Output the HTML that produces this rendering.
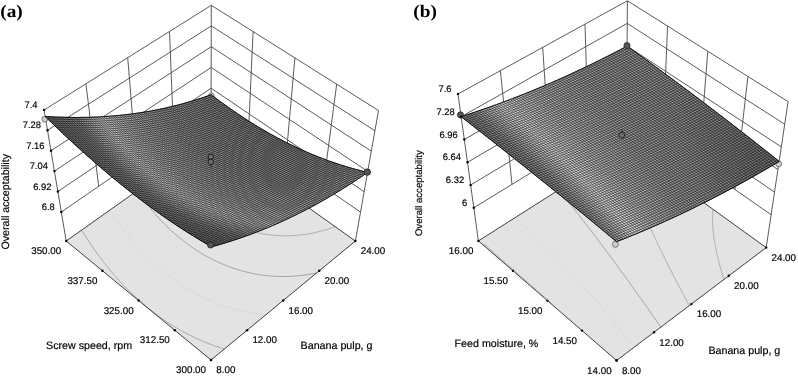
<!DOCTYPE html>
<html><head><meta charset="utf-8"><style>
html,body{margin:0;padding:0;background:#fff;}
svg{display:block;}
text{font-family:"Liberation Sans",Arial,sans-serif;fill:#000;stroke:#000;stroke-width:0.18px;text-rendering:geometricPrecision;}
.t{font-size:9.4px;}
.t2{font-size:9.8px;}
.t3{font-size:10.7px;}
.t4{font-size:10.7px;}
.t5{font-size:9.6px;}
.lab{font-family:"Liberation Serif","Times New Roman",serif;font-weight:bold;font-size:17.6px;stroke:none;}
</style></head><body>
<svg width="798" height="377" viewBox="0 0 798 377">
<rect width="798" height="377" fill="#fff"/>
<polygon points="211,360 355.4,241 211,138.5 66.2,241" fill="#e3e3e3" stroke="none"/>
<polyline points="224.4,349 222.3,348.3 220.2,347.7 218.1,347 216,346.3 213.5,345.4 211,344.5 209,343.7 207.1,343 205.1,342.2 202.3,341 200.3,340.2 198.4,339.3 195.9,338.2 193.8,337.1 192,336.3 189.3,334.9 187.5,334 184.8,332.6 183.1,331.6 180.5,330.2 178.7,329.2 176.2,327.7 174.5,326.7 172,325.1 169.6,323.5 167.9,322.5 165.5,320.9 163.1,319.2 161,317.7 159.2,316.5 156.9,314.8 154.6,313.1 152.4,311.3 150.1,309.6 147.9,307.8 145.7,306 143.6,304.2 141.5,302.3 139.4,300.5 137.3,298.6 135.2,296.7 133.8,295.4 131.8,293.5 129.8,291.6 127.9,289.7 126.4,288.2 124.6,286.4 122.7,284.4 121.3,282.8 119.6,281 117.7,279 116.5,277.6 114.7,275.6 113.5,274.2 111.7,272.1 110.4,270.5 108.8,268.6 107.5,267 105.9,265 104.8,263.6 103.1,261.5 102,260 100.4,257.8 99.3,256.4 98.2,254.9 96.6,252.7 95.6,251.2 94.4,249.6 93,247.5 91.9,246 90.9,244.5 89.4,242.3 88.4,240.7 87.5,239.2 86.3,237.4 85,235.4 84.1,233.9 83.1,232.3 82.2,230.8" fill="none" stroke="#909090" stroke-width="0.7"/>
<polyline points="265.9,314.8 263.4,314.5 261.3,314.3 259.6,314.1 257.2,313.8 254.8,313.4 252.4,313 250.4,312.7 248.4,312.3 246.4,311.9 244.3,311.5 242.1,311 239.9,310.4 237.7,309.9 235.5,309.3 233.4,308.7 231.3,308.1 228.9,307.4 226.4,306.5 224.1,305.8 222.1,305.1 220.1,304.3 218.1,303.6 215.5,302.5 213.3,301.6 211.4,300.8 209.2,299.9 206.8,298.8 205,297.9 202.3,296.6 200.5,295.7 197.9,294.3 196.1,293.4 193.5,291.9 191.8,291 189.3,289.5 187.6,288.5 185.2,287 182.8,285.4 180.7,284.1 178.8,282.8 176.4,281.2 174.1,279.5 171.9,277.9 169.6,276.2 167.4,274.5 165.2,272.7 163.1,271 160.9,269.2 158.8,267.4 156.7,265.6 154.7,263.7 152.7,261.9 151.3,260.6 149.4,258.7 147.4,256.8 145.6,255 144.2,253.6 142.3,251.6 141,250.2 139.3,248.3 137.4,246.3 136.2,245 134.5,242.9 133.3,241.6 131.6,239.5 130.4,238.1 128.7,236.1 127.6,234.7 126.2,232.9 124.9,231.1 123.8,229.7 122.2,227.6 121.1,226.1 120.1,224.7 118.5,222.5 117.5,221 116.5,219.6 115,217.5 114,215.9 113,214.4 112,212.9 110.7,210.7" fill="none" stroke="#d2d2d2" stroke-width="0.6"/>
<polyline points="316.7,272.9 314.7,273.3 312.3,273.8 309.8,274.2 307.8,274.6 306.1,274.8 303.5,275.2 301.1,275.5 299.5,275.7 296.9,275.9 294.8,276.1 292.7,276.2 290.3,276.4 288.5,276.4 285.9,276.5 284,276.5 281.7,276.5 279.5,276.5 277.6,276.4 274.9,276.3 273.1,276.2 271,276 268.5,275.8 266.3,275.6 264.6,275.4 262.3,275.1 259.9,274.8 257.5,274.4 255.2,274 253.2,273.6 251.2,273.2 249.1,272.7 247,272.2 244.8,271.6 242.5,271 240.2,270.4 237.8,269.7 235.8,269 233.7,268.3 231.7,267.7 229.8,266.9 227,265.9 224.9,265.1 223.1,264.3 220.7,263.3 218.4,262.3 216.6,261.4 213.9,260.1 212.2,259.2 209.6,257.9 207.8,257 205.3,255.6 203.6,254.6 201.2,253.1 198.7,251.6 196.5,250.2 194.8,249.1 192.4,247.5 190.2,245.9 187.9,244.3 185.7,242.6 183.5,240.9 181.3,239.2 179.2,237.5 177.1,235.7 175,234 173,232.2 171.7,231 169.7,229.1 167.8,227.3 165.8,225.4 164.6,224.1 162.7,222.2 161.4,220.9 159.7,219 157.9,217 156.7,215.7 154.9,213.7 153.8,212.3 152.2,210.5 151,208.9 149.8,207.6 148.2,205.5 147.1,204.1 145.7,202.2 144.5,200.6 143.5,199.2 142.1,197.2 140.9,195.6 139.9,194.2 138.9,192.6 137.5,190.5" fill="none" stroke="#888888" stroke-width="0.7"/>
<polyline points="335.1,226.6 333.1,227.4 331,228.1 328.9,228.8 326.8,229.5 324.6,230.1 322.4,230.7 320.1,231.3 317.8,231.9 315.5,232.4 313.6,232.9 311.7,233.2 309.5,233.7 307,234.1 304.7,234.4 303,234.6 300.6,234.9 298.2,235.2 296.6,235.3 293.8,235.5 292.1,235.6 289.5,235.7 287.7,235.8 285.1,235.8 283.5,235.8 280.8,235.7 278.8,235.6 276.9,235.5 274.3,235.3 272.1,235.1 270.3,234.9 268.2,234.6 265.8,234.3 263.4,233.9 261.1,233.5 258.9,233 256.7,232.5 254.5,232 252.3,231.5 250.2,230.9 248.2,230.3 246.1,229.7 244.1,229 242.1,228.4 239.4,227.4 237.3,226.6 235.4,225.8 233,224.8 230.8,223.8 229,223 226.4,221.7 224.6,220.9 222.1,219.5 220,218.4 217.9,217.2 215.5,215.7 213.1,214.3 211.6,213.3 209.2,211.7 207,210.2 204.8,208.6 202.6,206.9 200.4,205.3 198.3,203.6 196.3,201.9 194.4,200.3 192.9,198.9 190.9,197.2 189,195.3 187.7,194.1 185.8,192.3 184,190.4 182.8,189.1 181,187.2 179.8,185.9 178.1,184 177,182.7 175.3,180.7 174.2,179.3 173.1,177.9 171.5,175.9 170.5,174.6 169.3,173 167.9,171.1 166.9,169.7" fill="none" stroke="#999999" stroke-width="0.7"/>
<polygon points="211,360 355.4,241 211,138.5 66.2,241" fill="none" stroke="#2a2a2a" stroke-width="0.9"/>
<line x1="66.2" y1="241" x2="44.1" y2="110" stroke="#484848" stroke-width="0.9"/>
<line x1="211" y1="138.5" x2="211.3" y2="5.3" stroke="#484848" stroke-width="0.9"/>
<line x1="355.4" y1="241" x2="378.5" y2="110.5" stroke="#484848" stroke-width="0.9"/>
<polyline points="44.1,110 211.3,5.3 378.5,110.5" fill="none" stroke="#484848" stroke-width="0.9"/>
<polyline points="47.5,130.3 211.3,25.9 374.9,130.7" fill="none" stroke="#484848" stroke-width="0.9"/>
<polyline points="51,150.7 211.2,46.7 371.3,151.1" fill="none" stroke="#484848" stroke-width="0.9"/>
<polyline points="54.4,171.1 211.2,67.4 367.7,171.4" fill="none" stroke="#484848" stroke-width="0.9"/>
<polyline points="57.9,191.5 211.1,88.2 364.1,191.7" fill="none" stroke="#484848" stroke-width="0.9"/>
<polyline points="61.3,212 211.1,109 360.5,212.1" fill="none" stroke="#484848" stroke-width="0.9"/>
<line x1="98.7" y1="186.2" x2="85.9" y2="83.8" stroke="#484848" stroke-width="0.9"/>
<line x1="323.2" y1="186.3" x2="336.7" y2="84.2" stroke="#484848" stroke-width="0.9"/>
<line x1="136.2" y1="160.5" x2="127.7" y2="57.6" stroke="#484848" stroke-width="0.9"/>
<line x1="285.8" y1="160.5" x2="294.9" y2="57.9" stroke="#484848" stroke-width="0.9"/>
<line x1="173.6" y1="134.7" x2="169.5" y2="31.5" stroke="#484848" stroke-width="0.9"/>
<line x1="248.4" y1="134.7" x2="253.1" y2="31.6" stroke="#484848" stroke-width="0.9"/>
<circle cx="44.8" cy="119.1" r="3.0" fill="#cfcfcf" stroke="#505050" stroke-width="0.7"/>
<circle cx="211.3" cy="96.0" r="3.0" fill="#cfcfcf" stroke="#505050" stroke-width="0.7"/>
<polygon points="211.6,246.8 213.8,246.2 216,245.6 218.1,245 220.3,244.4 222.4,243.7 224.5,243.1 226.7,242.4 228.8,241.8 230.9,241.1 233,240.4 235.2,239.7 237.3,239 239.4,238.3 241.5,237.6 243.6,236.8 245.7,236.1 247.8,235.4 249.9,234.6 252,233.8 254,233 256.1,232.2 258.2,231.4 260.3,230.6 262.3,229.8 264.4,229 266.5,228.1 268.5,227.3 270.6,226.4 272.6,225.5 274.7,224.7 276.7,223.8 278.8,222.9 280.8,221.9 282.9,221 284.9,220.1 286.9,219.1 289,218.2 291,217.2 293,216.2 295.1,215.3 297.1,214.3 299.1,213.2 301.1,212.2 303.2,211.2 305.2,210.2 307.2,209.1 309.2,208 311.2,207 313.3,205.9 315.3,204.8 317.3,203.7 319.3,202.6 321.3,201.4 323.3,200.3 325.3,199.2 327.3,198 329.3,196.8 331.4,195.6 333.4,194.4 335.4,193.2 337.4,192 339.4,190.8 341.4,189.6 343.4,188.3 345.4,187.1 347.4,185.8 349.4,184.5 351.4,183.2 353.4,181.9 355.5,180.6 357.5,179.3 359.5,177.9 361.5,176.6 363.5,175.2 365.5,173.8 367.5,172.5 367.5,172.5 365.3,171.9 363.1,171.4 360.9,170.8 358.8,170.2 356.6,169.6 354.4,169 352.2,168.4 350.1,167.8 347.9,167.2 345.8,166.5 343.6,165.9 341.5,165.2 339.3,164.5 337.2,163.8 335.1,163.1 333,162.3 330.9,161.6 328.7,160.9 326.6,160.1 324.5,159.3 322.4,158.5 320.3,157.7 318.2,156.9 316.2,156.1 314.1,155.2 312,154.4 309.9,153.5 307.9,152.6 305.8,151.7 303.7,150.8 301.7,149.9 299.6,148.9 297.6,148 295.5,147 293.5,146.1 291.4,145.1 289.4,144.1 287.3,143.1 285.3,142 283.3,141 281.2,139.9 279.2,138.9 277.2,137.8 275.2,136.7 273.1,135.6 271.1,134.5 269.1,133.4 267.1,132.2 265.1,131 263.1,129.9 261.1,128.7 259.1,127.5 257.1,126.3 255,125.1 253,123.8 251,122.6 249,121.3 247,120 245,118.7 243,117.4 241,116.1 239,114.8 237,113.4 235.1,112.1 233.1,110.7 231.1,109.3 229.1,107.9 227.1,106.5 225.1,105.1 223.1,103.7 221.1,102.2 219.1,100.7 217.1,99.3 215.1,97.8 213.1,96.3 211.1,94.7 211.1,94.7 209.1,95.5 207.1,96.2 205.1,96.9 203.1,97.6 201.1,98.2 199,98.9 197,99.5 195,100.2 193,100.8 190.9,101.4 188.9,102 186.9,102.6 184.8,103.2 182.8,103.8 180.7,104.3 178.7,104.9 176.6,105.4 174.6,105.9 172.5,106.4 170.4,106.9 168.4,107.4 166.3,107.9 164.2,108.3 162.1,108.8 160,109.2 157.9,109.7 155.8,110.1 153.7,110.5 151.6,110.9 149.5,111.3 147.3,111.6 145.2,112 143.1,112.3 141,112.7 138.8,113 136.7,113.3 134.5,113.6 132.3,113.9 130.2,114.2 128,114.5 125.8,114.7 123.6,115 121.4,115.2 119.3,115.4 117,115.6 114.8,115.8 112.6,116 110.4,116.2 108.2,116.3 105.9,116.5 103.7,116.6 101.4,116.8 99.2,116.9 96.9,117 94.7,117.1 92.4,117.2 90.1,117.3 87.8,117.3 85.5,117.4 83.2,117.4 80.9,117.4 78.6,117.5 76.2,117.5 73.9,117.5 71.5,117.4 69.2,117.4 66.8,117.4 64.5,117.3 62.1,117.3 59.7,117.2 57.3,117.1 54.9,117 52.5,116.9 50.1,116.8 47.6,116.7 45.2,116.5 45.2,116.5 47.5,118.7 49.8,120.9 52,123.1 54.3,125.3 56.6,127.5 58.8,129.6 61.1,131.7 63.3,133.8 65.6,135.9 67.8,138 70.1,140.1 72.3,142.2 74.5,144.2 76.8,146.2 79,148.3 81.2,150.3 83.4,152.2 85.6,154.2 87.8,156.2 90.1,158.1 92.3,160.1 94.5,162 96.7,163.9 98.9,165.8 101.1,167.7 103.3,169.6 105.4,171.4 107.6,173.3 109.8,175.1 112,176.9 114.2,178.7 116.4,180.5 118.5,182.3 120.7,184.1 122.9,185.8 125.1,187.5 127.2,189.3 129.4,191 131.6,192.7 133.7,194.4 135.9,196 138.1,197.7 140.2,199.4 142.4,201 144.5,202.6 146.7,204.2 148.9,205.8 151,207.4 153.2,209 155.3,210.5 157.5,212.1 159.7,213.6 161.8,215.2 164,216.7 166.1,218.2 168.3,219.6 170.4,221.1 172.6,222.6 174.8,224 176.9,225.5 179.1,226.9 181.2,228.3 183.4,229.7 185.6,231.1 187.7,232.5 189.9,233.8 192.1,235.2 194.2,236.5 196.4,237.8 198.6,239.2 200.8,240.5 202.9,241.7 205.1,243 207.3,244.3 209.5,245.6 211.6,246.8" fill="#a0a0a0" stroke="none"/>
<path d="M254.9,125l-1.9-1.2 -1.9-1.2 -1.9-1.2 -1.9-1.2 -1.9-1.2 -1.9-1.3 -1.9-1.2 -1.9-1.3 -1.9-1.3 -1.9-1.3 -2-1.3 -1.9-1.3 -1.9-1.3 -1.9-1.4 -1.9-1.3 -1.9-1.4 -1.9-1.3 -1.9-1.4 -1.9-1.4 -1.9-1.4 1.4 1.6 1.6 1.5 1.6 1.5 1.6 1.5 1.7 1.4 1.7 1.5 1.8 1.4 1.8 1.4 1.8 1.3 1.9 1.3 1.9 1.3 1.9 1.3 2 1.2 2.1 1.2 2.1 1.2 2.1 1.2 1.9 .9 2.5 1.2 2.3 1 2.4 1z" fill="#8a8a8a" stroke="#8a8a8a" stroke-width="0.6"/>
<path d="M272.6,135.6l-1.7-1.2 -1.9-1.1 -1.9-1.1 -2-1.1 -1.9-1.1 -1.9-1.2 -1.9-1.1 -1.9-1.2 -1.9-1.1 -2.3-1 -2.3-1 -2.3-1.1 -2.2-1.1 -2.1-1.1 -2.1-1.2 -2.1-1.2 -2-1.2 -2-1.2 -1.9-1.3 -1.9-1.3 -1.8-1.4 -1.8-1.4 -1.8-1.4 -1.7-1.4 -1.7-1.4 -1.7-1.5 -1.6-1.5 -1.5-1.4 -1.6-1.7 -1.7-1.5 -1.9-1.4 -1.9-1.5 -2.5 .2 -1.9 .7 1 1.8 1.5 1.6 1.4 1.6 1.6 1.6 1.5 1.5 1.6 1.6 1.6 1.5 1.6 1.5 1.7 1.4 1.5 1.3 2 1.6 1.8 1.4 1.8 1.4 1.9 1.3 1.9 1.3 1.9 1.3 2 1.3 2 1.2 2.1 1.2 2.1 1.1 2.2 1.2 2.2 1 2.3 1.1 2.3 1 1.9 .8 2.1 .8 2.5 .9 2.5 .9 2.6 .8 2.7 .7 2.5 .7 2 .4 2 .5 1 .2z" fill="#8d8d8d" stroke="#8d8d8d" stroke-width="0.6"/>
<path d="M284.9,142l-1.8-1.1 -1.9-1 -1.9-1 -2-1 -1.9-1.1 -1.9-1 -2-.5 -2.7-.6 -2.8-.6 -2.7-.8 -2.4-.7 -1.9-.6 -2.5-.9 -2.5-.9 -2.4-1 -2.2-.9 -2.4-1.1 -2.3-1.1 -2.1-1.1 -2.2-1.1 -2.1-1.2 -2-1.2 -2-1.3 -2-1.2 -1.9-1.4 -1.9-1.3 -1.8-1.3 -1.8-1.4 -1.8-1.4 -1.7-1.5 -1.7-1.4 -1.7-1.5 -1.6-1.5 -1.6-1.5 -1.5-1.6 -1.5-1.5 -1.5-1.7 -1.5-1.6 -1.4-1.6 -2 0 -2 .6 -.3 2.3 1.5 1.6 1.4 1.6 1.5 1.6 1.6 1.6 1.5 1.6 1.6 1.5 1.6 1.5 1.7 1.5 1.7 1.5 1.7 1.4 1.6 1.4 1.9 1.5 1.9 1.4 1.8 1.3 1.9 1.3 2 1.3 2 1.3 2 1.2 2.1 1.2 2.1 1.2 2.1 1.2 2.2 1.1 2.3 1.1 2.3 1 2 .9 1.9 .8 2.5 .9 2.4 .9 2.6 .8 2.6 .8 2.7 .8 2.8 .7 2 .5 2.7 .5 2 .4 2 .3 2.1 .3 2.1 .3 2.1 .2 2.2 .2 1.1 .1z" fill="#8f8f8f" stroke="#8f8f8f" stroke-width="0.6"/>
<path d="M294.6,146.8l-1.7-1 -2-1 -1.9-.9 -2-1 -2.1-.9 -2.2-.2 -2.2-.2 -2.1-.2 -2.1-.3 -2-.3 -2-.4 -2.9-.6 -2.8-.6 -2.1-.5 -2.1-.6 -2.2-.6 -2.5-.8 -2.6-.9 -2.5-.9 -2.4-1 -2.4-1 -2.3-1 -2.2-1 -2.1-1.1 -2.3-1.2 -2.1-1.2 -1.9-1 -2.3-1.4 -2-1.2 -1.9-1.3 -1.9-1.4 -1.9-1.3 -1.9-1.4 -1.8-1.4 -1.7-1.4 -1.8-1.4 -1.7-1.5 -1.6-1.5 -1.7-1.5 -1.6-1.5 -1.5-1.6 -1.6-1.5 -1.5-1.6 -1.4-1.7 -1.5-1.6 -1.4-1.6 -2.6 .1 -1.9 .6 .5 2 1.4 1.7 1.4 1.6 1.5 1.6 1.4 1.5 1.7 1.7 1.5 1.6 1.6 1.5 1.7 1.5 1.6 1.5 1.7 1.5 1.8 1.5 1.7 1.4 1.8 1.4 1.8 1.4 1.9 1.4 1.9 1.3 2 1.3 1.9 1.3 2.1 1.2 2 1.3 2.1 1.2 2.2 1.1 2.2 1.2 2.2 1.1 2.3 1 2.3 1.1 2.4 1 2.4 .9 2.5 .9 2.5 .9 2.6 .8 2.5 .7 2 .6 2.2 .5 2 .5 2.4 .5 3 .6 2 .3 2 .3 2.1 .3 2.2 .2 2.2 .2 2.2 .2 2.3 .1 2.3 .1 2.4 0 2.5 0z" fill="#929292" stroke="#929292" stroke-width="0.6"/>
<path d="M303.1,150.7l-1.8-1 -1.9-.9 -2-.9 -1.9-.9 -2.1-.2 -2.4 0 -2.5 0 -2.3-.1 -2.2-.2 -2.2-.2 -2.2-.2 -2.1-.3 -2.1-.2 -2-.4 -2-.3 -2.5-.5 -2.4-.5 -2.8-.7 -2.7-.7 -2.5-.7 -2.4-.8 -2.1-.7 -2.5-.9 -2.4-.9 -2.4-1 -2.4-1 -2.3-1.1 -1.8-.9 -1.9-.9 -2.1-1.2 -2.2-1.1 -2.1-1.2 -2-1.3 -2-1.2 -2-1.3 -1.9-1.3 -1.9-1.4 -1.9-1.4 -1.8-1.4 -1.8-1.4 -1.7-1.4 -1.7-1.5 -1.7-1.5 -1.6-1.4 -1.7-1.6 -1.6-1.6 -1.6-1.5 -1.5-1.6 -1.5-1.6 -1.4-1.7 -1.5-1.6 -1.3-1.5 -2.1-1 -1.9 .6 -.4 2.3 1.4 1.7 1.4 1.6 1.5 1.7 1.5 1.6 1.5 1.6 1.6 1.6 1.5 1.5 1.7 1.6 1.6 1.5 1.7 1.5 1.7 1.5 1.7 1.5 1.8 1.4 1.8 1.4 1.8 1.4 1.9 1.4 1.9 1.3 1.9 1.4 2 1.2 2 1.3 2.1 1.3 2.1 1.2 2.1 1.2 2.2 1.1 1.9 1 1.8 .9 2.3 1 2.4 1 2.4 1 2.4 1 2.2 .8 2 .7 2.6 .8 2.6 .8 2.4 .7 2.1 .5 2 .5 1.9 .4 2.9 .6 2 .4 2 .3 2 .3 2.2 .3 2.2 .2 2 .2 2.4 .2 2 .1 2.6 .1 2.4 .1 2.5-.1 2 0 2.6-.1 2.4-.1 2.1-.2z" fill="#949494" stroke="#949494" stroke-width="0.6"/>
<path d="M310,154.1l-2.1-1.5 -2-.8 -1.9-.9 -2.2-.1 -2.7 .2 -2.6 .1 -2.5 0 -2.5 .1 -2.2-.1 -2.5-.1 -2.3-.1 -2.3-.2 -2.1-.2 -2.2-.2 -2.1-.3 -2.1-.3 -2-.3 -2-.4 -2.9-.6 -1.9-.4 -2-.5 -2.1-.5 -2.2-.6 -2.4-.7 -2.1-.7 -2.6-.9 -2.5-.9 -2.4-1 -2.4-1 -2.4-1 -2.3-1 -1.8-.9 -1.9-1 -2.2-1.1 -2.1-1.2 -2.1-1.2 -2.1-1.3 -2-1.3 -2-1.2 -1.9-1.4 -1.9-1.3 -1.9-1.4 -1.8-1.4 -1.8-1.4 -1.8-1.4 -1.7-1.5 -1.7-1.5 -1.7-1.5 -1.6-1.5 -1.7-1.6 -1.5-1.5 -1.6-1.6 -1.5-1.6 -1.5-1.6 -1.5-1.7 -1.4-1.6 -1.4-1.7 -1.4-1.7 -2.1 .6 -1.9 .6 .7 1.9 1.4 1.7 1.5 1.6 1.4 1.7 1.5 1.6 1.5 1.7 1.5 1.6 1.6 1.6 1.6 1.5 1.6 1.6 1.7 1.5 1.7 1.5 1.7 1.5 1.7 1.5 1.8 1.4 1.8 1.4 1.9 1.4 1.8 1.4 2 1.4 1.9 1.3 2 1.3 2 1.3 2.1 1.2 2 1.3 2.2 1.1 2.2 1.2 2.2 1.2 2.2 1.1 2.3 1 2.4 1.1 2.4 1 2.4 .9 2.5 1 2.5 .9 2.6 .8 2.7 .8 2.7 .8 2.5 .6 2 .5 2.1 .4 3 .6 2 .4 2 .3 2.1 .3 2.1 .2 2.2 .3 2.2 .2 2.2 .1 2.3 .2 2.3 0 2.5 .1 2.5 0 2.5-.1 2.6-.1 2.7-.1 2.6-.3 2.3-.2 2.1-.2 1.5-.2z" fill="#969696" stroke="#969696" stroke-width="0.6"/>
<path d="M317.7,156.8l-1.9-.9 -2-.8 -2-.8 -3.1-.1 -2.3 .3 -2.2 .2 -2.5 .2 -2.5 .2 -2.5 .1 -2.6 .1 -2.7 0 -2.6-.1 -2.4 0 -2-.2 -2.5-.1 -2.1-.2 -2.3-.3 -2.1-.2 -2.1-.3 -2-.3 -2-.4 -2-.4 -2.9-.6 -2.2-.5 -2-.5 -2.2-.6 -2.3-.7 -2.2-.7 -2.6-.8 -2.5-.9 -2.5-1 -2.4-1 -2.4-1 -2.4-1 -2.2-1.1 -2.3-1.1 -2.2-1.2 -2.1-1.1 -1.9-1.1 -2.3-1.4 -2.1-1.2 -2-1.3 -1.9-1.3 -2-1.4 -1.9-1.3 -1.8-1.4 -1.9-1.4 -1.8-1.5 -1.7-1.4 -1.8-1.5 -1.7-1.5 -1.7-1.5 -1.6-1.5 -1.6-1.6 -1.6-1.6 -1.6-1.6 -1.5-1.6 -1.5-1.6 -1.5-1.7 -1.4-1.6 -1.4-1.7 -1.4-1.7 -2.3-.8 -1.9 .6 .1 2.1 1.4 1.7 1.5 1.6 1.4 1.7 1.5 1.7 1.5 1.6 1.5 1.6 1.5 1.6 1.6 1.6 1.6 1.6 1.7 1.6 1.6 1.5 1.7 1.5 1.8 1.5 1.7 1.5 1.8 1.4 1.8 1.4 1.9 1.4 1.9 1.4 1.9 1.4 1.9 1.3 2 1.3 2 1.3 2.1 1.3 2.1 1.2 2.1 1.2 2.2 1.2 2.2 1.2 2.2 1.1 2.3 1.1 2.3 1 2.4 1 2.5 1 2.4 1 2.6 .9 2.5 .9 2.7 .8 2.7 .8 2.4 .7 2.1 .5 2 .4 2.9 .7 2 .4 2 .3 2 .3 2.1 .3 2.1 .3 2.2 .3 2.2 .2 2.2 .1 2.3 .2 2.3 .1 2.4 0 2.5 .1 2.1-.1 2.5 0 2.6-.2 2.4-.1 2.2-.2 2.6-.3 2.3-.2 2.3-.3 2.2-.4 2.1-.4 2-.3z" fill="#979797" stroke="#979797" stroke-width="0.6"/>
<path d="M323,159.5l-1.9-1.5 -2-.8 -2.3-.3 -2.1 .4 -2.2 .4 -2.3 .3 -2.3 .3 -2.3 .3 -2.4 .2 -2.4 .2 -2 .1 -2.6 .1 -2.6 .1 -2.5 0 -2-.1 -2.7-.1 -2.4-.1 -2.1-.1 -2.3-.2 -2.2-.3 -2.2-.2 -2.1-.3 -2-.3 -2-.4 -2-.3 -2-.4 -2.9-.7 -2.8-.7 -2.5-.6 -2-.6 -2.6-.8 -2.4-.8 -2-.7 -2.5-.9 -2.5-1 -2.4-1 -2.3-1 -2.4-1.1 -2-1 -2.5-1.2 -2.2-1.2 -2.1-1.2 -2.1-1.2 -2.1-1.2 -2.1-1.3 -2-1.3 -1.9-1.3 -2-1.4 -1.9-1.3 -1.8-1.4 -1.9-1.4 -1.8-1.5 -1.8-1.4 -1.7-1.5 -1.7-1.5 -1.7-1.5 -1.7-1.6 -1.6-1.5 -1.6-1.6 -1.6-1.6 -1.4-1.4 -1.6-1.8 -1.5-1.7 -1.5-1.6 -1.4-1.7 -1.4-1.7 -1.4-1.7 -2.3-.8 -2 .5 .4 2 1.4 1.8 1.4 1.7 1.4 1.6 1.5 1.7 1.5 1.7 1.5 1.6 1.5 1.6 1.6 1.6 1.6 1.6 1.6 1.6 1.6 1.6 1.7 1.5 1.7 1.5 1.8 1.5 1.7 1.5 1.8 1.4 1.9 1.5 1.8 1.4 1.9 1.4 1.9 1.3 2 1.4 2 1.3 2 1.3 2 1.3 2.1 1.2 2.2 1.2 2.1 1.2 2.2 1.2 2.3 1.1 2.3 1.1 2.3 1.1 2.4 1 2.4 1.1 1.9 .7 2.2 .8 2.5 1 2.6 .8 2.7 .9 2.5 .7 2 .5 2.3 .6 2 .5 2.4 .5 1.9 .4 2 .4 2.1 .3 2 .4 2.1 .2 2.2 .3 2.2 .2 2.2 .2 2.2 .2 2.3 .1 2.4 .1 2.4 .1 2.5 0 2 0 2.6-.1 2.5-.1 2.5-.2 2.2-.2 2.5-.3 2.3-.2 2.3-.3 2.2-.4 2.2-.3 2-.4 2.3-.5 2.1-.4 .7-.2z" fill="#999999" stroke="#999999" stroke-width="0.6"/>
<path d="M328.9,161.8l-1.8-1.5 -2-.8 -2.1 0 -2.8 .6 -2.1 .5 -2.2 .4 -2.2 .3 -2 .3 -2.5 .4 -2 .2 -2.6 .3 -2.4 .2 -2.5 .2 -2 .1 -2.6 0 -2.5 .1 -2.5 0 -2.3-.1 -2.5-.1 -2.3-.1 -2.2-.2 -2.2-.2 -2.2-.2 -2.2-.3 -2.1-.2 -2-.4 -2.1-.3 -2-.4 -1.9-.4 -2.4-.5 -2-.5 -2.1-.5 -2-.6 -2.4-.7 -2.1-.6 -2.6-.8 -2.6-.9 -2.5-1 -2.4-.9 -2.4-1.1 -2.2-.9 -2.5-1.2 -2.3-1.1 -2.3-1.1 -2.2-1.2 -2.1-1.2 -2.2-1.2 -1.8-1.1 -2.3-1.4 -2-1.3 -2-1.3 -2-1.4 -1.9-1.3 -1.9-1.4 -1.8-1.4 -1.9-1.5 -1.8-1.4 -1.7-1.5 -1.8-1.5 -1.6-1.4 -1.8-1.6 -1.6-1.6 -1.6-1.6 -1.6-1.6 -1.6-1.6 -1.4-1.5 -1.6-1.7 -1.5-1.7 -1.5-1.7 -1.4-1.6 -1.4-1.7 -1.4-1.8 -1.4-1.7 -2.2 .6 -2 .5 1.3 1.7 1.4 1.8 1.4 1.7 1.4 1.7 1.5 1.7 1.5 1.6 1.5 1.7 1.5 1.6 1.5 1.7 1.6 1.6 1.6 1.6 1.7 1.5 1.6 1.6 1.7 1.5 1.7 1.5 1.8 1.5 1.8 1.5 1.8 1.5 1.8 1.4 1.9 1.4 1.9 1.4 1.9 1.4 2 1.3 2 1.4 2 1.3 2 1.3 2.1 1.2 2.2 1.2 2.1 1.2 2.2 1.2 2.3 1.2 2.2 1.1 2.4 1.1 2.3 1 2.4 1.1 2.5 .9 2.5 1 2.5 .9 2.6 .9 2.7 .8 2.4 .7 2.1 .6 2.2 .6 2 .5 2 .4 2.4 .5 2 .4 2 .4 2.1 .3 2.1 .3 2.1 .3 2.1 .3 2.2 .2 2.3 .2 2.3 .1 2.3 .1 2 .1 2.8 .1 2.5 0 2.5-.1 2.6-.1 2.7-.1 2.5-.2 2.4-.2 2-.3 2.6-.3 2.3-.3 2.2-.4 2.1-.3 2.2-.4 2.1-.5 2.1-.4 2-.5 2.1-.5 1.5-.4z" fill="#9a9a9a" stroke="#9a9a9a" stroke-width="0.6"/>
<path d="M335.6,163.5l-2.4-1.1 -2-.7 -2.3 .1 -2.5 .7 -2.1 .4 -2 .5 -2.1 .5 -2.1 .4 -2.2 .4 -2.2 .3 -2.2 .4 -2.3 .3 -2.3 .2 -2.4 .3 -2.4 .2 -2.5 .1 -2.5 .2 -2.6 0 -2.7 .1 -2.5-.1 -2.4 0 -2.4-.1 -2.3-.1 -2.3-.2 -2.2-.2 -2.1-.3 -2.2-.2 -2.1-.3 -2.1-.3 -2-.4 -2-.4 -2-.4 -2.9-.6 -2.5-.6 -2.1-.5 -2.2-.7 -2.3-.6 -1.9-.6 -2.6-.9 -2.6-.9 -2.5-.9 -2.4-1 -2.5-1 -2.3-1.1 -2.4-1 -2.3-1.2 -2.2-1.1 -1.8-.9 -1.9-1 -2.2-1.3 -2.1-1.2 -2.1-1.3 -2-1.3 -2-1.3 -2-1.3 -1.9-1.4 -2-1.3 -1.8-1.4 -1.9-1.5 -1.8-1.4 -1.8-1.5 -1.8-1.5 -1.7-1.5 -1.7-1.4 -1.7-1.6 -1.7-1.6 -1.6-1.6 -1.6-1.6 -1.6-1.6 -1.5-1.6 -1.5-1.6 -1.5-1.7 -1.4-1.5 -1.6-1.9 -1.4-1.7 -1.4-1.7 -1.3-1.8 -2.2-.8 -2 .5 .5 1.9 1.3 1.8 1.4 1.7 1.5 1.7 1.4 1.7 1.5 1.7 1.5 1.7 1.5 1.7 1.5 1.6 1.6 1.6 1.6 1.6 1.6 1.6 1.7 1.6 1.6 1.5 1.8 1.6 1.7 1.5 1.7 1.5 1.8 1.5 1.8 1.4 1.9 1.5 1.9 1.4 1.9 1.4 1.9 1.4 2 1.3 2 1.4 2 1.3 1.7 1.1 1.7 1 2.2 1.3 2.1 1.2 2.2 1.2 2.2 1.2 2.3 1.1 2.3 1.1 2.4 1.1 2.3 1 2.5 1 2.4 1 2.6 1 2.5 .9 2.6 .9 2.7 .8 2.7 .8 2.6 .7 2 .5 2 .5 2 .4 2.9 .6 2 .4 2.1 .3 1.9 .3 2.3 .3 2.1 .3 2.2 .2 2.2 .2 2.3 .2 2.3 .1 2.1 .1 2.6 .1 2.5 0 2.5 0 2.5-.1 2.7-.1 2.7-.1 2.7-.2 2.4-.3 2.4-.2 2.2-.3 2.3-.4 2.2-.3 2.2-.4 2.1-.4 2.1-.5 2.1-.4 2.1-.5 2-.5 1.9-.5 2-.6 1.9-.5 1.5-.5z" fill="#9b9b9b" stroke="#9b9b9b" stroke-width="0.6"/>
<path d="M340.9,165.4l-2.3-1.2 -2-.6 -2.5 .4 -1.9 .5 -2 .6 -1.9 .5 -2 .5 -2.1 .5 -2.1 .4 -2.1 .5 -2.1 .4 -2.2 .4 -2.2 .3 -2.1 .3 -2.4 .4 -2.4 .2 -2.4 .3 -2.4 .1 -2.5 .2 -2.5 .1 -2.6 .1 -2.7 0 -2.7 0 -2.6-.1 -2.3-.1 -2.3-.1 -2.3-.2 -2.2-.2 -2.2-.2 -2.1-.3 -2.2-.3 -2-.3 -2.1-.3 -2-.4 -2-.4 -2.9-.6 -2-.5 -2-.5 -2.2-.6 -2.2-.6 -2.3-.8 -2.1-.6 -2.6-.9 -2.6-.9 -2.5-1 -2.4-1 -2.5-1 -2.3-1.1 -2.4-1.1 -2-1 -2.5-1.2 -2.2-1.2 -2.2-1.2 -2.1-1.2 -2.2-1.3 -2-1.3 -2.1-1.3 -2-1.3 -2-1.4 -1.9-1.3 -1.9-1.4 -1.9-1.4 -1.8-1.5 -1.9-1.4 -1.8-1.5 -1.7-1.5 -1.8-1.5 -1.7-1.5 -1.7-1.6 -1.6-1.5 -1.7-1.6 -1.5-1.6 -1.6-1.7 -1.6-1.6 -1.5-1.6 -1.5-1.7 -1.5-1.7 -1.5-1.7 -1.4-1.7 -1.4-1.7 -1.4-1.8 -1.3-1.7 -2.2-.2 -2 .4 1 1.9 1.4 1.8 1.4 1.7 1.4 1.7 1.4 1.7 1.5 1.7 1.5 1.7 1.5 1.7 1.5 1.7 1.6 1.6 1.6 1.6 1.6 1.6 1.6 1.6 1.7 1.6 1.7 1.5 1.7 1.6 1.7 1.5 1.8 1.5 1.8 1.5 1.8 1.5 1.9 1.4 1.9 1.4 1.9 1.4 1.9 1.4 2 1.4 2 1.3 2 1.3 2.1 1.3 2.1 1.3 2.1 1.2 2.2 1.3 2.2 1.2 1.8 .9 1.9 1 2.3 1.1 2.4 1.1 2.4 1.1 2.4 1 2.5 1 2.5 1 2.5 .9 2.6 .9 2.7 .8 2.7 .8 2.4 .7 2.1 .6 2 .5 2 .4 2.9 .6 2 .4 2 .4 2.1 .3 2 .4 2.2 .3 2.1 .2 2.1 .2 2.3 .3 2.3 .1 2.3 .2 2.1 .1 2.7 .1 2.4 0 2.5 0 2.6-.1 2.6-.1 2.7-.2 2.7-.2 2.5-.2 2.3-.2 2.3-.3 2.3-.4 2.2-.3 2.2-.4 2.2-.4 2.1-.4 2.1-.5 2.1-.4 2-.5 2-.5 2-.6 1.9-.5 2-.6 2.8-.9 2.2-.7z" fill="#9c9c9c" stroke="#9c9c9c" stroke-width="0.6"/>
<path d="M344.6,167.6l2.1-.8 -2-.6 -2-.6 -2.1-.1 -2.8 .9 -2.9 .9 -1.9 .6 -2 .5 -2 .5 -2 .5 -2 .5 -2.1 .5 -2.1 .4 -2.1 .4 -2.3 .4 -2.2 .4 -2.2 .3 -2.3 .3 -2.3 .3 -2.3 .2 -2.5 .2 -2.5 .2 -2.5 .1 -2.6 .1 -2.6 .1 -2.8 0 -2.6-.1 -2.4-.1 -2-.1 -2.6-.1 -2.3-.2 -2.2-.3 -2.2-.2 -2.1-.3 -2.1-.3 -2.1-.3 -2-.4 -2-.4 -2-.4 -2.9-.6 -2.9-.7 -2.2-.6 -2.2-.6 -2-.6 -2.7-.8 -2.5-.9 -2.7-.9 -2.5-1 -2.5-1 -2.4-1 -2.4-1 -2.4-1.1 -2.3-1.1 -2.3-1.2 -2.2-1.1 -2.2-1.2 -2.2-1.3 -2.1-1.2 -2.1-1.3 -2.1-1.3 -2-1.3 -2-1.3 -2-1.4 -1.9-1.4 -1.9-1.4 -1.9-1.4 -1.9-1.4 -1.8-1.5 -1.8-1.5 -1.8-1.5 -1.7-1.5 -1.7-1.6 -1.7-1.5 -1.7-1.6 -1.6-1.6 -1.6-1.6 -1.6-1.6 -1.6-1.6 -1.5-1.7 -1.5-1.7 -1.5-1.7 -1.5-1.7 -1.4-1.6 -1.4-1.8 -1.4-1.7 -1.4-1.8 -1.3-1.8 -2.4 .5 -.3 2.2 1.4 1.7 1.4 1.8 1.4 1.7 1.4 1.8 1.5 1.7 1.5 1.7 1.5 1.7 1.5 1.6 1.6 1.7 1.5 1.6 1.6 1.7 1.7 1.6 1.6 1.6 1.7 1.5 1.7 1.6 1.7 1.5 1.8 1.5 1.7 1.6 1.9 1.4 1.8 1.5 1.9 1.5 1.8 1.4 2 1.4 1.9 1.4 2 1.3 2 1.4 2 1.3 2.1 1.3 2.1 1.3 2.2 1.2 2.1 1.3 2.2 1.2 2.3 1.1 1.9 1 1.9 .9 2.1 1.1 2.6 1.1 2.4 1.1 2.5 1 2.2 .8 2 .8 2.6 .9 2.6 .9 2.7 .8 2.6 .8 2 .5 2.3 .7 2 .5 2 .4 2.3 .5 2 .4 2 .4 2 .3 2.1 .4 2.1 .3 2.2 .2 2.2 .3 2.1 .2 2.4 .2 2.1 .1 2.5 .2 2.4 .1 2.2 0 2.7 0 2.5 0 2.6-.1 2.7-.1 2.5-.2 2.5-.2 2.4-.2 2.3-.3 2.3-.3 2.2-.3 2.3-.3 2.2-.4 2.2-.4 2.1-.5 2.1-.4 2.1-.5 1.9-.5 2.1-.5 2-.5 2-.6 1.9-.5 2.9-.9 2.8-1 2.4-.8z" fill="#9e9e9e" stroke="#9e9e9e" stroke-width="0.6"/>
<path d="M351.1,168.6l-2.3-1.2 -2-.6 -2.2 .8 -2.2 .8 -2.1 .7 -2.2 .7 -2 .6 -1.9 .5 -2.6 .7 -2 .6 -2 .5 -2 .5 -2.1 .4 -2.1 .5 -2.2 .4 -2.2 .4 -2.2 .3 -2.2 .4 -2.3 .3 -2.3 .3 -2.4 .2 -2.2 .2 -2.7 .2 -2.5 .1 -2.6 .2 -2.6 0 -2.7 0 -2.4 0 -2.4-.1 -2.2-.1 -2.5-.1 -2.3-.2 -2.2-.2 -2.2-.2 -2.2-.3 -2.1-.3 -2.1-.3 -2.1-.3 -2-.4 -2-.4 -2-.4 -2.9-.7 -2.4-.5 -2.1-.6 -2.1-.6 -2.4-.7 -2.1-.6 -2.6-.9 -2.6-.9 -2.6-.9 -2.5-1 -2.5-1 -2.4-1.1 -2.4-1 -2.3-1.2 -1.9-.9 -1.9-1 -2.3-1.1 -2.2-1.2 -2.1-1.3 -2.2-1.2 -2.1-1.3 -2.1-1.3 -2-1.3 -2-1.4 -2-1.3 -1.9-1.4 -2-1.4 -1.8-1.4 -1.9-1.5 -1.8-1.5 -1.7-1.3 -1.9-1.7 -1.8-1.5 -1.7-1.5 -1.7-1.6 -1.7-1.5 -1.6-1.6 -1.7-1.6 -1.6-1.7 -1.5-1.6 -1.6-1.7 -1.4-1.5 -1.6-1.8 -1.5-1.7 -1.5-1.7 -1.4-1.8 -1.4-1.7 -1.4-1.8 -1.4-1.7 -1.3-1.8 -2.3 .5 -.2 2.1 1.3 1.8 1.3 1.7 1.5 1.8 1.4 1.7 1.5 1.8 1.4 1.7 1.5 1.7 1.6 1.7 1.5 1.6 1.6 1.7 1.6 1.6 1.6 1.6 1.6 1.6 1.7 1.6 1.7 1.6 1.7 1.6 1.7 1.5 1.8 1.5 1.8 1.5 1.8 1.5 1.9 1.5 1.8 1.5 1.9 1.4 2 1.4 1.8 1.3 2.1 1.5 2 1.3 2.1 1.3 2 1.3 2.2 1.3 1.9 1.2 2.4 1.3 2.2 1.2 2.2 1.2 2.3 1.2 2.3 1.1 2.4 1.1 2.4 1.1 2.4 1 2.1 .9 2 .8 2.6 .9 2.6 1 2.6 .8 2.7 .9 2.7 .8 2.3 .6 2.1 .6 2.1 .5 1.9 .5 2.1 .4 2 .4 2 .4 2.1 .4 2.1 .3 2.1 .3 2.1 .3 2.2 .2 2.2 .3 2.2 .2 2.3 .1 2.4 .2 2.2 .1 2.5 0 2.5 .1 2.5 0 2.1-.1 2.6-.1 2.5-.1 2.1-.1 2.7-.3 2.5-.2 2.4-.3 2.3-.3 2.3-.3 2.2-.4 2.2-.3 2.2-.4 2.1-.5 2.1-.4 2.1-.5 2-.5 2-.5 2-.5 2-.6 1.9-.6 1.9-.5 2.9-1 2.3-.8 2.3-.8 2.3-.8 2.2-.9 .2 0z" fill="#9f9f9f" stroke="#9f9f9f" stroke-width="0.6"/>
<path d="M355.8,170l-2.2-1.2 -2.5-.2 -2 .7 -2.7 1 -2.3 .8 -2.2 .8 -2 .7 -2.1 .6 -2 .6 -1.9 .6 -2.8 .7 -2 .5 -2 .5 -2.1 .5 -2.1 .4 -2.1 .5 -2.2 .4 -2 .3 -2.4 .4 -2.2 .3 -2.4 .3 -2 .3 -2.8 .2 -2.4 .2 -2.5 .2 -2.5 .1 -2.1 .1 -2.6 .1 -2.5 0 -2.2 0 -2.7-.1 -2.3-.1 -2.1-.1 -2.6-.2 -2-.2 -2.4-.3 -2.2-.2 -2.1-.3 -2.1-.3 -2.1-.3 -2.1-.4 -2-.4 -2-.4 -1.9-.4 -2.1-.5 -2.1-.5 -2.1-.6 -2.2-.6 -1.9-.5 -2.7-.9 -2.4-.8 -2-.6 -2.6-1 -2.5-.9 -2.5-1 -2.4-1.1 -2.4-1 -2.4-1.1 -1.9-1 -2-.9 -2.2-1.2 -2.3-1.2 -2.2-1.2 -2.1-1.2 -2.2-1.3 -2.1-1.3 -2-1.3 -2.1-1.3 -2-1.4 -1.9-1.4 -2-1.4 -1.9-1.4 -1.9-1.4 -1.9-1.5 -1.8-1.5 -1.8-1.5 -1.8-1.5 -1.8-1.5 -1.7-1.5 -1.7-1.6 -1.7-1.6 -1.6-1.6 -1.7-1.6 -1.6-1.6 -1.5-1.7 -1.6-1.6 -1.5-1.7 -1.6-1.7 -1.3-1.6 -1.6-1.8 -1.5-1.7 -1.4-1.8 -1.4-1.7 -1.3-1.8 -1.3-1.7 -2.1-1.1 -2 .4 .6 2 1.4 1.7 1.4 1.8 1.4 1.8 1.4 1.7 1.4 1.8 1.5 1.7 1.5 1.7 1.5 1.7 1.5 1.7 1.6 1.7 1.6 1.6 1.6 1.7 1.6 1.6 1.7 1.6 1.7 1.6 1.7 1.6 1.7 1.5 1.7 1.6 1.8 1.5 1.8 1.5 1.8 1.5 1.9 1.5 1.9 1.4 1.9 1.4 1.9 1.5 2 1.3 2 1.4 2 1.4 2.1 1.3 2.1 1.3 2.1 1.3 2.1 1.3 2.2 1.2 2.2 1.2 2.1 1.2 2.5 1.2 1.9 1 1.9 .9 1.9 .8 2.1 1 2.5 1 2 .8 2.1 .9 2.6 .9 2.6 1 2.6 .8 2.7 .9 2.7 .8 1.9 .5 2.4 .7 2 .5 2 .4 2.3 .5 2 .4 2 .4 2 .4 2.1 .3 2.1 .4 2.2 .2 2.1 .3 2.2 .3 2.3 .2 2.3 .1 2.3 .2 2.3 .1 2.4 .1 2.5 0 2.1 0 2.7 0 2.6-.1 2.5-.1 2.6-.1 2.4-.2 2.3-.2 2.5-.3 2.3-.3 2.3-.3 2.3-.4 2.2-.3 2.1-.4 2.3-.4 2.1-.5 2.1-.4 1.9-.5 2.2-.5 2-.5 2-.6 2-.5 1.9-.6 1.9-.6 2.8-.9 2.8-1 2.5-.9 2.1-.8 2.6-1 2.6-1.1 .1 0z" fill="#a1a1a1" stroke="#a1a1a1" stroke-width="0.6"/>
<path d="M361.1,171l-1.9-.7 -2.1-.5 -2.2 .6 -2.7 1 -2.6 1.1 -2.8 1 -2.7 .9 -2.3 .8 -2.1 .7 -2 .6 -1.9 .6 -2.3 .6 -2 .5 -2 .5 -2.1 .5 -2.1 .5 -2.1 .5 -2.1 .4 -2.2 .4 -2.2 .4 -2.2 .3 -2.3 .3 -2.3 .3 -2.3 .3 -2.5 .3 -2.4 .2 -2.1 .1 -2.6 .2 -2.7 .1 -2.6 0 -2.5 0 -2.4 0 -2.3 0 -2.6-.1 -2.3-.2 -2.3-.1 -2.3-.2 -2.2-.3 -2.2-.2 -2.1-.3 -2.1-.3 -2.1-.3 -2.1-.4 -2-.4 -2-.4 -2-.4 -2-.4 -2.9-.7 -2.5-.7 -2.1-.6 -2.4-.7 -2.2-.7 -2.6-.8 -2.6-.9 -2.6-1 -2.5-1 -2.5-1 -2.5-1 -2.1-1 -1.9-.8 -1.9-.9 -1.9-1 -2.3-1.2 -2.3-1.2 -2.2-1.2 -2.2-1.2 -2.1-1.3 -2.1-1.3 -2.1-1.3 -2.1-1.3 -2-1.4 -2-1.4 -2-1.3 -1.9-1.5 -1.9-1.4 -1.9-1.4 -1.9-1.5 -1.8-1.5 -1.8-1.5 -1.8-1.5 -1.7-1.6 -1.7-1.5 -1.7-1.6 -1.7-1.6 -1.7-1.6 -1.6-1.6 -1.6-1.7 -1.6-1.6 -1.6-1.7 -1.5-1.7 -1.5-1.7 -1.4-1.6 -1.6-1.8 -1.4-1.8 -1.4-1.7 -1.4-1.8 -1.4-1.8 -1.3-1.7 -1.4-1.9 -2 .4 -.4 2.2 1.3 1.8 1.4 1.7 1.4 1.8 1.3 1.7 1.6 1.8 1.4 1.8 1.5 1.7 1.4 1.6 1.7 1.8 1.5 1.7 1.6 1.7 1.6 1.6 1.6 1.6 1.6 1.7 1.7 1.6 1.7 1.6 1.7 1.5 1.5 1.4 2 1.8 1.8 1.5 1.8 1.5 1.8 1.4 1.9 1.6 1.9 1.4 1.9 1.4 2 1.5 2 1.4 2 1.3 2 1.4 2.1 1.3 2.1 1.3 2.1 1.3 2.1 1.3 2.2 1.3 2.2 1.2 2.3 1.2 2.3 1.1 2.2 1.1 2.5 1.2 2.4 1.1 2.3 1 2.6 1.1 2.5 1 2.5 1 2.6 .9 2.7 .9 2.6 .9 2.8 .8 2.5 .7 2.1 .6 2.1 .5 2 .5 2 .4 2.7 .6 2 .4 2.1 .4 2.1 .3 2.1 .3 2.1 .3 2.2 .3 2.1 .2 2.3 .3 2.3 .2 2.3 .1 2.1 .1 2.7 .1 2.4 .1 2.5 0 2.2 0 2.6-.1 2.6-.1 2.6-.1 2.5-.2 2.1-.2 2.7-.2 2.4-.3 2.2-.3 2.4-.3 2.2-.4 2.2-.4 2.2-.4 2.1-.4 2.2-.4 2.1-.5 2-.5 2.1-.5 2-.5 2-.6 1.9-.5 2-.6 1.9-.6 2.5-.8 2.1-.8 2.3-.8 2.3-.8 2.4-1 2.1-.8 2.6-1.1 2.6-1.1 .6-.3z" fill="#a4a4a4" stroke="#a4a4a4" stroke-width="0.6"/>
<path d="M364,172.9l1.9-.8 -2.6-.7 -2-.5 -2.6 1.1 -2.6 1.1 -2.6 1.1 -2.7 1 -2.3 .9 -2.2 .8 -2.2 .8 -2.2 .6 -2 .7 -2 .6 -2 .6 -2.1 .6 -2 .5 -2.1 .5 -2 .5 -2.1 .5 -2.2 .4 -2.1 .4 -2.2 .4 -2.2 .4 -2.2 .4 -2.3 .3 -2.3 .3 -2.2 .3 -2.6 .2 -2.4 .2 -2.1 .2 -2.7 .1 -2.6 .1 -2.6 .1 -2.5 0 -2.5 0 -2.2-.1 -2.6-.1 -2.4-.1 -2.3-.1 -2.3-.2 -2.2-.2 -2.2-.3 -2.2-.3 -2.1-.3 -2.1-.3 -2.1-.3 -2.1-.4 -2-.4 -2-.4 -1.9-.4 -2.8-.7 -2.1-.5 -2.1-.6 -2.2-.6 -2.2-.7 -2.5-.8 -1.9-.6 -2.7-.9 -2.5-1 -2.6-.9 -2.5-1 -2.4-1.1 -2.4-1.1 -2.4-1.1 -2.4-1.1 -2.3-1.1 -2.3-1.2 -2.2-1.2 -2.2-1.3 -2.2-1.2 -2.1-1.3 -2.1-1.3 -1.9-1.1 -2.3-1.6 -2-1.3 -2-1.4 -2-1.4 -1.9-1.4 -1.9-1.5 -1.9-1.4 -1.8-1.5 -1.9-1.5 -1.8-1.5 -1.8-1.6 -1.7-1.5 -1.8-1.6 -1.7-1.6 -1.7-1.6 -1.6-1.6 -1.6-1.6 -1.7-1.6 -1.5-1.7 -1.6-1.7 -1.6-1.7 -1.5-1.7 -1.5-1.7 -1.5-1.7 -1.4-1.7 -1.4-1.8 -1.4-1.6 -1.4-1.9 -1.4-1.8 -1.4-1.8 -1.8-1.1 -2 .4 .6 1.9 1.4 1.8 1.3 1.8 1.4 1.8 1.4 1.8 1.5 1.7 1.4 1.8 1.5 1.7 1.5 1.8 1.5 1.7 1.6 1.7 1.5 1.6 1.6 1.7 1.6 1.7 1.7 1.6 1.6 1.6 1.6 1.6 1.8 1.6 1.8 1.6 1.7 1.6 1.8 1.5 1.8 1.5 1.8 1.5 1.8 1.5 1.9 1.5 1.9 1.5 2 1.4 1.9 1.4 2 1.4 2 1.4 2.1 1.4 2 1.3 2.1 1.3 2.2 1.3 2.1 1.3 2.2 1.3 2.3 1.2 1.9 1 1.8 1 2.3 1.1 2.4 1.2 1.8 .8 2.2 1 2.4 1.1 2.1 .8 2.1 .9 2.5 .9 2.6 1 2.7 .9 2.7 .9 2.7 .8 2.5 .8 2.1 .5 2.2 .6 2 .5 2 .5 2.6 .5 2 .4 2 .4 2.1 .4 2.1 .3 2.1 .3 2.2 .3 2.2 .3 2.2 .2 2.2 .2 2.1 .2 2.5 .1 2.4 .2 2.4 0 2.5 .1 2.5 0 2.5 0 2.1-.1 2.6-.1 2.5-.1 2.2-.2 2.7-.2 2.4-.2 2.4-.3 2.3-.3 2.3-.3 2.3-.4 2.2-.4 2.2-.4 2.2-.4 2.1-.4 2.1-.5 2.1-.5 2-.5 2-.5 2-.6 2-.5 2-.6 1.9-.6 1.9-.6 2.8-1 2.3-.8 2.3-.8 2.3-.9 2.2-.8 2.6-1.1 2.6-1.1 2.6-1.2 .6-.3z" fill="#a7a7a7" stroke="#a7a7a7" stroke-width="0.6"/>
<path d="M356.4,179.3l2-.8 2.1-1.3 1.9-1.2 1.9-1.3 2-1.4 -2.1-.5 -2.5 1.2 -2.6 1.1 -2.6 1.1 -2.7 1.1 -2.7 1 -2.3 .8 -2.3 .8 -1.9 .7 -2.3 .7 -2 .7 -2 .6 -2 .5 -2.4 .7 -2 .5 -2 .5 -2.1 .5 -2.1 .5 -2.1 .4 -2.2 .4 -2.2 .4 -2.2 .4 -2.3 .4 -2 .3 -2.6 .3 -2.4 .3 -2.3 .2 -2.5 .2 -2.5 .2 -2.5 .1 -2.1 .1 -2.6 .1 -2.5 0 -2.2 0 -2.8-.1 -2.4 0 -2.4-.2 -2.3-.1 -2.3-.2 -2.2-.2 -2.2-.2 -2.2-.3 -2.2-.3 -2.1-.3 -2.1-.3 -2.1-.4 -2-.4 -2-.4 -2-.4 -2-.5 -2.6-.6 -2.1-.6 -1.9-.5 -2.5-.7 -2.1-.6 -2.6-.9 -2.5-.8 -2-.7 -2.6-1 -2.5-1 -2.5-1 -2-.8 -2.1-1 -2.4-1.1 -2.4-1.1 -2.3-1.1 -2.3-1.2 -2.2-1.2 -2.3-1.2 -2.2-1.3 -2.1-1.3 -2.2-1.3 -2.1-1.3 -2-1.3 -2.1-1.4 -2-1.4 -2-1.4 -1.9-1.4 -2-1.4 -1.9-1.5 -1.8-1.5 -1.9-1.5 -1.8-1.5 -1.8-1.5 -1.8-1.5 -1.7-1.6 -1.8-1.6 -1.7-1.6 -1.7-1.6 -1.6-1.6 -1.7-1.6 -1.6-1.7 -1.6-1.7 -1.5-1.6 -1.6-1.7 -1.5-1.7 -1.5-1.8 -1.5-1.7 -1.4-1.8 -1.5-1.7 -1.4-1.8 -1.4-1.8 -1.3-1.7 -1.4-1.9 -1.3-1.8 -2 .3 -.3 2.1 1.3 1.8 1.4 1.9 1.2 1.6 1.6 1.9 1.4 1.8 1.5 1.8 1.5 1.7 1.4 1.7 1.6 1.8 1.5 1.7 1.6 1.7 1.6 1.7 1.6 1.6 1.6 1.7 1.6 1.6 1.7 1.6 1.7 1.6 1.7 1.6 1.8 1.6 1.5 1.4 2 1.7 1.8 1.5 1.9 1.6 1.8 1.5 1.8 1.3 2 1.6 2 1.4 1.9 1.5 2 1.4 2.1 1.3 2 1.4 2.1 1.4 2.1 1.3 2.1 1.3 2.2 1.3 2.2 1.2 2.2 1.2 2.3 1.2 2.3 1.2 2.3 1.2 2.4 1.1 2.4 1.1 2.4 1.1 2.3 1 1.9 .7 2.5 1 2.6 1 2.6 .9 2.7 .9 2.7 .9 2.7 .8 2.6 .8 2.1 .5 2.1 .6 2 .4 2 .5 2.7 .6 2.1 .4 2 .3 2.1 .4 2 .3 2.3 .3 2.1 .3 2.2 .3 2.3 .2 2.2 .2 2.4 .2 2.3 .1 2.4 .1 2.4 .1 2.3 0 2.7 0 2.6 0 2.6-.1 2.6-.1 2.7-.2 2.4-.2 2.5-.2 2.2-.2 2.5-.3 2.3-.3 2.3-.4 2-.3 2.5-.4 2.2-.4 2.1-.4 2.2-.5 2.1-.5 2-.5 2.1-.5 2-.5 2-.6 2-.5 1.9-.6 2-.6 1.9-.6 2.3-.8 2.2-.8 2-.7 2.6-1 2.5-1z" fill="#aaaaaa" stroke="#aaaaaa" stroke-width="0.6"/>
<path d="M345.7,186.2l1.9-.6 2-1.2 1.9-1.3 2-1.2 1.9-1.3 1.9-1.2 -2.4 .5 -2.7 1.1 -2.8 1 -2.3 .8 -2.2 .7 -2 .7 -2 .6 -1.9 .6 -2 .5 -2 .6 -2 .5 -2.1 .5 -2 .5 -2.1 .5 -2.2 .5 -2.1 .4 -2.2 .4 -2.2 .4 -2.3 .3 -2.3 .4 -2.3 .3 -2.3 .3 -2.4 .2 -2.1 .2 -2.7 .2 -2.7 .2 -2.5 .1 -2.7 .1 -2.6 0 -2.6 0 -2.5 0 -2.4-.1 -2.4-.1 -2.3-.1 -2.2-.2 -2.4-.2 -2.3-.2 -2.2-.3 -2.1-.3 -2.2-.3 -2.1-.3 -2.1-.4 -2-.3 -2.1-.4 -2-.5 -1.9-.4 -2-.5 -2.8-.7 -2-.5 -2.4-.6 -2.2-.7 -2.4-.8 -2.1-.7 -2.7-.9 -2.6-.9 -2.6-1 -2.5-1 -2.5-1 -1.8-.8 -2.2-1 -2.4-1.2 -2.4-1.1 -2.3-1.2 -2.3-1.2 -2.2-1.2 -2.2-1.2 -2-1.1 -2.4-1.5 -2.1-1.3 -2.1-1.3 -2.1-1.3 -2-1.4 -2-1.4 -2-1.4 -2-1.4 -1.9-1.5 -1.9-1.5 -1.9-1.4 -1.8-1.5 -1.9-1.6 -1.8-1.5 -1.8-1.5 -1.7-1.6 -1.8-1.6 -1.7-1.6 -1.7-1.6 -1.5-1.5 -1.8-1.8 -1.4-1.5 -1.8-1.8 -1.6-1.7 -1.5-1.7 -1.5-1.7 -1.5-1.7 -1.5-1.8 -1.5-1.7 -1.4-1.8 -1.5-1.8 -1.4-1.7 -1.2-1.7 -1.5-1.9 -1.4-1.9 -1.9-1 -2.1 .3 .9 1.9 1.4 1.8 1.3 1.8 1.4 1.8 1.4 1.8 1.4 1.7 1.5 1.9 1.5 1.8 1.5 1.7 1.4 1.6 1.6 1.9 1.6 1.7 1.5 1.7 1.6 1.6 1.5 1.5 1.8 1.9 1.5 1.5 1.8 1.7 1.7 1.6 1.8 1.6 1.7 1.6 1.8 1.6 1.8 1.5 1.8 1.5 1.9 1.5 1.9 1.5 1.9 1.5 1.9 1.5 2 1.4 1.9 1.4 2 1.5 2.1 1.3 2 1.4 2.1 1.3 2.1 1.4 2.2 1.3 2.2 1.3 2.2 1.2 2.2 1.3 2.3 1.2 1.8 .9 2 1 2.1 1.1 1.9 .8 1.8 .9 2.2 1 2.5 1 2.5 1 2.2 .9 2.1 .8 2.6 .9 2.6 .9 2.7 .9 2.6 .8 2.1 .6 2.3 .6 2.1 .6 2.1 .5 2 .5 2.1 .4 2 .5 2 .4 2.1 .3 2.1 .4 2.1 .3 2 .3 2.3 .3 2.2 .3 2 .2 2.5 .2 2.2 .2 2.5 .1 2.4 .1 2.4 .1 2.5 .1 2.5 0 2.5 0 2-.1 2.6-.1 2.6-.1 2.2-.2 2.8-.2 2.4-.2 2.4-.3 2.3-.3 2.3-.3 2.3-.3 2.3-.4 2.2-.4 2.1-.4 2.2-.5 2.1-.4 2.1-.5 2.1-.5 2-.5 2.1-.5 2-.6 2-.6 1.9-.6 1.9-.6 1.9-.6z" fill="#adadad" stroke="#adadad" stroke-width="0.6"/>
<path d="M336.7,191.8l2.1-.6 1.9-1.2 1.9-1.2 1.9-1.2 1.9-1.2 -2.6 .4 -1.9 .6 -1.9 .6 -2 .6 -2 .6 -2 .5 -2.1 .5 -2.1 .5 -2.1 .5 -2.1 .4 -2.1 .5 -2.2 .4 -2.2 .4 -2.1 .3 -2.5 .4 -2.1 .3 -2.5 .3 -2.4 .3 -2.4 .2 -2.5 .2 -2.5 .2 -2.6 .1 -2 .1 -2.6 .1 -2 0 -2.7 0 -2.8-.1 -2.4-.1 -2.4-.1 -2.4-.1 -2.3-.2 -2.2-.2 -2.3-.2 -2.2-.3 -2.2-.3 -2.1-.3 -2.1-.3 -2.1-.4 -2.1-.3 -2-.4 -2-.5 -2-.4 -2-.5 -2.2-.5 -2.1-.6 -2.1-.6 -2.1-.5 -2.5-.8 -2.1-.7 -2.6-.9 -2.7-.9 -2.6-1 -2.5-1 -2.5-1 -2.5-1 -2.2-1 -1.8-.9 -1.9-.8 -2.1-1.1 -2-1 -1.8-.9 -2.3-1.2 -2.2-1.3 -2.2-1.2 -2.2-1.3 -2.2-1.3 -2.1-1.4 -2.1-1.3 -2-1.4 -2.1-1.3 -2-1.5 -1.9-1.4 -2-1.4 -1.9-1.5 -1.9-1.5 -1.9-1.5 -1.9-1.5 -1.8-1.5 -1.8-1.5 -1.8-1.6 -1.7-1.6 -1.8-1.6 -1.7-1.6 -1.6-1.6 -1.7-1.6 -1.7-1.7 -1.6-1.7 -1.4-1.5 -1.7-1.8 -1.6-1.7 -1.5-1.8 -1.5-1.7 -1.5-1.7 -1.5-1.8 -1.4-1.8 -1.5-1.8 -1.4-1.8 -1.4-1.8 -1.3-1.8 -1.4-1.8 -1.3-1.8 -2.3 .3 .1 2 1.3 1.9 1.4 1.8 1.4 1.8 1.4 1.8 1.4 1.8 1.4 1.7 1.5 1.8 1.5 1.8 1.5 1.7 1.6 1.8 1.5 1.7 1.6 1.7 1.6 1.7 1.6 1.7 1.6 1.6 1.7 1.7 1.6 1.6 1.7 1.7 1.8 1.6 1.7 1.6 1.8 1.5 1.8 1.6 1.8 1.5 1.7 1.5 2 1.6 1.9 1.5 1.9 1.5 1.9 1.4 2 1.5 2 1.4 2 1.4 2 1.4 2.1 1.4 1.9 1.2 2.3 1.4 2.2 1.3 2.2 1.3 2.2 1.3 2.2 1.2 2 1.1 1.8 1 2.4 1.1 2.3 1.2 1.9 .9 2.1 .9 2.5 1.1 2.1 .9 2.1 .9 2.5 1 2.6 .9 2.6 1 2.7 .9 2.7 .9 2.8 .8 2.5 .7 2.1 .6 2 .5 2 .5 1.9 .5 2 .4 2 .4 2.1 .4 2 .4 2.1 .3 2.2 .4 2.1 .3 2.2 .3 2.2 .2 2.2 .3 2.3 .2 2.3 .2 2.4 .1 2.1 .1 2.7 .1 2.4 .1 2.5 0 2.2 0 2.7-.1 2.6-.1 2.6-.1 2.5-.2 2.1-.1 2.8-.3 2.4-.3 2.1-.2 2.6-.4 2.3-.3 2.2-.4 2.2-.3 2.3-.5 2.1-.4 2.2-.4 2.1-.5 2.1-.5 2-.5 2.1-.6 .8-.2z" fill="#b0b0b0" stroke="#b0b0b0" stroke-width="0.6"/>
<path d="M328.7,196.6l2.4-.8 1.9-1.1 1.9-1.2 2-1.2 1.7-1 -2.7 .7 -2.1 .6 -2 .5 -2.1 .5 -2 .4 -2.3 .5 -2.1 .4 -2.2 .5 -2.3 .3 -2.2 .4 -2.3 .3 -2.3 .4 -2.4 .2 -2.3 .3 -2.5 .2 -2.5 .2 -2.1 .2 -2.7 .1 -2.6 .1 -2.6 .1 -2.6 0 -2.5 0 -2.2-.1 -2.7-.1 -2.3-.1 -2.3-.1 -2.4-.2 -2.3-.2 -2.2-.3 -2.2-.2 -2.1-.3 -2.2-.3 -2.2-.4 -2.1-.3 -2-.4 -2.1-.4 -2-.4 -2-.4 -1.9-.5 -2-.5 -2-.5 -2.1-.6 -2.3-.6 -2.1-.7 -2.5-.8 -2-.6 -2.7-.9 -2.6-1 -2.6-1 -2.5-1 -2.5-1 -1.9-.9 -2.2-.9 -2.4-1.1 -2.4-1.2 -2.3-1.1 -2.3-1.2 -2.3-1.3 -2.2-1.2 -2.2-1.3 -2.2-1.3 -2.2-1.3 -2.1-1.3 -2.1-1.3 -2.1-1.4 -2-1.4 -2-1.4 -2-1.4 -2-1.5 -1.9-1.4 -1.9-1.5 -1.9-1.5 -1.9-1.5 -1.8-1.6 -1.8-1.5 -1.8-1.6 -1.6-1.4 -1.9-1.7 -1.8-1.6 -1.7-1.7 -1.6-1.6 -1.7-1.7 -1.6-1.6 -1.6-1.7 -1.6-1.7 -1.6-1.7 -1.5-1.6 -1.6-1.9 -1.5-1.7 -1.5-1.8 -1.4-1.7 -1.5-1.8 -1.4-1.8 -1.4-1.8 -1.4-1.8 -1.4-1.8 -1.3-1.9 -1.3-1.8 -2.2 .3 0 2 1.4 1.8 1.3 1.9 1.4 1.8 1.4 1.8 1.4 1.8 1.5 1.8 1.4 1.8 1.5 1.8 1.5 1.7 1.6 1.8 1.5 1.7 1.6 1.7 1.5 1.7 1.7 1.7 1.6 1.7 1.6 1.7 1.5 1.4 1.9 1.8 1.7 1.7 1.7 1.6 1.8 1.6 1.8 1.5 1.8 1.6 1.8 1.6 1.9 1.5 1.8 1.5 1.9 1.5 2 1.5 1.6 1.2 2.3 1.7 2 1.4 2 1.4 2.1 1.4 2 1.4 2.1 1.3 2.2 1.4 1.7 1 1.9 1.1 2.2 1.3 2.2 1.2 2.3 1.3 2.3 1.2 2.4 1.2 2 1 1.9 .9 1.8 .8 2.3 1 2.5 1.1 2.5 1.1 2.2 .8 2.1 .8 2.6 1 2.6 .9 2.7 .9 2.8 .9 2.3 .6 2.2 .7 2.1 .5 2.1 .6 2 .5 2 .4 2.7 .6 2.1 .4 2 .4 2.1 .4 2.1 .3 2.2 .3 2.1 .3 2.2 .3 2.3 .3 2.2 .2 2.3 .2 2.4 .1 2.3 .2 2.4 .1 2.5 .1 2.5 0 2.1 0 2.7 0 2.6-.1 2.7-.1 2.5-.1 2.5-.2 2.2-.2 2.7-.2 2.4-.3 2.2-.3 2.5-.3 2.1-.3 2.4-.4 2.3-.4 2.2-.5 2.1-.4 2.2-.5 .3 0z" fill="#b3b3b3" stroke="#b3b3b3" stroke-width="0.6"/>
<path d="M321.5,200.7l1.9-.5 2-1.1 1.9-1.1 1.9-1.1 -2.2 .1 -2.9 .5 -2.1 .4 -2.4 .5 -2.2 .3 -2.3 .4 -2.3 .3 -2.4 .3 -2.3 .2 -2.5 .3 -2.5 .2 -2 .1 -2.7 .2 -2.7 .1 -2.6 .1 -2.6 0 -2.5 0 -2.1 0 -2.8-.1 -2.5-.1 -2.3-.2 -2.4-.1 -2.3-.2 -2.2-.2 -2.1-.3 -2.4-.3 -2.1-.3 -2.2-.3 -2.1-.3 -2.1-.4 -2-.4 -2.1-.4 -2-.4 -2-.5 -1.9-.4 -2-.5 -2.8-.8 -2.4-.7 -2.3-.6 -2.4-.8 -2.2-.7 -2.6-.9 -2.7-1 -2.6-.9 -2.5-1 -2.5-1.1 -2.5-1.1 -2.3-1 -1.8-.8 -1.9-.9 -2-1 -2.1-1.1 -2.6-1.3 -2.2-1.2 -2.3-1.3 -2.2-1.3 -1.9-1.1 -1.7-1 -2.2-1.4 -2.1-1.3 -2-1.4 -2.1-1.4 -2-1.4 -2-1.4 -2-1.5 -1.9-1.4 -2-1.5 -1.9-1.5 -1.8-1.5 -1.9-1.5 -1.8-1.6 -1.8-1.6 -1.8-1.5 -1.8-1.6 -1.7-1.6 -1.7-1.7 -1.7-1.6 -1.7-1.6 -1.6-1.7 -1.6-1.7 -1.6-1.7 -1.6-1.7 -1.6-1.7 -1.5-1.7 -1.6-1.8 -1.5-1.7 -1.3-1.7 -1.6-1.9 -1.5-1.8 -1.4-1.8 -1.4-1.8 -1.4-1.8 -1.3-1.9 -1.4-1.8 -1.3-1.9 -2.2 .3 .1 2 1.4 1.9 1.3 1.9 1.4 1.8 1.4 1.8 1.4 1.8 1.5 1.8 1.4 1.8 1.5 1.8 1.5 1.8 1.5 1.7 1.5 1.8 1.6 1.7 1.6 1.7 1.6 1.7 1.6 1.7 1.6 1.7 1.7 1.6 1.7 1.7 1.7 1.6 1.7 1.6 1.8 1.7 1.7 1.5 1.8 1.6 1.9 1.6 1.8 1.5 1.9 1.6 1.9 1.5 1.9 1.5 1.9 1.5 2 1.4 1.9 1.5 2.1 1.4 2 1.4 2.1 1.4 2 1.4 2.2 1.3 2.1 1.4 2.2 1.3 2 1.2 2.4 1.3 2.3 1.3 2.2 1.2 2.4 1.2 2.3 1.2 2.4 1.2 2.4 1.1 2.5 1.1 2.2 .9 1.9 .9 2.6 1 2.6 1 2.6 .9 2.7 1 2.7 .9 2.7 .9 2.8 .8 2.5 .7 2.1 .6 2.1 .5 1.9 .5 2 .4 2 .5 2.1 .4 2 .4 2.1 .3 2.1 .4 2.1 .3 2.1 .3 2.3 .3 2.2 .3 2.1 .2 2.4 .2 2.2 .2 2.5 .2 2.4 .1 2.4 .1 2.5 .1 2.5 0 2.1 0 2.7-.1 2.6 0 2.6-.2 2.6-.1 2-.2 2.9-.2 2.5-.3 2.3-.2 2.4-.3 2.3-.4 2.3-.3 2.3-.4 1.1-.2z" fill="#b6b6b6" stroke="#b6b6b6" stroke-width="0.6"/>
<path d="M314.8,204.4l2.2-.6 2-1 1.9-1.1 1.9-1.1 -2.4 .3 -2.1 .4 -2.5 .3 -2.2 .4 -2.5 .3 -1.9 .2 -2.9 .3 -2.4 .2 -2.5 .2 -2.1 .1 -2.7 .1 -2.7 .1 -2.5 .1 -2.6 0 -2.1 0 -2.8-.1 -2.5-.1 -2.4-.1 -2.3-.2 -2.4-.2 -2.2-.2 -2.3-.2 -2.2-.3 -2.2-.3 -2.2-.3 -2.1-.3 -2.1-.4 -2.1-.3 -2-.4 -2.1-.4 -2-.5 -2-.4 -1.9-.5 -2-.5 -2.2-.6 -2.2-.6 -2.2-.7 -2.4-.7 -2.2-.7 -2.6-.9 -2.7-1 -2.6-.9 -2.6-1.1 -2.5-1 -2.5-1.1 -1.9-.8 -2.2-1 -2.4-1.1 -2.4-1.2 -2.3-1.2 -2.3-1.2 -2.3-1.2 -2.2-1.3 -2.3-1.2 -2.2-1.3 -2.1-1.4 -2.2-1.3 -2.1-1.4 -2-1.3 -2.1-1.4 -2-1.5 -2-1.4 -2-1.5 -2-1.4 -1.9-1.5 -1.9-1.5 -1.9-1.5 -1.8-1.6 -1.8-1.5 -1.9-1.6 -1.7-1.6 -1.8-1.6 -1.8-1.6 -1.5-1.4 -1.9-1.9 -1.6-1.6 -1.7-1.7 -1.6-1.7 -1.7-1.7 -1.5-1.7 -1.6-1.7 -1.6-1.7 -1.3-1.6 -1.7-1.9 -1.5-1.8 -1.5-1.8 -1.2-1.5 -1.7-2.1 -1.4-1.8 -1.4-1.8 -1.3-1.9 -1.4-1.8 -1.3-1.9 -1.8-1.1 -2 .2 .8 2 1.4 1.8 1.3 1.9 1.4 1.8 1.4 1.9 1.4 1.8 1.3 1.6 1.6 2 1.5 1.8 1.5 1.8 1.5 1.7 1.5 1.8 1.6 1.7 1.3 1.5 1.9 2 1.6 1.7 1.6 1.7 1.7 1.6 1.6 1.7 1.7 1.6 1.8 1.7 1.7 1.6 1.8 1.6 1.8 1.6 1.8 1.6 1.8 1.5 1.8 1.6 1.9 1.5 1.9 1.5 1.9 1.5 2 1.5 2 1.5 2 1.4 2 1.5 2 1.4 2.1 1.4 2.1 1.4 2.1 1.3 2.2 1.3 2.2 1.4 2.2 1.3 2.2 1.2 2.3 1.3 2.1 1.1 2.5 1.3 1.9 1 2 1 1.9 .8 2.2 1.1 2.4 1 2.2 1 2 .8 2.6 1 2.6 1 2.6 1 2.7 .9 2.7 .9 2.8 .9 2.7 .8 2 .6 2.4 .6 2 .5 2.1 .5 1.9 .5 2.4 .5 2 .4 2.1 .4 2.1 .4 2.1 .3 2.1 .3 2.2 .4 2.2 .2 2.2 .3 2.3 .2 2.3 .3 2.3 .1 2.4 .2 2.4 .1 2.1 .1 2.8 .1 2.5 0 2.5 0 2.6 0 2.7-.1 2.7-.1 2.7-.2 2.8-.2 2.5-.2 2.4-.3 2.4-.3 2.3-.3 .7-.1z" fill="#b9b9b9" stroke="#b9b9b9" stroke-width="0.6"/>
<path d="M308.6,207.8l2-.5 2-1 1.9-1.1 1.8-1 -2.2 .3 -2.3 .3 -2.4 .3 -2 .2 -2.9 .3 -2.5 .2 -2.5 .1 -2.6 .2 -2.7 0 -2.6 .1 -2.8 0 -2.8 0 -2.5-.1 -2.4-.1 -2.3-.1 -2.5-.2 -2.1-.1 -2.5-.3 -2.2-.2 -2.3-.3 -2.2-.2 -2.1-.3 -2.2-.4 -2.1-.3 -2.1-.4 -2.1-.4 -2-.4 -2-.5 -2-.4 -2-.5 -1.9-.5 -2.7-.7 -2.1-.6 -2.3-.7 -2.3-.7 -2.5-.8 -2.1-.7 -2.6-.9 -2.7-1 -2.6-1 -2.5-1 -2.5-1.1 -2-.9 -2.1-.9 -2.5-1.2 -2.4-1.1 -2.3-1.2 -2.3-1.2 -2.3-1.2 -2.3-1.3 -2.2-1.2 -2.2-1.3 -2.2-1.4 -2.2-1.3 -2.1-1.3 -2.1-1.4 -2.1-1.4 -2-1.4 -2-1.5 -2-1.4 -2-1.5 -2-1.5 -1.9-1.5 -1.9-1.5 -1.9-1.5 -1.8-1.6 -1.8-1.5 -1.8-1.6 -1.8-1.6 -1.5-1.4 -2-1.8 -1.8-1.7 -1.7-1.6 -1.6-1.7 -1.7-1.6 -1.6-1.7 -1.6-1.7 -1.6-1.8 -1.6-1.7 -1.6-1.7 -1.5-1.8 -1.5-1.7 -1.5-1.8 -1.3-1.6 -1.6-2 -1.5-1.8 -1.4-1.8 -1.4-1.9 -1.4-1.8 -1.3-1.9 -1.4-1.8 -1.3-1.9 -2.3 .2 .3 2 1.3 1.9 1.4 1.9 1.4 1.8 1.4 1.9 1.2 1.6 1.6 2 1.5 1.8 1.4 1.8 1.5 1.8 1.5 1.8 1.6 1.8 1.5 1.7 1.6 1.7 1.6 1.8 1.6 1.7 1.6 1.7 1.7 1.7 1.6 1.7 1.7 1.6 1.7 1.7 1.8 1.6 1.7 1.6 1.8 1.6 1.8 1.6 1.8 1.6 1.9 1.6 1.8 1.5 1.9 1.6 1.9 1.5 2 1.5 1.9 1.5 2 1.4 2 1.5 2.1 1.4 2 1.4 2.1 1.4 2.1 1.4 2.1 1.3 2.2 1.4 2.2 1.3 2.2 1.3 2.3 1.3 2.2 1.2 2.3 1.3 2.4 1.2 2.3 1.2 2.4 1.1 2.5 1.1 2.4 1.2 2.5 1 2.6 1.1 2.5 1 2.6 1 2.7 1 2.7 .9 2.7 .9 2.7 .9 2.8 .8 2.5 .7 2.1 .6 2.1 .5 2 .5 2 .5 2 .4 2.1 .5 2 .4 2.1 .4 2.1 .3 2.2 .4 2.1 .3 2.2 .3 2.2 .3 2.2 .2 2.4 .2 2.3 .2 2.3 .2 2.2 .1 2.6 .1 2.5 .1 2.1 .1 2.8 0 2.7 0 2.6-.1 2.7-.1 2.6-.1 2.6-.2 2.5-.2 2-.2 1.5-.1z" fill="#bcbcbc" stroke="#bcbcbc" stroke-width="0.6"/>
<path d="M302.7,210.8l2.2-.5 1.9-1 1.9-1 -2.4-.3 -2 .2 -2.8 .2 -2.8 .1 -2.6 .2 -2.6 0 -2.7 .1 -2.6 0 -2.5 0 -2.5-.1 -2.3-.1 -2.5-.1 -2-.2 -2.7-.2 -2.3-.2 -2.2-.2 -2.3-.3 -2.2-.3 -2.2-.3 -2.1-.3 -2-.3 -2.2-.4 -2.1-.4 -2-.4 -2.1-.5 -2-.4 -2-.5 -1.9-.5 -1.9-.5 -2.9-.8 -2.8-.8 -2.5-.8 -2.1-.7 -2.7-.9 -2.7-.9 -2.6-1 -2.6-1 -2.6-1.1 -2.5-1 -2.5-1.1 -2.4-1.1 -2.5-1.2 -2.4-1.1 -2.3-1.2 -2.3-1.2 -2.3-1.3 -2.3-1.2 -2.2-1.3 -2.2-1.3 -2.2-1.4 -2.2-1.3 -2.1-1.4 -2.1-1.3 -2.1-1.4 -2-1.5 -2-1.4 -2-1.5 -2-1.4 -2-1.5 -1.9-1.5 -1.9-1.6 -1.9-1.5 -1.8-1.5 -1.9-1.6 -1.8-1.6 -1.8-1.6 -1.8-1.6 -1.7-1.6 -1.7-1.7 -1.7-1.6 -1.7-1.7 -1.7-1.7 -1.6-1.7 -1.6-1.7 -1.7-1.7 -1.5-1.7 -1.6-1.8 -1.5-1.7 -1.6-1.8 -1.5-1.8 -1.5-1.8 -1.4-1.8 -1.5-1.8 -1.4-1.8 -1.3-1.7 -1.5-2 -1.4-1.8 -1.3-1.9 -1.3-1.9 -2-1.1 -2.1 .2 1.2 1.9 1.3 1.9 1.4 1.8 1.3 1.8 1.5 2 1.4 1.8 1.4 1.8 1.5 1.8 1.4 1.8 1.4 1.7 1.6 1.9 1.6 1.8 1.5 1.8 1.6 1.7 1.5 1.8 1.5 1.6 1.8 1.8 1.6 1.7 1.7 1.7 1.7 1.7 1.7 1.6 1.7 1.7 1.7 1.6 1.8 1.6 1.8 1.6 1.8 1.6 1.9 1.6 1.8 1.6 1.9 1.5 1.9 1.6 1.9 1.5 2 1.5 1.9 1.5 2 1.4 2 1.5 2.1 1.4 1.7 1.2 1.7 1.2 2.2 1.3 2.1 1.4 2.2 1.4 1.8 1.1 1.8 1.1 2.3 1.2 2 1.2 1.8 1 2.3 1.2 2.3 1.2 2.4 1.2 2.4 1.1 2.4 1.2 2.5 1.1 2.5 1.1 2.5 1 2.6 1.1 2.6 1 1.9 .7 2.5 .9 2.6 .9 2 .6 2.8 .9 2.2 .7 2.2 .6 2.2 .6 2 .5 1.9 .5 2 .4 2 .5 2.1 .4 2 .4 2.1 .4 2.1 .4 2.2 .3 2.1 .4 2.2 .3 2.2 .2 2.3 .3 2.2 .2 2.3 .3 2.4 .1 2.3 .2 2.4 .1 2.3 .1 2.7 .1 2.5 0 2.5 0 2.6 0 2.1-.1 2.6-.1 2-.1 2.8-.2z" fill="#c0c0c0" stroke="#c0c0c0" stroke-width="0.6"/>
<path d="M297.2,213.6l2.5-.7 1.9-.9 2-1 -2.3-.1 -2.1 .1 -2.6 .2 -2 0 -2.7 .1 -2 0 -2.8 0 -2.8-.1 -2.4 0 -2.5-.1 -2.4-.2 -2.3-.2 -2.3-.1 -2.3-.3 -2.3-.2 -2.2-.3 -2.2-.3 -2.2-.3 -2.1-.3 -2.1-.4 -2.1-.4 -2.1-.4 -2-.4 -2.1-.4 -2-.5 -1.9-.5 -2-.5 -1.9-.5 -2.9-.8 -2.8-.8 -2.4-.7 -2.2-.8 -2.7-.9 -2.6-.9 -1.9-.7 -2.6-1 -2.6-1.1 -2.5-1 -2.2-1 -2-.8 -2.4-1.2 -2.4-1.1 -2.4-1.2 -2.3-1.2 -2.4-1.2 -2.3-1.3 -2.2-1.3 -2.3-1.2 -1.8-1.1 -1.8-1.1 -2.2-1.4 -2.1-1.4 -2.2-1.3 -1.7-1.2 -1.7-1.2 -2.1-1.4 -2-1.5 -2-1.4 -1.9-1.5 -2-1.5 -1.7-1.4 -2.1-1.7 -1.9-1.5 -1.8-1.6 -1.9-1.6 -1.8-1.6 -1.8-1.6 -1.8-1.6 -1.7-1.6 -1.7-1.7 -1.7-1.6 -1.7-1.7 -1.7-1.7 -1.6-1.7 -1.6-1.7 -1.7-1.7 -1.5-1.8 -1.6-1.7 -1.5-1.8 -1.6-1.8 -1.5-1.8 -1.5-1.8 -1.4-1.8 -1.5-1.8 -1.4-1.8 -1.4-1.8 -1.4-1.9 -1.4-1.9 -1.4-1.8 -1.3-1.9 -1.3-1.9 -2.7 .2 .7 2 1.4 1.9 1.3 1.9 1.4 1.8 1.4 1.9 1.4 1.9 1.4 1.8 1.5 1.8 1.4 1.8 1.5 1.8 1.5 1.8 1.6 1.8 1.5 1.8 1.6 1.8 1.6 1.7 1.6 1.7 1.6 1.8 1.6 1.7 1.7 1.7 1.6 1.7 1.7 1.6 1.8 1.7 1.7 1.7 1.8 1.6 1.8 1.6 1.8 1.6 1.8 1.6 1.8 1.6 1.9 1.6 1.9 1.5 1.9 1.5 1.9 1.6 2 1.5 2 1.4 2 1.5 2 1.5 2.1 1.4 2 1.4 2.2 1.4 2.1 1.4 2.1 1.4 2.2 1.3 2.2 1.3 2.3 1.3 2.2 1.3 2.3 1.3 2.3 1.2 2.4 1.2 2.4 1.2 2.4 1.2 2.4 1.1 2.5 1.1 2.5 1.1 2.6 1.1 2.5 1 2.7 1 2.6 1 2.7 .9 2.7 1 2.8 .8 2.8 .9 2.5 .7 2.2 .6 2 .5 2 .5 2 .5 2 .5 2 .4 2.1 .4 2.1 .4 2.1 .4 2.1 .4 2.2 .3 2 .3 2.3 .3 2.3 .3 2.3 .2 2.2 .2 2.2 .2 2.5 .2 2.4 .1 2.5 .1 2.4 .1 2.5 .1 2.2 0 2.8 0 2.7-.1 2.6-.1 .2 0z" fill="#c5c5c5" stroke="#c5c5c5" stroke-width="0.6"/>
<path d="M291.9,216.2l2-.4 1.9-.9 2-1 -2.1-.2 -2.5 0 -2.6 .1 -2.6 0 -2.5-.1 -2.2 0 -2.8-.1 -2.4-.1 -2.2-.2 -2.5-.2 -2.2-.2 -2.4-.2 -2.2-.3 -2.3-.2 -2.2-.3 -2.1-.4 -2.1-.3 -2.2-.4 -2.1-.4 -2-.4 -2.1-.4 -2-.5 -2-.4 -2-.5 -1.9-.5 -2-.5 -2.8-.8 -2.9-.9 -2.4-.7 -2.2-.7 -2.7-1 -2.7-.9 -2.6-1 -2.6-1 -2.6-1.1 -2.5-1.1 -2.5-1.1 -2.5-1.1 -2.4-1.1 -2.4-1.2 -2.4-1.2 -2.3-1.2 -2.3-1.3 -2.3-1.2 -2.3-1.3 -2.2-1.3 -2.2-1.4 -2.2-1.3 -2.1-1.4 -2.2-1.4 -2.1-1.4 -2-1.4 -2.1-1.4 -2-1.5 -2-1.4 -2-1.5 -1.9-1.5 -1.9-1.6 -1.9-1.5 -1.9-1.6 -1.9-1.5 -1.8-1.6 -1.8-1.6 -1.8-1.6 -1.8-1.6 -1.8-1.7 -1.7-1.6 -1.7-1.7 -1.7-1.7 -1.7-1.7 -1.6-1.7 -1.7-1.7 -1.6-1.7 -1.6-1.8 -1.6-1.7 -1.5-1.8 -1.5-1.8 -1.6-1.8 -1.5-1.8 -1.4-1.8 -1.4-1.7 -1.5-1.9 -1.5-1.9 -1.4-1.8 -1.3-1.9 -1.4-1.9 -1.4-1.8 -1.3-1.9 -1.7-1.2 -2.1 .2 1 1.9 1.4 1.9 1.3 1.9 1.4 1.9 1.4 1.8 1.4 1.9 1.4 1.8 1.5 1.9 1.4 1.8 1.5 1.8 1.5 1.8 1.5 1.8 1.6 1.8 1.5 1.8 1.6 1.7 1.6 1.8 1.6 1.7 1.6 1.7 1.7 1.7 1.7 1.7 1.7 1.7 1.7 1.7 1.7 1.7 1.8 1.6 1.7 1.7 1.8 1.6 1.8 1.6 1.9 1.6 1.8 1.6 1.9 1.5 1.9 1.6 2 1.5 1.9 1.5 2 1.5 2 1.5 2 1.5 2 1.4 2.1 1.5 2.1 1.4 2.1 1.4 2.1 1.4 2.2 1.3 2.2 1.4 2.2 1.3 2.3 1.3 2.2 1.3 2.3 1.2 2.4 1.3 2.3 1.2 2.1 1 1.9 1 2 .9 2.1 1 2.5 1.1 2.1 .9 2.1 .9 2.6 1 2.7 1 2.6 1 2.7 1 2.7 .9 2.8 .9 2.8 .8 2.2 .7 2.2 .6 2.1 .5 2.1 .6 2 .4 2 .5 2.2 .5 2 .4 2.1 .4 2.1 .4 2.1 .4 2.2 .3 2.2 .3 2.2 .3 2.2 .3 2.3 .3 2.2 .2 2.2 .2 2.5 .2 2 .1 2.8 .1 2.5 .1 2 .1 2.9 0 2.7 0 1.3 0z" fill="#cacaca" stroke="#cacaca" stroke-width="0.6"/>
<path d="M288.1,218.6l1.9-.9 2-.9 -2.7-.6 -2.6 0 -2.5 0 -2-.1 -2.9-.1 -2.4-.2 -2.2-.1 -2.5-.2 -2.2-.2 -2.4-.3 -2.2-.2 -2.2-.3 -2.2-.3 -2.2-.4 -2.1-.3 -2.2-.4 -2.1-.4 -2-.4 -2.1-.4 -2-.5 -2-.5 -2-.5 -1.9-.5 -2-.5 -2.8-.8 -2.9-.8 -2.7-.9 -2.5-.8 -2.1-.8 -2.7-.9 -2.6-1 -2.6-1 -2.6-1.1 -2.5-1.1 -2.1-.8 -2.1-1 -2.5-1.2 -2.4-1.1 -2.4-1.2 -2.1-1.1 -1.8-1 -2.3-1.2 -2.3-1.3 -2.2-1.3 -2.3-1.3 -2.2-1.3 -2.1-1.4 -2.2-1.4 -2.1-1.4 -2.1-1.4 -2.1-1.4 -2-1.4 -2.1-1.5 -2-1.5 -1.9-1.5 -2-1.5 -1.9-1.5 -1.9-1.6 -1.9-1.5 -1.9-1.6 -1.8-1.6 -1.9-1.6 -1.8-1.6 -1.8-1.6 -1.7-1.7 -1.8-1.6 -1.7-1.7 -1.7-1.7 -1.7-1.7 -1.6-1.7 -1.7-1.7 -1.6-1.7 -1.6-1.8 -1.6-1.7 -1.5-1.8 -1.6-1.8 -1.5-1.8 -1.5-1.8 -1.3-1.6 -1.7-2 -1.4-1.9 -1.4-1.8 -1.5-1.9 -1.4-1.8 -1.3-1.9 -1.4-1.9 -1.3-1.9 -1.4-1.9 -2.2-.5 -.1 2 1.4 2 1.3 1.8 1.4 1.9 1.4 1.9 1.4 1.9 1.4 1.8 1.5 1.9 1.4 1.8 1.5 1.8 1.5 1.9 1.5 1.8 1.5 1.8 1.6 1.7 1.6 1.8 1.6 1.8 1.6 1.7 1.6 1.8 1.7 1.7 1.6 1.7 1.7 1.7 1.7 1.7 1.7 1.6 1.8 1.7 1.8 1.7 1.7 1.6 1.9 1.6 1.8 1.6 1.8 1.6 1.9 1.6 1.9 1.6 1.9 1.5 2 1.5 1.9 1.6 2 1.5 2 1.4 2 1.5 2.1 1.5 2.1 1.4 2.1 1.4 2.1 1.4 2.1 1.4 2.2 1.4 1.9 1.1 1.8 1.1 2.3 1.3 2.1 1.2 2.4 1.4 2.4 1.2 2.3 1.2 2.1 1.1 1.9 .9 2 1 2.1 .9 2.5 1.2 2.2 .9 2 .9 2.6 1 2.6 1.1 2.7 1 2.7 .9 2.7 1 2.7 .9 2.9 .8 2.6 .8 2.1 .6 2 .5 1.9 .6 2 .4 2 .5 2 .5 2.1 .4 2 .4 2 .4 2.2 .4 2.2 .4 2.1 .3 2.2 .3 2.2 .3 2.3 .3 2.2 .3 2.4 .2 2.3 .2 2.3 .2 2.3 .1 2.6 .1 2.4 .1 2.3 .1 2.8 0z" fill="#cfcfcf" stroke="#cfcfcf" stroke-width="0.6"/>
<path d="M281.9,220.8l2.3-.4 2-.9 1.9-.9 -2.6 0 -2.5-.1 -2-.1 -2.9-.1 -2.4-.1 -2.3-.2 -2.3-.2 -2.3-.2 -2.3-.3 -2.3-.3 -2.1-.2 -2.3-.4 -2.1-.3 -2.2-.4 -2.1-.4 -2.1-.4 -2-.4 -2.1-.4 -2-.5 -2-.5 -2-.4 -1.9-.6 -2-.5 -2.1-.6 -2.2-.6 -2.3-.7 -2.4-.8 -2.2-.7 -2.7-1 -2.7-1 -2.7-1 -2.6-1 -2.5-1.1 -2.6-1.1 -1.9-.8 -2.2-1 -2.5-1.2 -2.4-1.2 -2.4-1.2 -2.2-1.1 -2.5-1.3 -2.3-1.3 -2.2-1.3 -2.3-1.3 -1.8-1.1 -1.9-1.1 -2.2-1.4 -2.1-1.4 -2.1-1.4 -2.1-1.4 -2.1-1.4 -2.1-1.5 -2-1.5 -2-1.4 -2-1.5 -1.9-1.6 -2-1.5 -1.9-1.5 -1.9-1.6 -1.9-1.6 -1.8-1.6 -1.8-1.6 -1.9-1.6 -1.7-1.6 -1.8-1.7 -1.8-1.7 -1.7-1.6 -1.7-1.7 -1.7-1.7 -1.6-1.7 -1.7-1.7 -1.6-1.8 -1.6-1.7 -1.6-1.8 -1.6-1.8 -1.6-1.7 -1.5-1.8 -1.5-1.8 -1.5-1.9 -1.5-1.8 -1.4-1.8 -1.5-1.9 -1.4-1.8 -1.4-1.9 -1.2-1.6 -1.5-2 -1.4-2 -1.3-1.9 -1.3-1.8 -2.3 0 .4 2 1.3 1.9 1.4 1.9 1.3 1.9 1.4 1.9 1.4 1.9 1.4 1.7 1.5 2 1.4 1.8 1.5 1.9 1.5 1.8 1.5 1.7 1.6 1.9 1.5 1.8 1.4 1.5 1.8 2 1.6 1.8 1.6 1.7 1.6 1.8 1.7 1.7 1.7 1.7 1.7 1.7 1.7 1.7 1.8 1.7 1.7 1.6 1.8 1.7 1.8 1.6 1.5 1.3 1.6 1.4 1.8 1.6 1.9 1.6 1.9 1.6 1.9 1.5 2 1.5 1.9 1.6 2 1.5 2 1.5 2.1 1.4 2 1.5 2.1 1.4 2.1 1.5 2.1 1.4 2.2 1.4 2.2 1.3 2.2 1.4 2.2 1.3 2.3 1.3 2.2 1.3 2.3 1.3 2.4 1.2 2.4 1.3 2.4 1.2 2.4 1.2 2.4 1.1 2.5 1.1 2.2 1 2 .9 2.6 1 2.6 1.1 2.7 1 2.7 1 2.7 .9 2.7 .9 2.8 .9 2.9 .9 2.3 .7 2.2 .5 2.1 .6 2 .5 2.1 .5 1.9 .5 2.2 .4 2.1 .5 2.1 .4 2.1 .3 2.1 .4 2.2 .4 2.2 .3 2.2 .3 2.2 .3 2.3 .2 2.3 .3 2.1 .2 2.6 .2 2 .1 2.8 .1 2.4 .1z" fill="#d4d4d4" stroke="#d4d4d4" stroke-width="0.6"/>
<path d="M277.2,222.9l2.5-.4 1.9-.9 -1.9-.8 -2.7-.2 -2.3-.1 -2.4-.2 -2.3-.2 -2.3-.3 -2-.2 -2.5-.3 -2.2-.3 -2.1-.3 -2.3-.4 -2.1-.4 -2.1-.3 -2.1-.4 -2.1-.5 -2-.4 -2.1-.5 -2-.5 -2-.5 -1.9-.5 -2-.5 -2.7-.8 -2-.6 -2.7-.8 -2-.7 -2.7-.9 -2.7-1 -2.7-.9 -2.6-1.1 -2.6-1 -2.6-1.1 -2.5-1.1 -2.1-.9 -2.1-1 -2.4-1.1 -2.4-1.2 -2.4-1.2 -2.4-1.3 -2.3-1.2 -2.3-1.3 -2.3-1.3 -2.3-1.3 -2.2-1.4 -2.2-1.3 -2.1-1.4 -2.2-1.4 -2.1-1.4 -2.1-1.4 -2.1-1.5 -2-1.4 -2.1-1.5 -2-1.5 -1.9-1.5 -2-1.6 -1.9-1.5 -1.9-1.6 -1.9-1.5 -1.9-1.6 -1.9-1.6 -1.8-1.6 -1.8-1.7 -1.8-1.6 -1.8-1.7 -1.7-1.6 -1.7-1.7 -1.7-1.7 -1.7-1.7 -1.7-1.7 -1.6-1.8 -1.7-1.7 -1.4-1.6 -1.8-1.9 -1.6-1.8 -1.5-1.8 -1.6-1.8 -1.5-1.8 -1.5-1.8 -1.5-1.9 -1.4-1.8 -1.5-1.9 -1.4-1.8 -1.4-1.9 -1.4-1.9 -1.4-1.9 -1.3-1.9 -1.4-1.9 -1.3-1.9 -2.3-.5 0 2 1.4 1.9 1.3 1.9 1.4 1.9 1.4 1.9 1.4 1.9 1.4 1.9 1.5 1.8 1.4 1.9 1.5 1.8 1.5 1.9 1.5 1.8 1.5 1.8 1.6 1.8 1.5 1.8 1.6 1.8 1.6 1.7 1.6 1.8 1.7 1.7 1.6 1.8 1.7 1.7 1.7 1.7 1.7 1.7 1.8 1.7 1.7 1.7 1.8 1.6 1.8 1.7 1.8 1.6 1.8 1.6 1.9 1.6 1.9 1.6 1.9 1.6 1.9 1.6 1.9 1.5 2 1.6 2 1.5 2 1.5 2 1.5 2.1 1.4 2.1 1.5 2.1 1.4 2.1 1.4 2.1 1.4 2.2 1.4 2.2 1.4 2.2 1.3 2.3 1.4 2.2 1.3 2.4 1.3 2.3 1.2 2.3 1.3 2.4 1.2 2.4 1.2 2.5 1.2 2.5 1.1 2.5 1.1 2.5 1.1 2.6 1.1 2.6 1.1 2.6 1 2.7 1 2.7 .9 2.8 1 2.8 .9 2.8 .8 2.4 .8 2.2 .6 2.1 .6 2 .5 2 .4 2 .5 2.1 .5 2 .4 2.1 .4 2.1 .4 2.1 .4 2.2 .4 2.2 .3 2.1 .4 2.3 .3 2.2 .2 2.3 .3 2.3 .2 2.1 .2 2.6 .2 2.4 .1z" fill="#d9d9d9" stroke="#d9d9d9" stroke-width="0.6"/>
<path d="M272.7,224.9l2.4-.4 2-.9 -2.3-.8 -2.3-.2 -2.4-.2 -2.3-.2 -2-.2 -2.5-.3 -2.3-.3 -1.9-.3 -2.4-.4 -2.2-.4 -2.1-.4 -2.1-.4 -2.1-.4 -2-.4 -1.9-.4 -2-.5 -2.1-.5 -2-.5 -2-.6 -1.9-.5 -2.7-.8 -2.1-.6 -2.6-.9 -2-.6 -2.8-1 -2.7-1 -2.6-1 -2.7-1 -2.6-1 -2.5-1.1 -2.6-1.1 -2.4-1.2 -2.5-1.1 -2.5-1.2 -2.4-1.2 -2.3-1.3 -2.4-1.2 -2.3-1.3 -2.3-1.3 -2.3-1.3 -2.2-1.3 -2.2-1.4 -2.2-1.3 -2.2-1.4 -2.1-1.4 -2.2-1.5 -2-1.4 -2.1-1.5 -2.1-1.4 -2-1.5 -2-1.5 -2-1.6 -1.9-1.5 -1.9-1.5 -2-1.6 -1.9-1.6 -1.8-1.6 -1.9-1.6 -1.8-1.6 -1.8-1.7 -1.6-1.4 -2-1.9 -1.7-1.7 -1.7-1.7 -1.8-1.7 -1.6-1.7 -1.7-1.7 -1.7-1.7 -1.6-1.8 -1.6-1.7 -1.6-1.8 -1.6-1.8 -1.6-1.8 -1.4-1.7 -1.6-1.9 -1.5-1.8 -1.5-1.9 -1.3-1.6 -1.6-2.1 -1.5-1.9 -1.4-1.8 -1.4-1.9 -1.4-1.9 -1.3-1.9 -1.4-1.9 -1.3-2 -1.8-1.2 -2.1 .1 1.1 1.7 1.3 1.9 1.3 1.9 1.4 2 1.5 2 1.5 2 1.4 1.9 1.4 1.9 1.5 1.8 1.5 1.9 1.5 1.8 1.5 1.9 1.5 1.8 1.5 1.8 1.6 1.8 1.6 1.8 1.6 1.8 1.6 1.7 1.6 1.8 1.7 1.7 1.7 1.8 1.7 1.7 1.7 1.7 1.7 1.7 1.8 1.7 1.7 1.7 1.8 1.6 1.8 1.7 1.8 1.6 1.9 1.6 1.5 1.3 1.6 1.4 1.9 1.6 2 1.5 1.9 1.6 2 1.5 2 1.6 2 1.5 2 1.5 2.1 1.4 2 1.5 2.1 1.4 2.2 1.5 2.1 1.4 2.2 1.4 2.2 1.3 2.2 1.4 2.3 1.3 2.3 1.3 2.3 1.3 2.3 1.3 2.4 1.2 2.3 1.3 2.1 1 2 1 2.5 1.1 2.5 1.2 2.5 1.1 2.5 1.1 2.6 1.1 2 .7 2.4 1 2.7 1 2.7 1 2.8 .9 2.4 .8 2.3 .7 2.3 .7 2.2 .6 2.2 .6 2 .5 2 .5 2 .5 2 .5 2 .5 2.1 .4 2.1 .4 2.1 .4 2.1 .4 2.2 .3 2.2 .4 2.2 .3 2.2 .3 2.3 .3 2.3 .2 2.3 .2 2.4 .2z" fill="#dedede" stroke="#dedede" stroke-width="0.6"/>
<path d="M268.2,226.8l2.3-.4 2-.8 -1.9-.8 -2.6-.3 -2.2-.2 -2.4-.3 -2.2-.3 -2.1-.3 -2.3-.4 -2.2-.3 -2.1-.4 -2.1-.4 -2.1-.4 -2.1-.4 -2-.5 -2-.5 -2-.5 -2-.5 -2-.5 -1.9-.5 -2-.6 -2.8-.8 -1.9-.6 -2.8-.9 -2.5-.9 -2.1-.7 -2.7-1 -2.6-1 -2.7-1 -2.6-1.1 -2.5-1.1 -2.2-1 -2-.9 -2.5-1.1 -2.4-1.2 -2.5-1.2 -2.1-1.1 -1.8-1 -2.4-1.3 -2.3-1.2 -2.3-1.4 -2.2-1.3 -2.3-1.3 -2.2-1.4 -2.1-1.4 -2.2-1.4 -2.1-1.4 -2.2-1.4 -2-1.5 -2.1-1.5 -2.1-1.4 -2-1.5 -2-1.6 -1.9-1.5 -2-1.5 -1.9-1.6 -1.9-1.6 -1.9-1.6 -1.9-1.6 -1.9-1.6 -1.8-1.6 -1.6-1.6 -2-1.7 -1.7-1.7 -1.8-1.7 -1.7-1.7 -1.7-1.6 -1.7-1.8 -1.7-1.7 -1.7-1.8 -1.6-1.8 -1.6-1.7 -1.6-1.8 -1.6-1.8 -1.6-1.8 -1.5-1.8 -1.3-1.6 -1.7-2.1 -1.5-1.8 -1.5-1.9 -1.5-1.8 -1.4-1.9 -1.4-1.8 -1.4-2 -1.4-1.9 -1.4-1.9 -1.3-1.9 -1.4-1.9 -1.3-2 -2.1 .1 .4 2 1.3 2 1.4 1.9 1.3 1.9 1.4 1.9 1.4 1.9 1.4 1.9 1.4 1.8 1.5 2 1.5 1.8 1.5 1.9 1.5 1.8 1.5 1.8 1.6 1.9 1.5 1.8 1.5 1.7 1.7 1.9 1.6 1.7 1.6 1.8 1.7 1.8 1.7 1.7 1.6 1.7 1.7 1.8 1.8 1.7 1.7 1.7 1.8 1.7 1.8 1.6 1.8 1.7 1.8 1.6 1.8 1.7 1.9 1.6 1.9 1.6 1.9 1.6 1.9 1.6 1.9 1.5 2 1.6 2 1.5 2 1.5 2 1.5 2.1 1.5 2.1 1.5 2.1 1.4 1.7 1.2 1.8 1.2 2.2 1.4 2.2 1.4 2.2 1.4 2.2 1.3 2.3 1.4 2.3 1.3 2.3 1.3 2.3 1.3 2.4 1.2 2.4 1.2 2.4 1.2 2.5 1.2 2.5 1.2 2.5 1.1 2.5 1.1 2.6 1.1 2.2 .9 2.2 .9 2.7 1 2.7 1 2.7 1 2.8 .9 2.5 .8 2.2 .7 2.4 .7 2.2 .6 2.2 .6 1.9 .5 2 .5 2.1 .5 2 .5 2 .4 2.1 .4 2.1 .4 2.2 .4 2.1 .4 2.2 .4 2 .3 2.4 .3 2.3 .3 2 .2 2.5 .3z" fill="#dcdcdc" stroke="#dcdcdc" stroke-width="0.6"/>
<path d="M264,228.6l2-.3 1.9-.8 -2-1 -2.2-.2 -2.3-.3 -2.2-.3 -2.2-.3 -2.2-.4 -2.1-.4 -2.2-.4 -2.1-.4 -2-.4 -2.1-.4 -2-.5 -2.1-.5 -2-.5 -1.9-.5 -2-.5 -1.9-.6 -2-.5 -2.8-.9 -2.6-.8 -2.1-.7 -2.7-1 -2.8-1 -2.6-1 -2.7-1 -2.6-1.1 -2.6-1.1 -2.5-1.1 -2.2-1 -2-.9 -2.5-1.2 -2.4-1.2 -2.4-1.2 -2.4-1.2 -2.3-1.3 -2.3-1.3 -2.3-1.3 -2.3-1.3 -2.3-1.4 -2.2-1.3 -2.2-1.4 -2.2-1.4 -2.1-1.4 -2.1-1.5 -2.1-1.4 -2.1-1.5 -2.1-1.5 -2-1.5 -2-1.5 -2-1.5 -2-1.6 -1.9-1.5 -1.7-1.4 -2.1-1.8 -1.9-1.6 -1.9-1.6 -1.8-1.7 -1.8-1.6 -1.8-1.7 -1.8-1.6 -1.8-1.7 -1.7-1.7 -1.8-1.7 -1.7-1.8 -1.4-1.4 -1.9-2 -1.7-1.8 -1.6-1.8 -1.6-1.7 -1.6-1.8 -1.6-1.8 -1.5-1.8 -1.5-1.8 -1.6-1.9 -1.5-1.8 -1.5-1.9 -1.5-1.8 -1.4-1.9 -1.5-1.9 -1.4-1.9 -1.4-1.9 -1.4-1.9 -1.3-1.9 -1.4-1.9 -1.3-2 -1.4-1.9 -2.6 .1 .9 2 1.4 1.9 1.3 1.9 1.4 2 1.4 1.9 1.4 1.9 1.4 1.9 1.4 1.9 1.2 1.6 1.7 2.1 1.5 1.9 1.5 1.8 1.5 1.9 1.6 1.8 1.5 1.8 1.6 1.8 1.6 1.8 1.6 1.8 1.7 1.8 1.6 1.8 1.7 1.7 1.6 1.8 1.7 1.7 1.8 1.7 1.7 1.7 1.8 1.7 1.7 1.7 1.8 1.7 1.9 1.6 1.8 1.7 1.9 1.6 1.8 1.6 1.9 1.6 1.9 1.6 2 1.6 1.9 1.6 2 1.5 2 1.6 2 1.5 2.1 1.5 2 1.5 2.1 1.4 2.1 1.5 2.2 1.4 2.1 1.4 2.2 1.4 2.2 1.4 2.3 1.4 2.2 1.3 2.3 1.4 2.3 1.3 1.9 1 2 1.1 2.4 1.3 2.4 1.2 2 1 2.1 1 2.5 1.2 2.5 1.1 2.5 1.1 2.6 1.1 2.6 1.1 2.7 1.1 2.6 1 2.7 1 2.8 .9 2.8 1 2.8 .9 2.8 .8 2 .6 1.9 .5 2 .6 2 .5 2 .5 2 .5 2 .4 2.1 .5 2.1 .4 2.1 .4 2.1 .4 2.2 .4 2.1 .4 2.2 .3 2.3 .3 2.2 .3 1.2 .2z" fill="#d3d3d3" stroke="#d3d3d3" stroke-width="0.6"/>
<path d="M259.8,230.2l2.2-.3 2-.8 -2.3-.8 -2.2-.3 -2.3-.4 -2.1-.3 -2.2-.4 -2.1-.4 -2.2-.4 -2.1-.4 -2-.4 -2.1-.5 -2-.5 -2-.5 -2-.5 -2-.5 -2-.5 -1.9-.6 -1.9-.5 -2.9-.9 -2.8-.9 -2.7-1 -2.7-.9 -2.7-1 -2.7-1.1 -2.7-1 -2.6-1.1 -2.5-1.1 -2.6-1.2 -2.5-1.1 -2.4-1.2 -2.5-1.2 -2.4-1.2 -2.4-1.3 -2.4-1.2 -2.3-1.3 -2.3-1.3 -2.3-1.4 -2.2-1.3 -2.3-1.4 -2.2-1.4 -2.2-1.4 -2.1-1.4 -2.2-1.4 -2.1-1.5 -2.1-1.4 -2-1.5 -2.1-1.5 -2-1.5 -2-1.6 -2-1.5 -1.9-1.6 -2-1.6 -1.9-1.6 -1.9-1.6 -1.8-1.6 -1.9-1.6 -1.8-1.7 -1.9-1.6 -1.8-1.7 -1.7-1.7 -1.8-1.7 -1.7-1.7 -1.8-1.7 -1.7-1.7 -1.6-1.8 -1.7-1.7 -1.6-1.8 -1.7-1.8 -1.6-1.7 -1.6-1.9 -1.6-1.8 -1.5-1.8 -1.6-1.8 -1.5-1.9 -1.5-1.8 -1.4-1.8 -1.5-1.9 -1.5-1.9 -1.4-1.9 -1.4-1.9 -1.4-1.9 -1.4-1.9 -1.4-2 -1.3-1.9 -1.4-1.9 -1.3-2 -2.5 .1 .8 2 1.3 1.9 1.4 2 1.3 1.9 1.4 1.9 1.4 1.9 1.5 1.9 1.4 1.9 1.4 1.9 1.5 1.9 1.5 1.9 1.5 1.8 1.5 1.9 1.6 1.8 1.5 1.9 1.6 1.8 1.6 1.8 1.6 1.8 1.6 1.8 1.5 1.6 1.8 1.9 1.7 1.8 1.7 1.7 1.4 1.5 1.5 1.4 1.7 1.7 1.8 1.7 1.8 1.7 1.8 1.7 1.8 1.6 1.8 1.7 1.9 1.6 1.9 1.6 1.9 1.6 1.9 1.6 1.9 1.6 2 1.6 2 1.5 2 1.6 2 1.5 2.1 1.5 2 1.5 2.1 1.5 2.1 1.4 2.2 1.5 2.2 1.4 2.1 1.4 2.2 1.4 2.3 1.4 2.2 1.3 2.3 1.4 2.1 1.1 1.8 1 2.3 1.3 2.4 1.3 2.4 1.2 2.5 1.2 1.8 .9 2.3 1.1 2.5 1.2 2.2 .9 2.1 1 2.6 1 2.6 1.1 2.7 1 2.7 1.1 2.7 .9 2.7 1 2.9 .9 2.8 .9 1.9 .6 1.9 .6 2 .5 2 .5 1.9 .6 2 .5 2.1 .5 2 .4 2.1 .5 2.1 .4 2.1 .4 2.1 .4 2.2 .4 2 .3 2.3 .4 2.3 .3z" fill="#c9c9c9" stroke="#c9c9c9" stroke-width="0.6"/>
<path d="M255.7,231.8l2.4-.3 1.9-.8 -2.5-.8 -2.2-.3 -2.1-.4 -2.2-.4 -2.1-.4 -2.1-.4 -2.1-.4 -2.1-.5 -2-.4 -2.1-.5 -2-.5 -1.9-.6 -2-.5 -2-.5 -1.9-.6 -1.9-.6 -2.8-.9 -2.9-.9 -2.7-1 -2.7-.9 -2.7-1.1 -2.7-1 -2.6-1.1 -2.6-1 -2.1-1 -2.2-.9 -2.5-1.2 -2.3-1.1 -1.8-.9 -2.1-1 -2-1 -2.4-1.3 -2.3-1.2 -2.4-1.3 -2.3-1.3 -2.3-1.4 -2.2-1.3 -2.3-1.4 -2.2-1.4 -2.1-1.4 -2.2-1.4 -2.2-1.5 -2.1-1.4 -2.1-1.5 -2-1.5 -2.1-1.5 -2-1.5 -2-1.6 -2-1.5 -2-1.6 -1.9-1.6 -1.9-1.6 -1.9-1.6 -1.9-1.6 -1.9-1.6 -1.8-1.7 -1.8-1.6 -1.8-1.7 -1.8-1.7 -1.8-1.7 -1.7-1.7 -1.5-1.4 -1.4-1.5 -1.7-1.7 -1.7-1.8 -1.7-1.8 -1.6-1.7 -1.6-1.8 -1.6-1.8 -1.6-1.8 -1.5-1.7 -1.6-2 -1.6-1.8 -1.5-1.9 -1.5-1.8 -1.5-1.9 -1.5-1.9 -1.4-1.9 -1.4-1.9 -1.5-1.9 -1.4-1.9 -1.4-1.9 -1.3-1.9 -1.4-2 -1.3-1.9 -1.3-2 -2.4 .1 .7 2 1.3 1.9 1.4 2 1.3 1.9 1.4 2 1.4 1.9 1.4 1.9 1.5 1.9 1.4 1.9 1.5 1.9 1.5 1.9 1.5 1.8 1.5 1.9 1.5 1.8 1.6 1.9 1.6 1.8 1.5 1.8 1.7 1.8 1.6 1.8 1.6 1.8 1.7 1.8 1.6 1.7 1.7 1.8 1.8 1.7 1.7 1.8 1.7 1.7 1.8 1.7 1.8 1.7 1.8 1.7 1.8 1.6 1.9 1.7 1.8 1.6 1.9 1.7 1.9 1.6 1.9 1.6 2 1.6 1.9 1.6 2 1.5 2 1.6 2 1.5 2.1 1.5 2.1 1.5 2.1 1.5 2.1 1.5 2.1 1.4 2.2 1.5 2.1 1.4 2.3 1.4 2.2 1.4 2.2 1.3 2.3 1.4 2.3 1.3 2.4 1.3 2.3 1.3 2.4 1.3 2.4 1.2 2.4 1.3 2.5 1.2 2.5 1.1 2.4 1.1 1.8 .9 2.6 1.1 2 .8 2.4 1 2.6 1 2.7 1.1 2.7 .9 2.8 1 2.8 1 2.5 .8 2.2 .6 2 .6 1.9 .6 2 .5 2 .6 2 .5 2 .5 2 .4 2.1 .5 2.1 .5 2.1 .4 2.1 .4 2.1 .4 2.2 .4 2.2 .3z" fill="#c0c0c0" stroke="#c0c0c0" stroke-width="0.6"/>
<path d="M251.7,233.3l2.4-.3 2-.7 -2.6-.8 -2.2-.4 -2.1-.4 -2.1-.4 -2.1-.4 -2.1-.5 -2.1-.5 -2-.4 -2-.5 -2-.5 -2-.6 -2-.5 -1.9-.6 -2-.6 -2.2-.6 -2.4-.8 -2-.7 -2.7-.9 -2.8-1 -2.7-1 -2.7-1.1 -2.6-1 -2.6-1.1 -2.6-1.1 -1.8-.9 -2.4-1.1 -2.5-1.1 -2.4-1.2 -2.5-1.3 -2.4-1.2 -2.4-1.3 -2.3-1.3 -2.4-1.3 -2.2-1.2 -2.4-1.5 -2.2-1.3 -2.2-1.4 -2.3-1.4 -2.1-1.4 -2.2-1.5 -2.1-1.4 -2.1-1.5 -2.1-1.5 -2.1-1.5 -2.1-1.5 -2-1.5 -2-1.6 -2-1.5 -1.9-1.6 -2-1.6 -1.9-1.6 -1.9-1.6 -1.9-1.7 -1.8-1.6 -1.9-1.7 -1.8-1.6 -1.7-1.6 -1.9-1.8 -1.8-1.7 -1.7-1.7 -1.7-1.8 -1.8-1.7 -1.7-1.8 -1.6-1.7 -1.7-1.8 -1.6-1.8 -1.6-1.8 -1.7-1.8 -1.5-1.8 -1.6-1.8 -1.6-1.9 -1.5-1.8 -1.4-1.7 -1.6-2 -1.5-1.9 -1.5-1.9 -1.4-1.9 -1.5-1.9 -1.4-1.9 -1.2-1.8 -1.5-2 -1.4-2 -1.3-1.9 -1.3-1.9 -1.3-1.9 -2.4-.1 .6 1.9 1.3 1.9 1.3 2 1.4 1.9 1.4 2 1.5 2 1.4 1.9 1.4 1.9 1.5 1.9 1.4 1.9 1.5 1.9 1.4 1.7 1.6 2 1.6 1.9 1.5 1.8 1.6 1.9 1.6 1.8 1.6 1.8 1.6 1.8 1.6 1.8 1.5 1.6 1.8 2 1.7 1.8 1.7 1.7 1.6 1.5 1.9 2 1.8 1.7 1.8 1.7 1.8 1.7 1.8 1.7 1.8 1.7 1.9 1.6 1.8 1.7 1.9 1.6 2 1.6 1.9 1.6 1.9 1.6 2 1.6 2 1.5 2 1.6 2.1 1.5 2 1.5 2.1 1.5 2.1 1.5 2.1 1.5 2.2 1.4 2.2 1.5 2.2 1.4 2.2 1.4 2.2 1.4 2.3 1.3 2.3 1.4 1.9 1.1 1.9 1.1 2.4 1.3 2.4 1.3 2.4 1.2 2.4 1.3 2 .9 2.2 1.1 2.5 1.1 2.4 1.1 1.8 .8 2.6 1.2 2.7 1 2.1 .9 2.3 .9 2.7 1 2.8 1 2.7 .9 2.5 .9 2.3 .7 1.9 .6 1.9 .5 2 .6 1.9 .5 2 .6 2 .5 2 .5 2.1 .5 2.1 .4 2 .5 2.1 .4 2.2 .4 2.1 .4 1.1 .2z" fill="#b6b6b6" stroke="#b6b6b6" stroke-width="0.6"/>
<path d="M247.8,234.8l2.3-.3 2-.7 -2.6-.9 -2.1-.4 -2-.4 -2.2-.4 -2.1-.5 -2-.5 -2.1-.5 -2-.5 -2-.5 -2-.5 -1.9-.6 -2-.5 -1.9-.6 -2.8-.9 -2.8-.9 -1.9-.7 -2.8-1 -2.7-1 -2.7-1 -2.6-1.1 -2.7-1 -2.6-1.2 -1.8-.8 -2.4-1.1 -2.5-1.1 -2.2-1.1 -2-.9 -2-1.1 -2-1 -2.4-1.3 -2.4-1.3 -2.3-1.3 -2.3-1.3 -2.3-1.4 -1.8-1 -2-1.2 -2.2-1.4 -2.2-1.4 -2.1-1.4 -2.2-1.5 -2.2-1.5 -2.1-1.5 -2.1-1.5 -2-1.5 -2.1-1.5 -2-1.5 -2-1.6 -2-1.6 -2-1.6 -1.9-1.6 -1.9-1.6 -1.9-1.6 -1.9-1.6 -1.9-1.7 -1.8-1.7 -1.8-1.6 -1.9-1.7 -1.7-1.7 -1.8-1.7 -1.8-1.8 -1.7-1.7 -1.7-1.8 -1.7-1.7 -1.7-1.8 -1.6-1.8 -1.7-1.8 -1.6-1.8 -1.6-1.8 -1.6-1.8 -1.6-1.8 -1.5-1.9 -1.6-1.8 -1.5-1.9 -1.5-1.9 -1.5-1.9 -1.3-1.6 -1.6-2.1 -1.5-2 -1.4-1.9 -1.4-1.9 -1.4-1.9 -1.3-2 -1.4-1.9 -1.3-2 -1.4-2 -1.9-.6 -.1 2 1.2 1.8 1.3 2 1.4 1.9 1.4 2 1.5 2.1 1.4 1.9 1.4 1.9 1.5 1.9 1.5 1.9 1.4 1.9 1.5 1.9 1.6 1.9 1.5 1.9 1.5 1.8 1.4 1.6 1.8 2.1 1.6 1.8 1.5 1.7 1.7 1.9 1.7 1.8 1.7 1.8 1.6 1.8 1.7 1.8 1.8 1.7 1.7 1.8 1.8 1.7 1.7 1.7 1.8 1.7 1.9 1.7 1.8 1.7 1.8 1.7 1.7 1.4 2.1 1.9 1.9 1.6 1.9 1.6 2 1.6 1.9 1.6 2 1.6 2 1.5 2.1 1.6 2 1.5 2.1 1.5 2.1 1.5 2.1 1.5 2.1 1.5 2.2 1.4 2.2 1.5 1.8 1.1 1.9 1.2 2.2 1.4 2.3 1.4 2.3 1.3 2.3 1.4 1.8 1 2.1 1.2 2.4 1.2 2.4 1.3 2.2 1.1 1.9 1 1.9 .9 2.3 1 2.5 1.2 2.2 1 2.1 .9 2.6 1.1 2.7 1.1 2.6 1 2.7 1.1 2.8 1 2.8 .9 2.8 1 2.8 .9 2 .6 1.9 .5 2 .6 1.9 .6 2 .5 2 .5 2.1 .5 2 .5 2.1 .5 2.1 .4 2.1 .4 2.1 .5z" fill="#ababab" stroke="#ababab" stroke-width="0.6"/>
<path d="M244,236.1l2.1-.2 2-.7 -2.4-.9 -2.1-.4 -2.1-.4 -2.1-.5 -2-.5 -2.1-.5 -2-.5 -2-.5 -1.9-.6 -2-.6 -1.9-.5 -2-.6 -2.8-.9 -2.8-1 -2.8-.9 -2.8-1 -2.7-1.1 -2.6-1 -2.7-1.1 -2.6-1.1 -2.1-.9 -2.2-1 -2.5-1.2 -2.3-1 -1.9-.9 -1.9-1 -2.2-1.1 -2.1-1.1 -1.9-1 -2.3-1.3 -2.4-1.3 -2.3-1.4 -2.3-1.3 -2.3-1.4 -2.2-1.4 -1.9-1.2 -1.8-1.1 -2.2-1.5 -2.2-1.4 -2.1-1.5 -2.1-1.5 -2.1-1.5 -2.1-1.5 -2-1.5 -2.1-1.6 -2-1.5 -2-1.6 -1.9-1.6 -2-1.6 -1.9-1.6 -1.9-1.6 -1.9-1.7 -1.9-1.6 -1.8-1.7 -1.8-1.7 -1.9-1.7 -1.8-1.7 -1.7-1.7 -1.8-1.7 -1.7-1.8 -1.8-1.7 -1.7-1.8 -1.6-1.8 -1.7-1.8 -1.7-1.8 -1.6-1.8 -1.6-1.8 -1.6-1.8 -1.6-1.8 -1.6-1.9 -1.5-1.8 -1.4-1.7 -1.7-2.1 -1.5-1.9 -1.4-1.9 -1.5-1.9 -1.5-1.9 -1.2-1.7 -1.6-2.1 -1.4-2 -1.4-1.9 -1.4-2 -1.3-1.9 -1.3-2 -1.3-1.9 -2.3-.1 .6 2 1.3 1.9 1.3 1.9 1.4 2 1.4 2 1.5 2 1.4 2 1.4 1.9 1.5 1.9 1.4 1.9 1.5 1.9 1.5 1.9 1.5 1.9 1.5 1.9 1.6 1.9 1.6 1.8 1.5 1.9 1.6 1.8 1.6 1.8 1.7 1.8 1.6 1.8 1.7 1.8 1.7 1.8 1.7 1.8 1.7 1.8 1.7 1.7 1.8 1.7 1.8 1.8 1.6 1.5 2 1.9 1.8 1.7 1.8 1.7 1.9 1.6 1.9 1.7 1.9 1.6 1.9 1.7 1.9 1.6 2 1.6 2 1.6 2 1.5 2 1.6 2.1 1.6 2 1.5 2.1 1.5 2.1 1.5 2.1 1.5 2.2 1.5 2.2 1.4 2.2 1.4 2.2 1.5 1.7 1 2 1.3 2.3 1.4 2.2 1.2 2.4 1.5 2.4 1.3 2.4 1.3 2.4 1.2 2.4 1.3 2 1 2.1 1 2.5 1.2 2.6 1.2 2.5 1.2 2.6 1.1 2.7 1.1 2.6 1.1 2 .8 2.5 .9 2.8 1 2.7 1 1.9 .6 2.8 1 1.9 .6 2 .6 1.9 .5 2 .6 2 .5 2 .6 2 .5 2 .5 2.1 .5 2 .4 2.1 .5 1.1 .2z" fill="#a1a1a1" stroke="#a1a1a1" stroke-width="0.6"/>
<path d="M241.3,237.7l2.2-.8 -1.6-1.2 -2.1-.5 -2.1-.5 -2-.5 -2-.5 -2-.5 -2-.5 -2-.6 -1.9-.5 -2-.6 -1.9-.6 -2.9-1 -2.8-.9 -2.6-.9 -2-.8 -2.7-1 -2.7-1 -2.6-1.1 -2.7-1.1 -2.6-1.1 -2.4-1.1 -1.8-.9 -2.5-1.2 -2.5-1.2 -2.5-1.2 -2.1-1.1 -1.9-1 -2.4-1.3 -2.4-1.3 -2.3-1.3 -2.3-1.4 -2.3-1.3 -2.3-1.4 -2.2-1.4 -2.2-1.5 -2.2-1.4 -2.2-1.4 -2.2-1.5 -2.1-1.5 -2.1-1.5 -2.1-1.5 -2-1.5 -2.1-1.6 -2-1.6 -2-1.5 -2-1.6 -2-1.6 -1.9-1.6 -1.9-1.7 -1.9-1.6 -1.9-1.7 -1.8-1.6 -1.9-1.7 -1.8-1.7 -1.9-1.7 -1.7-1.7 -1.8-1.8 -1.8-1.7 -1.7-1.7 -1.7-1.8 -1.7-1.8 -1.7-1.8 -1.7-1.8 -1.6-1.8 -1.7-1.8 -1.6-1.8 -1.6-1.8 -1.5-1.9 -1.6-1.8 -1.6-1.9 -1.4-1.8 -1.6-2 -1.5-1.9 -1.5-1.9 -1.4-1.9 -1.5-1.9 -1.3-1.7 -1.5-2.1 -1.4-2 -1.4-2 -1.4-1.9 -1.3-2 -1.4-2 -1.2-1.9 -2.3 0 .6 2 1.3 1.9 1.4 2 1.3 1.9 1.4 2 1.5 2 1.4 1.9 1.4 2 1.4 1.9 1.5 1.9 1.5 1.9 1.5 1.9 1.5 1.9 1.5 1.9 1.6 1.9 1.5 1.8 1.6 1.9 1.6 1.8 1.6 1.9 1.6 1.8 1.7 1.8 1.7 1.8 1.6 1.8 1.7 1.8 1.7 1.8 1.8 1.7 1.7 1.8 1.8 1.7 1.8 1.8 1.8 1.7 1.8 1.7 1.9 1.7 1.8 1.6 1.9 1.7 1.9 1.7 1.9 1.6 1.9 1.6 2 1.7 2 1.6 2 1.5 2 1.6 2 1.6 2.1 1.5 2 1.6 2.1 1.5 2.2 1.5 2.1 1.5 2.2 1.4 2.1 1.5 2.3 1.4 2.2 1.4 2.2 1.4 2.3 1.4 2.3 1.4 2.3 1.3 2.4 1.4 2.4 1.3 2.4 1.3 2.4 1.2 2.4 1.3 2.5 1.2 2.5 1.2 2.6 1.2 2.5 1.1 2 .9 2.4 1 2.6 1.1 2.7 1.1 2.7 1 2.8 1 2.7 1 2.8 1 2.9 .9 1.9 .6 1.9 .6 2 .6 1.9 .6 2 .5 2 .5 2.1 .6 2 .5 2 .5 2.1 .4 1.1 .3z" fill="#969696" stroke="#969696" stroke-width="0.6"/>
<path d="M236.5,238.7l2.3-.2 2-.7 -2.7-.8 -2-.5 -2-.5 -2.1-.6 -2-.5 -2-.5 -1.9-.6 -2-.6 -1.9-.6 -1.9-.6 -2.2-.7 -2.5-.8 -1.9-.7 -2.8-1 -2.7-1 -2.7-1.1 -2.7-1 -2.6-1.2 -2.6-1.1 -2.1-.9 -2.2-1 -2.5-1.2 -2.5-1.2 -2.5-1.2 -2.4-1.3 -2.4-1.3 -2.4-1.3 -2.4-1.3 -2.3-1.3 -2.4-1.4 -2.2-1.3 -2.3-1.4 -2.3-1.4 -2.2-1.5 -2.2-1.4 -2.2-1.5 -2.1-1.4 -2.2-1.5 -2.1-1.5 -2.1-1.6 -2-1.5 -2.1-1.5 -2-1.6 -2-1.6 -2-1.6 -2-1.6 -1.9-1.6 -1.9-1.6 -2-1.7 -1.8-1.6 -1.9-1.7 -1.9-1.7 -1.8-1.7 -1.8-1.7 -1.8-1.7 -1.8-1.8 -1.8-1.7 -1.7-1.8 -1.7-1.7 -1.7-1.8 -1.7-1.8 -1.7-1.8 -1.7-1.8 -1.6-1.8 -1.5-1.7 -1.7-2 -1.6-1.8 -1.4-1.7 -1.7-2 -1.6-1.9 -1.5-1.9 -1.3-1.7 -1.7-2.1 -1.5-1.9 -1.4-1.9 -1.5-2 -1.4-1.9 -1.4-2 -1.4-1.9 -1.4-2 -1.4-1.9 -1.3-2 -1.3-2 -1.7-1.3 -2.1 0 1.3 2 1.4 1.9 1.3 2 1.4 2 1.4 2 1.4 1.9 1.4 2 1.4 1.9 1.4 2 1.5 1.9 1.5 1.9 1.3 1.6 1.7 2.2 1.5 1.9 1.6 1.9 1.5 1.9 1.6 1.8 1.6 1.9 1.6 1.8 1.6 1.9 1.7 1.8 1.6 1.8 1.7 1.8 1.6 1.7 1.8 1.9 1.7 1.7 1.8 1.8 1.8 1.8 1.7 1.7 1.8 1.7 1.9 1.7 1.8 1.7 1.8 1.7 1.9 1.7 1.9 1.7 1.9 1.6 2 1.7 1.9 1.6 2 1.6 2 1.6 2 1.6 2 1.6 2 1.5 2.1 1.6 2.1 1.5 2.1 1.5 2.1 1.5 2.2 1.5 2.2 1.5 2.2 1.4 2.2 1.5 2.2 1.4 2.3 1.4 1.8 1.1 2 1.2 2.3 1.3 2.4 1.4 2.4 1.3 2.4 1.3 2.4 1.3 2.5 1.2 2.5 1.2 2.5 1.2 2.5 1.2 2.2 1.1 2.1 .9 2.6 1.1 2.7 1.1 1.9 .8 2.5 1 2.8 1 2.7 1 2.8 1 1.9 .6 2.9 1 1.9 .6 1.9 .6 2 .6 1.9 .5 2 .6 2 .5 2.1 .5 2 .5 1 .3z" fill="#8f8f8f" stroke="#8f8f8f" stroke-width="0.6"/>
<path d="M233.9,240.1l2.2-.7 -1.6-1.2 -2-.5 -2.1-.6 -2-.5 -1.9-.6 -2-.5 -2-.6 -1.9-.6 -1.9-.6 -2.8-1 -2.8-.9 -2.8-1 -2.8-1.1 -2.7-1 -2.6-1.1 -2.7-1.1 -2.6-1.1 -2.1-.9 -2.2-1.1 -2.5-1.2 -2.4-1.1 -1.8-.9 -2.1-1.1 -2-1 -2.4-1.2 -2.4-1.4 -2.4-1.3 -2.3-1.3 -2.4-1.4 -2.2-1.4 -2.3-1.3 -2.3-1.5 -1.9-1.2 -1.8-1.1 -2.2-1.5 -2.1-1.5 -2.2-1.5 -2.1-1.5 -2.1-1.5 -2.1-1.5 -2-1.6 -2.1-1.5 -2-1.6 -2-1.6 -2-1.6 -2-1.6 -1.9-1.7 -1.9-1.6 -1.9-1.7 -1.9-1.7 -1.9-1.6 -1.8-1.7 -1.8-1.7 -1.9-1.8 -1.8-1.7 -1.7-1.7 -1.8-1.8 -1.7-1.7 -1.8-1.8 -1.7-1.8 -1.6-1.8 -1.7-1.8 -1.7-1.8 -1.6-1.9 -1.5-1.6 -1.7-2 -1.6-1.9 -1.4-1.6 -1.7-2.1 -1.6-1.9 -1.5-1.9 -1.5-1.9 -1.5-1.9 -1.5-2 -1.4-1.9 -1.5-1.9 -1.4-2 -1.4-1.9 -1.4-2 -1.4-1.9 -1.3-2 -1.4-2 -1.3-2 -1.8-1.3 -.7 1.9 1.4 2 1.3 2 1.4 2 1.4 2 1.4 2 1.4 1.9 1.4 2 1.5 1.9 1.4 1.9 1.5 2 1.5 1.8 1.5 2 1.5 1.9 1.6 1.9 1.4 1.7 1.7 2 1.6 1.9 1.4 1.6 1.3 1.5 1.6 1.8 1.7 1.8 1.7 1.8 1.6 1.9 1.7 1.8 1.8 1.7 1.7 1.8 1.8 1.8 1.7 1.7 1.8 1.8 1.8 1.7 1.9 1.7 1.8 1.7 1.9 1.7 1.8 1.7 1.9 1.7 2 1.6 1.9 1.7 1.9 1.6 2 1.6 2 1.6 2 1.6 2.1 1.6 2 1.6 2.1 1.5 2.1 1.6 1.9 1.3 2.3 1.7 2.2 1.5 2.2 1.4 2.2 1.5 2.2 1.4 2.2 1.5 2.3 1.4 2.3 1.4 2.3 1.3 2.4 1.4 1.7 1 2.2 1.2 2.4 1.3 2.5 1.3 2 1 2.1 1.1 1.8 .9 2.4 1.1 2.5 1.2 2.2 1 2.1 .9 2.6 1.1 2.7 1.1 2.7 1.1 2 .8 2.5 1 2.8 1 2.6 .9 2.1 .7 1.9 .6 1.9 .6 2 .6 1.9 .6 2 .6 2 .5 2 .6 2 .5 2 .5z" fill="#8b8b8b" stroke="#8b8b8b" stroke-width="0.6"/>
<path d="M230.4,241.3l2.3-.8 -1.8-1.2 -2-.5 -2-.5 -2-.6 -2-.6 -1.9-.6 -1.9-.6 -1.9-.6 -2.9-1 -2.8-.9 -2.6-1 -2-.7 -2.7-1.1 -2.7-1.1 -2.7-1.1 -2.6-1.1 -2.1-.9 -2.2-1 -2.5-1.2 -2.4-1.1 -1.8-.9 -2.1-1.1 -2-1 -2.3-1.2 -1.8-1 -2.4-1.3 -2.3-1.3 -2.4-1.4 -2.3-1.3 -2.3-1.4 -2.3-1.4 -2.2-1.5 -2.2-1.4 -2.2-1.5 -2.2-1.4 -2.2-1.5 -2.1-1.5 -2.1-1.5 -2.1-1.6 -2.1-1.5 -2-1.6 -2.1-1.6 -2-1.6 -2-1.6 -2-1.6 -1.9-1.6 -1.9-1.7 -2-1.6 -1.9-1.7 -1.8-1.7 -1.9-1.7 -1.8-1.7 -1.9-1.7 -1.8-1.7 -1.8-1.8 -1.7-1.7 -1.8-1.8 -1.7-1.8 -1.8-1.7 -1.7-1.8 -1.6-1.9 -1.7-1.8 -1.7-1.8 -1.6-1.8 -1.3-1.5 -1.4-1.6 -1.6-1.9 -1.6-1.8 -1.5-1.9 -1.6-1.9 -1.5-1.9 -1.5-1.9 -1.5-1.9 -1.5-2 -1.4-1.9 -1.5-1.9 -1.4-2 -1.4-1.9 -1.4-2 -1.4-2 -1.4-2 -1.3-2 -1.4-2 -1.3-2 -2.5 0 1 2 1.3 2 1.4 2 1.3 2 1.4 2 1.4 2 1.4 1.9 1.5 2 1.4 1.9 1.5 2 1.4 1.8 1.5 2 1.6 1.9 1.5 1.9 1.5 1.9 1.6 1.9 1.6 1.9 1.5 1.9 1.6 1.8 1.7 1.9 1.6 1.8 1.7 1.9 1.6 1.8 1.7 1.8 1.7 1.8 1.8 1.8 1.7 1.8 1.8 1.8 1.7 1.7 1.8 1.8 1.6 1.5 2.1 1.9 1.8 1.7 1.9 1.7 1.8 1.7 1.9 1.7 2 1.7 1.9 1.6 1.7 1.5 1.6 1.3 2 1.6 2 1.6 2 1.6 2 1.5 2.1 1.6 2.1 1.6 2.1 1.5 2.1 1.5 2.1 1.5 2.2 1.5 2.2 1.5 2.2 1.4 2.3 1.5 2.2 1.4 2.3 1.4 2.3 1.4 2.4 1.4 2.3 1.3 1.8 1 2.2 1.2 2.4 1.3 2.5 1.3 1.9 1 2.2 1.1 2.5 1.2 2.5 1.2 2.6 1.2 2.6 1.2 2.6 1.1 2.2 .9 2.3 .9 2.7 1.1 2.7 1 2.8 1.1 2.8 .9 2.8 1 2 .6 1.9 .6 1.9 .6 2 .6 2 .6 2 .6 1.9 .5 1.1 .3z" fill="#878787" stroke="#878787" stroke-width="0.6"/>
<path d="M225.9,242.1l2.1-.1 2-.6 -2.6-.9 -2-.6 -2-.6 -2-.6 -1.9-.6 -1.9-.6 -1.9-.6 -2-.6 -2.8-1 -2.7-1 -2.8-1.1 -2.7-1 -2.7-1.1 -2.7-1.1 -2.6-1.1 -2.6-1.2 -2.3-1.1 -2-.9 -2.5-1.2 -2.5-1.2 -2.4-1.3 -2.4-1.2 -2.5-1.4 -2.2-1.2 -1.8-1 -2.3-1.3 -2.4-1.4 -2.3-1.4 -2.3-1.4 -2.2-1.4 -2.3-1.5 -2.2-1.4 -2.2-1.5 -2.1-1.5 -2.2-1.5 -2.1-1.5 -2.1-1.5 -2.1-1.6 -2.1-1.6 -2-1.5 -2-1.6 -2-1.6 -2-1.6 -1.6-1.3 -1.7-1.5 -1.9-1.6 -2-1.7 -1.9-1.7 -1.7-1.6 -2-1.8 -1.8-1.7 -1.9-1.7 -1.8-1.7 -1.8-1.8 -1.7-1.7 -1.8-1.8 -1.6-1.7 -1.9-1.9 -1.5-1.6 -1.9-2 -1.6-1.8 -1.7-1.9 -1.6-1.8 -1.7-1.9 -1.6-1.8 -1.5-1.9 -1.5-1.7 -1.7-2.1 -1.5-1.9 -1.5-1.9 -1.3-1.6 -1.7-2.2 -1.5-1.9 -1.5-2 -1.4-1.9 -1.5-2 -1.4-1.9 -1.4-2 -1.4-2 -1.3-2 -1.4-2 -1.3-2 -1.3-2 -2.7-.1 1.1 2.1 1.4 2 1.3 2 1.4 2 1.4 2 1.4 1.9 1.4 2 1.4 2 1.3 1.6 1.6 2.3 1.5 1.9 1.5 2 1.5 1.9 1.5 1.9 1.5 1.8 1.6 2 1.6 1.9 1.6 1.9 1.6 1.8 1.6 1.9 1.7 1.8 1.6 1.9 1.7 1.8 1.7 1.8 1.7 1.8 1.7 1.9 1.7 1.7 1.8 1.8 1.7 1.8 1.8 1.8 1.8 1.6 1.9 1.8 1.8 1.8 1.9 1.7 1.8 1.7 1.9 1.7 1.9 1.6 2 1.7 1.9 1.7 2 1.6 2 1.6 2 1.6 2 1.6 2.1 1.6 2 1.6 2.1 1.6 2.1 1.5 2.2 1.5 2.1 1.5 2.2 1.5 2.2 1.5 2.2 1.5 2.2 1.4 2.3 1.5 2.2 1.4 2.3 1.4 2.4 1.4 2.3 1.3 2.4 1.4 2.4 1.3 2.4 1.3 2.5 1.3 2.4 1.2 2.5 1.3 2.6 1.2 2.4 1.2 1.8 .8 2.6 1.2 2.2 .9 2.2 1 2.7 1.1 2.7 1 2.7 1.1 2.8 1 2.8 1 2.9 1 1.9 .6 1.9 .6 1.9 .7 2 .5 2 .6 2 .6z" fill="#838383" stroke="#838383" stroke-width="0.6"/>
<path d="M222.4,243.1l2.2 0 2.1-.7 -2.7-.8 -2.1-.7 -2-.5 -1.9-.7 -1.9-.6 -1.9-.6 -1.9-.6 -2.7-1 -2-.7 -2.8-1 -2.7-1.1 -2.7-1.1 -2.7-1.1 -2.6-1.1 -1.9-.9 -2.4-1.1 -2.6-1.2 -2-.9 -2.2-1.1 -2.5-1.3 -2.5-1.2 -2.4-1.3 -2.4-1.3 -2.4-1.4 -2.4-1.3 -2.3-1.4 -2.3-1.4 -2.3-1.4 -2.3-1.4 -2.2-1.4 -2.3-1.5 -2.2-1.5 -2.2-1.5 -2.1-1.5 -2.2-1.5 -2.1-1.5 -2.1-1.6 -2.1-1.5 -2-1.6 -2.1-1.6 -2-1.6 -2-1.6 -2-1.6 -1.9-1.7 -2-1.6 -1.9-1.7 -1.9-1.7 -1.9-1.7 -1.9-1.7 -1.8-1.7 -1.8-1.7 -1.9-1.8 -1.8-1.7 -1.7-1.8 -1.8-1.8 -1.8-1.8 -1.7-1.7 -1.7-1.9 -1.7-1.8 -1.7-1.8 -1.6-1.8 -1.5-1.7 -1.8-2 -1.6-1.9 -1.6-1.8 -1.6-1.9 -1.6-1.9 -1.5-1.9 -1.6-1.9 -1.5-2 -1.5-1.9 -1.5-1.9 -1.5-2 -1.4-1.9 -1.3-1.8 -1.6-2.1 -1.4-2 -1.4-2 -1.4-2 -1.3-2 -1.4-2 -1.3-1.9 -1.5-1.5 -2.2 0 1.2 1.9 1.3 1.9 1.3 1.9 1.4 2 1.1 1.7 1.4 1.9 1.4 2 1.4 2 1.5 2 1.4 1.9 1.5 2 1.5 1.9 1.4 1.9 1.6 2 1.5 1.9 1.6 1.9 1.4 1.7 1.7 2.1 1.6 1.9 1.6 1.8 1.7 1.9 1.6 1.9 1.7 1.8 1.7 1.8 1.4 1.6 1.4 1.5 1.7 1.8 1.8 1.8 1.7 1.8 2 1.7 2.1 1.8 2.1 1.7 2 1.7 2.1 1.8 2.1 1.6 2.1 1.7 2 1.7 2.1 1.7 2.1 1.6 2.1 1.7 2 1.6 2.1 1.6 2.1 1.6 2 1.6 2.1 1.6 2.1 1.6 2 1.5 2.1 1.6 2 1.5 2.1 1.5 2.1 1.5 2 1.5 2.1 1.5 2 1.5 2.1 1.5 2.1 1.4 2 1.5 2.1 1.4 2 1.4 2.1 1.4 1.7 1.2 2 1.1 2.4 1.3 2.5 1.3 2 1 2.2 1.1 2.5 1.2 2.5 1.2 2.6 1.2 2.6 1.2 2.7 1.1 2 .9 2.4 1 2.8 1 2.7 1.1 2.8 1 2.8 1 1.9 .7 1.9 .6 1.9 .6 2 .6 1.9 .6 2 .6z" fill="#818181" stroke="#818181" stroke-width="0.6"/>
<path d="M219,244.1l2.2 0 2.1-.6 -2.6-.9 -2.2-.7 -2-.6 -1.9-.6 -1.9-.6 -1.9-.7 -2.3-.8 -2.4-.9 -2.7-1 -2.8-1.1 -2.6-1.1 -2.7-1.1 -2.7-1.1 -2.6-1.2 -2.4-1.1 -1.9-.9 -2.5-1.2 -2.5-1.2 -2.5-1.3 -2.2-1.2 -1.9-1 -2.4-1.3 2 1.4 2.1 1.4 2 1.4 2.1 1.3 2.1 1.4 2 1.3 2.1 1.3 2.5 1.2 2.6 1.2 2.7 1.1 2.2 1 2.2 .9 2.7 1.1 2.8 1 2.8 1.1 2.8 1 1.9 .6 1.9 .7 1.9 .6 2 .6 1.9 .6zM105.5,171.5l-1.6-1.8 -1.5-1.5 -1.4-1.5 -1.7-1.8 -1.7-1.9 -1.6-1.7 -1.8-1.9 -1.6-1.9 -1.7-1.9 -1.6-1.8 -1.6-1.9 -1.5-1.9 -1.6-1.9 -1.6-1.9 -1.5-1.9 -1.5-1.9 -1.5-2 -1.5-1.9 -1.5-2 -1.4-1.9 -1.5-2 -1.4-2 -1.4-2 -1.2-1.6 -1.1-1.7 -1.4-2 -1.3-2 -1.4-2 -1.3-2 -2.3-.1 .8 2 1.3 2 1.4 2.1 1.4 2 1.4 2 1.4 2 1.4 1.9 1.4 2 1.4 2 1.5 2 1.5 1.9 1.5 2 1.4 1.8 1.6 2 1.5 2 1.6 1.9 1.4 1.6 1.7 2.2 1.7 1.9 1.6 1.8 1.6 1.9 1.9 1.9 2.1 1.8 2.1 1.8 2.1 1.8 2.1 1.8 2.1 1.8 2.1 1.8 .7 .6z" fill="#7f7f7f" stroke="#7f7f7f" stroke-width="0.6"/>
<path d="M215.7,245.1l2.1 0 2.1-.6 -2.7-.9 -2.1-.7 -1.9-.6 -1.9-.7 -1.9-.6 -2.1-.8 -2.6-.9 -2.7-1.1 -2.8-1 -2.7-1.1 -2.6-1.2 -2.7-1.1 -2.6-1.2 -2.2-1 1.7 1.1 2.1 1.3 2.1 1.3 2 1.3 2.1 1.2 2.3 1.2 2.8 1.1 1.8 .7 2.7 1 2 .7 1.9 .7 1.9 .6 1.9 .7 2 .6zM90.8,158.8l-1.6-1.8 -1.6-1.9 -1.6-1.9 -1.6-1.9 -1.6-1.9 -1.3-1.6 -1.3-1.6 -1.5-1.9 -1.5-1.9 -1.4-1.9 -1.6-2 -1.5-2 -1.4-2 -1.5-1.9 -1.4-2 -1.4-2 -1.4-2 -1.4-2 -1.4-2 -1.3-2 -1.3-2.1 -1.9-1.4 -.5 2 1.4 2.1 1.3 2 1.4 2 1.4 2 1.4 2 1.4 2 1.4 2 1.5 2 1.4 1.9 1.3 1.8 1.7 2.1 1.5 2 1.5 1.9 1.5 2 1.4 1.6 1.7 1.6 2.1 1.9 2.1 1.8 2.1 1.9 2.1 1.9 1.4 1.2z" fill="#7e7e7e" stroke="#7e7e7e" stroke-width="0.6"/>
<path d="M213.3,246.3l2.5-.7 -2.1-1.1 -1.9-.7 -1.9-.6 -1.9-.7 -2-.7 -2.7-1 -1.8-.7 -2.8-1.1 1.9 1.3 2 1.3 2.1 1.2 2.1 1.2 2.7 1 1.9 .7 1.9 .6zM78.9,148.1l-1.5-1.9 -1.5-1.9 -1.5-2 -1.5-1.9 -1.5-2 -1.3-1.8 -1.6-2.1 -1.5-2 -1.4-2 -1.4-2 -1.4-2 -1.4-2 -1.3-2 -1.4-2 -1.3-2.1 -2.2-1.4 .3 2.7 1.3 2 1.4 2.1 1.4 2 1.4 2 1.4 2 1.4 2 1.4 2 1.5 2 1.4 1.9 1.4 1.9 1.6 1.4 2.1 2 2.1 1.9 2.1 2 1.5 1.2z" fill="#7d7d7d" stroke="#7d7d7d" stroke-width="0.6"/>
<path d="M211.6,246.8l-1.8-1.6 -2.2-.8 2 1.2 2 1.2zM68.9,139l-1.1-1.7 -1.6-2.2 -1.5-2 -1.4-2 -1.4-2 -1.4-2 -1.4-2 -1.4-2 -1.3-2.1 -1.4-2 -1.3-2 -2.3-.1 .9 2 1.3 2 1.4 2.1 1.3 2 1.4 2 1.4 2 1.4 2 2 2.1 2.2 2 2.1 2 2.1 1.9z" fill="#7b7b7b" stroke="#7b7b7b" stroke-width="0.6"/>
<path d="M60.4,131l-1.3-2 -1.4-2 -1.4-2 -1.3-2 -1.4-2.1 -1.3-2 -1.4-2.1 -2.6-.1 1.2 2.1 1.4 2 1.3 2 1.7 2.1 2.1 2.1 2.2 2 2.2 2z" fill="#7a7a7a" stroke="#7a7a7a" stroke-width="0.6"/>
<path d="M52.4,123.5l-1.1-2 -1.3-2.1 -1.4-2 -1.8-.8 .6 2 1.4 1.4 1.5 1.4 1.4 1.4 .7 .7z" fill="#787878" stroke="#787878" stroke-width="0.6"/>
<path d="M211.6,246.8l6.9-1.9 6.8-2 6.7-2.2 6.7-2.2 6.6-2.3 6.7-2.4 6.5-2.5 6.6-2.6 6.5-2.7 6.5-2.8 6.5-3 6.4-3 6.4-3.1 6.4-3.3 6.4-3.3 6.4-3.4 6.4-3.6 6.3-3.7 6.4-3.8 6.4-3.9 6.3-4 6.4-4.1 6.4-4.2 6.3-4.3M211.6,246.8l-6.9-4 -6.8-4.1 -6.9-4.2 -6.9-4.3 -6.8-4.5 -6.9-4.6 -6.8-4.7 -6.8-4.8 -6.9-5 -6.8-5.1 -6.8-5.2 -6.9-5.3 -6.9-5.5 -6.9-5.6 -6.9-5.7 -6.9-5.9 -7-6 -7-6.1 -7-6.3 -7-6.4 -7.1-6.5 -7.1-6.7 -7.2-6.8 -7.2-7M209.5,245.6l6.8-1.9 6.8-2 6.7-2.1 6.7-2.2 6.7-2.3 6.6-2.3 6.6-2.5 6.5-2.6 6.5-2.7 6.5-2.8 6.5-2.9 6.4-3 6.5-3.1 6.4-3.2 6.4-3.3 6.3-3.4 6.4-3.5 6.4-3.7 6.3-3.7 6.4-3.9 6.3-4 6.4-4.1 6.4-4.2 6.3-4.3M213.8,246.2l-6.9-3.9 -6.9-4.1 -6.8-4.2 -6.9-4.3 -6.8-4.4 -6.9-4.6 -6.8-4.7 -6.8-4.8 -6.8-4.9 -6.9-5.1 -6.8-5.1 -6.8-5.3 -6.9-5.5 -6.9-5.6 -6.9-5.7 -6.9-5.8 -6.9-6 -7-6.1 -7-6.2 -7-6.4 -7.1-6.5 -7.1-6.6 -7.2-6.8 -7.2-6.9M207.3,244.3l6.8-1.9 6.8-1.9 6.8-2.1 6.7-2.1 6.6-2.3 6.6-2.3 6.6-2.5 6.6-2.5 6.5-2.7 6.5-2.7 6.5-2.9 6.4-3 6.4-3 6.4-3.2 6.4-3.3 6.4-3.4 6.4-3.5 6.3-3.6 6.4-3.7 6.3-3.9 6.4-3.9 6.3-4.1 6.4-4.1 6.3-4.3M216,245.6l-6.9-3.9 -6.9-4.1 -6.9-4.1 -6.8-4.3 -6.8-4.4 -6.9-4.5 -6.8-4.7 -6.8-4.7 -6.8-4.9 -6.8-5.1 -6.9-5.1 -6.8-5.3 -6.8-5.4 -6.9-5.5 -6.9-5.7 -6.9-5.8 -6.9-5.9 -7-6.1 -7-6.2 -7-6.4 -7-6.4 -7.1-6.7 -7.2-6.7 -7.1-6.9M205.1,243l6.8-1.8 6.8-1.9 6.8-2 6.7-2.2 6.7-2.2 6.6-2.3 6.6-2.4 6.5-2.5 6.5-2.7 6.5-2.7 6.5-2.8 6.4-3 6.5-3 6.4-3.2 6.4-3.2 6.3-3.4 6.4-3.5 6.4-3.5 6.3-3.7 6.3-3.8 6.4-4 6.3-4 6.4-4.1 6.3-4.3M218.1,245l-6.9-3.9 -6.8-4 -6.9-4.1 -6.8-4.3 -6.8-4.4 -6.9-4.4 -6.8-4.7 -6.8-4.7 -6.8-4.9 -6.8-5 -6.8-5.1 -6.8-5.2 -6.9-5.4 -6.8-5.5 -6.9-5.7 -6.9-5.7 -6.9-5.9 -7-6.1 -6.9-6.2 -7-6.3 -7.1-6.4 -7-6.6 -7.2-6.7 -7.1-6.9M202.9,241.7l6.9-1.7 6.8-1.9 6.7-2 6.7-2.1 6.7-2.2 6.6-2.3 6.6-2.4 6.6-2.5 6.5-2.6 6.5-2.7 6.5-2.8 6.4-2.9 6.4-3 6.4-3.1 6.4-3.3 6.4-3.3 6.3-3.4 6.4-3.6 6.3-3.7 6.4-3.7 6.3-3.9 6.4-4 6.3-4.1 6.4-4.3M220.3,244.4l-6.9-3.9 -6.9-4 -6.8-4.1 -6.9-4.2 -6.8-4.3 -6.8-4.5 -6.8-4.6 -6.8-4.7 -6.8-4.8 -6.8-5 -6.8-5.1 -6.8-5.2 -6.8-5.3 -6.9-5.5 -6.8-5.6 -6.9-5.8 -6.9-5.9 -6.9-6 -7-6.1 -7-6.3 -7-6.4 -7.1-6.6 -7.1-6.6 -7.1-6.9M200.8,240.5l6.8-1.8 6.8-1.9 6.8-1.9 6.7-2.1 6.7-2.2 6.6-2.2 6.6-2.4 6.5-2.4 6.6-2.6 6.5-2.7 6.4-2.7 6.5-2.9 6.4-3 6.4-3.1 6.4-3.2 6.3-3.3 6.4-3.4 6.3-3.6 6.4-3.6 6.3-3.7 6.4-3.9 6.3-4 6.3-4.1 6.4-4.2M222.4,243.7l-6.9-3.8 -6.8-4 -6.9-4 -6.8-4.2 -6.8-4.3 -6.8-4.4 -6.8-4.6 -6.8-4.7 -6.8-4.8 -6.8-4.9 -6.8-5.1 -6.8-5.2 -6.8-5.3 -6.8-5.4 -6.9-5.6 -6.8-5.7 -6.9-5.9 -6.9-6 -7-6.1 -6.9-6.2 -7-6.4 -7.1-6.5 -7.1-6.7 -7.1-6.8M198.6,239.2l6.8-1.8 6.9-1.8 6.7-1.9 6.7-2.1 6.7-2.1 6.6-2.2 6.6-2.4 6.6-2.4 6.5-2.5 6.5-2.7 6.5-2.7 6.4-2.9 6.4-2.9 6.5-3.1 6.3-3.2 6.4-3.2 6.4-3.4 6.3-3.5 6.3-3.6 6.4-3.8 6.3-3.8 6.3-3.9 6.4-4.1 6.3-4.2M224.5,243.1l-6.8-3.8 -6.9-3.9 -6.8-4.1 -6.8-4.1 -6.8-4.3 -6.8-4.4 -6.8-4.5 -6.8-4.7 -6.8-4.8 -6.8-4.9 -6.7-5 -6.8-5.2 -6.8-5.2 -6.9-5.5 -6.8-5.5 -6.9-5.7 -6.8-5.8 -6.9-6 -7-6 -6.9-6.3 -7-6.3 -7-6.5 -7.1-6.6 -7.1-6.8M196.4,237.8l6.9-1.7 6.8-1.8 6.8-1.9 6.7-2 6.7-2.1 6.6-2.2 6.6-2.3 6.6-2.4 6.5-2.5 6.5-2.6 6.5-2.7 6.4-2.8 6.4-3 6.4-3 6.4-3.1 6.4-3.3 6.3-3.3 6.4-3.5 6.3-3.6 6.3-3.7 6.4-3.8 6.3-3.9 6.3-4 6.3-4.2M226.7,242.4l-6.9-3.7 -6.8-3.9 -6.9-4 -6.8-4.2 -6.8-4.2 -6.8-4.4 -6.7-4.5 -6.8-4.6 -6.8-4.7 -6.8-4.9 -6.7-5 -6.8-5.1 -6.8-5.3 -6.8-5.4 -6.8-5.5 -6.9-5.7 -6.8-5.7 -6.9-6 -6.9-6 -7-6.2 -7-6.3 -7-6.5 -7-6.6 -7.1-6.7M194.2,236.5l6.9-1.7 6.8-1.7 6.8-1.9 6.7-2 6.7-2 6.7-2.2 6.6-2.3 6.5-2.4 6.6-2.4 6.5-2.6 6.4-2.7 6.5-2.8 6.4-2.9 6.4-3 6.4-3.1 6.3-3.2 6.4-3.4 6.3-3.4 6.4-3.6 6.3-3.6 6.3-3.8 6.3-3.9 6.3-4 6.4-4.1M228.8,241.8l-6.9-3.8 -6.8-3.8 -6.8-4 -6.8-4.1 -6.8-4.2 -6.8-4.4 -6.8-4.4 -6.7-4.6 -6.8-4.7 -6.8-4.9 -6.7-4.9 -6.8-5.1 -6.8-5.3 -6.8-5.3 -6.8-5.5 -6.8-5.6 -6.9-5.8 -6.8-5.9 -6.9-6 -7-6.2 -6.9-6.3 -7-6.4 -7.1-6.6 -7-6.7M192.1,235.2l6.9-1.7 6.8-1.7 6.8-1.9 6.7-1.9 6.7-2 6.6-2.2 6.6-2.2 6.6-2.4 6.5-2.4 6.5-2.6 6.5-2.6 6.4-2.8 6.5-2.9 6.4-2.9 6.3-3.1 6.4-3.2 6.4-3.3 6.3-3.4 6.3-3.5 6.3-3.7 6.4-3.7 6.3-3.9 6.3-3.9 6.3-4.1M230.9,241.1l-6.8-3.7 -6.9-3.8 -6.8-4 -6.8-4.1 -6.8-4.1 -6.7-4.4 -6.8-4.4 -6.8-4.5 -6.7-4.7 -6.8-4.8 -6.7-5 -6.8-5.1 -6.8-5.2 -6.8-5.3 -6.8-5.4 -6.8-5.6 -6.8-5.8 -6.9-5.8 -6.9-6 -6.9-6.1 -6.9-6.3 -7-6.4 -7-6.5 -7.1-6.7M189.9,233.8l6.9-1.6 6.8-1.7 6.8-1.8 6.7-1.9 6.7-2 6.7-2.1 6.6-2.3 6.6-2.3 6.5-2.4 6.5-2.5 6.5-2.6 6.4-2.8 6.4-2.8 6.4-3 6.4-3 6.4-3.2 6.3-3.3 6.4-3.3 6.3-3.5 6.3-3.6 6.3-3.8 6.3-3.8 6.4-3.9 6.3-4.1M233,240.4l-6.8-3.7 -6.8-3.8 -6.9-3.9 -6.7-4 -6.8-4.2 -6.8-4.3 -6.7-4.4 -6.8-4.5 -6.7-4.6 -6.8-4.8 -6.7-4.9 -6.8-5.1 -6.8-5.1 -6.7-5.3 -6.8-5.5 -6.8-5.5 -6.9-5.7 -6.8-5.9 -6.9-5.9 -6.9-6.1 -6.9-6.3 -7-6.3 -7-6.5 -7-6.7M187.7,232.5l6.9-1.6 6.9-1.7 6.8-1.8 6.7-1.9 6.7-1.9 6.6-2.1 6.7-2.2 6.5-2.3 6.6-2.4 6.5-2.5 6.5-2.6 6.4-2.7 6.4-2.8 6.4-2.9 6.4-3 6.4-3.2 6.3-3.2 6.3-3.4 6.4-3.4 6.3-3.6 6.3-3.7 6.3-3.8 6.3-3.9 6.3-4M235.2,239.7l-6.9-3.6 -6.8-3.8 -6.8-3.9 -6.8-4 -6.8-4.1 -6.7-4.3 -6.8-4.3 -6.7-4.5 -6.8-4.7 -6.7-4.7 -6.8-4.9 -6.7-5 -6.8-5.2 -6.7-5.2 -6.8-5.4 -6.8-5.6 -6.8-5.6 -6.8-5.8 -6.9-5.9 -6.9-6.1 -6.9-6.2 -6.9-6.4 -7-6.4 -7.1-6.7M185.6,231.1l6.9-1.6 6.8-1.6 6.8-1.8 6.8-1.8 6.7-2 6.6-2 6.6-2.2 6.6-2.2 6.6-2.4 6.5-2.5 6.4-2.5 6.5-2.7 6.4-2.8 6.4-2.9 6.4-3 6.3-3.1 6.4-3.2 6.3-3.3 6.3-3.5 6.4-3.5 6.3-3.7 6.3-3.7 6.3-3.9 6.3-4M237.3,239l-6.9-3.6 -6.8-3.7 -6.8-3.9 -6.8-4 -6.7-4.1 -6.8-4.2 -6.7-4.3 -6.8-4.5 -6.7-4.6 -6.7-4.7 -6.8-4.9 -6.7-5 -6.8-5.1 -6.7-5.2 -6.8-5.4 -6.8-5.5 -6.8-5.6 -6.8-5.8 -6.8-5.9 -6.9-6 -6.9-6.2 -6.9-6.3 -7-6.5 -7-6.5M183.4,229.7l6.9-1.5 6.9-1.6 6.8-1.8 6.7-1.8 6.7-1.9 6.7-2 6.6-2.2 6.6-2.2 6.5-2.3 6.5-2.4 6.5-2.6 6.5-2.6 6.4-2.8 6.4-2.9 6.4-2.9 6.3-3.1 6.4-3.2 6.3-3.3 6.3-3.4 6.3-3.5 6.3-3.6 6.3-3.8 6.3-3.8 6.3-4M239.4,238.3l-6.9-3.6 -6.8-3.7 -6.8-3.8 -6.8-4 -6.7-4 -6.8-4.2 -6.7-4.3 -6.7-4.5 -6.8-4.5 -6.7-4.7 -6.7-4.9 -6.7-4.9 -6.8-5.1 -6.7-5.2 -6.8-5.3 -6.7-5.5 -6.8-5.6 -6.8-5.8 -6.9-5.8 -6.8-6 -6.9-6.2 -6.9-6.3 -7-6.4 -7-6.5M181.2,228.3l7-1.5 6.8-1.6 6.8-1.7 6.8-1.8 6.7-1.9 6.7-1.9 6.6-2.1 6.6-2.2 6.5-2.3 6.5-2.5 6.5-2.5 6.5-2.6 6.4-2.7 6.4-2.8 6.4-3 6.3-3 6.4-3.2 6.3-3.3 6.3-3.3 6.3-3.5 6.3-3.6 6.3-3.7 6.3-3.9 6.3-3.9M241.5,237.6l-6.9-3.6 -6.8-3.7 -6.8-3.7 -6.7-4 -6.8-4 -6.7-4.2 -6.8-4.3 -6.7-4.4 -6.7-4.5 -6.7-4.7 -6.7-4.8 -6.7-4.9 -6.8-5 -6.7-5.2 -6.7-5.3 -6.8-5.5 -6.8-5.5 -6.8-5.7 -6.8-5.9 -6.8-6 -6.9-6.1 -6.9-6.2 -7-6.4 -6.9-6.5M179.1,226.9l6.9-1.5 6.9-1.5 6.8-1.7 6.7-1.8 6.8-1.8 6.6-2 6.7-2 6.6-2.2 6.5-2.3 6.5-2.4 6.5-2.4 6.5-2.6 6.4-2.7 6.4-2.8 6.4-2.9 6.3-3.1 6.4-3.1 6.3-3.2 6.3-3.4 6.3-3.4 6.3-3.6 6.3-3.7 6.3-3.8 6.3-3.9M243.6,236.8l-6.9-3.5 -6.8-3.6 -6.8-3.8 -6.7-3.9 -6.8-4 -6.7-4.1 -6.7-4.3 -6.7-4.4 -6.8-4.5 -6.7-4.6 -6.7-4.8 -6.7-4.9 -6.7-5 -6.7-5.1 -6.7-5.3 -6.8-5.4 -6.8-5.6 -6.7-5.6 -6.8-5.9 -6.9-5.9 -6.8-6.1 -6.9-6.2 -7-6.4 -6.9-6.5M176.9,225.5l7-1.5 6.8-1.5 6.8-1.6 6.8-1.8 6.7-1.8 6.7-1.9 6.6-2.1 6.6-2.1 6.6-2.2 6.5-2.4 6.5-2.4 6.4-2.6 6.5-2.7 6.4-2.7 6.4-2.9 6.3-3 6.4-3.1 6.3-3.2 6.3-3.4 6.3-3.4 6.3-3.5 6.3-3.7 6.3-3.8 6.3-3.9M245.7,236.1l-6.9-3.5 -6.8-3.6 -6.7-3.7 -6.8-3.9 -6.8-4 -6.7-4.1 -6.7-4.2 -6.7-4.4 -6.7-4.4 -6.7-4.6 -6.7-4.8 -6.7-4.8 -6.7-5 -6.7-5.1 -6.7-5.3 -6.8-5.4 -6.7-5.5 -6.8-5.6 -6.8-5.8 -6.8-5.9 -6.9-6.1 -6.8-6.2 -7-6.3 -6.9-6.5M174.8,224l6.9-1.4 6.9-1.5 6.8-1.6 6.8-1.7 6.7-1.8 6.7-1.9 6.6-2 6.6-2.1 6.6-2.2 6.5-2.3 6.5-2.5 6.4-2.5 6.5-2.6 6.4-2.8 6.4-2.8 6.3-3 6.4-3.1 6.3-3.1 6.3-3.3 6.3-3.4 6.3-3.6 6.3-3.6 6.3-3.7 6.3-3.9M247.8,235.4l-6.9-3.5 -6.8-3.6 -6.7-3.7 -6.8-3.8 -6.7-4 -6.8-4.1 -6.7-4.2 -6.7-4.3 -6.7-4.4 -6.7-4.6 -6.7-4.7 -6.6-4.8 -6.7-5 -6.7-5.1 -6.8-5.2 -6.7-5.4 -6.7-5.4 -6.8-5.7 -6.8-5.7 -6.8-5.9 -6.8-6 -6.9-6.2 -6.9-6.3 -6.9-6.4M172.6,222.6l7-1.4 6.8-1.5 6.9-1.5 6.8-1.7 6.7-1.8 6.7-1.8 6.6-2 6.6-2.1 6.6-2.2 6.5-2.3 6.5-2.4 6.4-2.5 6.5-2.6 6.4-2.7 6.4-2.8 6.3-3 6.4-3 6.3-3.2 6.3-3.2 6.3-3.4 6.3-3.5 6.3-3.6 6.3-3.7 6.2-3.8M249.9,234.6l-6.9-3.4 -6.8-3.6 -6.7-3.7 -6.8-3.8 -6.7-3.9 -6.8-4 -6.7-4.2 -6.7-4.3 -6.6-4.4 -6.7-4.6 -6.7-4.6 -6.7-4.8 -6.7-5 -6.7-5 -6.7-5.2 -6.7-5.4 -6.7-5.4 -6.8-5.6 -6.7-5.7 -6.8-5.9 -6.8-6 -6.9-6.1 -6.9-6.3 -6.9-6.4M170.4,221.1l7-1.3 6.9-1.5 6.8-1.5 6.8-1.6 6.8-1.8 6.7-1.8 6.6-2 6.6-2 6.6-2.2 6.5-2.2 6.5-2.4 6.5-2.5 6.4-2.6 6.4-2.7 6.4-2.8 6.3-2.9 6.4-3 6.3-3.1 6.3-3.2 6.3-3.4 6.3-3.4 6.3-3.6 6.3-3.7 6.2-3.8M252,233.8l-6.9-3.4 -6.8-3.5 -6.8-3.7 -6.7-3.7 -6.7-3.9 -6.7-4 -6.8-4.2 -6.6-4.2 -6.7-4.4 -6.7-4.5 -6.7-4.7 -6.6-4.8 -6.7-4.9 -6.7-5 -6.7-5.2 -6.7-5.3 -6.7-5.4 -6.8-5.5 -6.7-5.7 -6.8-5.9 -6.8-5.9 -6.8-6.1 -6.9-6.3 -6.9-6.3M168.3,219.6l6.9-1.3 7-1.4 6.8-1.5 6.8-1.6 6.7-1.7 6.7-1.8 6.7-1.9 6.6-2.1 6.6-2.1 6.5-2.2 6.5-2.4 6.5-2.4 6.4-2.6 6.4-2.6 6.4-2.8 6.3-2.9 6.4-3 6.3-3.1 6.3-3.2 6.3-3.3 6.3-3.4 6.3-3.6 6.3-3.6 6.2-3.8M254,233l-6.8-3.3 -6.8-3.5 -6.8-3.7 -6.7-3.7 -6.7-3.8 -6.7-4 -6.7-4.1 -6.7-4.3 -6.7-4.3 -6.7-4.5 -6.6-4.6 -6.7-4.8 -6.7-4.9 -6.6-5 -6.7-5.1 -6.7-5.3 -6.7-5.4 -6.8-5.5 -6.7-5.7 -6.8-5.8 -6.8-5.9 -6.8-6.1 -6.8-6.2 -6.9-6.3M166.1,218.2l7-1.3 6.9-1.4 6.9-1.5 6.8-1.6 6.7-1.6 6.7-1.8 6.7-1.9 6.6-2 6.6-2.1 6.5-2.2 6.5-2.3 6.5-2.4 6.4-2.6 6.4-2.6 6.4-2.7 6.4-2.9 6.3-2.9 6.3-3.1 6.3-3.2 6.3-3.3 6.3-3.4 6.3-3.5 6.3-3.6 6.2-3.8M256.1,232.2l-6.8-3.3 -6.8-3.5 -6.8-3.6 -6.7-3.7 -6.7-3.8 -6.7-3.9 -6.7-4.1 -6.7-4.2 -6.7-4.4 -6.6-4.4 -6.7-4.6 -6.7-4.7 -6.6-4.9 -6.7-4.9 -6.7-5.1 -6.6-5.3 -6.7-5.4 -6.8-5.5 -6.7-5.6 -6.7-5.8 -6.8-5.9 -6.8-6 -6.9-6.2 -6.8-6.3M164,216.7l6.9-1.3 7-1.3 6.8-1.5 6.8-1.5 6.8-1.7 6.7-1.7 6.7-1.9 6.6-2 6.6-2 6.5-2.2 6.5-2.3 6.5-2.4 6.4-2.5 6.4-2.6 6.4-2.7 6.4-2.8 6.3-2.9 6.3-3.1 6.3-3.1 6.3-3.3 6.3-3.4 6.3-3.5 6.3-3.6 6.2-3.7M258.2,231.4l-6.8-3.3 -6.8-3.4 -6.8-3.6 -6.7-3.6 -6.8-3.8 -6.7-4 -6.6-4 -6.7-4.2 -6.7-4.3 -6.6-4.4 -6.7-4.6 -6.6-4.7 -6.7-4.8 -6.6-4.9 -6.7-5.1 -6.7-5.2 -6.7-5.4 -6.7-5.4 -6.7-5.6 -6.7-5.8 -6.8-5.9 -6.8-6 -6.8-6.1 -6.9-6.3M161.8,215.2l7-1.3 6.9-1.3 6.9-1.4 6.8-1.5 6.8-1.7 6.7-1.7 6.7-1.8 6.6-1.9 6.6-2.1 6.5-2.1 6.5-2.3 6.5-2.3 6.4-2.5 6.4-2.6 6.4-2.7 6.4-2.8 6.3-2.9 6.4-3 6.3-3.1 6.3-3.2 6.2-3.4 6.3-3.4 6.3-3.6 6.2-3.7M260.3,230.6l-6.9-3.3 -6.8-3.4 -6.7-3.5 -6.7-3.6 -6.8-3.8 -6.7-3.9 -6.6-4 -6.7-4.2 -6.7-4.3 -6.6-4.4 -6.7-4.5 -6.6-4.6 -6.6-4.8 -6.7-4.9 -6.6-5.1 -6.7-5.2 -6.7-5.3 -6.7-5.4 -6.7-5.6 -6.7-5.7 -6.8-5.8 -6.8-6 -6.8-6.2 -6.8-6.2M159.7,213.6l6.9-1.2 7-1.2 6.9-1.4 6.8-1.5 6.8-1.6 6.7-1.7 6.6-1.8 6.7-1.9 6.6-2 6.5-2.2 6.5-2.2 6.5-2.3 6.4-2.4 6.5-2.6 6.4-2.6 6.3-2.8 6.4-2.9 6.3-3 6.3-3.1 6.3-3.2 6.3-3.3 6.2-3.4 6.3-3.6 6.3-3.6M262.3,229.8l-6.8-3.2 -6.8-3.4 -6.7-3.5 -6.8-3.6 -6.7-3.8 -6.7-3.9 -6.6-3.9 -6.7-4.2 -6.7-4.2 -6.6-4.4 -6.6-4.5 -6.7-4.6 -6.6-4.8 -6.6-4.8 -6.7-5.1 -6.6-5.1 -6.7-5.3 -6.7-5.4 -6.7-5.6 -6.7-5.6 -6.8-5.9 -6.7-5.9 -6.8-6.1 -6.9-6.2M157.5,212.1l7-1.2 6.9-1.2 6.9-1.4 6.9-1.4 6.7-1.6 6.8-1.7 6.6-1.8 6.7-1.8 6.6-2 6.5-2.1 6.5-2.2 6.5-2.3 6.5-2.4 6.4-2.5 6.4-2.6 6.3-2.8 6.4-2.8 6.3-3 6.3-3.1 6.3-3.1 6.3-3.3 6.3-3.4 6.2-3.5 6.3-3.7M264.4,229l-6.8-3.3 -6.8-3.3 -6.8-3.5 -6.7-3.6 -6.7-3.7 -6.7-3.8 -6.7-4 -6.6-4.1 -6.7-4.2 -6.6-4.3 -6.6-4.5 -6.7-4.6 -6.6-4.7 -6.6-4.9 -6.6-5 -6.7-5.1 -6.6-5.2 -6.7-5.4 -6.7-5.5 -6.7-5.7 -6.7-5.8 -6.8-5.9 -6.8-6.1 -6.8-6.2M155.3,210.5l7.1-1.1 6.9-1.2 6.9-1.3 6.8-1.5 6.8-1.5 6.8-1.6 6.6-1.8 6.7-1.8 6.6-2 6.5-2.1 6.6-2.1 6.4-2.3 6.5-2.4 6.4-2.5 6.4-2.6 6.4-2.7 6.3-2.8 6.3-2.9 6.3-3 6.3-3.2 6.3-3.3 6.3-3.3 6.2-3.5 6.3-3.6M266.5,228.1l-6.9-3.2 -6.7-3.3 -6.8-3.4 -6.7-3.6 -6.7-3.7 -6.7-3.8 -6.7-3.9 -6.6-4.1 -6.7-4.2 -6.6-4.3 -6.6-4.4 -6.6-4.6 -6.7-4.7 -6.6-4.8 -6.6-5 -6.6-5.1 -6.7-5.2 -6.7-5.3 -6.6-5.5 -6.7-5.6 -6.7-5.8 -6.8-5.9 -6.8-6 -6.8-6.2M153.2,209l7-1.1 7-1.2 6.9-1.3 6.8-1.4 6.8-1.5 6.7-1.6 6.7-1.7 6.7-1.9 6.6-1.9 6.5-2 6.6-2.2 6.5-2.2 6.4-2.3 6.4-2.5 6.4-2.6 6.4-2.7 6.3-2.7 6.4-2.9 6.3-3.1 6.3-3.1 6.2-3.2 6.3-3.4 6.3-3.4 6.2-3.6M268.5,227.3l-6.8-3.2 -6.8-3.3 -6.7-3.4 -6.8-3.5 -6.7-3.7 -6.6-3.8 -6.7-3.9 -6.6-4 -6.7-4.1 -6.6-4.3 -6.6-4.4 -6.6-4.6 -6.6-4.7 -6.7-4.7 -6.6-5 -6.6-5 -6.6-5.2 -6.7-5.4 -6.7-5.4 -6.6-5.6 -6.7-5.7 -6.8-5.9 -6.7-6 -6.8-6.2M151,207.4l7.1-1.1 6.9-1.1 6.9-1.3 6.9-1.4 6.8-1.4 6.7-1.6 6.7-1.7 6.7-1.8 6.6-1.9 6.6-2 6.5-2.1 6.5-2.2 6.4-2.3 6.5-2.5 6.4-2.5 6.3-2.7 6.4-2.7 6.3-2.9 6.3-3 6.3-3.1 6.3-3.2 6.2-3.3 6.3-3.4 6.3-3.6M270.6,226.4l-6.8-3.1 -6.8-3.3 -6.8-3.4 -6.7-3.5 -6.7-3.6 -6.7-3.7 -6.6-3.9 -6.7-4 -6.6-4.1 -6.6-4.3 -6.6-4.4 -6.6-4.5 -6.6-4.6 -6.6-4.8 -6.6-4.9 -6.7-5 -6.6-5.2 -6.6-5.3 -6.7-5.4 -6.7-5.6 -6.7-5.7 -6.7-5.8 -6.7-6 -6.8-6.1M148.9,205.8l7-1 7-1.1 6.9-1.3 6.9-1.3 6.8-1.5 6.7-1.5 6.7-1.7 6.7-1.7 6.6-1.9 6.6-2 6.5-2.1 6.5-2.1 6.5-2.3 6.4-2.4 6.4-2.6 6.4-2.6 6.3-2.7 6.3-2.9 6.4-2.9 6.2-3.1 6.3-3.2 6.3-3.3 6.2-3.4 6.3-3.5M272.6,225.5l-6.8-3.1 -6.8-3.2 -6.7-3.3 -6.7-3.5 -6.7-3.6 -6.7-3.7 -6.7-3.9 -6.6-4 -6.6-4.1 -6.6-4.2 -6.6-4.3 -6.6-4.5 -6.6-4.6 -6.6-4.8 -6.6-4.8 -6.6-5 -6.6-5.2 -6.7-5.3 -6.6-5.4 -6.7-5.5 -6.7-5.7 -6.7-5.8 -6.7-5.9 -6.8-6.1M146.7,204.2l7.1-1 6.9-1.1 7-1.2 6.8-1.3 6.9-1.4 6.7-1.5 6.7-1.7 6.7-1.7 6.6-1.8 6.6-2 6.5-2 6.5-2.2 6.5-2.3 6.4-2.3 6.4-2.5 6.4-2.6 6.4-2.7 6.3-2.8 6.3-3 6.3-3 6.3-3.2 6.2-3.2 6.3-3.4 6.2-3.5M274.7,224.7l-6.8-3.1 -6.8-3.2 -6.8-3.3 -6.7-3.5 -6.7-3.6 -6.6-3.6 -6.7-3.9 -6.6-3.9 -6.6-4.1 -6.6-4.2 -6.6-4.3 -6.6-4.5 -6.6-4.5 -6.6-4.7 -6.6-4.9 -6.6-5 -6.6-5.1 -6.6-5.2 -6.7-5.4 -6.6-5.5 -6.7-5.6 -6.7-5.8 -6.7-5.9 -6.8-6.1M144.5,202.6l7.1-1 7-1 6.9-1.2 6.9-1.3 6.8-1.4 6.8-1.5 6.7-1.6 6.7-1.7 6.6-1.8 6.6-1.9 6.5-2 6.6-2.2 6.4-2.2 6.5-2.3 6.4-2.5 6.3-2.6 6.4-2.6 6.3-2.8 6.3-2.9 6.3-3 6.3-3.2 6.3-3.2 6.2-3.4 6.3-3.4M276.7,223.8l-6.8-3.1 -6.8-3.2 -6.7-3.2 -6.7-3.5 -6.7-3.5 -6.7-3.7 -6.6-3.8 -6.6-3.9 -6.7-4 -6.6-4.2 -6.6-4.3 -6.5-4.4 -6.6-4.6 -6.6-4.6 -6.6-4.9 -6.6-4.9 -6.6-5.1 -6.6-5.2 -6.6-5.3 -6.7-5.5 -6.6-5.6 -6.7-5.8 -6.7-5.9 -6.8-6M142.4,201l7.1-1 7-1 6.9-1.2 6.9-1.2 6.8-1.4 6.8-1.4 6.7-1.6 6.7-1.7 6.6-1.7 6.6-1.9 6.6-2 6.5-2.1 6.5-2.2 6.4-2.4 6.4-2.4 6.4-2.5 6.3-2.7 6.4-2.7 6.3-2.9 6.3-3 6.3-3.1 6.2-3.2 6.3-3.3 6.2-3.5M278.8,222.9l-6.8-3.1 -6.8-3.1 -6.8-3.3 -6.7-3.3 -6.7-3.6 -6.6-3.6 -6.7-3.8 -6.6-3.8 -6.6-4.1 -6.6-4.1 -6.6-4.3 -6.6-4.4 -6.5-4.5 -6.6-4.6 -6.6-4.8 -6.6-4.9 -6.6-5.1 -6.6-5.2 -6.6-5.3 -6.6-5.4 -6.7-5.6 -6.6-5.7 -6.7-5.9 -6.7-6M140.2,199.4l7.1-1 7-1 7-1.1 6.9-1.2 6.8-1.3 6.8-1.5 6.7-1.5 6.7-1.7 6.6-1.7 6.6-1.9 6.6-1.9 6.5-2.1 6.5-2.2 6.4-2.3 6.4-2.4 6.4-2.5 6.4-2.6 6.3-2.7 6.3-2.9 6.3-2.9 6.3-3.1 6.3-3.2 6.2-3.3 6.3-3.4M280.8,221.9l-6.8-2.9 -6.8-3.2 -6.7-3.2 -6.7-3.3 -6.7-3.5 -6.7-3.6 -6.6-3.8 -6.6-3.8 -6.6-4 -6.6-4.1 -6.6-4.3 -6.6-4.3 -6.5-4.5 -6.6-4.6 -6.6-4.8 -6.6-4.9 -6.5-5 -6.6-5.2 -6.6-5.3 -6.7-5.4 -6.6-5.5 -6.7-5.7 -6.6-5.9 -6.8-5.9M138.1,197.7l7-.9 7.1-1 6.9-1.1 6.9-1.1 6.9-1.3 6.8-1.5 6.7-1.5 6.7-1.6 6.7-1.7 6.6-1.8 6.5-2 6.5-2 6.5-2.2 6.5-2.2 6.4-2.4 6.4-2.5 6.3-2.6 6.4-2.7 6.3-2.8 6.3-2.9 6.3-3.1 6.2-3.1 6.3-3.3 6.2-3.4M282.9,221l-6.9-2.9 -6.7-3.1 -6.8-3.2 -6.7-3.4 -6.7-3.4 -6.6-3.6 -6.7-3.7 -6.6-3.8 -6.6-4 -6.6-4.1 -6.5-4.2 -6.6-4.3 -6.6-4.5 -6.5-4.6 -6.6-4.7 -6.5-4.9 -6.6-4.9 -6.6-5.2 -6.6-5.2 -6.6-5.4 -6.6-5.6 -6.7-5.6 -6.7-5.8 -6.7-5.9M135.9,196l7.1-.8 7-1 7-1 6.9-1.2 6.9-1.3 6.8-1.3 6.7-1.5 6.7-1.6 6.7-1.7 6.6-1.8 6.5-1.9 6.6-2 6.5-2.1 6.4-2.3 6.4-2.3 6.4-2.5 6.4-2.5 6.3-2.7 6.3-2.8 6.3-2.9 6.3-3 6.3-3.1 6.2-3.3 6.3-3.3M284.9,220.1l-6.8-2.9 -6.8-3.1 -6.7-3.2 -6.7-3.3 -6.7-3.4 -6.7-3.5 -6.6-3.7 -6.6-3.8 -6.6-3.9 -6.6-4.1 -6.6-4.2 -6.5-4.3 -6.6-4.4 -6.5-4.6 -6.6-4.7 -6.5-4.8 -6.6-5 -6.6-5.1 -6.6-5.2 -6.6-5.4 -6.6-5.5 -6.6-5.6 -6.7-5.8 -6.7-5.9M133.7,194.4l7.1-.9 7.1-.9 7-1 6.9-1.1 6.9-1.3 6.8-1.3 6.7-1.5 6.7-1.5 6.7-1.7 6.6-1.8 6.6-1.8 6.5-2 6.5-2.1 6.5-2.2 6.4-2.4 6.4-2.4 6.3-2.5 6.4-2.7 6.3-2.7 6.3-2.9 6.3-3 6.2-3.1 6.3-3.2 6.2-3.3M286.9,219.1l-6.8-2.9 -6.7-3 -6.8-3.1 -6.7-3.3 -6.7-3.4 -6.6-3.5 -6.7-3.7 -6.6-3.7 -6.6-3.9 -6.5-4.1 -6.6-4.1 -6.6-4.3 -6.5-4.4 -6.6-4.5 -6.5-4.7 -6.6-4.8 -6.5-4.9 -6.6-5.1 -6.5-5.2 -6.6-5.4 -6.6-5.4 -6.7-5.6 -6.6-5.8 -6.7-5.8M131.6,192.7l7.1-.8 7-.9 7-1 7-1.1 6.8-1.2 6.9-1.3 6.7-1.5 6.7-1.5 6.7-1.6 6.6-1.8 6.6-1.8 6.5-2 6.5-2 6.5-2.2 6.4-2.3 6.4-2.4 6.4-2.5 6.3-2.6 6.3-2.8 6.3-2.8 6.3-3 6.3-3 6.2-3.2 6.3-3.3M289,218.2l-6.8-2.9 -6.8-3 -6.8-3.1 -6.7-3.2 -6.6-3.4 -6.7-3.5 -6.6-3.6 -6.6-3.8 -6.6-3.8 -6.6-4 -6.5-4.1 -6.6-4.3 -6.5-4.4 -6.6-4.5 -6.5-4.6 -6.6-4.8 -6.5-4.9 -6.6-5.1 -6.5-5.1 -6.6-5.3 -6.6-5.5 -6.6-5.6 -6.7-5.7 -6.6-5.8M129.4,191l7.1-.8 7.1-.8 7-1 6.9-1.1 6.9-1.2 6.9-1.3 6.7-1.4 6.8-1.4 6.6-1.7 6.6-1.7 6.6-1.8 6.6-1.9 6.5-2.1 6.4-2.1 6.5-2.3 6.4-2.3 6.3-2.5 6.4-2.6 6.3-2.7 6.3-2.8 6.3-3 6.3-3 6.2-3.2 6.2-3.2M291,217.2l-6.8-2.8 -6.8-3 -6.7-3.1 -6.7-3.2 -6.7-3.3 -6.6-3.5 -6.7-3.6 -6.6-3.7 -6.6-3.8 -6.5-4 -6.6-4.1 -6.5-4.2 -6.6-4.4 -6.5-4.5 -6.5-4.6 -6.6-4.7 -6.5-4.9 -6.6-5 -6.5-5.2 -6.6-5.2 -6.6-5.4 -6.6-5.6 -6.6-5.7 -6.7-5.8M127.2,189.3l7.2-.8 7-.8 7.1-.9 6.9-1.1 6.9-1.1 6.8-1.3 6.8-1.4 6.8-1.4 6.6-1.6 6.7-1.7 6.6-1.8 6.5-1.9 6.5-2 6.5-2.1 6.4-2.2 6.4-2.4 6.4-2.4 6.3-2.6 6.4-2.7 6.3-2.8 6.3-2.9 6.2-3 6.3-3.1 6.2-3.3M293,216.2l-6.8-2.8 -6.8-2.9 -6.7-3.1 -6.7-3.2 -6.7-3.3 -6.6-3.4 -6.6-3.6 -6.6-3.6 -6.6-3.8 -6.6-4 -6.5-4.1 -6.6-4.2 -6.5-4.3 -6.5-4.4 -6.6-4.6 -6.5-4.7 -6.5-4.9 -6.6-5 -6.5-5.1 -6.6-5.2 -6.5-5.4 -6.6-5.5 -6.7-5.7 -6.6-5.8M125.1,187.5l7.1-.7 7.1-.8 7-.9 7-1 6.9-1.1 6.8-1.2 6.8-1.4 6.8-1.4 6.7-1.6 6.6-1.6 6.6-1.8 6.5-1.9 6.6-1.9 6.4-2.1 6.5-2.2 6.4-2.3 6.4-2.5 6.3-2.5 6.3-2.7 6.3-2.7 6.3-2.9 6.3-3 6.2-3.1 6.3-3.2M295.1,215.3l-6.9-2.8 -6.7-2.9 -6.8-3.1 -6.7-3.1 -6.6-3.3 -6.7-3.4 -6.6-3.5 -6.6-3.7 -6.6-3.8 -6.5-3.9 -6.6-4 -6.5-4.2 -6.5-4.3 -6.6-4.4 -6.5-4.6 -6.5-4.7 -6.5-4.8 -6.6-4.9 -6.5-5.1 -6.6-5.3 -6.5-5.3 -6.6-5.5 -6.6-5.6 -6.6-5.8M122.9,185.8l7.2-.7 7.1-.7 7-.9 7-1 6.9-1.1 6.8-1.2 6.8-1.3 6.8-1.4 6.7-1.5 6.6-1.7 6.6-1.7 6.6-1.8 6.5-2 6.5-2.1 6.4-2.1 6.4-2.3 6.4-2.4 6.4-2.5 6.3-2.6 6.3-2.8 6.3-2.8 6.3-3 6.2-3.1 6.2-3.2M297.1,214.3l-6.8-2.8 -6.8-2.9 -6.7-3 -6.7-3.1 -6.7-3.3 -6.7-3.3 -6.6-3.5 -6.6-3.7 -6.5-3.7 -6.6-3.9 -6.5-4 -6.6-4.1 -6.5-4.3 -6.5-4.4 -6.5-4.5 -6.5-4.7 -6.6-4.8 -6.5-4.9 -6.5-5.1 -6.5-5.2 -6.6-5.3 -6.6-5.5 -6.6-5.6 -6.6-5.7M120.7,184.1l7.2-.7 7.1-.7 7.1-.9 6.9-.9 7-1.1 6.8-1.2 6.8-1.2 6.8-1.4 6.7-1.5 6.6-1.6 6.6-1.7 6.6-1.8 6.5-2 6.5-2 6.5-2.1 6.4-2.3 6.4-2.4 6.3-2.5 6.4-2.5 6.3-2.8 6.3-2.8 6.2-2.9 6.3-3.1 6.2-3.1M299.1,213.2l-6.8-2.7 -6.8-2.8 -6.7-3 -6.7-3.1 -6.7-3.2 -6.6-3.4 -6.6-3.4 -6.6-3.6 -6.6-3.8 -6.6-3.8 -6.5-4 -6.5-4.1 -6.5-4.3 -6.6-4.3 -6.5-4.5 -6.5-4.7 -6.5-4.7 -6.5-4.9 -6.5-5.1 -6.5-5.1 -6.6-5.3 -6.6-5.5 -6.5-5.5 -6.6-5.7M118.5,182.3l7.2-.6 7.2-.7 7-.9 7-.9 6.9-1 6.9-1.2 6.8-1.2 6.8-1.4 6.7-1.4 6.7-1.6 6.6-1.7 6.5-1.8 6.6-1.8 6.5-2.1 6.4-2.1 6.4-2.2 6.4-2.3 6.4-2.5 6.3-2.6 6.3-2.6 6.3-2.8 6.3-2.9 6.3-3.1 6.2-3.1M301.1,212.2l-6.8-2.7 -6.8-2.8 -6.7-2.9 -6.7-3.1 -6.7-3.2 -6.6-3.3 -6.6-3.5 -6.6-3.5 -6.6-3.7 -6.5-3.9 -6.6-3.9 -6.5-4.1 -6.5-4.2 -6.5-4.3 -6.5-4.5 -6.5-4.6 -6.5-4.8 -6.5-4.8 -6.5-5 -6.5-5.2 -6.6-5.2 -6.5-5.4 -6.6-5.6 -6.6-5.7M116.4,180.5l7.2-.6 7.1-.7 7.1-.7 7-.9 6.9-1 6.9-1.2 6.8-1.2 6.8-1.3 6.7-1.4 6.7-1.6 6.6-1.6 6.6-1.8 6.5-1.8 6.5-2 6.5-2.1 6.4-2.2 6.4-2.3 6.4-2.5 6.3-2.5 6.3-2.6 6.3-2.8 6.3-2.9 6.2-3 6.3-3.1M303.2,211.2l-6.9-2.7 -6.7-2.8 -6.8-2.9 -6.7-3 -6.6-3.2 -6.7-3.3 -6.6-3.4 -6.6-3.5 -6.5-3.7 -6.6-3.8 -6.5-3.9 -6.5-4.1 -6.5-4.2 -6.5-4.3 -6.5-4.4 -6.5-4.6 -6.5-4.7 -6.5-4.8 -6.5-5 -6.6-5.1 -6.5-5.3 -6.5-5.3 -6.6-5.6 -6.6-5.6M114.2,178.7l7.2-.5 7.1-.7 7.1-.7 7-.9 7-1 6.9-1.1 6.8-1.2 6.8-1.3 6.7-1.4 6.7-1.5 6.6-1.6 6.6-1.7 6.6-1.9 6.5-1.9 6.4-2.1 6.5-2.1 6.4-2.3 6.3-2.4 6.4-2.5 6.3-2.7 6.3-2.7 6.3-2.9 6.2-2.9 6.2-3.1M305.2,210.2l-6.8-2.7 -6.8-2.7 -6.8-2.9 -6.7-3 -6.6-3.2 -6.7-3.2 -6.6-3.4 -6.6-3.5 -6.5-3.7 -6.6-3.7 -6.5-3.9 -6.5-4.1 -6.5-4.1 -6.5-4.3 -6.5-4.4 -6.5-4.6 -6.5-4.7 -6.5-4.8 -6.5-4.9 -6.5-5.1 -6.5-5.2 -6.5-5.4 -6.6-5.4 -6.6-5.7M112,176.9l7.2-.5 7.2-.6 7.1-.8 7-.8 7-.9 6.9-1.1 6.8-1.2 6.8-1.2 6.7-1.4 6.7-1.5 6.7-1.6 6.6-1.7 6.5-1.8 6.5-1.9 6.5-2 6.4-2.2 6.4-2.2 6.4-2.4 6.3-2.5 6.4-2.6 6.3-2.7 6.2-2.8 6.3-3 6.2-3M307.2,209.1l-6.8-2.6 -6.8-2.7 -6.7-2.9 -6.7-3 -6.7-3.1 -6.6-3.2 -6.7-3.4 -6.5-3.5 -6.6-3.6 -6.5-3.7 -6.6-3.9 -6.5-4 -6.5-4.1 -6.5-4.3 -6.4-4.4 -6.5-4.5 -6.5-4.6 -6.5-4.8 -6.5-4.9 -6.5-5.1 -6.5-5.2 -6.5-5.3 -6.6-5.4 -6.5-5.6M109.8,175.1l7.3-.5 7.1-.6 7.1-.7 7.1-.8 6.9-.9 7-1 6.8-1.2 6.8-1.2 6.8-1.3 6.7-1.5 6.6-1.6 6.6-1.6 6.6-1.8 6.5-1.9 6.4-2 6.5-2.1 6.4-2.3 6.4-2.3 6.3-2.5 6.3-2.5 6.3-2.7 6.3-2.8 6.3-2.9 6.2-3M309.2,208l-6.8-2.5 -6.8-2.7 -6.7-2.9 -6.7-2.9 -6.7-3.1 -6.6-3.2 -6.6-3.3 -6.6-3.5 -6.6-3.6 -6.5-3.7 -6.5-3.8 -6.5-4 -6.5-4.1 -6.5-4.2 -6.5-4.4 -6.5-4.5 -6.5-4.6 -6.4-4.8 -6.5-4.9 -6.5-5 -6.5-5.1 -6.5-5.3 -6.6-5.5 -6.5-5.5M107.6,173.3l7.3-.5 7.2-.6 7.1-.6 7-.8 7-.9 6.9-1 6.9-1.1 6.8-1.2 6.8-1.3 6.7-1.4 6.6-1.6 6.6-1.6 6.6-1.8 6.5-1.8 6.5-2 6.4-2.1 6.5-2.2 6.3-2.3 6.4-2.4 6.3-2.6 6.3-2.6 6.3-2.8 6.3-2.9 6.2-3M311.2,207l-6.8-2.6 -6.8-2.7 -6.7-2.8 -6.7-2.9 -6.7-3 -6.6-3.2 -6.6-3.3 -6.6-3.4 -6.6-3.6 -6.5-3.7 -6.5-3.8 -6.5-3.9 -6.5-4.1 -6.5-4.2 -6.5-4.3 -6.4-4.5 -6.5-4.6 -6.5-4.7 -6.4-4.9 -6.5-5 -6.5-5.1 -6.5-5.3 -6.6-5.4 -6.5-5.5M105.4,171.4l7.3-.4 7.2-.5 7.1-.7 7.1-.7 7-.9 6.9-.9 6.9-1.1 6.8-1.2 6.8-1.3 6.7-1.4 6.7-1.5 6.6-1.6 6.5-1.7 6.6-1.9 6.5-1.9 6.4-2.1 6.4-2.2 6.4-2.2 6.4-2.4 6.3-2.6 6.3-2.6 6.3-2.7 6.2-2.9 6.3-3M313.3,205.9l-6.9-2.5 -6.8-2.7 -6.7-2.8 -6.7-2.9 -6.7-3 -6.6-3.1 -6.6-3.3 -6.6-3.4 -6.6-3.5 -6.5-3.7 -6.5-3.8 -6.5-3.9 -6.5-4 -6.5-4.2 -6.4-4.3 -6.5-4.4 -6.5-4.6 -6.4-4.7 -6.5-4.8 -6.5-5 -6.4-5.1 -6.5-5.2 -6.6-5.4 -6.5-5.5M103.3,169.6l7.2-.4 7.2-.5 7.2-.7 7.1-.7 7-.8 6.9-.9 6.9-1.1 6.8-1.1 6.8-1.3 6.7-1.3 6.7-1.5 6.6-1.6 6.6-1.7 6.5-1.8 6.5-1.9 6.5-2.1 6.4-2.1 6.4-2.3 6.3-2.3 6.4-2.5 6.3-2.6 6.3-2.7 6.2-2.9 6.3-2.9M315.3,204.8l-6.9-2.5 -6.8-2.6 -6.7-2.8 -6.7-2.8 -6.7-3 -6.6-3.1 -6.6-3.3 -6.6-3.4 -6.5-3.5 -6.6-3.6 -6.5-3.7 -6.5-3.9 -6.5-4 -6.4-4.2 -6.5-4.3 -6.4-4.4 -6.5-4.5 -6.5-4.7 -6.4-4.8 -6.5-4.9 -6.5-5.1 -6.5-5.2 -6.5-5.4 -6.5-5.4M101.1,167.7l7.3-.4 7.2-.4 7.1-.6 7.1-.7 7-.8 7-.9 6.9-1 6.8-1.1 6.8-1.3 6.7-1.3 6.7-1.5 6.6-1.5 6.6-1.7 6.6-1.8 6.5-1.9 6.4-2 6.5-2.1 6.3-2.2 6.4-2.4 6.3-2.4 6.4-2.6 6.2-2.7 6.3-2.8 6.3-2.9M317.3,203.7l-6.9-2.5 -6.7-2.6 -6.8-2.7 -6.7-2.8 -6.7-3 -6.6-3.1 -6.6-3.2 -6.6-3.3 -6.5-3.5 -6.6-3.6 -6.5-3.7 -6.5-3.9 -6.4-4 -6.5-4.1 -6.5-4.2 -6.4-4.4 -6.5-4.5 -6.4-4.7 -6.5-4.8 -6.4-4.9 -6.5-5 -6.5-5.2 -6.5-5.3 -6.5-5.5M98.9,165.8l7.3-.3 7.2-.5 7.2-.5 7.1-.7 7-.7 7-.9 6.9-1 6.8-1.1 6.8-1.2 6.8-1.3 6.6-1.4 6.7-1.6 6.6-1.6 6.5-1.8 6.5-1.8 6.5-2 6.4-2.1 6.4-2.2 6.4-2.3 6.3-2.4 6.3-2.6 6.3-2.6 6.3-2.8 6.3-2.9M319.3,202.6l-6.8-2.5 -6.8-2.5 -6.8-2.7 -6.7-2.8 -6.7-3 -6.6-3 -6.6-3.2 -6.6-3.3 -6.5-3.5 -6.6-3.5 -6.5-3.7 -6.4-3.9 -6.5-3.9 -6.5-4.1 -6.4-4.2 -6.5-4.4 -6.4-4.5 -6.5-4.6 -6.4-4.7 -6.5-4.9 -6.4-5 -6.5-5.2 -6.5-5.3 -6.5-5.4M96.7,163.9l7.3-.3 7.2-.4 7.2-.5 7.1-.7 7.1-.7 7-.8 6.9-1 6.8-1.1 6.8-1.1 6.8-1.3 6.7-1.4 6.6-1.5 6.6-1.6 6.6-1.7 6.5-1.9 6.5-1.9 6.4-2.1 6.4-2.2 6.4-2.3 6.3-2.4 6.3-2.5 6.3-2.6 6.3-2.8 6.3-2.8M321.3,201.4l-6.8-2.4 -6.8-2.5 -6.8-2.7 -6.7-2.7 -6.7-2.9 -6.6-3.1 -6.6-3.1 -6.6-3.3 -6.5-3.4 -6.5-3.6 -6.5-3.6 -6.5-3.9 -6.5-3.9 -6.5-4 -6.4-4.2 -6.5-4.4 -6.4-4.4 -6.4-4.6 -6.5-4.7 -6.4-4.9 -6.5-5 -6.4-5.1 -6.5-5.3 -6.5-5.4M94.5,162l7.3-.3 7.3-.4 7.2-.4 7.1-.6 7-.8 7-.8 7-.9 6.8-1 6.8-1.2 6.8-1.2 6.7-1.4 6.6-1.5 6.7-1.5 6.5-1.7 6.5-1.8 6.5-2 6.5-2 6.4-2.2 6.3-2.2 6.4-2.4 6.3-2.5 6.3-2.6 6.3-2.7 6.2-2.8M323.3,200.3l-6.8-2.4 -6.8-2.5 -6.8-2.6 -6.7-2.8 -6.7-2.8 -6.6-3 -6.6-3.2 -6.6-3.2 -6.5-3.4 -6.5-3.5 -6.5-3.7 -6.5-3.7 -6.5-4 -6.4-4 -6.5-4.2 -6.4-4.2 -6.5-4.5 -6.4-4.5 -6.4-4.7 -6.5-4.9 -6.4-4.9 -6.5-5.1 -6.4-5.3 -6.5-5.3M92.3,160.1l7.3-.3 7.3-.3 7.2-.5 7.1-.6 7.1-.6 7-.8 6.9-.9 6.9-1 6.8-1.1 6.8-1.2 6.7-1.4 6.7-1.4 6.6-1.6 6.6-1.7 6.5-1.7 6.5-1.9 6.4-2 6.4-2.2 6.4-2.2 6.4-2.3 6.3-2.5 6.3-2.6 6.3-2.7 6.2-2.8M325.3,199.2l-6.8-2.4 -6.8-2.5 -6.8-2.6 -6.7-2.7 -6.7-2.8 -6.6-3 -6.6-3.1 -6.6-3.2 -6.5-3.4 -6.5-3.5 -6.5-3.6 -6.5-3.8 -6.5-3.8 -6.4-4 -6.5-4.2 -6.4-4.2 -6.4-4.4 -6.5-4.6 -6.4-4.6 -6.4-4.8 -6.5-5 -6.4-5.1 -6.5-5.2 -6.4-5.3M90.1,158.1l7.3-.2 7.3-.3 7.2-.4 7.2-.6 7.1-.6 7-.8 6.9-.8 6.9-1 6.8-1.1 6.8-1.2 6.7-1.3 6.7-1.4 6.6-1.5 6.6-1.7 6.5-1.7 6.5-1.9 6.5-2 6.4-2.1 6.4-2.2 6.4-2.3 6.3-2.4 6.3-2.6 6.3-2.6 6.2-2.8M327.3,198l-6.8-2.3 -6.8-2.5 -6.8-2.5 -6.7-2.7 -6.7-2.9 -6.6-2.9 -6.6-3.1 -6.6-3.2 -6.5-3.3 -6.5-3.5 -6.5-3.6 -6.5-3.7 -6.5-3.8 -6.4-4 -6.5-4.1 -6.4-4.3 -6.4-4.3 -6.4-4.5 -6.5-4.7 -6.4-4.7 -6.4-5 -6.5-5 -6.4-5.2 -6.5-5.3M87.8,156.2l7.4-.2 7.3-.3 7.3-.4 7.1-.5 7.1-.6 7-.7 7-.9 6.9-.9 6.8-1.1 6.8-1.1 6.8-1.3 6.6-1.4 6.7-1.5 6.6-1.6 6.5-1.7 6.5-1.9 6.5-1.9 6.4-2.1 6.4-2.2 6.3-2.3 6.4-2.4 6.3-2.5 6.3-2.6 6.2-2.8M329.3,196.8l-6.8-2.3 -6.8-2.4 -6.8-2.5 -6.7-2.7 -6.7-2.8 -6.6-2.9 -6.6-3 -6.6-3.2 -6.5-3.3 -6.5-3.5 -6.5-3.5 -6.5-3.7 -6.5-3.8 -6.4-4 -6.5-4.1 -6.4-4.2 -6.4-4.3 -6.4-4.5 -6.4-4.6 -6.4-4.8 -6.5-4.8 -6.4-5 -6.4-5.2 -6.5-5.3M85.6,154.2l7.4-.1 7.4-.3 7.2-.4 7.2-.4 7.1-.6 7-.7 7-.8 6.9-.9 6.8-1.1 6.8-1.1 6.8-1.3 6.7-1.3 6.6-1.5 6.6-1.6 6.6-1.7 6.5-1.8 6.4-1.9 6.5-2 6.4-2.2 6.3-2.3 6.4-2.3 6.3-2.5 6.3-2.6 6.2-2.8M331.4,195.6l-6.9-2.2 -6.8-2.4 -6.8-2.5 -6.7-2.7 -6.7-2.7 -6.6-2.9 -6.6-3 -6.6-3.2 -6.5-3.3 -6.5-3.4 -6.5-3.5 -6.5-3.6 -6.5-3.8 -6.4-4 -6.4-4 -6.5-4.2 -6.4-4.3 -6.4-4.5 -6.4-4.6 -6.4-4.7 -6.4-4.8 -6.5-5 -6.4-5.1 -6.4-5.3M83.4,152.2l7.4-.1 7.4-.2 7.2-.3 7.2-.5 7.1-.6 7.1-.6 7-.8 6.9-.9 6.8-1 6.9-1.1 6.7-1.2 6.7-1.3 6.7-1.5 6.6-1.5 6.5-1.7 6.5-1.8 6.5-1.9 6.4-2 6.4-2.1 6.4-2.3 6.4-2.3 6.3-2.5 6.3-2.6 6.2-2.7M333.4,194.4l-6.9-2.2 -6.8-2.3 -6.8-2.5 -6.7-2.6 -6.7-2.8 -6.6-2.8 -6.6-3 -6.6-3.1 -6.5-3.3 -6.6-3.4 -6.4-3.5 -6.5-3.6 -6.5-3.8 -6.4-3.9 -6.4-4 -6.5-4.1 -6.4-4.3 -6.4-4.5 -6.4-4.5 -6.4-4.7 -6.4-4.8 -6.4-5 -6.4-5.1 -6.5-5.2M81.2,150.3l7.4-.1 7.4-.2 7.3-.3 7.2-.5 7.1-.5 7-.6 7-.8 7-.8 6.8-1 6.9-1.1 6.7-1.2 6.7-1.3 6.7-1.4 6.6-1.5 6.6-1.7 6.5-1.7 6.5-1.9 6.4-2 6.4-2.1 6.4-2.2 6.3-2.3 6.4-2.4 6.3-2.6 6.2-2.7M335.4,193.2l-6.9-2.2 -6.8-2.3 -6.8-2.4 -6.7-2.6 -6.7-2.7 -6.6-2.9 -6.6-2.9 -6.6-3.1 -6.5-3.2 -6.6-3.4 -6.5-3.5 -6.4-3.6 -6.5-3.7 -6.4-3.9 -6.4-4 -6.4-4.1 -6.5-4.3 -6.4-4.4 -6.4-4.5 -6.4-4.7 -6.4-4.7 -6.4-5 -6.4-5 -6.4-5.2M79,148.3l7.4-.1 7.4-.2 7.3-.3 7.2-.3 7.1-.5 7.1-.7 7-.7 7-.8 6.8-.9 6.9-1.1 6.7-1.2 6.8-1.2 6.6-1.4 6.6-1.5 6.6-1.6 6.5-1.8 6.5-1.8 6.5-1.9 6.4-2.1 6.4-2.2 6.3-2.3 6.4-2.4 6.3-2.5 6.2-2.7M337.4,192l-6.9-2.1 -6.8-2.3 -6.8-2.5 -6.7-2.5 -6.7-2.7 -6.6-2.8 -6.6-2.9 -6.6-3.1 -6.6-3.2 -6.5-3.3 -6.5-3.5 -6.4-3.5 -6.5-3.8 -6.4-3.8 -6.4-4 -6.4-4.1 -6.4-4.2 -6.4-4.4 -6.4-4.5 -6.4-4.6 -6.4-4.8 -6.4-4.9 -6.4-5 -6.5-5.2M76.8,146.2l7.4 0 7.4-.1 7.3-.3 7.2-.3 7.2-.5 7.1-.6 7-.7 6.9-.8 6.9-.9 6.9-1 6.8-1.1 6.7-1.3 6.7-1.3 6.6-1.5 6.6-1.6 6.5-1.7 6.5-1.8 6.5-1.9 6.4-2.1 6.4-2.1 6.3-2.3 6.4-2.4 6.3-2.5 6.2-2.6M339.4,190.8l-6.9-2.1 -6.8-2.3 -6.8-2.4 -6.7-2.5 -6.7-2.7 -6.6-2.8 -6.7-2.9 -6.5-3 -6.6-3.2 -6.5-3.3 -6.5-3.4 -6.4-3.5 -6.5-3.7 -6.4-3.8 -6.4-4 -6.4-4 -6.4-4.2 -6.4-4.4 -6.4-4.5 -6.4-4.6 -6.4-4.7 -6.4-4.9 -6.4-5 -6.4-5.1M74.5,144.2l7.5 0 7.4-.1 7.3-.2 7.3-.4 7.1-.4 7.1-.5 7.1-.7 6.9-.8 6.9-.9 6.9-.9 6.8-1.2 6.7-1.2 6.7-1.3 6.6-1.4 6.6-1.6 6.6-1.7 6.5-1.8 6.4-1.8 6.5-2.1 6.4-2.1 6.3-2.2 6.4-2.4 6.3-2.5 6.2-2.6M341.4,189.6l-6.9-2.2 -6.8-2.2 -6.8-2.4 -6.7-2.5 -6.7-2.6 -6.7-2.7 -6.6-2.9 -6.5-3 -6.6-3.1 -6.5-3.3 -6.5-3.4 -6.5-3.5 -6.4-3.7 -6.4-3.8 -6.4-3.9 -6.4-4 -6.4-4.2 -6.4-4.3 -6.4-4.5 -6.4-4.5 -6.4-4.8 -6.4-4.8 -6.4-5 -6.4-5.1M72.3,142.2l7.5 0 7.4-.1 7.3-.2 7.3-.3 7.2-.4 7.1-.5 7-.6 7-.8 6.9-.8 6.9-1 6.8-1.1 6.7-1.2 6.7-1.3 6.7-1.4 6.6-1.5 6.5-1.6 6.5-1.8 6.5-1.9 6.4-2 6.4-2.1 6.4-2.2 6.3-2.3 6.4-2.5 6.3-2.5M343.4,188.3l-6.9-2.1 -6.8-2.2 -6.8-2.3 -6.7-2.5 -6.7-2.6 -6.7-2.7 -6.6-2.9 -6.6-2.9 -6.5-3.1 -6.5-3.3 -6.5-3.3 -6.5-3.5 -6.4-3.7 -6.4-3.7 -6.4-3.9 -6.4-4 -6.4-4.2 -6.4-4.3 -6.4-4.4 -6.4-4.5 -6.4-4.7 -6.3-4.8 -6.4-5 -6.4-5.1M70.1,140.1l7.5 .1 7.4-.1 7.3-.1 7.3-.3 7.2-.4 7.1-.5 7.1-.6 7-.7 6.9-.8 6.9-1 6.8-1 6.7-1.2 6.8-1.2 6.6-1.4 6.6-1.5 6.6-1.6 6.5-1.8 6.5-1.8 6.4-2 6.4-2 6.4-2.2 6.3-2.3 6.4-2.5 6.3-2.5M345.4,187.1l-6.9-2.1 -6.8-2.2 -6.8-2.3 -6.7-2.4 -6.7-2.6 -6.7-2.7 -6.6-2.8 -6.6-3 -6.5-3 -6.5-3.3 -6.5-3.3 -6.5-3.5 -6.4-3.6 -6.5-3.7 -6.4-3.8 -6.4-4 -6.3-4.2 -6.4-4.2 -6.4-4.4 -6.4-4.5 -6.3-4.7 -6.4-4.8 -6.4-4.9 -6.4-5.1M67.8,138l7.5 .1 7.5 0 7.3-.1 7.3-.3 7.2-.3 7.2-.5 7-.5 7.1-.7 6.9-.8 6.9-.9 6.8-1 6.8-1.2 6.7-1.2 6.6-1.4 6.7-1.5 6.5-1.5 6.6-1.7 6.4-1.9 6.5-1.9 6.4-2 6.4-2.2 6.3-2.3 6.4-2.4 6.3-2.5M347.4,185.8l-6.9-2 -6.8-2.2 -6.8-2.3 -6.7-2.4 -6.7-2.5 -6.7-2.7 -6.6-2.8 -6.6-2.9 -6.5-3.1 -6.6-3.1 -6.4-3.4 -6.5-3.4 -6.4-3.6 -6.5-3.7 -6.4-3.8 -6.4-4 -6.3-4.1 -6.4-4.2 -6.4-4.4 -6.4-4.5 -6.3-4.6 -6.4-4.7 -6.4-4.9 -6.4-5.1M65.6,135.9l7.5 .2 7.5 0 7.3-.1 7.3-.2 7.3-.4 7.1-.4 7.1-.5 7-.7 7-.7 6.9-.9 6.8-1 6.8-1.1 6.7-1.2 6.7-1.4 6.6-1.4 6.6-1.6 6.5-1.6 6.5-1.8 6.5-1.9 6.4-2 6.4-2.2 6.3-2.2 6.4-2.4 6.3-2.5M349.4,184.5l-6.9-2 -6.8-2.1 -6.8-2.3 -6.8-2.4 -6.7-2.5 -6.6-2.6 -6.6-2.8 -6.6-2.9 -6.6-3 -6.5-3.1 -6.5-3.3 -6.4-3.4 -6.5-3.6 -6.4-3.7 -6.4-3.8 -6.4-3.9 -6.4-4.1 -6.3-4.2 -6.4-4.3 -6.3-4.5 -6.4-4.6 -6.4-4.7 -6.3-4.9 -6.4-5M63.3,133.8l7.6 .2 7.5 0 7.3 0 7.4-.2 7.2-.3 7.2-.4 7.1-.5 7-.6 7-.8 6.9-.8 6.8-1 6.8-1.1 6.7-1.1 6.7-1.3 6.7-1.5 6.5-1.5 6.6-1.6 6.5-1.8 6.4-1.9 6.5-2 6.4-2.1 6.3-2.2 6.4-2.3 6.3-2.5M351.4,183.2l-6.9-2 -6.8-2.1 -6.8-2.2 -6.8-2.3 -6.7-2.5 -6.6-2.6 -6.6-2.8 -6.6-2.8 -6.6-3 -6.5-3.1 -6.5-3.3 -6.4-3.4 -6.5-3.5 -6.4-3.7 -6.4-3.7 -6.4-3.9 -6.4-4.1 -6.3-4.2 -6.4-4.3 -6.3-4.4 -6.4-4.6 -6.4-4.7 -6.3-4.8 -6.4-5M61.1,131.7l7.6 .2 7.4 .1 7.4-.1 7.4-.1 7.2-.3 7.2-.3 7.1-.5 7.1-.6 6.9-.7 7-.8 6.8-1 6.8-1 6.8-1.2 6.7-1.2 6.6-1.4 6.6-1.5 6.5-1.6 6.6-1.8 6.4-1.8 6.5-2 6.4-2.1 6.3-2.2 6.4-2.3 6.3-2.4M353.4,181.9l-6.9-1.9 -6.8-2.1 -6.8-2.2 -6.8-2.3 -6.7-2.5 -6.6-2.6 -6.7-2.7 -6.6-2.8 -6.5-3 -6.5-3.1 -6.5-3.2 -6.5-3.4 -6.4-3.4 -6.4-3.7 -6.4-3.7 -6.4-3.9 -6.4-4 -6.3-4.2 -6.4-4.2 -6.3-4.5 -6.4-4.5 -6.4-4.7 -6.3-4.8 -6.4-5M58.8,129.6l7.6 .2 7.5 .1 7.4 0 7.4-.1 7.2-.2 7.2-.4 7.2-.4 7-.6 7-.7 6.9-.8 6.9-.9 6.8-1 6.8-1.1 6.7-1.3 6.6-1.3 6.6-1.5 6.6-1.6 6.5-1.7 6.5-1.8 6.4-1.9 6.4-2.1 6.4-2.2 6.4-2.2 6.3-2.4M355.5,180.6l-7-1.9 -6.8-2.1 -6.8-2.1 -6.8-2.3 -6.7-2.5 -6.7-2.5 -6.6-2.7 -6.6-2.8 -6.5-2.9 -6.5-3.1 -6.5-3.2 -6.5-3.3 -6.4-3.5 -6.4-3.6 -6.4-3.7 -6.4-3.9 -6.4-4 -6.3-4.1 -6.4-4.2 -6.3-4.4 -6.4-4.5 -6.3-4.7 -6.4-4.8 -6.4-4.9M56.6,127.5l7.6 .2 7.5 .1 7.4 .1 7.4-.1 7.3-.2 7.2-.3 7.1-.5 7.1-.5 7-.6 6.9-.8 6.9-.9 6.8-1 6.8-1.1 6.7-1.2 6.7-1.3 6.6-1.5 6.6-1.5 6.5-1.7 6.5-1.8 6.4-1.9 6.4-2 6.4-2.2 6.4-2.2 6.3-2.4M357.5,179.3l-7-1.9 -6.8-2 -6.8-2.2 -6.8-2.2 -6.7-2.4 -6.7-2.6 -6.6-2.6 -6.6-2.8 -6.5-2.9 -6.6-3 -6.5-3.2 -6.4-3.3 -6.5-3.5 -6.4-3.5 -6.4-3.7 -6.3-3.8 -6.4-4 -6.4-4.1 -6.3-4.2 -6.4-4.4 -6.3-4.5 -6.3-4.6 -6.4-4.8 -6.3-4.9M54.3,125.3l7.6 .3 7.6 .1 7.4 .1 7.4-.1 7.3-.1 7.2-.3 7.2-.4 7-.5 7.1-.6 6.9-.8 6.9-.8 6.8-1 6.8-1 6.7-1.2 6.7-1.3 6.6-1.4 6.6-1.6 6.6-1.6 6.4-1.8 6.5-1.9 6.4-2 6.4-2.1 6.4-2.2 6.3-2.4M359.5,177.9l-6.9-1.8 -6.9-2 -6.8-2.1 -6.8-2.3 -6.7-2.3 -6.7-2.5 -6.6-2.7 -6.6-2.7 -6.6-2.9 -6.5-3 -6.5-3.1 -6.4-3.3 -6.5-3.4 -6.4-3.6 -6.4-3.6 -6.4-3.8 -6.3-4 -6.4-4 -6.3-4.2 -6.4-4.4 -6.3-4.4 -6.3-4.6 -6.4-4.8 -6.3-4.8M52,123.1l7.7 .3 7.5 .2 7.5 .1 7.4 0 7.3-.1 7.2-.3 7.2-.4 7.1-.4 7-.6 7-.7 6.9-.8 6.8-1 6.8-1 6.8-1.2 6.7-1.3 6.6-1.3 6.6-1.6 6.5-1.6 6.5-1.7 6.5-1.9 6.4-1.9 6.4-2.1 6.4-2.2 6.3-2.3M361.5,176.6l-6.9-1.9 -6.9-1.9 -6.8-2.1 -6.8-2.2 -6.7-2.3 -6.7-2.5 -6.6-2.6 -6.6-2.7 -6.6-2.9 -6.5-3 -6.5-3.1 -6.5-3.2 -6.4-3.4 -6.4-3.5 -6.4-3.7 -6.4-3.7 -6.3-3.9 -6.4-4.1 -6.3-4.2 -6.4-4.3 -6.3-4.4 -6.3-4.6 -6.4-4.7 -6.3-4.8M49.8,120.9l7.6 .4 7.6 .2 7.5 .1 7.4 0 7.3-.1 7.3-.2 7.1-.3 7.1-.5 7.1-.5 7-.7 6.9-.8 6.8-.9 6.8-1 6.8-1.2 6.7-1.2 6.6-1.4 6.6-1.4 6.6-1.6 6.5-1.7 6.5-1.9 6.4-1.9 6.4-2.1 6.4-2.1 6.3-2.3M363.5,175.2l-6.9-1.8 -6.9-1.9 -6.8-2.1 -6.8-2.1 -6.8-2.4 -6.6-2.4 -6.7-2.6 -6.6-2.7 -6.5-2.8 -6.5-2.9 -6.5-3.1 -6.5-3.3 -6.4-3.3 -6.4-3.5 -6.4-3.6 -6.4-3.7 -6.4-3.9 -6.3-4 -6.4-4.2 -6.3-4.3 -6.3-4.4 -6.3-4.5 -6.4-4.7 -6.3-4.8M47.5,118.7l7.7 .4 7.5 .3 7.5 .1 7.5 .1 7.3-.1 7.3-.2 7.2-.3 7.1-.4 7.1-.6 6.9-.6 7-.8 6.8-.8 6.9-1 6.7-1.1 6.7-1.3 6.7-1.3 6.6-1.4 6.5-1.6 6.6-1.7 6.4-1.8 6.5-1.9 6.4-2 6.4-2.2 6.3-2.2M365.5,173.8l-6.9-1.7 -6.9-1.9 -6.9-2.1 -6.7-2.1 -6.8-2.3 -6.6-2.4 -6.7-2.5 -6.6-2.7 -6.5-2.8 -6.6-2.9 -6.5-3.1 -6.4-3.2 -6.5-3.3 -6.4-3.5 -6.4-3.6 -6.3-3.7 -6.4-3.8 -6.3-4 -6.4-4.1 -6.3-4.3 -6.3-4.4 -6.3-4.5 -6.4-4.6 -6.3-4.8M45.2,116.5l7.7 .4 7.6 .3 7.5 .2 7.5 .1 7.3-.1 7.3-.1 7.2-.3 7.1-.4 7.1-.5 7-.6 7-.8 6.8-.8 6.9-1 6.7-1 6.7-1.2 6.7-1.3 6.6-1.4 6.6-1.6 6.5-1.6 6.5-1.8 6.5-1.9 6.4-2 6.3-2.1 6.4-2.3M367.5,172.5l-6.9-1.8 -6.9-1.9 -6.9-1.9 -6.7-2.2 -6.8-2.2 -6.7-2.4 -6.6-2.5 -6.6-2.7 -6.6-2.7 -6.5-2.9 -6.5-3.1 -6.5-3.1 -6.4-3.3 -6.4-3.5 -6.4-3.5 -6.4-3.7 -6.3-3.8 -6.4-4 -6.3-4.1 -6.3-4.2 -6.3-4.4 -6.4-4.5 -6.3-4.6 -6.3-4.8" fill="none" stroke="#000000" stroke-width="0.5"/>
<polygon points="211.6,246.8 213.8,246.2 216,245.6 218.1,245 220.3,244.4 222.4,243.7 224.5,243.1 226.7,242.4 228.8,241.8 230.9,241.1 233,240.4 235.2,239.7 237.3,239 239.4,238.3 241.5,237.6 243.6,236.8 245.7,236.1 247.8,235.4 249.9,234.6 252,233.8 254,233 256.1,232.2 258.2,231.4 260.3,230.6 262.3,229.8 264.4,229 266.5,228.1 268.5,227.3 270.6,226.4 272.6,225.5 274.7,224.7 276.7,223.8 278.8,222.9 280.8,221.9 282.9,221 284.9,220.1 286.9,219.1 289,218.2 291,217.2 293,216.2 295.1,215.3 297.1,214.3 299.1,213.2 301.1,212.2 303.2,211.2 305.2,210.2 307.2,209.1 309.2,208 311.2,207 313.3,205.9 315.3,204.8 317.3,203.7 319.3,202.6 321.3,201.4 323.3,200.3 325.3,199.2 327.3,198 329.3,196.8 331.4,195.6 333.4,194.4 335.4,193.2 337.4,192 339.4,190.8 341.4,189.6 343.4,188.3 345.4,187.1 347.4,185.8 349.4,184.5 351.4,183.2 353.4,181.9 355.5,180.6 357.5,179.3 359.5,177.9 361.5,176.6 363.5,175.2 365.5,173.8 367.5,172.5 367.5,172.5 365.3,171.9 363.1,171.4 360.9,170.8 358.8,170.2 356.6,169.6 354.4,169 352.2,168.4 350.1,167.8 347.9,167.2 345.8,166.5 343.6,165.9 341.5,165.2 339.3,164.5 337.2,163.8 335.1,163.1 333,162.3 330.9,161.6 328.7,160.9 326.6,160.1 324.5,159.3 322.4,158.5 320.3,157.7 318.2,156.9 316.2,156.1 314.1,155.2 312,154.4 309.9,153.5 307.9,152.6 305.8,151.7 303.7,150.8 301.7,149.9 299.6,148.9 297.6,148 295.5,147 293.5,146.1 291.4,145.1 289.4,144.1 287.3,143.1 285.3,142 283.3,141 281.2,139.9 279.2,138.9 277.2,137.8 275.2,136.7 273.1,135.6 271.1,134.5 269.1,133.4 267.1,132.2 265.1,131 263.1,129.9 261.1,128.7 259.1,127.5 257.1,126.3 255,125.1 253,123.8 251,122.6 249,121.3 247,120 245,118.7 243,117.4 241,116.1 239,114.8 237,113.4 235.1,112.1 233.1,110.7 231.1,109.3 229.1,107.9 227.1,106.5 225.1,105.1 223.1,103.7 221.1,102.2 219.1,100.7 217.1,99.3 215.1,97.8 213.1,96.3 211.1,94.7 211.1,94.7 209.1,95.5 207.1,96.2 205.1,96.9 203.1,97.6 201.1,98.2 199,98.9 197,99.5 195,100.2 193,100.8 190.9,101.4 188.9,102 186.9,102.6 184.8,103.2 182.8,103.8 180.7,104.3 178.7,104.9 176.6,105.4 174.6,105.9 172.5,106.4 170.4,106.9 168.4,107.4 166.3,107.9 164.2,108.3 162.1,108.8 160,109.2 157.9,109.7 155.8,110.1 153.7,110.5 151.6,110.9 149.5,111.3 147.3,111.6 145.2,112 143.1,112.3 141,112.7 138.8,113 136.7,113.3 134.5,113.6 132.3,113.9 130.2,114.2 128,114.5 125.8,114.7 123.6,115 121.4,115.2 119.3,115.4 117,115.6 114.8,115.8 112.6,116 110.4,116.2 108.2,116.3 105.9,116.5 103.7,116.6 101.4,116.8 99.2,116.9 96.9,117 94.7,117.1 92.4,117.2 90.1,117.3 87.8,117.3 85.5,117.4 83.2,117.4 80.9,117.4 78.6,117.5 76.2,117.5 73.9,117.5 71.5,117.4 69.2,117.4 66.8,117.4 64.5,117.3 62.1,117.3 59.7,117.2 57.3,117.1 54.9,117 52.5,116.9 50.1,116.8 47.6,116.7 45.2,116.5 45.2,116.5 47.5,118.7 49.8,120.9 52,123.1 54.3,125.3 56.6,127.5 58.8,129.6 61.1,131.7 63.3,133.8 65.6,135.9 67.8,138 70.1,140.1 72.3,142.2 74.5,144.2 76.8,146.2 79,148.3 81.2,150.3 83.4,152.2 85.6,154.2 87.8,156.2 90.1,158.1 92.3,160.1 94.5,162 96.7,163.9 98.9,165.8 101.1,167.7 103.3,169.6 105.4,171.4 107.6,173.3 109.8,175.1 112,176.9 114.2,178.7 116.4,180.5 118.5,182.3 120.7,184.1 122.9,185.8 125.1,187.5 127.2,189.3 129.4,191 131.6,192.7 133.7,194.4 135.9,196 138.1,197.7 140.2,199.4 142.4,201 144.5,202.6 146.7,204.2 148.9,205.8 151,207.4 153.2,209 155.3,210.5 157.5,212.1 159.7,213.6 161.8,215.2 164,216.7 166.1,218.2 168.3,219.6 170.4,221.1 172.6,222.6 174.8,224 176.9,225.5 179.1,226.9 181.2,228.3 183.4,229.7 185.6,231.1 187.7,232.5 189.9,233.8 192.1,235.2 194.2,236.5 196.4,237.8 198.6,239.2 200.8,240.5 202.9,241.7 205.1,243 207.3,244.3 209.5,245.6 211.6,246.8" fill="none" stroke="#000000" stroke-width="0.8"/>
<circle cx="367.3" cy="172.1" r="3.3" fill="#555" stroke="#1e1e1e" stroke-width="0.7"/>
<circle cx="210.6" cy="245.0" r="3.1" fill="#555" stroke="#1e1e1e" stroke-width="0.7"/>
<circle cx="210.8" cy="156.8" r="2.7" fill="#6e6e6e" stroke="#151515" stroke-width="0.9"/>
<line x1="211" y1="164.5" x2="211" y2="168" stroke="#222" stroke-width="0.8"/>
<circle cx="210.8" cy="161.9" r="2.7" fill="#6e6e6e" stroke="#151515" stroke-width="0.9"/>
<circle cx="44.1" cy="109.9" r="1.2" fill="#000"/>
<text x="37.6" y="107.9" text-anchor="end" class="t">7.4</text>
<circle cx="47.5" cy="130.3" r="1.2" fill="#000"/>
<text x="41" y="128.3" text-anchor="end" class="t">7.28</text>
<circle cx="51" cy="150.7" r="1.2" fill="#000"/>
<text x="44.5" y="148.7" text-anchor="end" class="t">7.16</text>
<circle cx="54.4" cy="171.1" r="1.2" fill="#000"/>
<text x="47.9" y="169.1" text-anchor="end" class="t">7.04</text>
<circle cx="57.9" cy="191.5" r="1.2" fill="#000"/>
<text x="51.4" y="189.5" text-anchor="end" class="t">6.92</text>
<circle cx="61.3" cy="212" r="1.2" fill="#000"/>
<text x="54.8" y="210" text-anchor="end" class="t">6.8</text>
<circle cx="211" cy="360" r="1.2" fill="#000"/>
<text x="206" y="373.2" text-anchor="end" class="t2">300.00</text>
<circle cx="174.8" cy="330.2" r="1.2" fill="#000"/>
<text x="169.8" y="343.4" text-anchor="end" class="t2">312.50</text>
<circle cx="138.6" cy="300.5" r="1.2" fill="#000"/>
<text x="133.6" y="313.7" text-anchor="end" class="t2">325.00</text>
<circle cx="102.4" cy="270.8" r="1.2" fill="#000"/>
<text x="97.4" y="283.9" text-anchor="end" class="t2">337.50</text>
<circle cx="66.2" cy="241" r="1.2" fill="#000"/>
<text x="61.2" y="254.2" text-anchor="end" class="t2">350.00</text>
<circle cx="211" cy="360" r="1.2" fill="#000"/>
<text x="216.3" y="373.2" text-anchor="start" class="t2">8.00</text>
<circle cx="247.1" cy="330.2" r="1.2" fill="#000"/>
<text x="252.4" y="343.4" text-anchor="start" class="t2">12.00</text>
<circle cx="283.2" cy="300.5" r="1.2" fill="#000"/>
<text x="288.5" y="313.7" text-anchor="start" class="t2">16.00</text>
<circle cx="319.3" cy="270.8" r="1.2" fill="#000"/>
<text x="324.6" y="283.9" text-anchor="start" class="t2">20.00</text>
<circle cx="355.4" cy="241" r="1.2" fill="#000"/>
<text x="360.7" y="254.2" text-anchor="start" class="t2">24.00</text>
<polygon points="616.6,360.5 766.2,247.6 626.4,147 478.4,240.9" fill="#e3e3e3" stroke="none"/>
<polyline points="634.5,347 633.4,345.6 631.7,343.5 630.6,342.1 628.9,340.1 627.8,338.7 626.1,336.6 624.8,335 623.3,333.2 621.7,331.2 620.5,329.7 618.9,327.7 617.7,326.3 616,324.2 614.9,322.9 613.2,320.8 612.1,319.5 610.4,317.4 608.7,315.5 607.5,314 605.8,312 604.7,310.7 602.9,308.6 601.8,307.3 600.1,305.3 598.3,303.3 597.2,301.9 595.5,299.9 594.3,298.6 592.5,296.6 590.8,294.6 589.6,293.3 587.9,291.3 586.7,290 584.9,288 583.2,286 582,284.7 580.2,282.8 578.4,280.8 577.3,279.5 575.5,277.5 574,275.9 572.5,274.3 570.7,272.3 569.3,270.9 567.7,269.1 565.9,267.2 564.4,265.6 562.8,264 561,262.1 559.2,260.2 557.9,258.9 556.1,257 554.2,255.1 553,253.8 551.1,251.9 549.3,250 547.4,248.2 546.1,246.9 544.3,245 542.4,243.2 540.5,241.3 539.2,240.1 537.3,238.2 535.4,236.4 533.5,234.5 531.7,232.8 530.2,231.5 528.3,229.6 526.3,227.8 524.4,226 522.4,224.2 520.6,222.5 519.1,221.2 517.1,219.4 515.1,217.6" fill="none" stroke="#d2d2d2" stroke-width="0.6"/>
<polyline points="660.8,327.2 659.8,325.7 658.4,323.8 657.3,322.1 656.3,320.7 654.8,318.5 653.8,317.1 652.7,315.5 651.3,313.5 650.3,312.1 648.9,310.1 647.8,308.5 646.8,307.1 645.3,304.9 644.3,303.5 643.1,301.9 641.8,299.9 640.8,298.5 639.3,296.4 638.2,295 637.2,293.5 635.7,291.4 634.7,290 633.4,288.2 632.2,286.5 631.2,285.1 629.7,283 628.7,281.6 627.6,280 626.1,278 625.1,276.6 623.6,274.5 622.6,273.1 621.6,271.8 620.1,269.7 619,268.3 617.6,266.3 616.5,264.8 615.5,263.4 614,261.3 612.9,259.9 611.5,258 610.4,256.5 609.4,255.1 607.8,253 606.8,251.7 605.4,249.8 604.2,248.2 603.2,246.8 601.7,244.8 600.6,243.4 599.1,241.4 598.1,240 597,238.6 595.5,236.6 594.5,235.2 592.9,233.2 591.9,231.9 590.6,230.2 589.3,228.5 588.2,227.1 586.7,225.1 585.6,223.8 584.1,221.8 583,220.4 581.9,218.9 580.4,217 579.4,215.7 577.8,213.7 576.7,212.4 575.2,210.4 574.1,209.1 572.8,207.4 571.5,205.7 570.4,204.4 568.8,202.4 567.7,201.1 566.1,199.1 565.1,197.8 563.5,195.9 562.4,194.6 560.8,192.6 559.7,191.3" fill="none" stroke="#888888" stroke-width="0.7"/>
<polyline points="689.4,305.5 688.6,304 687.7,302.5 686.9,300.9 685.9,299.1 684.9,297.1 684,295.6 683.2,294.1 682.4,292.5 681.6,291 680.6,289.1 679.5,287.2 678.7,285.6 677.9,284.1 677.1,282.6 676.3,281 675.4,279.4 674.4,277.4 673.5,275.7 672.7,274.1 671.9,272.6 671.1,271 670.3,269.5 669.5,268 668.6,266.1 667.6,264.2 666.8,262.6 666,261 665.3,259.5 664.5,258 663.8,256.4 663,254.9 662.2,253.3 661.4,251.5 660.5,249.8 659.7,248 658.9,246.4 658.2,244.8 657.4,243.3 656.7,241.7 656,240.1 655.3,238.6 654.6,237 653.9,235.5 653.2,233.9 652.5,232.3 651.8,230.8 651.1,229.2 650.5,227.6 649.8,226 649.1,224.5 648.5,222.9 647.8,221.3 647.2,219.7 646.6,218.1 645.9,216.5 645.3,214.9 644.7,213.3 644.1,211.7 643.5,210.1 643,208.5 642.4,206.9 641.8,205.2 641.3,203.6 640.8,202.1 640.4,200.7 639.9,199.3 639.5,197.8 639,196.2 638.5,194.5 638.1,192.8 637.7,191.3 637.4,190 637,188.6 636.6,186.9 636.3,185.1 636,183.8 635.8,182.5 635.5,180.7 635.2,179 635,177.8 634.8,176.3 634.6,174.4 634.5,173.3 634.4,171.7 634.3,170.1 634.3,168.8 634.2,166.9 634.3,165.9 634.3,164 634.4,162.9 634.5,161 634.6,159.9 634.9,158.2 635.1,156.7 635.4,155.5 635.8,153.7" fill="none" stroke="#999999" stroke-width="0.7"/>
<polyline points="724,279.5 723.4,277.8 723,276.2 722.5,274.8 722.1,273.3 721.6,271.7 721.1,270 720.6,268.3 720.1,266.5 719.6,264.8 719.2,263.2 718.9,261.8 718.5,260.4 718.1,258.6 717.6,256.9 717.2,255.1 716.9,253.7 716.6,252.3 716.2,250.6 715.9,248.8 715.5,247.1 715.3,245.8 715,244.3 714.7,242.4 714.4,240.7 714.2,239.5 714,237.8 713.7,235.9 713.6,234.6 713.4,233.1 713.2,231.2 713.1,229.9 713,228.3 712.8,226.5 712.8,225.3 712.7,223.4 712.6,222 712.6,220.4 712.6,218.7 712.6,217.4 712.7,215.5 712.7,214.3 712.8,212.4 712.9,211.1 713.1,209.4" fill="none" stroke="#999999" stroke-width="0.7"/>
<polygon points="616.6,360.5 766.2,247.6 626.4,147 478.4,240.9" fill="none" stroke="#2a2a2a" stroke-width="0.9"/>
<line x1="478.4" y1="240.9" x2="458" y2="94" stroke="#484848" stroke-width="0.9"/>
<line x1="626.4" y1="147" x2="627.4" y2="0.8" stroke="#484848" stroke-width="0.9"/>
<line x1="766.2" y1="247.6" x2="788.1" y2="101.7" stroke="#484848" stroke-width="0.9"/>
<polyline points="458,94 627.4,0.8 788.1,101.7" fill="none" stroke="#484848" stroke-width="0.9"/>
<polyline points="461.2,116.7 627.2,23.4 784.7,124.2" fill="none" stroke="#484848" stroke-width="0.9"/>
<polyline points="464.3,139.5 627.1,46.1 781.3,146.9" fill="none" stroke="#484848" stroke-width="0.9"/>
<polyline points="467.5,162.3 626.9,68.7 777.9,169.5" fill="none" stroke="#484848" stroke-width="0.9"/>
<polyline points="470.6,185 626.8,91.4 774.5,192.1" fill="none" stroke="#484848" stroke-width="0.9"/>
<polyline points="473.8,207.8 626.6,114.1 771.1,214.7" fill="none" stroke="#484848" stroke-width="0.9"/>
<line x1="512" y1="184.4" x2="500.4" y2="70.7" stroke="#484848" stroke-width="0.9"/>
<line x1="735" y1="189.6" x2="747.9" y2="76.5" stroke="#484848" stroke-width="0.9"/>
<line x1="550.2" y1="160.9" x2="542.7" y2="47.4" stroke="#484848" stroke-width="0.9"/>
<line x1="698.9" y1="164.4" x2="707.8" y2="51.2" stroke="#484848" stroke-width="0.9"/>
<line x1="588.4" y1="137.5" x2="585" y2="24.1" stroke="#484848" stroke-width="0.9"/>
<line x1="662.8" y1="139.2" x2="667.6" y2="26" stroke="#484848" stroke-width="0.9"/>
<circle cx="778.7" cy="163.9" r="3.0" fill="#cfcfcf" stroke="#505050" stroke-width="0.7"/>
<circle cx="615.4" cy="244.3" r="3.0" fill="#cfcfcf" stroke="#505050" stroke-width="0.7"/>
<polygon points="616.6,241.7 618.8,240.8 621,239.9 623.2,239.1 625.4,238.2 627.6,237.3 629.8,236.4 632,235.5 634.2,234.6 636.4,233.7 638.5,232.8 640.7,231.9 642.9,231 645.1,230 647.3,229.1 649.4,228.2 651.6,227.2 653.8,226.3 655.9,225.4 658.1,224.4 660.3,223.4 662.4,222.5 664.6,221.5 666.7,220.5 668.9,219.5 671,218.6 673.2,217.6 675.3,216.6 677.5,215.6 679.6,214.6 681.8,213.6 683.9,212.5 686.1,211.5 688.2,210.5 690.3,209.5 692.5,208.4 694.6,207.4 696.7,206.3 698.9,205.3 701,204.2 703.1,203.2 705.3,202.1 707.4,201 709.5,200 711.6,198.9 713.7,197.8 715.9,196.7 718,195.6 720.1,194.5 722.2,193.4 724.3,192.3 726.5,191.1 728.6,190 730.7,188.9 732.8,187.8 734.9,186.6 737,185.5 739.1,184.3 741.2,183.2 743.4,182 745.5,180.8 747.6,179.7 749.7,178.5 751.8,177.3 753.9,176.1 756,174.9 758.1,173.7 760.2,172.5 762.3,171.3 764.4,170.1 766.5,168.9 768.6,167.7 770.7,166.4 772.8,165.2 774.9,164 777,162.7 779.1,161.5 779.1,161.5 777.2,159.9 775.2,158.3 773.2,156.7 771.3,155.2 769.3,153.6 767.3,152 765.4,150.5 763.4,148.9 761.4,147.3 759.4,145.8 757.5,144.2 755.5,142.7 753.5,141.1 751.5,139.6 749.5,138 747.6,136.4 745.6,134.9 743.6,133.3 741.6,131.8 739.6,130.3 737.6,128.7 735.6,127.2 733.7,125.6 731.7,124.1 729.7,122.5 727.7,121 725.7,119.5 723.7,117.9 721.7,116.4 719.7,114.9 717.7,113.4 715.7,111.8 713.7,110.3 711.7,108.8 709.7,107.3 707.7,105.7 705.7,104.2 703.7,102.7 701.7,101.2 699.7,99.7 697.7,98.1 695.7,96.6 693.7,95.1 691.7,93.6 689.7,92.1 687.7,90.6 685.7,89.1 683.6,87.6 681.6,86.1 679.6,84.6 677.6,83.1 675.6,81.6 673.6,80.1 671.6,78.6 669.6,77.1 667.5,75.6 665.5,74.2 663.5,72.7 661.5,71.2 659.5,69.7 657.5,68.2 655.4,66.7 653.4,65.3 651.4,63.8 649.4,62.3 647.3,60.8 645.3,59.4 643.3,57.9 641.3,56.4 639.2,54.9 637.2,53.5 635.2,52 633.2,50.6 631.1,49.1 629.1,47.6 627.1,46.2 627.1,46.2 624.9,47.3 622.8,48.4 620.7,49.6 618.5,50.7 616.4,51.8 614.2,52.9 612.1,54 609.9,55.1 607.8,56.2 605.7,57.2 603.5,58.3 601.4,59.4 599.2,60.5 597.1,61.5 594.9,62.6 592.8,63.6 590.6,64.7 588.5,65.7 586.3,66.7 584.2,67.8 582,68.8 579.9,69.8 577.7,70.8 575.5,71.8 573.4,72.8 571.2,73.8 569.1,74.8 566.9,75.8 564.7,76.8 562.6,77.8 560.4,78.7 558.2,79.7 556.1,80.7 553.9,81.6 551.7,82.6 549.6,83.5 547.4,84.4 545.2,85.4 543,86.3 540.9,87.2 538.7,88.1 536.5,89 534.3,89.9 532.1,90.8 529.9,91.7 527.8,92.6 525.6,93.5 523.4,94.4 521.2,95.2 519,96.1 516.8,97 514.6,97.8 512.4,98.7 510.2,99.5 508,100.3 505.8,101.2 503.6,102 501.4,102.8 499.1,103.6 496.9,104.5 494.7,105.3 492.5,106.1 490.3,106.9 488,107.6 485.8,108.4 483.6,109.2 481.3,110 479.1,110.7 476.9,111.5 474.6,112.3 472.4,113 470.2,113.8 467.9,114.5 465.7,115.2 463.4,116 461.2,116.7 461.2,116.7 463.2,118.3 465.2,119.9 467.3,121.4 469.3,123 471.4,124.6 473.4,126.2 475.5,127.8 477.5,129.4 479.5,131 481.6,132.6 483.6,134.2 485.7,135.8 487.7,137.4 489.8,139 491.8,140.6 493.9,142.2 495.9,143.9 498,145.5 500,147.1 502,148.7 504.1,150.3 506.1,151.9 508.2,153.6 510.2,155.2 512.3,156.8 514.3,158.4 516.4,160.1 518.4,161.7 520.5,163.3 522.5,164.9 524.6,166.6 526.6,168.2 528.7,169.9 530.7,171.5 532.8,173.1 534.8,174.8 536.8,176.4 538.9,178.1 540.9,179.7 543,181.3 545,183 547.1,184.6 549.1,186.3 551.2,188 553.2,189.6 555.3,191.3 557.3,192.9 559.4,194.6 561.4,196.2 563.5,197.9 565.5,199.6 567.6,201.2 569.6,202.9 571.6,204.6 573.7,206.2 575.7,207.9 577.8,209.6 579.8,211.3 581.9,212.9 583.9,214.6 586,216.3 588,218 590,219.6 592.1,221.3 594.1,223 596.2,224.7 598.2,226.4 600.3,228.1 602.3,229.8 604.4,231.5 606.4,233.2 608.4,234.9 610.5,236.6 612.5,238.3 614.6,240 616.6,241.7" fill="#a0a0a0" stroke="none"/>
<path d="M775.3,163.7l1.8-1 2-1.2 -1.8-1.5 -1.8-1.4 -.1 2.5 -.1 2 0 .6z" fill="#717171" stroke="#717171" stroke-width="0.6"/>
<path d="M769.7,167l2.1-1.2 2-1.2 1.5-1.5 .1-2 .1-2.5 -2-1.6 -1.9-1.5 -1.8-1.5 -.1 2.6 -.1 2.7 0 2 0 2.3 .1 2.4 0 1z" fill="#737373" stroke="#737373" stroke-width="0.6"/>
<path d="M764.4,170.1l2-1.2 2-1.1 1.3-1.6 -.1-2.1 0-2.2 0-2.5 .1-2.7 .1-2.7 -1.9-1.5 -1.9-1.5 -1.9-1.5 -.2 2.6 -.1 2.7 0 2.7 0 2.5 .1 2.3 .1 2 .1 2.5 .2 2.3 .1 1z" fill="#747474" stroke="#747474" stroke-width="0.6"/>
<path d="M759.3,173l1.8-1 2-1.1 1.2-1.6 -.1-2.2 -.2-2 -.1-2.5 -.1-2.2 0-2.1 0-2.6 .1-2.6 .1-2.7 -1.2-1.9 -1.8-1.5 -1.9-1.5 -1.1 1.9 -.1 2.3 0 2.2 0 2.1 0 2.6 .1 2.5 .1 2.3 .2 2.7 .2 2.2 .3 2 .2 2 .3 2.1 0 .6z" fill="#767676" stroke="#767676" stroke-width="0.6"/>
<path d="M754.5,175.8l1.9-1.1 2-1.1 .7-2.2 -.2-2.1 -.3-2 -.2-2 -.1-2 -.2-2.5 -.1-2.3 -.1-2.8 0-2.6 0-2.1 0-2.2 .1-2.3 -.8-2.5 -1.9-1.5 -1.9-1.5 -1.5 1.6 -.1 2.7 0 2.7 0 2.6 .1 2.1 0 2.1 .2 2.5 .2 2.1 .1 2 .3 2.5 .3 2.4 .3 2.2 .3 2.1 .3 2.1 .4 2.2 .2 .9z" fill="#777777" stroke="#777777" stroke-width="0.6"/>
<path d="M749.8,178.4l1.9-1 2-1.2 .5-2 -.4-2.3 -.4-2.3 -.2-2.1 -.3-2 -.2-2.1 -.3-2 -.2-2.4 -.2-2.5 -.1-2.5 -.1-2.3 0-2.8 0-2.6 .1-2.6 .1-2.7 -1.1-1.9 -1.9-1.5 -1.9-1.5 -1.4 1.6 -.1 2.7 0 2.6 0 2.6 0 2.2 .1 2 .2 2.5 .1 2.2 .3 2.7 .2 2.2 .3 2.1 .3 2 .3 2.1 .3 2.1 .4 2.1 .4 2.2 .4 2.2 .4 1.9 .5 2.3z" fill="#797979" stroke="#797979" stroke-width="0.6"/>
<path d="M745.3,180.9l1.7-.9 2-1.1 .5-2 -.5-2.3 -.5-2.3 -.4-2.4 -.4-2.2 -.3-2.1 -.3-2 -.3-2.1 -.3-2.1 -.2-2 -.3-2.6 -.1-2.3 -.2-2.7 -.1-2 0-2.2 0-2.5 0-2.7 .1-2.6 .2-2.7 -1.9-1.5 -1.9-1.4 -1.9-1.5 -.8 2.1 -.2 2.6 0 2.7 0 2.6 0 2 .1 2.2 .2 2.5 .1 2 .2 2.1 .3 2.4 .3 2.4 .3 2.1 .3 2.1 .3 2.1 .4 2.1 .4 2.2 .4 2.1 .4 2.1 .5 2.3 .6 2.3 .5 2.2 .6 2.3 .2 .7z" fill="#7b7b7b" stroke="#7b7b7b" stroke-width="0.6"/>
<path d="M740.9,183.4l2.1-1.2 2-1.1 -.2-2 -.6-2.3 -.5-2.2 -.5-2.3 -.4-2 -.5-2.3 -.4-2.2 -.4-2.1 -.4-2.1 -.3-2.1 -.3-2.1 -.3-2 -.2-2 -.3-2.8 -.2-2.2 -.1-2.7 -.1-2 -.1-2.2 0-2.5 0-2.6 .1-2.6 .2-2.7 -1.2-1.9 -1.9-1.5 -1.9-1.4 -1.7 1.4 -.1 2.1 0 2.3 -.1 2.1 .1 2.5 0 2.5 .2 2.2 .2 2.8 .1 2 .2 2 .3 2.4 .4 2.4 .3 2.3 .3 2.1 .4 2.1 .4 2.1 .5 2.2 .4 2.2 .5 2.2 .5 2.2 .6 2.3 .6 2.3 .6 2.3 .6 2.3 .7 2.3 .4 1.5z" fill="#7d7d7d" stroke="#7d7d7d" stroke-width="0.6"/>
<path d="M736.7,185.7l2.3-1.3 1.9-1 -.6-2.3 -.7-2.2 -.6-2.2 -.6-2.2 -.5-2.3 -.6-2.3 -.5-2.2 -.5-2.3 -.5-2.3 -.4-2.3 -.5-2.3 -.3-2.2 -.4-2 -.3-2.1 -.2-2 -.3-2 -.2-2.4 -.2-2.5 -.2-2.4 -.1-2.4 -.1-2.6 0-2.6 .1-2.1 .1-2.2 .1-2.1 -.3-2.1 -1.9-1.5 -1.9-1.4 -1.9-1.5 -.7 2.1 -.2 2.6 -.1 2.7 0 2.5 .1 2 0 2.2 .2 2.5 .1 2 .2 2 .3 2.4 .3 2.4 .2 2.1 .4 2.1 .3 2.1 .4 2.1 .4 2.1 .4 2.2 .5 2 .5 2.3 .5 2.2 .6 2.3 .6 2.2 .6 2.3 .6 2.2 .6 2.2 .7 2.2 .6 2.2 .7 2.1 .7 2.2 .3 .8z" fill="#808080" stroke="#808080" stroke-width="0.6"/>
<path d="M732.5,187.9l2.4-1.3 1.6-1.5 -.8-2.3 -.7-2.2 -.6-2.2 -.7-2.2 -.6-2.2 -.6-2.1 -.6-2.3 -.6-2.3 -.6-2.2 -.5-2.3 -.5-2.2 -.5-2.1 -.4-2.2 -.4-2.1 -.4-2.1 -.3-2.1 -.4-2.1 -.2-2 -.3-2 -.2-2.1 -.2-2.4 -.2-2.4 -.2-2.5 0-2.2 -.1-2 0-2.5 .1-2.6 .2-2.7 .2-2.5 -2-1.5 -1.9-1.5 -1.9-1.5 -1.3 1.6 -.2 2.6 -.1 2.6 0 2.6 0 2.1 .1 2 .1 2.5 .2 2.1 .2 2 .2 2.4 .3 2.3 .3 2.2 .3 2 .4 2.1 .4 2.1 .4 2.1 .4 2.2 .5 2 .5 2.2 .5 2.3 .6 2.2 .6 2.2 .6 2.3 .6 2.2 .6 2.2 .7 2.2 .6 2 .8 2.3 .7 2.2 .7 2.2 .6 1.9 .9 2.4 .7 2.1z" fill="#828282" stroke="#828282" stroke-width="0.6"/>
<path d="M728.5,190l2.4-1.2 1.4-1.6 -.8-2.2 -.7-2.1 -.7-2 -.8-2.3 -.7-2.2 -.7-2.2 -.6-2.2 -.6-2 -.7-2.4 -.6-2.2 -.6-2.2 -.6-2.2 -.6-2.3 -.5-2.2 -.5-2.3 -.5-2.3 -.4-2.1 -.4-2.2 -.4-2 -.3-2.1 -.3-2 -.3-2.1 -.3-2.2 -.2-2.4 -.2-2.2 -.1-2.7 -.1-2.5 -.1-2.2 0-2.7 .1-2.7 .2-2.5 .2-2.6 -2.1-1.6 -1.9-1.5 -1.9-1.4 -1.4 1.6 -.2 2.6 -.1 2.6 0 2.6 0 2.5 .1 2.2 .2 2.7 .2 2.4 .2 2.4 .3 2.1 .2 2 .3 2 .4 2.1 .3 2 .4 2.2 .5 2.1 .4 2.2 .5 2.1 .6 2.3 .5 2.2 .6 2.3 .7 2.3 .6 2.3 .7 2.3 .7 2.2 .6 2.2 .7 2.1 .7 2 .8 2.3 .7 2.2 .8 2.1 .7 2.2 .8 2.1 .8 2.1 .8 2.1 .8 2.1z" fill="#858585" stroke="#858585" stroke-width="0.6"/>
<path d="M724.6,192.1l2.3-1.2 1.4-1.6 -.8-2.1 -.8-2.1 -.8-2.1 -.8-2.2 -.8-2.1 -.7-2.1 -.8-2.2 -.7-2.1 -.6-2 -.8-2.4 -.7-2.1 -.6-2.2 -.7-2.2 -.6-2.2 -.6-2.2 -.6-2.2 -.5-2.3 -.5-2.2 -.6-2.3 -.4-2.2 -.5-2.3 -.4-2.3 -.4-2.3 -.3-2 -.3-2 -.3-2 -.2-2.7 -.2-2.2 -.2-2.6 -.1-2.1 -.1-2.1 0-2.4 .1-2.6 .1-2.6 .2-2.6 -.6-2.3 -1.9-1.4 -1.9-1.5 -2-1.4 -1 1.9 -.1 2.1 -.1 2.1 -.1 2.2 0 2.3 0 2.7 .2 2.5 .1 2.1 .2 2.7 .3 2.2 .3 2.5 .4 2.3 .3 2.2 .4 2.1 .4 2.1 .4 2 .5 2.3 .5 2.2 .5 2.2 .6 2.2 .6 2.3 .6 2.2 .7 2.2 .6 2.2 .7 2.1 .7 2.2 .7 2.1 .7 2.2 .7 2.1 .8 2.2 .7 2.1 .8 2.1 .8 2.1 .8 2.1 .8 2.1 .8 2 .9 2.2 .8 2.1 .9 2.1 .8 2.1z" fill="#878787" stroke="#878787" stroke-width="0.6"/>
<path d="M720.8,194.1l2-1 1.8-1 -.8-2.1 -.9-2.1 -.8-2.1 -.9-2.1 -.8-2.1 -.7-1.9 -.9-2.3 -.8-2.1 -.7-2 -.8-2.2 -.8-2.2 -.6-1.9 -.8-2.4 -.7-2.1 -.7-2.2 -.7-2.1 -.6-2 -.6-2.3 -.7-2.3 -.6-2.2 -.5-2.2 -.6-2.3 -.5-2.2 -.5-2.2 -.4-2.1 -.4-2.1 -.4-2.1 -.3-2 -.3-2 -.3-2 -.3-2.4 -.2-2.4 -.2-2.4 -.1-2.4 -.1-2.5 0-2.6 0-2.1 .1-2.1 .2-2.2 .2-2.2 -1.1-2 -1.9-1.4 -1.9-1.5 -1.9-1.4 -.9 2 -.2 2.5 -.1 2 -.1 2.3 0 2.7 .1 2.6 .1 2.4 .2 2.4 .2 2.4 .3 2.4 .3 2 .3 2 .3 2 .4 2.1 .4 2.1 .4 2 .5 2.2 .5 2.3 .6 2.2 .6 2.2 .6 2.2 .6 2.2 .6 2.1 .7 2.2 .7 2.2 .6 1.9 .8 2.3 .7 2.2 .7 2.1 .8 2 .8 2.2 .7 2.1 .8 2.1 .9 2.1 .8 2.1 .8 2.1 .8 2.1 .9 2.1 .9 2.1 .8 2 .9 2.1 .9 2 .9 2.2 .9 2z" fill="#8a8a8a" stroke="#8a8a8a" stroke-width="0.6"/>
<path d="M717.1,196.1l2.4-1.3 .7-2.1 -.9-2 -.9-2.1 -.9-2.1 -.8-2 -.9-2.1 -.8-2 -.9-2.2 -.8-2.1 -.9-2.1 -.8-2.1 -.8-2 -.8-2.2 -.8-2.1 -.7-2 -.8-2.2 -.7-2.1 -.7-2.2 -.7-2.1 -.7-2.2 -.7-2.1 -.6-2.2 -.6-2.2 -.6-2.2 -.6-2.2 -.6-2.2 -.5-2.2 -.5-2.3 -.5-2.2 -.5-2.3 -.4-2.3 -.3-2.1 -.3-2 -.3-2 -.3-2.4 -.2-2.4 -.2-2.4 -.1-2.3 -.1-2.6 0-2.5 .1-2 .1-2.3 .2-2.6 .3-2.7 -1.9-1.4 -2-1.5 -1.9-1.4 -1.9-1.4 -.4 2.3 -.2 2.1 -.1 2.1 -.1 2.2 0 2.1 0 2.1 .1 2.4 .1 2.5 .2 2.2 .3 2.5 .3 2.3 .2 2 .4 2.1 .3 2 .4 2.1 .5 2.1 .4 2.1 .5 2 .5 2.2 .6 2.2 .6 2.2 .6 2.2 .7 2.2 .6 2.1 .7 2.2 .7 2 .7 2.2 .7 2.2 .8 2.1 .7 2.1 .8 2.1 .8 2.1 .8 2.1 .8 2.1 .8 1.8 .9 2.3 .8 2.1 .9 2.1 .8 2 .9 2.1 .9 2.1 .9 2 .9 2.1 .9 2 .9 2.1 1 2 .9 2.1 1 2 .6 1.4z" fill="#8d8d8d" stroke="#8d8d8d" stroke-width="0.6"/>
<path d="M713.5,197.9l1.9-1 1.4-1.5 -1-2.1 -.9-2 -.9-2 -1-2.1 -.8-1.9 -1-2.2 -.8-1.9 -1-2.2 -.8-1.9 -.9-2.2 -.9-2.1 -.8-2.1 -.9-2.1 -.8-2 -.8-2.1 -.8-1.9 -.8-2.3 -.8-2.1 -.7-1.9 -.8-2.3 -.8-2.2 -.7-2.1 -.6-2 -.8-2.3 -.6-2.1 -.7-2.2 -.6-2.2 -.6-2.1 -.6-2.2 -.5-2.2 -.6-2.3 -.4-2.2 -.5-2.2 -.5-2.3 -.3-2.1 -.4-2.1 -.2-2 -.3-2.3 -.3-2.3 -.2-2.1 -.1-2.7 -.1-2.5 0-2.1 0-2.1 .1-2.2 .1-2.1 .2-2.1 .3-2.3 -1.8-1.5 -1.9-1.4 -1.9-1.4 -2-1.5 -.7 2.1 -.3 2.4 -.2 2.5 -.1 2.6 0 2.6 .1 2.6 .1 2.4 .2 2.4 .3 2.3 .3 2.4 .3 2.1 .3 2 .4 2 .4 2.1 .4 2.1 .5 2.1 .5 2.2 .6 2.2 .5 2.2 .7 2.3 .6 2.2 .7 2.4 .7 2.1 .7 2.1 .7 2.1 .7 2 .8 2.3 .7 2.1 .8 2.1 .8 2 .8 2.1 .7 1.9 .9 2.3 .9 2 .8 2.1 .9 2.1 .9 2 .9 2.1 .8 2 .9 2.1 1 2 .9 2 .9 2.1 .9 2 1 2 .9 1.9 1 2.2 1 2 .9 2.1 1 2 1 2 .7 1.3z" fill="#8f8f8f" stroke="#8f8f8f" stroke-width="0.6"/>
<path d="M709.9,199.8l2.2-1.1 .7-2.1 -1-2 -1-2 -.9-1.9 -1-2.2 -1-2 -.9-2.1 -1-2 -.8-1.8 -1-2.3 -.9-1.9 -1-2.1 -.8-2.1 -.9-2 -.9-2 -.9-2.1 -.8-2 -.9-2.2 -.9-2 -.8-2.1 -.8-2.1 -.7-1.9 -.9-2.2 -.8-2.1 -.7-2 -.8-2.2 -.7-2.2 -.7-2.1 -.6-1.9 -.8-2.3 -.6-2.2 -.6-2.2 -.7-2.1 -.5-2.2 -.6-2.2 -.5-2.2 -.5-2.2 -.5-2.3 -.4-2.2 -.4-2 -.3-2 -.3-2 -.3-2.5 -.3-2.3 -.2-2.4 -.1-2.3 -.1-2.6 0-2.4 .1-2.6 .2-2.6 .3-2.6 .3-2.4 -2.1-1.6 -1.9-1.4 -2-1.4 -1.9-1.5 -.8 2 -.3 2.4 -.2 2.1 -.1 2.1 0 2.1 0 2.3 .1 2.6 .1 2.4 .2 2.3 .3 2.4 .3 2.3 .3 2.1 .4 2 .4 2.1 .4 2.1 .5 2.1 .5 2.1 .5 2.2 .6 2.2 .6 2.2 .7 2.3 .6 2.1 .7 2.2 .7 2.1 .7 2.1 .7 2.1 .8 2.1 .7 2.1 .8 1.9 .8 2.2 .8 2.1 .8 2.1 .9 2 .8 2.1 .9 2 .8 2.1 .9 2 .9 2.1 .9 2 .9 2 .9 2.1 1 2 .9 2 .9 2 1 2.1 1 2 .9 2 1 2 1 2 1 2 .9 2 1 1.9 1.1 2.1 1 2 1 2 1 2 .7 1.4z" fill="#929292" stroke="#929292" stroke-width="0.6"/>
<path d="M706.4,201.5l2.3-1.1 .5-2 -1-2 -1-2 -1-2 -1.1-2 -1-2 -.9-2 -1-2 -1-2 -1-2 -.9-1.8 -1-2.2 -1-2.1 -.9-2 -.9-2 -1-2 -.9-2.1 -.9-2 -.9-2 -.9-2.1 -.9-2 -.8-2.1 -.9-2 -.8-2.1 -.9-2 -.8-2.1 -.8-2.1 -.8-2 -.8-2.1 -.7-2.1 -.8-2.1 -.7-2.1 -.7-2.1 -.7-2.1 -.6-2 -.7-2.3 -.6-2.2 -.7-2.1 -.5-2.2 -.6-2.2 -.5-2.2 -.5-2.2 -.4-2.1 -.4-2.1 -.4-2 -.3-2 -.3-2.4 -.3-2.3 -.2-2.4 -.1-2.3 -.1-2.5 0-2.5 0-2.1 .1-2.1 .2-2.1 .3-2.2 .3-2.5 -2-1.6 -2-1.4 -1.9-1.4 -1.9-1.4 -1.3 1.7 -.3 2.3 -.2 2.5 -.1 2.5 -.1 2.6 .1 2.6 .1 2.4 .2 2.2 .2 2.5 .3 2.3 .3 2.2 .4 2.3 .5 2.2 .4 2.3 .5 2.1 .5 2.2 .6 2.1 .6 2.2 .6 2.2 .6 2.2 .7 2.1 .7 2.1 .7 2.1 .7 2 .8 2.2 .7 2.1 .8 2 .8 2.1 .8 2.1 .8 1.9 .8 2.2 .9 2 .8 2.1 .9 2 .9 2 .9 2.1 .9 2 .9 2 .9 2 .9 2 1 2 .8 1.9 1.1 2.1 .9 2 1 2 1 2 .9 2 1.1 2 1 2 .9 1.9 1.1 2.1 1 2 1 1.9 1.1 2.1 1 2 1 1.9 1.1 2 1 2 1.1 2 1 2 .4 .6z" fill="#949494" stroke="#949494" stroke-width="0.6"/>
<path d="M703,203.3l2.3-1.2 0-2.5 -.9-1.8 -1.2-2.2 -1-2 -1.1-2 -1-2 -1-1.9 -1.1-2 -1-2 -1-2 -1-2 -1-2 -1-2 -1-2 -1-2 -.9-2 -1-2 -1-2 -.9-2 -.9-2 -1-2 -.9-2 -.9-2.1 -.9-1.8 -.9-2.2 -.8-1.8 -1-2.3 -.8-2 -.9-2 -.8-2.1 -.8-2 -.9-2.1 -.7-2.1 -.8-2 -.8-2.1 -.7-2.1 -.7-2 -.8-2.2 -.7-2.1 -.6-2.1 -.7-2.2 -.6-2.1 -.6-2.2 -.6-2.1 -.5-2.2 -.5-2.2 -.5-2.2 -.4-2.3 -.4-2.2 -.4-2.1 -.3-2.5 -.3-2.3 -.2-2.4 -.1-2.2 -.1-2.6 0-2.4 .1-2.5 .2-2.6 .3-2.6 .4-2.3 -1.6-2 -1.9-1.4 -1.9-1.5 -2-1.4 -1.6-1.2 -.4 2.3 -.4 2.4 -.2 2 -.2 2.6 0 2.5 0 2 .1 2.7 .1 2.5 .2 2.1 .3 2.5 .4 2.3 .3 2 .4 2 .4 2.1 .5 2 .5 2.2 .6 2.1 .5 2.2 .7 2.2 .6 2.1 .7 2.1 .6 2.1 .7 2.1 .8 2 .7 2.2 .8 2 .7 1.9 .9 2.2 .8 2.1 .8 2 .8 2.1 .9 2 .9 2 .8 2 .9 2 .9 2.1 .9 2 1 2 .9 2 .9 1.8 1 2.2 .9 2 1 1.9 1 2 .9 1.9 1 2.1 1 2 1 2 1 1.9 1.1 2 .9 1.8 1.1 2.2 1 1.9 1.1 2 1 2 1.1 2 1 1.9 1 1.9 1.2 2.1 1 1.9 1.1 2 1.1 1.9 1.1 2 1 2 1.1 1.9 .8 1.4z" fill="#969696" stroke="#969696" stroke-width="0.6"/>
<path d="M699.6,204.9l2.3-1.1 0-2.5 -1.1-2 -1.1-1.9 -1.1-2 -1.1-2 -1-1.9 -1-1.8 -1.2-2.2 -1-1.9 -1.1-2 -1-2 -1.1-1.9 -1-2 -1-2 -1.1-2 -1-1.9 -1-2 -1-2 -1-2 -1-2 -1-1.9 -1-2 -.9-2 -1-2 -.9-2 -1-2 -.9-2 -1-2 -.9-2 -.9-2 -.9-2 -.9-2 -.8-2.1 -.9-2 -.8-2 -.9-2.1 -.7-1.9 -.9-2.2 -.8-2 -.7-1.9 -.8-2.2 -.8-2.1 -.7-2.1 -.6-2 -.8-2.2 -.6-2.1 -.6-2.2 -.7-2.1 -.5-2.1 -.6-2.2 -.5-2.2 -.5-2.2 -.4-2.2 -.3-2 -.4-2.5 -.3-2.3 -.3-2.3 -.2-2.4 -.1-2.4 0-2 0-2 .1-2.3 .1-2.4 .3-2.2 .4-2.5 -.6-2.2 -2-1.5 -1.9-1.4 -1.9-1.4 -1.9-1.4 -1.4 1.6 -.4 2.3 -.3 2.1 -.2 2.5 -.1 2.5 0 2.5 .1 2.1 .2 2.6 .2 2.3 .3 2.3 .3 2.1 .3 2 .4 2 .5 2 .4 2.1 .6 2.1 .5 2.2 .6 2.2 .7 2.2 .6 2.1 .7 2.1 .7 2.1 .7 2.1 .8 2 .7 2.1 .8 2 .8 2 .8 2.1 .9 2 .8 2.1 .9 2 .8 2 .9 2 .9 2 .9 2 .9 2 1 2 .9 2 .9 1.9 1 2 .9 1.8 1 2.2 1 2 1 1.9 1 2 1 2 1 1.9 1 2 1.1 1.9 1 2 1 2 1.1 1.9 1 1.9 1.1 2 1 2 1.1 1.9 1 1.9 1.1 2 1.1 2 1.1 1.9 1.1 2 1.1 1.9 1.1 2 1.1 1.9 1.1 2 1.1 1.9 1.1 2 1.1 1.9 1.1 2 1.1 1.9 .8 1.3z" fill="#979797" stroke="#979797" stroke-width="0.6"/>
<path d="M696.3,206.6l2.2-1.1 0-2.5 -1.1-2 -1.1-1.8 -1.2-2.1 -1.1-1.9 -1.1-2 -1.1-1.9 -1.1-1.9 -1.1-2 -1.1-2 -1.1-1.9 -1-2 -1-1.8 -1.2-2.1 -1.1-1.9 -1-2 -1-1.8 -1.1-2.1 -1.1-1.9 -1-2 -1.1-1.9 -1-2 -1-2 -1-1.9 -1-2 -1-2 -1-1.9 -1-2 -1-2 -1-2 -.9-1.9 -1-2 -.9-2 -.9-1.9 -1-2.1 -.9-2 -.9-2 -.9-2 -.9-2 -.8-1.9 -.9-2.1 -.8-2 -.8-2.1 -.8-2 -.8-2 -.8-2.1 -.8-2.1 -.7-2 -.7-2 -.7-2.2 -.7-2.1 -.6-2.1 -.6-2.1 -.6-2.2 -.6-2.1 -.5-2.2 -.5-2.2 -.4-2.2 -.4-2.1 -.4-2.3 -.3-2.3 -.2-2.1 -.2-2.6 -.2-2.3 0-2.2 .1-2.6 .1-2.4 .3-2.4 .3-2.2 .5-2.4 -1.5-2 -1.9-1.4 -2-1.4 -1.9-1.4 -1.9-1.4 -1.3 1.7 -.4 2.3 -.3 1.9 -.3 2.6 -.1 2.5 0 2.4 0 2.1 .2 2.6 .2 2.4 .3 2.2 .3 2 .5 2.5 .4 2.2 .5 2.2 .5 2.1 .6 2.1 .6 2.2 .6 2.1 .6 2.1 .7 2.1 .7 2 .7 2.1 .8 2 .8 2.1 .7 1.9 .9 2.1 .8 2.1 .8 2 .9 2 .8 1.8 .9 2.2 .9 2 .9 1.9 .9 2 .9 2 1 1.9 .9 2 1 2 1 2 .9 1.9 1 1.9 1 2.1 1 1.9 .9 1.8 1.1 2.1 1.1 2 1 1.8 1 2 1.1 2 1 1.9 1.1 2 1 1.9 1.1 1.9 1.1 2 1 1.9 1.1 1.9 1.1 2 1.1 1.9 1.1 1.9 1.1 2 1.1 1.9 1.1 2 1.1 1.9 1.1 1.9 1.1 1.9 1.2 2 1.1 1.9 1.1 1.9 1.2 2 1.1 1.9 1.1 1.9 1.2 2 1.1 1.9 1.2 1.9 1.1 2 .8 1.3z" fill="#999999" stroke="#999999" stroke-width="0.6"/>
<path d="M693,208.2l2.1-1.1 0-2.5 -1.1-1.9 -1.1-1.8 -1.2-2.1 -1.1-1.9 -1.2-1.9 -1.1-2 -1.1-1.9 -1.2-1.9 -1-1.8 -1.2-2.1 -1.1-1.9 -1.2-2 -1.1-1.9 -1.1-1.9 -1.1-2 -1.1-1.9 -1.1-1.9 -1.1-2 -1-1.9 -1.1-1.9 -1.1-2 -1.1-1.9 -1-1.9 -1.1-2 -1-1.9 -1.1-2 -1-1.8 -1.1-2.1 -1-1.9 -1-1.9 -1-2 -1-1.9 -1-1.9 -1-2.1 -1-1.9 -1-2 -.9-1.9 -1-2 -.9-2 -1-2 -.9-1.9 -.9-2 -.9-2 -.9-2 -.9-2 -.8-2 -.9-2 -.8-2 -.8-2 -.8-2.1 -.7-1.9 -.9-2.1 -.7-2.1 -.7-2.1 -.7-2 -.7-2.1 -.6-2.1 -.6-2.1 -.6-2.2 -.6-2.1 -.5-2.2 -.4-2.1 -.4-2 -.4-2.5 -.4-2.2 -.2-2 -.2-2.6 -.2-2.4 0-2.1 0-2.6 .2-2.4 .2-2.4 .4-2.2 .5-2.3 -.9-2.4 -1.9-1.3 -1.9-1.4 -2-1.4 -1.9-1.4 -2.1 1.1 -.8 1.9 -.3 2.3 -.3 2.1 -.2 2.5 0 2.5 .1 2.3 .1 2.3 .2 2.4 .3 2.2 .4 2.2 .4 2.2 .4 2.2 .5 2.2 .5 2.1 .6 2.1 .6 2.1 .7 2.1 .6 2.1 .7 2.1 .8 2 .7 2 .8 2.1 .7 2 .9 2 .8 2 .8 2 .9 2 .8 2 .9 2 .9 1.9 .9 2 1 2 .9 1.9 .9 2 1 1.9 1 2 1 1.9 .9 2 1 1.8 1 2 1 2 1 1.8 1.1 2 1 2 1.1 1.9 1 1.9 1.1 2 1 1.9 1 1.8 1.2 2 1.1 1.9 1 2 1.1 1.9 1.1 1.9 1.1 1.9 1.1 1.9 1.1 1.9 1.1 2 1.1 1.9 1.2 1.9 1.1 1.9 1.1 1.9 1.1 1.9 1.2 1.9 1.1 2 1.2 1.9 1.1 1.9 1.2 1.9 1.1 1.9 1.2 1.9 1.1 2 1.2 1.9 1 1.7 1.1 1.7 1 1.8 1.1 1.7 1.1 1.8 1.1 1.8 1.1 1.7 1 1.8 1.1 1.8 .1 .2z" fill="#9a9a9a" stroke="#9a9a9a" stroke-width="0.6"/>
<path d="M689.8,209.7l1.9-.9 .2-2.6 -1.1-1.8 -1.1-1.7 -1.1-1.8 -1.1-1.8 -1.1-1.7 -1-1.8 -1.1-1.7 -1-1.7 -1.1-1.8 -1-1.7 -1.4-2.3 -1.1-1.9 -1.2-1.9 -1.1-1.9 -1.2-1.9 -1.1-1.9 -1.2-2 -1.1-1.9 -1.1-1.9 -1.1-1.9 -1.2-1.9 -1.1-1.9 -1.1-2 -1.1-1.9 -1.1-1.9 -1.1-1.9 -1.1-1.9 -1.1-1.9 -1-2 -1.1-1.9 -1.1-1.9 -1.1-1.9 -1-1.9 -1.1-2 -1-1.9 -1.1-1.9 -1-2 -1-1.9 -1.1-1.9 -1-2 -1-1.9 -1-1.9 -.9-2 -1-1.9 -1-2 -1-1.9 -.9-2 -.9-1.9 -1-2 -.9-2 -.9-1.9 -.9-2 -.8-2 -.9-2 -.8-2 -.8-1.9 -.9-2.1 -.7-2 -.8-1.9 -.7-2.2 -.8-2 -.7-2.1 -.6-2.1 -.6-1.9 -.7-2.2 -.5-2.1 -.6-2.1 -.4-2 -.5-2.1 -.3-1.9 -.4-2.1 -.3-2.3 -.2-2.2 -.2-2.4 -.1-2.1 0-2.5 .1-2.5 .3-2.3 .3-2.1 .5-2.5 -2.3 1 -2 1.1 -2.1 1 -2 1.1 -2.1 1 -2 1.1 -.2 2.3 .3 2.4 .3 2.2 .4 2.1 .4 2 .5 2 .5 2 .6 2.2 .6 2.1 .7 2.2 .7 2.2 .8 2.2 .7 2 .7 2 .8 2 .8 2 .9 2 .8 2 .9 2 .8 1.9 .9 2 .9 1.9 1 2 .9 2 .9 1.9 1 1.9 .9 2 1 1.9 1 1.9 1 2 1 1.9 1 1.8 1.1 2 1 1.9 1 1.9 1.1 2 1 1.9 1.1 1.9 1 1.8 1.1 2 1.1 1.9 1.1 1.9 1.1 1.9 1.1 1.9 1.1 1.9 1.1 1.9 1.1 1.9 1.1 1.9 1.1 1.9 1.2 1.9 1.1 1.9 1.1 1.9 1.1 1.9 1.2 1.8 1 1.8 1.3 2 1.1 1.9 1.2 1.9 1.1 1.9 1.2 1.9 1.2 1.9 1.1 1.9 1.2 1.8 1 1.8 1.1 1.7 1.1 1.8 1.1 1.7 1.1 1.8 1.1 1.7 1.1 1.8 1.1 1.7 1.1 1.9 1.1 1.7 1.1 1.8 1.2 1.8 1.1 1.9 1.1 1.7 1.2 1.9 1.2 1.8 1.1 1.8 .9 1.5z" fill="#9b9b9b" stroke="#9b9b9b" stroke-width="0.6"/>
<path d="M686.7,211.2l2.3-1.1 -.4-2.3 -1.2-1.9 -1.2-1.9 -1.2-1.9 -1.2-1.9 -1.2-1.9 -1.2-1.9 -1.2-1.9 -1.1-1.9 -1.2-1.9 -1.2-1.9 -1.2-1.9 -1.2-1.9 -1.1-1.8 -1.1-1.8 -1.1-1.7 -1-1.8 -1.1-1.7 -1.1-1.7 -1-1.7 -1.1-1.7 -1.1-1.9 -1.2-1.9 -1.1-1.9 -1.2-1.9 -1.1-1.9 -1.2-1.9 -1.1-1.9 -1-1.7 -1.3-2.1 -1.1-1.9 -1.1-1.9 -1.1-1.9 -1.1-1.9 -1.2-1.9 -1.1-1.9 -1.1-1.9 -1-1.9 -1.1-1.9 -1.1-1.9 -1.1-1.9 -1.1-1.9 -1-1.9 -1.1-1.9 -1-1.9 -1.1-1.9 -1-1.9 -1-2 -1-1.9 -1.1-1.9 -1-1.9 -.9-1.9 -1-2 -1-1.9 -1-1.9 -.9-2 -.9-1.9 -1-2 -.9-1.9 -.9-2 -.8-1.9 -.9-2 -.9-2 -.8-2 -.8-2 -.8-1.9 -.8-2.1 -.7-2 -.7-2.1 -.7-1.9 -.7-2.2 -.6-2.1 -.6-2.1 -.6-2.1 -.5-2.1 -.4-2 -.4-2 -.4-2.5 -.3-2.2 -.2-2.4 -2.4 .5 -2.1 1 -2 1 -2.1 1.1 -1.8 .9 .5 2.1 .7 2 .6 2.1 .7 2 .7 1.9 .8 2.1 .8 2 .8 2 .8 2 .8 2 .9 1.9 .9 2 .9 1.9 .9 2 .9 1.9 1 1.9 .9 1.9 1 2 1 1.9 .9 1.8 1 2 1.1 1.9 1 1.9 1 1.9 1 1.9 1.1 1.8 1 2 1.1 1.9 1.1 1.8 1 1.8 1.1 2 1.1 1.9 1.1 1.9 1.1 1.8 1.1 1.9 1.1 1.9 1.1 1.9 1.2 1.9 1.1 1.8 1 1.8 1.2 2 1.2 1.9 1.1 1.8 1.2 1.9 1.1 1.9 1.2 1.9 1.1 1.7 1.2 2 1.2 1.9 1.1 1.9 1.2 1.8 1.2 1.9 1.2 1.9 1.1 1.9 1.2 1.8 1.2 1.9 1.2 1.9 1.1 1.7 1.1 1.8 1.2 1.8 1.1 1.7 1.1 1.7 1.2 1.9 1.1 1.8 1.2 1.8 1.1 1.8 1.2 1.8 1.2 1.8 1.1 1.9 1.1 1.7 1.3 1.9 1.2 1.9 1.2 1.8 1.2 1.9 1.2 1.8 1.2 1.9 1.2 1.9 1.2 1.8 1.2 1.9 1.3 1.9 .5 .8z" fill="#9c9c9c" stroke="#9c9c9c" stroke-width="0.6"/>
<path d="M683.6,212.7l2-1 -.1-2.4 -1.3-1.9 -1.2-1.9 -1.2-1.9 -1.3-1.8 -1.2-1.9 -1.2-1.9 -1.2-1.9 -1.2-1.9 -1.3-1.9 -1.2-1.9 -1.2-1.9 -1.2-1.8 -1.2-1.9 -1.2-1.9 -1.2-1.9 -1.2-1.9 -1.2-1.8 -1.1-1.8 -1.1-1.7 -1.2-1.8 -1.1-1.8 -1.1-1.7 -1.1-1.8 -1.1-1.7 -1.1-1.7 -1.1-1.8 -1.1-1.7 -1.1-1.7 -1-1.7 -1.1-1.7 -1.1-1.8 -1.2-1.9 -1.2-1.9 -1.1-1.9 -1.2-1.8 -1.1-1.9 -1.2-1.9 -1.1-1.9 -1.1-1.8 -1.2-1.9 -1.1-1.9 -1.1-1.9 -1.1-1.8 -1.1-1.9 -1.2-1.9 -1.1-1.9 -1.1-1.9 -1.1-1.8 -1-1.8 -1.1-2 -1.1-1.9 -1.1-1.9 -1-1.9 -1.1-1.9 -1-1.9 -1-1.8 -1.1-1.9 -1-1.9 -1-1.9 -1-2 -1-1.9 -.9-1.9 -1-1.9 -.9-1.9 -1-2 -.9-1.9 -.9-1.9 -.9-2 -.9-1.9 -.8-2 -.9-2 -.8-1.9 -.8-2 -.8-2 -.7-2 -.7-2.1 -.7-1.9 -.6-2.1 -.7-2.1 -1.9-.6 -2 1 -2.1 1 -2 1 -.7 1.9 .9 1.9 .8 2 .9 1.9 .9 1.9 1 1.9 .9 1.9 1 1.9 .9 1.9 1 1.9 1 1.9 1 1.9 1.1 1.9 1 1.9 1 1.8 1.1 1.9 1 1.9 1.1 1.8 1.1 1.9 1.1 1.9 1 1.8 1.1 1.9 1.1 1.8 1.1 1.8 1.2 2 1.1 1.8 1.1 1.9 1.1 1.8 1.2 1.9 1 1.7 1.3 2 1.1 1.8 1.2 1.9 1.1 1.8 1.2 1.9 1.1 1.8 1.2 1.9 1.1 1.7 1.3 2 1.1 1.8 1.2 1.9 1.2 1.8 1.2 1.9 1.2 1.8 1.2 1.9 1.2 1.8 1.2 1.9 1.2 1.8 1.2 1.9 1.2 1.8 1.2 1.9 1.2 1.9 1.2 1.8 1.2 1.8 1.2 1.8 1.2 1.8 1.2 1.8 1.2 1.8 1.2 1.8 1.2 1.9 1.2 1.8 1.2 1.8 1.2 1.9 1.3 1.9 1.1 1.6 1.2 1.9 1.2 1.9 1.3 1.8 1.2 1.9 1.3 1.9 1.2 1.9 1.3 1.8 1.2 1.9 1.3 1.9 1.2 1.9 1.3 1.8 1.2 1.9 1.3 1.9 1.2 1.9 1.3 1.9 .4 .6z" fill="#9e9e9e" stroke="#9e9e9e" stroke-width="0.6"/>
<path d="M680.5,214.1l2.4-1.1 -.6-2.2 -1.2-1.9 -1.3-1.8 -1.2-1.9 -1.3-1.9 -1.2-1.9 -1.3-1.9 -1.2-1.8 -1.3-1.9 -1.2-1.9 -1.3-1.9 -1.2-1.8 -1.2-1.9 -1.3-1.9 -1.2-1.8 -1.3-1.9 -1.2-1.9 -1.2-1.8 -1.3-1.9 -1.2-1.9 -1.2-1.8 -1.2-1.9 -1.3-1.9 -1.2-1.8 -1.2-1.9 -1.2-1.8 -1.3-1.9 -1.2-1.8 -1.1-1.8 -1.2-1.8 -1.1-1.8 -1.2-1.7 -1.1-1.8 -1.2-1.7 -1.1-1.8 -1.1-1.7 -1.1-1.8 -1.1-1.7 -1.1-1.7 -1.1-1.7 -1.1-1.7 -1.1-1.7 -1.4-2.2 -1.2-1.8 -1.1-1.9 -1.2-1.8 -1.2-1.9 -1.1-1.8 -1.2-1.9 -1.1-1.8 -1.2-1.9 -1.1-1.8 -1.1-1.9 -1.2-1.8 -1.1-1.9 -1.1-1.9 -1.1-1.8 -1.1-1.9 -1.1-1.8 -1.1-1.9 -1.1-1.9 -1.1-1.8 -1.1-1.9 -1-1.8 -1.1-1.9 -1-1.9 -1.1-1.9 -1-1.8 -1-1.9 -1-1.9 -1-1.9 -1-1.9 -.9-1.9 -1-1.9 -.9-1.9 -1-1.9 -.9-1.9 -.9-2 -.8-1.8 -.9-2.1 -2.4 .5 -2.1 .9 -2.1 1 -1.1 1.7 1.2 2.2 1.1 1.9 1 1.8 1.1 1.9 1 1.8 1.1 1.8 1.1 1.9 1.1 1.8 1.1 1.8 1.1 1.9 1.1 1.8 1.2 1.8 1.1 1.9 1.1 1.8 1.2 1.8 1.1 1.8 1.1 1.8 1.2 1.9 1.2 1.8 1.1 1.8 1.2 1.9 1.2 1.8 1.2 1.8 1.2 1.8 1.1 1.8 1.2 1.9 1.2 1.7 1.1 1.7 1.1 1.7 1.1 1.7 1.2 1.7 1.1 1.8 1.2 1.7 1.2 1.8 1.1 1.7 1.2 1.8 1.2 1.7 1.2 1.8 1.2 1.8 1.1 1.7 1.2 1.8 1.3 1.8 1.2 1.9 1.2 1.8 1.3 1.8 1.2 1.9 1.3 1.8 1.2 1.8 1.2 1.9 1.3 1.8 1.2 1.8 1.3 1.9 1.2 1.8 1.3 1.9 1.3 1.8 1.2 1.9 1.3 1.8 1.2 1.8 1.3 1.9 1.2 1.8 1.3 1.9 1.3 1.8 1.2 1.9 1.3 1.8 1.3 1.9 1.2 1.9 1.3 1.8 1.3 1.9 1.2 1.8 1.3 1.9 1.3 1.8 1.3 1.9 1.2 1.9 1.3 1.8 1.2 1.7 1.3 2 1.3 2 1.3 1.8 1.3 1.9 .8 1.2z" fill="#9f9f9f" stroke="#9f9f9f" stroke-width="0.6"/>
<path d="M677.5,215.6l2-1 -.2-2.3 -1.3-1.9 -1.3-1.9 -1.3-1.8 -1.3-1.9 -1.2-1.9 -1.3-1.8 -1.2-1.8 -1.3-2 -1.3-1.8 -1.3-1.9 -1.3-1.9 -1.2-1.8 -1.3-1.9 -1.3-1.8 -1.2-1.9 -1.3-1.8 -1.3-1.9 -1.2-1.8 -1.3-1.9 -1.2-1.8 -1.3-1.9 -1.3-1.8 -1.2-1.9 -1.3-1.8 -1.2-1.8 -1.3-1.9 -1.2-1.8 -1.3-1.9 -1.2-1.8 -1.3-1.8 -1.2-1.9 -1.3-1.8 -1.2-1.8 -1.2-1.9 -1.3-1.8 -1.2-1.8 -1.2-1.9 -1.3-1.8 -1.2-1.8 -1.2-1.8 -1.3-1.9 -1.2-1.8 -1.2-1.8 -1.2-1.9 -1.2-1.8 -1.2-1.8 -1.3-1.8 -1.2-1.8 -1.2-1.9 -1.2-1.8 -1.2-1.8 -1.1-1.8 -1.2-1.7 -1-1.7 -1.4-2.1 -1.2-1.8 -1.2-1.8 -1.2-1.9 -1.1-1.8 -1.2-1.8 -1.1-1.8 -1.2-1.9 -1.1-1.8 -1.2-1.8 -1.1-1.8 -1.1-1.9 -1.2-1.8 -1.1-1.8 -1.1-1.9 -1.1-1.8 -1.1-1.8 -1.1-1.9 -1.1-1.8 -1-1.8 -1.1-1.9 -1-1.8 -1.1-1.9 -1-1.9 -2.5-.3 -2 .9 -2.1 1 -.2 2.3 1.2 1.9 1.2 1.8 1.1 1.8 1.2 1.8 1.2 1.8 1.2 1.8 1.2 1.7 1.2 1.8 1.2 1.8 1.1 1.7 1.2 1.7 1.1 1.7 1.2 1.7 1.2 1.7 1.1 1.8 1.2 1.6 1.2 1.8 1.2 1.8 1.2 1.7 1.2 1.8 1.3 1.7 1.2 1.8 1.2 1.8 1.3 1.8 1.2 1.8 1.3 1.8 1.2 1.8 1.3 1.8 1.3 1.8 1.2 1.9 1.3 1.8 1.3 1.8 1.3 1.8 1.2 1.8 1.3 1.8 1.3 1.8 1.2 1.8 1.3 1.8 1.3 1.8 1.2 1.9 1.3 1.8 1.3 1.8 1.3 1.8 1.2 1.8 1.3 1.8 1.3 1.8 1.3 1.9 1.3 1.8 1.2 1.8 1.3 1.8 1.3 1.8 1.2 1.7 1.4 2 1.3 1.8 1.2 1.8 1.3 1.9 1.3 1.8 1.3 1.8 1.3 1.9 1.3 1.8 1.3 1.8 1.3 1.9 1.3 1.8 1.3 1.9 1.3 1.8 1.2 1.8 1.3 1.9 1.3 1.8 1.3 1.9 1.3 1.8 1.3 1.9 1.3 1.8 1.3 1.9 1.3 1.9 1.3 1.8 1.3 1.9 1.2 1.7 1.4 2 1.3 1.9z" fill="#a1a1a1" stroke="#a1a1a1" stroke-width="0.6"/>
<path d="M674.5,216.9l2.3-1 -.6-2.2 -1.3-1.9 -1.3-1.8 -1.3-1.9 -1.3-1.8 -1.3-1.9 -1.3-1.9 -1.3-1.8 -1.3-1.9 -1.3-1.8 -1.3-1.9 -1.2-1.7 -1.3-2 -1.3-1.8 -1.3-1.8 -1.3-1.9 -1.3-1.8 -1.3-1.9 -1.3-1.8 -1.3-1.8 -1.3-1.9 -1.3-1.8 -1.3-1.8 -1.3-1.9 -1.2-1.7 -1.3-1.9 -1.3-1.8 -1.3-1.9 -1.3-1.8 -1.3-1.8 -1.2-1.8 -1.3-1.8 -1.3-1.9 -1.3-1.8 -1.3-1.8 -1.2-1.8 -1.3-1.8 -1.3-1.8 -1.3-1.8 -1.2-1.9 -1.3-1.8 -1.3-1.8 -1.2-1.8 -1.3-1.8 -1.2-1.7 -1.3-1.8 -1.3-1.9 -1.3-1.8 -1.2-1.8 -1.3-1.8 -1.2-1.8 -1.3-1.8 -1.2-1.8 -1.3-1.8 -1.2-1.7 -1.3-1.8 -1.2-1.8 -1.3-1.8 -1.2-1.8 -1.2-1.8 -1.3-1.8 -1.2-1.8 -1.2-1.7 -1.2-1.7 -1.1-1.8 -1.2-1.7 -1.2-1.7 -1.1-1.7 -1.2-1.7 -1.1-1.6 -1.1-1.7 -1.3-2 -1.2-1.7 -1.2-1.8 -1.2-1.8 -1.2-1.8 -1.1-1.8 -1.2-1.8 -1.2-1.8 -1.1-1.7 -2.1 .9 -2.1 1 -2 .9 .8 2 1.2 1.7 1.3 1.8 1.3 1.7 1.2 1.7 1.3 1.8 1.3 1.7 1.3 1.8 1.2 1.7 1.3 1.8 1.3 1.7 1.3 1.8 1.3 1.7 1.3 1.8 1.2 1.7 1.3 1.7 1.3 1.9 1.3 1.7 1.3 1.8 1.3 1.7 1.3 1.8 1.3 1.8 1.3 1.7 1.3 1.8 1.3 1.8 1.3 1.7 1.3 1.8 1.3 1.8 1.2 1.6 1.4 1.9 1.3 1.8 1.3 1.8 1.3 1.7 1.3 1.8 1.3 1.8 1.4 1.8 1.3 1.8 1.3 1.8 1.3 1.8 1.2 1.6 1.4 1.9 1.3 1.8 1.3 1.8 1.3 1.8 1.4 1.8 1.3 1.8 1.3 1.8 1.3 1.8 1.3 1.8 1.3 1.8 1.3 1.8 1.4 1.8 1.3 1.8 1.3 1.9 1.3 1.8 1.3 1.8 1.3 1.8 1.4 1.8 1.2 1.8 1.4 1.9 1.3 1.8 1.3 1.8 1.3 1.8 1.4 1.9 1.3 1.8 1.3 1.8 1.3 1.9 1.3 1.8 1.4 1.8 1.3 1.9 1.3 1.8 1.3 1.9 1.3 1.8 1.4 1.9 1.3 1.8 1.3 1.8 1.3 1.9 1.3 1.9 1.4 1.8 .8 1.2z" fill="#a4a4a4" stroke="#a4a4a4" stroke-width="0.6"/>
<path d="M671.6,218.3l2.4-1.1 -.8-2.1 -1.3-1.9 -1.3-1.8 -1.3-1.9 -1.4-1.8 -1.2-1.8 -1.4-1.9 -1.3-1.9 -1.3-1.8 -1.4-1.8 -1.3-1.9 -1.3-1.8 -1.3-1.8 -1.2-1.7 -1.5-2 -1.3-1.8 -1.3-1.9 -1.3-1.8 -1.3-1.8 -1.3-1.8 -1.4-1.9 -1.3-1.8 -1.2-1.7 -1.4-1.9 -1.3-1.8 -1.4-1.8 -1.3-1.9 -1.3-1.8 -1.3-1.8 -1.3-1.8 -1.3-1.8 -1.2-1.7 -1.5-1.9 -1.3-1.8 -1.3-1.8 -1.3-1.8 -1.3-1.8 -1.3-1.8 -1.3-1.8 -1.3-1.8 -1.4-1.7 -1.2-1.7 -1.4-1.9 -1.3-1.8 -1.3-1.8 -1.3-1.8 -1.3-1.7 -1.3-1.8 -1.3-1.8 -1.3-1.8 -1.3-1.7 -1.3-1.8 -1.2-1.6 -1.4-2 -1.3-1.7 -1.3-1.8 -1.3-1.8 -1.3-1.7 -1.3-1.8 -1.3-1.8 -1.3-1.7 -1.3-1.8 -1.3-1.7 -1.3-1.8 -1.3-1.7 -1.3-1.8 -1.3-1.8 -1.2-1.6 -1.3-1.8 -1.3-1.8 -1.3-1.8 -1.3-1.7 -1.2-1.7 -1.3-1.8 -1.3-1.7 -1.3-1.8 -1.2-1.7 -1.3-1.8 -1.3-1.7 -2.4-.4 -2.1 .9 -2 .9 .8 2 1.3 1.7 1.4 1.7 1.3 1.7 1.3 1.6 1.4 1.8 1.4 1.7 1.3 1.7 1.4 1.8 1.3 1.7 1.4 1.7 1.3 1.6 1.4 1.8 1.3 1.8 1.4 1.7 1.3 1.7 1.4 1.7 1.3 1.8 1.4 1.7 1.3 1.8 1.4 1.7 1.3 1.7 1.4 1.8 1.3 1.7 1.4 1.8 1.3 1.7 1.4 1.8 1.3 1.7 1.4 1.8 1.3 1.7 1.4 1.8 1.2 1.6 1.5 1.9 1.3 1.8 1.4 1.7 1.3 1.8 1.4 1.8 1.3 1.7 1.3 1.8 1.4 1.8 1.3 1.7 1.4 1.8 1.3 1.8 1.4 1.8 1.3 1.8 1.4 1.7 1.3 1.8 1.4 1.8 1.3 1.8 1.4 1.8 1.3 1.8 1.3 1.7 1.4 1.9 1.3 1.8 1.4 1.8 1.3 1.8 1.4 1.8 1.3 1.8 1.4 1.8 1.3 1.8 1.4 1.8 1.3 1.8 1.3 1.9 1.4 1.8 1.2 1.6 1.5 2 1.3 1.8 1.4 1.9 1.3 1.8 1.3 1.8 1.4 1.9 1.3 1.7 1.4 1.9 1.3 1.9 1.4 1.8 1.3 1.8 1.3 1.9 1.4 1.8 1.3 1.9 .9 1.2z" fill="#a7a7a7" stroke="#a7a7a7" stroke-width="0.6"/>
<path d="M668.7,219.6l1.9-.8 -.3-2.3 -1.4-1.9 -1.3-1.8 -1.4-1.9 -1.3-1.8 -1.3-1.9 -1.4-1.8 -1.3-1.8 -1.2-1.6 -1.5-2.1 -1.3-1.8 -1.4-1.8 -1.3-1.9 -1.4-1.8 -1.3-1.8 -1.3-1.7 -1.4-1.9 -1.4-1.9 -1.3-1.8 -1.3-1.8 -1.4-1.8 -1.3-1.8 -1.4-1.8 -1.3-1.8 -1.4-1.8 -1.3-1.8 -1.4-1.8 -1.3-1.8 -1.2-1.6 -1.5-2 -1.3-1.8 -1.4-1.8 -1.3-1.8 -1.4-1.8 -1.3-1.7 -1.3-1.8 -1.4-1.8 -1.4-1.8 -1.3-1.8 -1.4-1.7 -1.3-1.8 -1.3-1.8 -1.4-1.7 -1.3-1.8 -1.4-1.8 -1.3-1.7 -1.4-1.8 -1.3-1.8 -1.3-1.6 -1.4-1.9 -1.4-1.7 -1.3-1.8 -1.4-1.7 -1.3-1.8 -1.4-1.7 -1.3-1.7 -1.4-1.8 -1.3-1.8 -1.4-1.7 -1.3-1.7 -1.4-1.8 -1.3-1.7 -1.4-1.7 -1.3-1.8 -1.4-1.7 -1.3-1.7 -1.4-1.7 -1.3-1.8 -1.4-1.7 -1.3-1.7 -1.4-1.7 -1.3-1.7 -1.4-1.7 -1.3-1.8 -1.4-1.7 -1.3-1.7 -1.4-1.7 -1.3-1.7 -1.4-1.7 -2.4-.4 -2.1 .9 -2 .9 1.1 1.8 1.5 1.7 1.4 1.6 1.4 1.7 1.4 1.7 1.4 1.7 1.5 1.7 1.4 1.6 1.4 1.7 1.4 1.7 1.4 1.7 1.4 1.7 1.4 1.7 1.4 1.7 1.4 1.7 1.4 1.7 1.4 1.7 1.4 1.7 1.4 1.7 1.4 1.8 1.4 1.7 1.4 1.7 1.4 1.7 1.4 1.7 1.4 1.8 1.4 1.7 1.4 1.7 1.4 1.8 1.4 1.7 1.4 1.7 1.3 1.8 1.4 1.7 1.4 1.8 1.4 1.7 1.4 1.8 1.4 1.7 1.4 1.8 1.3 1.7 1.4 1.8 1.4 1.7 1.4 1.8 1.4 1.7 1.3 1.8 1.4 1.8 1.4 1.7 1.4 1.8 1.3 1.8 1.4 1.8 1.4 1.7 1.4 1.8 1.3 1.8 1.4 1.8 1.4 1.8 1.4 1.8 1.3 1.7 1.4 1.8 1.4 1.8 1.2 1.7 1.5 1.9 1.4 1.8 1.4 1.8 1.3 1.8 1.4 1.8 1.4 1.8 1.3 1.9 1.4 1.8 1.4 1.8 1.3 1.8 1.3 1.8 1.4 1.8 1.4 1.9 1.4 1.8 1.3 1.8 1.4 1.8 1.4 1.9 1.3 1.8 1.4 1.8 1.3 1.9 1.4 1.8 .9 1.2z" fill="#aaaaaa" stroke="#aaaaaa" stroke-width="0.6"/>
<path d="M665.9,220.9l2-.9 -.5-2.1 -1.4-2 -1.4-1.8 -1.3-1.8 -1.4-1.8 -1.4-1.9 -1.3-1.8 -1.4-1.8 -1.3-1.9 -1.4-1.8 -1.4-1.8 -1.2-1.7 -1.5-1.9 -1.4-1.8 -1.3-1.8 -1.4-1.9 -1.4-1.8 -1.3-1.8 -1.4-1.8 -1.4-1.8 -1.3-1.8 -1.4-1.8 -1.3-1.7 -1.5-1.9 -1.3-1.7 -1.4-1.8 -1.4-1.8 -1.2-1.6 -1.5-2 -1.4-1.8 -1.4-1.7 -1.3-1.8 -1.4-1.8 -1.4-1.8 -1.4-1.7 -1.3-1.8 -1.4-1.8 -1.4-1.7 -1.4-1.8 -1.4-1.8 -1.3-1.7 -1.4-1.8 -1.4-1.7 -1.4-1.8 -1.4-1.7 -1.4-1.8 -1.3-1.7 -1.4-1.8 -1.4-1.7 -1.4-1.7 -1.4-1.8 -1.4-1.7 -1.4-1.7 -1.4-1.8 -1.4-1.7 -1.4-1.7 -1.3-1.8 -1.4-1.6 -1.4-1.8 -1.4-1.7 -1.4-1.7 -1.4-1.7 -1.4-1.7 -1.4-1.8 -1.4-1.7 -1.4-1.7 -1.4-1.6 -1.5-1.8 -1.4-1.7 -1.4-1.6 -1.4-1.7 -1.4-1.7 -1.4-1.7 -1.4-1.7 -1.4-1.7 -1.5-1.7 -1.4-1.6 -1.4-1.7 -1.4-1.7 -2.1-.6 -2.1 .9 -2 .9 1.1 1.8 1.5 1.7 1.5 1.6 1.5 1.7 1.4 1.6 1.5 1.7 1.5 1.6 1.4 1.7 1.5 1.7 1.5 1.6 1.4 1.7 1.5 1.7 1.4 1.7 1.5 1.6 1.4 1.7 1.5 1.7 1.4 1.7 1.5 1.7 1.4 1.7 1.5 1.7 1.4 1.7 1.5 1.7 1.4 1.7 1.4 1.7 1.5 1.7 1.4 1.7 1.4 1.7 1.4 1.7 1.5 1.8 1.4 1.7 1.4 1.7 1.3 1.6 1.6 1.9 1.4 1.7 1.4 1.7 1.3 1.7 1.5 1.8 1.5 1.7 1.4 1.8 1.3 1.6 1.5 1.9 1.4 1.7 1.4 1.8 1.4 1.7 1.4 1.8 1.4 1.7 1.4 1.8 1.4 1.8 1.4 1.7 1.4 1.8 1.4 1.8 1.4 1.7 1.4 1.8 1.4 1.8 1.4 1.8 1.4 1.8 1.4 1.7 1.4 1.8 1.4 1.8 1.4 1.8 1.4 1.8 1.4 1.8 1.4 1.8 1.4 1.8 1.4 1.8 1.4 1.8 1.3 1.8 1.4 1.8 1.4 1.8 1.4 1.8 1.3 1.7 1.5 1.9 1.4 1.9 1.3 1.8 1.4 1.8 1.3 1.7 1.5 1.9 1.4 1.9 1.3 1.8 1 1.2z" fill="#adadad" stroke="#adadad" stroke-width="0.6"/>
<path d="M663,222.2l2.1-.9 -.6-2.2 -1.4-1.8 -1.4-1.9 -1.4-1.8 -1.3-1.8 -1.4-1.8 -1.4-1.9 -1.4-1.8 -1.4-1.8 -1.4-1.8 -1.3-1.8 -1.4-1.8 -1.4-1.8 -1.4-1.8 -1.4-1.8 -1.4-1.8 -1.4-1.8 -1.4-1.8 -1.3-1.7 -1.5-1.9 -1.3-1.8 -1.4-1.8 -1.4-1.8 -1.4-1.7 -1.4-1.8 -1.4-1.8 -1.4-1.8 -1.4-1.7 -1.4-1.8 -1.4-1.8 -1.4-1.8 -1.4-1.7 -1.4-1.8 -1.4-1.7 -1.4-1.8 -1.4-1.8 -1.5-1.7 -1.4-1.8 -1.4-1.7 -1.4-1.8 -1.4-1.7 -1.4-1.7 -1.4-1.8 -1.4-1.7 -1.5-1.8 -1.4-1.7 -1.4-1.7 -1.4-1.7 -1.4-1.8 -1.5-1.7 -1.4-1.7 -1.4-1.7 -1.5-1.7 -1.4-1.8 -1.4-1.7 -1.5-1.7 -1.4-1.7 -1.4-1.7 -1.5-1.7 -1.4-1.7 -1.4-1.7 -1.5-1.7 -1.4-1.7 -1.5-1.7 -1.4-1.6 -1.5-1.7 -1.4-1.7 -1.5-1.7 -1.5-1.6 -1.4-1.7 -1.5-1.7 -1.5-1.7 -1.3-1.5 -1.6-1.8 -1.5-1.6 -1.4-1.7 -1.5-1.6 -1.5-1.7 -1.5-1.6 -2-.7 -2.1 .9 -2.1 .9 1.4 1.7 1.5 1.6 1.6 1.7 1.5 1.6 1.5 1.6 1.6 1.7 1.5 1.6 1.5 1.6 1.5 1.7 1.5 1.6 1.5 1.7 1.5 1.7 1.5 1.6 1.5 1.7 1.5 1.6 1.4 1.6 1.6 1.8 1.5 1.6 1.5 1.7 1.5 1.7 1.4 1.7 1.5 1.7 1.5 1.7 1.5 1.7 1.4 1.6 1.5 1.7 1.5 1.7 1.3 1.6 1.6 1.8 1.5 1.8 1.4 1.7 1.5 1.7 1.4 1.7 1.5 1.7 1.4 1.7 1.5 1.8 1.4 1.7 1.4 1.6 1.5 1.8 1.5 1.8 1.4 1.7 1.4 1.7 1.5 1.8 1.4 1.7 1.3 1.6 1.6 1.9 1.4 1.8 1.4 1.7 1.5 1.8 1.4 1.7 1.4 1.8 1.4 1.8 1.5 1.7 1.4 1.8 1.4 1.8 1.4 1.7 1.4 1.8 1.5 1.8 1.4 1.7 1.4 1.8 1.4 1.8 1.4 1.8 1.4 1.8 1.4 1.8 1.5 1.8 1.4 1.8 1.4 1.8 1.4 1.8 1.4 1.8 1.4 1.8 1.4 1.8 1.4 1.8 1.4 1.8 1.4 1.8 1.4 1.8 1.4 1.8 1.4 1.8 1.4 1.9 1.4 1.8 .9 1.2z" fill="#b0b0b0" stroke="#b0b0b0" stroke-width="0.6"/>
<path d="M660.2,223.4l2.2-.9 -.8-2.1 -1.4-1.8 -1.4-1.9 -1.3-1.8 -1.5-1.8 -1.4-1.8 -1.4-1.8 -1.2-1.7 -1.6-1.9 -1.4-1.8 -1.4-1.8 -1.4-1.8 -1.4-1.8 -1.4-1.8 -1.4-1.8 -1.4-1.8 -1.4-1.8 -1.4-1.8 -1.5-1.8 -1.4-1.8 -1.4-1.7 -1.4-1.8 -1.4-1.8 -1.4-1.8 -1.5-1.7 -1.4-1.8 -1.4-1.8 -1.3-1.6 -1.6-1.9 -1.4-1.8 -1.4-1.7 -1.4-1.8 -1.5-1.7 -1.4-1.8 -1.4-1.7 -1.5-1.8 -1.4-1.7 -1.4-1.7 -1.4-1.6 -1.5-1.9 -1.5-1.7 -1.4-1.8 -1.5-1.7 -1.4-1.7 -1.5-1.7 -1.4-1.7 -1.5-1.8 -1.4-1.7 -1.5-1.7 -1.4-1.7 -1.5-1.7 -1.5-1.7 -1.4-1.7 -1.5-1.7 -1.5-1.7 -1.4-1.7 -1.5-1.7 -1.5-1.7 -1.4-1.7 -1.5-1.7 -1.5-1.6 -1.5-1.7 -1.5-1.7 -1.5-1.7 -1.5-1.6 -1.5-1.7 -1.5-1.6 -1.5-1.7 -1.5-1.7 -1.5-1.6 -1.5-1.7 -1.5-1.6 -1.5-1.6 -1.5-1.7 -1.5-1.5 -1.6-1.8 -1.5-1.6 -1.6-1.6 -1.5-1.6 -2.2-.6 -2.1 .9 -.7 1.9 1.5 1.5 1.5 1.6 1.7 1.7 1.5 1.6 1.6 1.6 1.6 1.6 1.5 1.6 1.6 1.7 1.5 1.6 1.6 1.6 1.5 1.7 1.6 1.6 1.5 1.7 1.5 1.6 1.6 1.7 1.5 1.6 1.5 1.7 1.4 1.5 1.7 1.8 1.5 1.7 1.5 1.6 1.5 1.7 1.5 1.7 1.5 1.7 1.5 1.6 1.5 1.7 1.5 1.7 1.5 1.7 1.5 1.7 1.5 1.7 1.5 1.7 1.5 1.7 1.5 1.7 1.4 1.7 1.5 1.7 1.5 1.7 1.5 1.7 1.4 1.8 1.5 1.7 1.5 1.7 1.4 1.7 1.5 1.8 1.5 1.7 1.4 1.7 1.5 1.8 1.4 1.7 1.5 1.7 1.5 1.8 1.4 1.7 1.5 1.8 1.4 1.7 1.5 1.8 1.4 1.7 1.4 1.8 1.5 1.8 1.4 1.7 1.4 1.7 1.5 1.9 1.4 1.7 1.5 1.8 1.4 1.8 1.5 1.8 1.4 1.7 1.3 1.6 1.5 2 1.5 1.8 1.4 1.8 1.4 1.8 1.5 1.8 1.4 1.8 1.4 1.8 1.4 1.8 1.4 1.8 1.5 1.8 1.4 1.8 1.4 1.8 1.4 1.8 1.4 1.8 1.4 1.8z" fill="#b3b3b3" stroke="#b3b3b3" stroke-width="0.6"/>
<path d="M657.5,224.7l2.1-1 -.8-2.1 -1.4-1.8 -1.4-1.8 -1.4-1.8 -1.4-1.8 -1.5-1.8 -1.3-1.7 -1.5-1.9 -1.4-1.8 -1.4-1.8 -1.5-1.8 -1.4-1.8 -1.4-1.8 -1.5-1.8 -1.4-1.8 -1.4-1.8 -1.4-1.7 -1.3-1.6 -1.6-2 -1.5-1.8 -1.4-1.7 -1.4-1.8 -1.5-1.8 -1.4-1.7 -1.5-1.8 -1.4-1.8 -1.4-1.7 -1.5-1.8 -1.4-1.7 -1.5-1.8 -1.4-1.7 -1.5-1.8 -1.5-1.7 -1.4-1.7 -1.3-1.6 -1.6-1.9 -1.5-1.7 -1.5-1.8 -1.4-1.7 -1.5-1.7 -1.5-1.7 -1.4-1.8 -1.5-1.7 -1.5-1.7 -1.5-1.7 -1.4-1.7 -1.5-1.7 -1.5-1.7 -1.5-1.7 -1.5-1.7 -1.5-1.7 -1.5-1.7 -1.5-1.7 -1.5-1.7 -1.5-1.6 -1.5-1.7 -1.5-1.7 -1.5-1.7 -1.5-1.6 -1.5-1.7 -1.5-1.7 -1.6-1.6 -1.5-1.7 -1.5-1.6 -1.6-1.7 -1.5-1.6 -1.5-1.7 -1.6-1.6 -1.5-1.7 -1.6-1.6 -1.5-1.6 -1.6-1.7 -1.5-1.6 -1.6-1.6 -1.6-1.6 -1.5-1.6 -1.6-1.6 -1.6-1.7 -1.5-1.5 -2.1-.7 -2.1 .8 -1.9 .8 1.6 1.6 1.7 1.6 1.6 1.6 1.6 1.6 1.5 1.4 1.7 1.8 1.6 1.6 1.6 1.6 1.6 1.6 1.6 1.7 1.5 1.5 1.7 1.7 1.4 1.4 1.7 1.9 1.6 1.6 1.6 1.6 1.5 1.7 1.6 1.6 1.6 1.7 1.5 1.6 1.6 1.7 1.5 1.6 1.5 1.7 1.6 1.7 1.5 1.6 1.5 1.7 1.6 1.7 1.5 1.7 1.5 1.6 1.5 1.7 1.6 1.7 1.5 1.7 1.5 1.7 1.5 1.7 1.5 1.7 1.5 1.7 1.5 1.6 1.5 1.8 1.5 1.7 1.5 1.7 1.5 1.7 1.5 1.7 1.5 1.8 1.5 1.7 1.5 1.7 1.4 1.7 1.5 1.8 1.5 1.7 1.5 1.7 1.5 1.8 1.4 1.7 1.5 1.8 1.5 1.7 1.4 1.8 1.5 1.7 1.5 1.8 1.4 1.7 1.5 1.8 1.4 1.7 1.5 1.8 1.5 1.8 1.4 1.7 1.5 1.8 1.4 1.7 1.5 1.8 1.4 1.8 1.5 1.8 1.4 1.8 1.5 1.8 1.4 1.8 1.4 1.8 1.5 1.7 1.4 1.8 1.3 1.7 1.6 1.9 1.4 1.8 1.5 1.8 1.4 1.9 1.4 1.8 1 1.2z" fill="#b6b6b6" stroke="#b6b6b6" stroke-width="0.6"/>
<path d="M654.7,225.9l2.2-1 -.9-2 -1.4-1.9 -1.4-1.7 -1.5-1.9 -1.4-1.8 -1.4-1.8 -1.5-1.8 -1.4-1.8 -1.4-1.7 -1.5-1.8 -1.4-1.8 -1.5-1.8 -1.4-1.8 -1.5-1.8 -1.4-1.7 -1.5-1.8 -1.4-1.8 -1.5-1.8 -1.4-1.7 -1.5-1.8 -1.4-1.8 -1.5-1.7 -1.4-1.7 -1.5-1.8 -1.5-1.8 -1.3-1.5 -1.6-2 -1.5-1.7 -1.5-1.8 -1.4-1.7 -1.5-1.7 -1.5-1.8 -1.5-1.7 -1.5-1.7 -1.3-1.6 -1.6-1.9 -1.5-1.7 -1.5-1.7 -1.5-1.7 -1.5-1.8 -1.5-1.7 -1.5-1.7 -1.5-1.7 -1.5-1.7 -1.5-1.7 -1.4-1.5 -1.6-1.9 -1.5-1.7 -1.5-1.7 -1.6-1.6 -1.5-1.7 -1.5-1.7 -1.5-1.7 -1.6-1.6 -1.5-1.7 -1.4-1.6 -1.7-1.7 -1.5-1.7 -1.6-1.7 -1.5-1.6 -1.6-1.7 -1.5-1.6 -1.6-1.7 -1.5-1.6 -1.4-1.5 -1.8-1.8 -1.6-1.6 -1.5-1.6 -1.6-1.7 -1.6-1.6 -1.6-1.6 -1.6-1.6 -1.6-1.6 -1.6-1.6 -1.6-1.6 -1.6-1.6 -1.5-1.5 -1.8-1.7 -1.6-1.6 -1.9-.7 -2.1 .9 -.2 2.3 1.7 1.6 1.7 1.5 1.6 1.6 1.7 1.6 1.6 1.6 1.6 1.6 1.7 1.6 1.6 1.6 1.6 1.6 1.7 1.6 1.6 1.6 1.6 1.6 1.6 1.7 1.6 1.6 1.6 1.6 1.6 1.6 1.6 1.7 1.6 1.6 1.5 1.6 1.6 1.7 1.6 1.6 1.6 1.7 1.5 1.6 1.6 1.7 1.6 1.7 1.5 1.6 1.5 1.6 1.6 1.8 1.6 1.6 1.5 1.7 1.6 1.7 1.5 1.7 1.5 1.6 1.5 1.7 1.6 1.7 1.5 1.7 1.6 1.7 1.5 1.7 1.5 1.7 1.5 1.7 1.5 1.7 1.5 1.7 1.6 1.7 1.3 1.6 1.7 1.9 1.5 1.7 1.5 1.7 1.5 1.8 1.5 1.7 1.5 1.7 1.5 1.8 1.4 1.7 1.5 1.7 1.5 1.8 1.4 1.5 1.6 2 1.5 1.7 1.4 1.7 1.5 1.8 1.5 1.8 1.4 1.7 1.5 1.8 1.5 1.8 1.4 1.7 1.5 1.8 1.5 1.8 1.4 1.6 1.5 1.9 1.5 1.8 1.5 1.8 1.4 1.8 1.5 1.8 1.4 1.8 1.5 1.8 1.4 1.8 1.5 1.8 1.4 1.8 1.5 1.8 .9 1.2z" fill="#b9b9b9" stroke="#b9b9b9" stroke-width="0.6"/>
<path d="M652,227l2.1-.9 -.8-2 -1.4-1.8 -1.5-1.8 -1.4-1.8 -1.5-1.8 -1.3-1.7 -1.6-1.9 -1.5-1.8 -1.4-1.8 -1.5-1.8 -1.4-1.7 -1.5-1.8 -1.5-1.8 -1.4-1.8 -1.5-1.7 -1.5-1.8 -1.4-1.8 -1.5-1.7 -1.5-1.8 -1.5-1.8 -1.4-1.7 -1.5-1.8 -1.5-1.7 -1.5-1.8 -1.5-1.7 -1.5-1.7 -1.5-1.8 -1.4-1.7 -1.5-1.8 -1.5-1.7 -1.5-1.7 -1.5-1.7 -1.5-1.8 -1.5-1.7 -1.5-1.7 -1.6-1.7 -1.5-1.7 -1.5-1.7 -1.5-1.8 -1.5-1.7 -1.5-1.7 -1.6-1.7 -1.5-1.7 -1.5-1.6 -1.5-1.7 -1.6-1.7 -1.5-1.7 -1.6-1.7 -1.5-1.7 -1.4-1.5 -1.7-1.8 -1.5-1.7 -1.6-1.6 -1.6-1.7 -1.5-1.7 -1.6-1.6 -1.6-1.7 -1.5-1.6 -1.6-1.7 -1.6-1.6 -1.6-1.6 -1.6-1.7 -1.6-1.6 -1.5-1.6 -1.6-1.7 -1.6-1.6 -1.7-1.6 -1.6-1.6 -1.6-1.6 -1.6-1.6 -1.6-1.6 -1.7-1.6 -1.6-1.6 -1.6-1.6 -1.7-1.6 -1.6-1.6 -1.7-1.6 -1.7-1.6 -1.6-1.5 -2.1-.7 -2.1 .9 .2 2.1 1.7 1.6 1.7 1.6 1.6 1.5 1.7 1.6 1.7 1.6 1.7 1.6 1.6 1.6 1.7 1.6 1.7 1.6 1.6 1.5 1.7 1.6 1.6 1.7 1.6 1.6 1.7 1.6 1.6 1.6 1.5 1.5 1.7 1.7 1.7 1.7 1.6 1.6 1.6 1.6 1.6 1.7 1.6 1.6 1.6 1.6 1.6 1.7 1.6 1.6 1.5 1.7 1.6 1.6 1.6 1.7 1.6 1.7 1.5 1.6 1.6 1.7 1.6 1.7 1.5 1.7 1.6 1.6 1.6 1.7 1.5 1.7 1.6 1.7 1.5 1.7 1.5 1.7 1.6 1.7 1.5 1.7 1.6 1.7 1.5 1.7 1.5 1.7 1.5 1.7 1.4 1.5 1.7 1.9 1.5 1.7 1.5 1.8 1.5 1.7 1.6 1.7 1.5 1.7 1.5 1.8 1.5 1.7 1.5 1.8 1.5 1.7 1.5 1.7 1.5 1.8 1.3 1.5 1.7 2 1.5 1.7 1.5 1.8 1.5 1.8 1.4 1.7 1.5 1.8 1.5 1.7 1.5 1.8 1.5 1.8 1.4 1.8 1.5 1.7 1.5 1.8 1.5 1.8 1.4 1.8 1.5 1.8 1.5 1.8 1.4 1.8 1.5 1.8 1.5 1.7 .9 1.2z" fill="#bcbcbc" stroke="#bcbcbc" stroke-width="0.6"/>
<path d="M649.4,228.2l2-.9 -.8-2.1 -1.5-1.7 -1.4-1.8 -1.5-1.8 -1.5-1.8 -1.4-1.8 -1.5-1.8 -1.5-1.8 -1.5-1.7 -1.4-1.8 -1.5-1.8 -1.5-1.8 -1.5-1.7 -1.5-1.8 -1.5-1.8 -1.4-1.7 -1.5-1.8 -1.5-1.7 -1.5-1.8 -1.5-1.8 -1.5-1.7 -1.5-1.7 -1.5-1.7 -1.5-1.8 -1.5-1.8 -1.5-1.7 -1.5-1.7 -1.5-1.8 -1.6-1.7 -1.5-1.7 -1.5-1.7 -1.5-1.7 -1.5-1.8 -1.6-1.7 -1.5-1.7 -1.5-1.7 -1.6-1.7 -1.3-1.5 -1.7-1.9 -1.6-1.7 -1.5-1.7 -1.6-1.7 -1.5-1.7 -1.6-1.6 -1.5-1.7 -1.6-1.7 -1.5-1.7 -1.6-1.6 -1.6-1.7 -1.5-1.7 -1.6-1.6 -1.6-1.7 -1.6-1.7 -1.6-1.6 -1.6-1.7 -1.6-1.6 -1.6-1.6 -1.6-1.7 -1.6-1.6 -1.6-1.7 -1.6-1.6 -1.6-1.6 -1.6-1.6 -1.6-1.6 -1.6-1.6 -1.7-1.7 -1.6-1.6 -1.7-1.6 -1.6-1.6 -1.7-1.6 -1.6-1.6 -1.7-1.6 -1.7-1.5 -1.7-1.6 -1.6-1.6 -1.7-1.6 -1.7-1.5 -1.7-1.6 -1.7-1.6 -2.4-.5 -2.1 .8 .6 2 1.8 1.6 1.7 1.5 1.7 1.6 1.7 1.6 1.7 1.5 1.7 1.6 1.7 1.6 1.7 1.6 1.7 1.5 1.7 1.6 1.7 1.6 1.6 1.6 1.7 1.6 1.7 1.6 1.6 1.6 1.7 1.6 1.6 1.6 1.7 1.7 1.6 1.6 1.6 1.6 1.7 1.6 1.6 1.7 1.6 1.6 1.6 1.6 1.6 1.7 1.6 1.6 1.6 1.7 1.7 1.6 1.6 1.7 1.5 1.6 1.6 1.7 1.6 1.7 1.6 1.6 1.6 1.7 1.6 1.7 1.5 1.6 1.6 1.7 1.6 1.7 1.5 1.7 1.6 1.7 1.6 1.7 1.5 1.7 1.4 1.5 1.7 1.9 1.6 1.7 1.5 1.7 1.6 1.7 1.5 1.7 1.5 1.7 1.5 1.6 1.6 1.8 1.5 1.8 1.6 1.7 1.5 1.7 1.5 1.8 1.5 1.7 1.6 1.7 1.5 1.8 1.5 1.7 1.5 1.7 1.5 1.8 1.5 1.8 1.5 1.7 1.5 1.8 1.5 1.7 1.5 1.8 1.5 1.7 1.5 1.8 1.5 1.8 1.5 1.7 1.5 1.8 1.5 1.8 1.5 1.8 1.5 1.8 1.4 1.7 1.5 1.8 1.5 1.8 1.5 1.8 1 1.2z" fill="#c0c0c0" stroke="#c0c0c0" stroke-width="0.6"/>
<path d="M646.7,229.3l1.9-.8 -.7-2.1 -1.5-1.8 -1.3-1.6 -1.6-2 -1.5-1.7 -1.5-1.8 -1.5-1.8 -1.5-1.8 -1.5-1.7 -1.5-1.8 -1.5-1.8 -1.5-1.7 -1.5-1.8 -1.5-1.8 -1.5-1.7 -1.5-1.8 -1.5-1.7 -1.5-1.8 -1.5-1.7 -1.5-1.8 -1.5-1.7 -1.5-1.7 -1.6-1.8 -1.5-1.7 -1.5-1.8 -1.5-1.7 -1.6-1.7 -1.5-1.7 -1.5-1.7 -1.6-1.8 -1.5-1.7 -1.5-1.7 -1.6-1.7 -1.5-1.7 -1.6-1.7 -1.5-1.7 -1.6-1.7 -1.6-1.7 -1.5-1.7 -1.6-1.7 -1.5-1.7 -1.6-1.6 -1.6-1.7 -1.6-1.7 -1.5-1.7 -1.6-1.6 -1.6-1.7 -1.6-1.7 -1.6-1.6 -1.6-1.7 -1.6-1.6 -1.6-1.7 -1.6-1.6 -1.6-1.7 -1.6-1.6 -1.6-1.6 -1.7-1.7 -1.6-1.6 -1.6-1.6 -1.7-1.7 -1.6-1.6 -1.6-1.6 -1.7-1.6 -1.6-1.6 -1.7-1.6 -1.7-1.6 -1.5-1.5 -1.8-1.7 -1.7-1.6 -1.7-1.6 -1.6-1.6 -1.7-1.5 -1.7-1.6 -1.7-1.6 -1.8-1.6 -1.7-1.5 -1.7-1.6 -1.7-1.5 -1.7-1.6 -2.2-.6 -2.1 .8 .5 2 1.8 1.6 1.7 1.5 1.8 1.6 1.7 1.5 1.8 1.6 1.7 1.6 1.7 1.5 1.7 1.6 1.8 1.6 1.7 1.5 1.7 1.6 1.7 1.6 1.7 1.6 1.6 1.6 1.7 1.6 1.7 1.6 1.7 1.6 1.4 1.4 1.9 1.8 1.7 1.6 1.6 1.7 1.7 1.6 1.6 1.6 1.6 1.6 1.7 1.7 1.6 1.6 1.6 1.6 1.7 1.7 1.6 1.6 1.6 1.7 1.6 1.6 1.6 1.7 1.6 1.6 1.6 1.7 1.6 1.7 1.6 1.6 1.6 1.7 1.6 1.7 1.6 1.7 1.6 1.7 1.6 1.6 1.5 1.7 1.6 1.7 1.6 1.7 1.6 1.7 1.5 1.7 1.6 1.7 1.5 1.7 1.6 1.7 1.6 1.7 1.5 1.7 1.6 1.8 1.5 1.7 1.5 1.7 1.6 1.7 1.5 1.8 1.6 1.7 1.5 1.7 1.5 1.8 1.6 1.7 1.5 1.7 1.5 1.8 1.4 1.6 1.7 1.9 1.5 1.7 1.5 1.8 1.5 1.7 1.4 1.6 1.6 2 1.5 1.7 1.5 1.8 1.5 1.8 1.5 1.7 1.5 1.8 1.5 1.8 1.4 1.7 1.6 1.9 1.5 1.7 1 1.2z" fill="#c5c5c5" stroke="#c5c5c5" stroke-width="0.6"/>
<path d="M644.1,230.5l2.4-1.1 -1.3-1.8 -1.5-1.8 -1.5-1.8 -1.5-1.8 -1.5-1.8 -1.3-1.6 -1.7-1.9 -1.5-1.8 -1.5-1.8 -1.5-1.7 -1.5-1.8 -1.5-1.7 -1.5-1.8 -1.5-1.8 -1.6-1.7 -1.5-1.8 -1.5-1.7 -1.5-1.7 -1.5-1.8 -1.6-1.7 -1.5-1.8 -1.5-1.7 -1.6-1.7 -1.5-1.7 -1.6-1.8 -1.5-1.7 -1.6-1.7 -1.5-1.7 -1.6-1.7 -1.5-1.8 -1.6-1.7 -1.5-1.7 -1.6-1.7 -1.6-1.7 -1.5-1.7 -1.6-1.6 -1.6-1.7 -1.6-1.7 -1.5-1.7 -1.6-1.7 -1.5-1.6 -1.7-1.7 -1.5-1.6 -1.7-1.8 -1.6-1.6 -1.6-1.7 -1.6-1.7 -1.6-1.6 -1.6-1.7 -1.6-1.6 -1.7-1.7 -1.6-1.6 -1.6-1.6 -1.7-1.7 -1.6-1.6 -1.5-1.5 -1.8-1.8 -1.6-1.6 -1.7-1.6 -1.7-1.6 -1.6-1.6 -1.7-1.6 -1.7-1.6 -1.6-1.6 -1.7-1.6 -1.7-1.6 -1.7-1.6 -1.7-1.6 -1.6-1.5 -1.8-1.7 -1.7-1.5 -1.8-1.6 -1.7-1.6 -1.7-1.5 -1.8-1.6 -1.7-1.5 -1.7-1.6 -1.8-1.5 -1.8-1.6 -1.9-.7 -2.1 .8 .4 2.1 1.8 1.5 1.8 1.5 1.8 1.6 1.7 1.5 1.8 1.6 1.8 1.5 1.7 1.6 1.8 1.6 1.7 1.5 1.7 1.6 1.6 1.4 1.9 1.8 1.7 1.5 1.7 1.6 1.7 1.6 1.7 1.6 1.5 1.4 1.9 1.8 1.7 1.6 1.7 1.6 1.6 1.6 1.7 1.6 1.7 1.7 1.6 1.6 1.7 1.6 1.7 1.6 1.6 1.7 1.7 1.6 1.6 1.6 1.6 1.7 1.7 1.6 1.6 1.7 1.6 1.6 1.6 1.6 1.7 1.8 1.6 1.6 1.6 1.7 1.6 1.6 1.6 1.7 1.6 1.7 1.6 1.7 1.6 1.7 1.6 1.6 1.6 1.7 1.6 1.7 1.6 1.7 1.6 1.7 1.5 1.7 1.6 1.7 1.6 1.7 1.6 1.7 1.5 1.7 1.6 1.7 1.5 1.8 1.6 1.7 1.6 1.7 1.5 1.7 1.6 1.7 1.5 1.8 1.6 1.7 1.5 1.7 1.5 1.8 1.6 1.7 1.5 1.8 1.5 1.7 1.6 1.8 1.5 1.7 1.4 1.6 1.7 1.9 1.5 1.8 1.5 1.8 1.5 1.7 1.4 1.6 1.7 2 1.5 1.7 1.5 1.8 1.5 1.8 1.5 1.8 1 1.2z" fill="#cacaca" stroke="#cacaca" stroke-width="0.6"/>
<path d="M641.5,231.6l2.3-1 -1.2-1.9 -1.5-1.8 -1.5-1.8 -1.5-1.8 -1.5-1.7 -1.6-1.8 -1.5-1.8 -1.5-1.7 -1.5-1.8 -1.5-1.8 -1.6-1.7 -1.5-1.8 -1.5-1.7 -1.6-1.8 -1.5-1.7 -1.4-1.6 -1.7-1.9 -1.5-1.7 -1.6-1.8 -1.5-1.7 -1.6-1.7 -1.5-1.8 -1.6-1.7 -1.5-1.7 -1.6-1.7 -1.5-1.7 -1.6-1.7 -1.6-1.8 -1.5-1.7 -1.6-1.7 -1.6-1.7 -1.6-1.7 -1.6-1.7 -1.5-1.7 -1.6-1.6 -1.6-1.7 -1.6-1.7 -1.6-1.7 -1.6-1.7 -1.6-1.6 -1.6-1.7 -1.6-1.7 -1.6-1.6 -1.7-1.7 -1.6-1.7 -1.6-1.6 -1.5-1.5 -1.8-1.8 -1.6-1.7 -1.6-1.6 -1.7-1.6 -1.6-1.7 -1.7-1.6 -1.5-1.5 -1.8-1.8 -1.7-1.6 -1.6-1.6 -1.7-1.6 -1.7-1.6 -1.7-1.6 -1.7-1.6 -1.7-1.6 -1.7-1.6 -1.7-1.6 -1.7-1.6 -1.7-1.6 -1.7-1.6 -1.7-1.5 -1.8-1.6 -1.7-1.6 -1.7-1.6 -1.8-1.5 -1.7-1.6 -1.8-1.5 -1.7-1.6 -1.8-1.5 -1.8-1.6 -1.8-1.5 -1.8-1.5 -1.9-.8 -2.1 .9 .5 2 1.9 1.5 1.8 1.5 1.8 1.5 1.8 1.6 1.7 1.5 1.8 1.6 1.8 1.5 1.8 1.6 1.7 1.5 1.8 1.6 1.7 1.6 1.8 1.5 1.7 1.6 1.7 1.6 1.8 1.6 1.7 1.6 1.7 1.6 1.7 1.6 1.7 1.6 1.7 1.6 1.7 1.6 1.6 1.4 1.8 1.8 1.7 1.6 1.7 1.6 1.7 1.6 1.6 1.7 1.7 1.6 1.7 1.6 1.6 1.7 1.7 1.6 1.6 1.6 1.7 1.7 1.6 1.6 1.7 1.7 1.6 1.6 1.6 1.7 1.7 1.7 1.6 1.6 1.6 1.7 1.6 1.7 1.6 1.6 1.7 1.7 1.6 1.7 1.6 1.7 1.6 1.7 1.6 1.7 1.6 1.7 1.6 1.7 1.5 1.7 1.6 1.7 1.6 1.7 1.6 1.7 1.6 1.7 1.5 1.7 1.6 1.7 1.6 1.7 1.6 1.7 1.5 1.7 1.6 1.8 1.5 1.7 1.6 1.8 1.6 1.7 1.5 1.7 1.6 1.8 1.5 1.7 1.5 1.8 1.5 1.7 1.6 1.8 1.6 1.7 1.5 1.8 1.5 1.7 1.6 1.8 1.5 1.8 1.5 1.7 1.6 1.8 1.5 1.8 1.5 1.8 1 1.2z" fill="#cfcfcf" stroke="#cfcfcf" stroke-width="0.6"/>
<path d="M638.9,232.6l2.1-.8 -1-2 -1.5-1.8 -1.6-1.8 -1.5-1.7 -1.5-1.8 -1.5-1.8 -1.6-1.7 -1.5-1.8 -1.5-1.7 -1.6-1.8 -1.5-1.8 -1.6-1.7 -1.5-1.8 -1.6-1.7 -1.5-1.7 -1.6-1.8 -1.5-1.7 -1.4-1.5 -1.7-2 -1.6-1.7 -1.6-1.7 -1.5-1.7 -1.6-1.8 -1.6-1.7 -1.6-1.7 -1.5-1.7 -1.6-1.7 -1.6-1.7 -1.6-1.7 -1.6-1.7 -1.6-1.7 -1.6-1.7 -1.6-1.7 -1.6-1.7 -1.6-1.7 -1.6-1.6 -1.6-1.7 -1.6-1.7 -1.6-1.7 -1.7-1.6 -1.6-1.7 -1.4-1.5 -1.8-1.8 -1.7-1.7 -1.6-1.6 -1.7-1.7 -1.6-1.6 -1.7-1.6 -1.5-1.6 -1.8-1.7 -1.6-1.7 -1.7-1.6 -1.7-1.6 -1.7-1.6 -1.6-1.6 -1.7-1.7 -1.7-1.6 -1.7-1.6 -1.7-1.6 -1.7-1.6 -1.7-1.6 -1.8-1.6 -1.7-1.6 -1.7-1.5 -1.7-1.6 -1.6-1.5 -1.9-1.7 -1.8-1.5 -1.7-1.6 -1.8-1.6 -1.7-1.5 -1.8-1.6 -1.8-1.5 -1.8-1.6 -1.7-1.5 -1.8-1.6 -1.8-1.5 -1.8-1.5 -1.9-1.6 -2-.6 -2.1 .8 .8 1.9 1.8 1.5 1.8 1.5 1.8 1.5 1.9 1.6 1.8 1.5 1.8 1.6 1.8 1.5 1.8 1.6 1.7 1.5 1.8 1.6 1.8 1.5 1.8 1.6 1.7 1.6 1.8 1.5 1.7 1.6 1.8 1.6 1.7 1.6 1.7 1.6 1.8 1.6 1.7 1.5 1.7 1.6 1.5 1.4 1.9 1.9 1.7 1.6 1.7 1.6 1.7 1.6 1.7 1.6 1.7 1.6 1.7 1.7 1.7 1.6 1.7 1.6 1.6 1.7 1.7 1.6 1.6 1.6 1.7 1.7 1.7 1.6 1.6 1.7 1.7 1.6 1.6 1.7 1.6 1.7 1.7 1.6 1.6 1.7 1.6 1.7 1.7 1.7 1.6 1.6 1.6 1.7 1.6 1.7 1.6 1.7 1.6 1.7 1.6 1.7 1.7 1.7 1.6 1.7 1.5 1.7 1.6 1.7 1.6 1.7 1.6 1.7 1.6 1.7 1.6 1.7 1.6 1.7 1.5 1.8 1.6 1.7 1.6 1.7 1.6 1.8 1.5 1.7 1.6 1.7 1.6 1.8 1.5 1.7 1.6 1.7 1.5 1.8 1.5 1.6 1.6 1.9 1.6 1.8 1.5 1.7 1.6 1.8 1.5 1.7 1.5 1.8 1.6 1.7 1.5 1.8 1 1.2z" fill="#d4d4d4" stroke="#d4d4d4" stroke-width="0.6"/>
<path d="M636.4,233.7l2.5-1.1 -1.5-1.7 -1.5-1.8 -1.6-1.8 -1.5-1.7 -1.5-1.8 -1.6-1.8 -1.5-1.6 -1.6-1.9 -1.5-1.7 -1.6-1.8 -1.5-1.7 -1.6-1.8 -1.6-1.7 -1.5-1.8 -1.6-1.7 -1.6-1.7 -1.5-1.8 -1.6-1.6 -1.6-1.8 -1.4-1.5 -1.7-1.9 -1.6-1.8 -1.6-1.7 -1.6-1.7 -1.6-1.7 -1.6-1.7 -1.6-1.7 -1.6-1.7 -1.6-1.7 -1.5-1.6 -1.7-1.8 -1.6-1.7 -1.6-1.6 -1.7-1.7 -1.6-1.7 -1.6-1.7 -1.6-1.7 -1.7-1.6 -1.6-1.7 -1.6-1.6 -1.7-1.7 -1.6-1.7 -1.7-1.6 -1.6-1.7 -1.7-1.6 -1.7-1.6 -1.6-1.7 -1.7-1.6 -1.7-1.7 -1.7-1.6 -1.6-1.6 -1.7-1.6 -1.7-1.6 -1.5-1.4 -1.9-1.9 -1.7-1.6 -1.7-1.6 -1.8-1.6 -1.7-1.6 -1.6-1.5 -1.8-1.7 -1.8-1.6 -1.7-1.5 -1.8-1.6 -1.7-1.6 -1.8-1.6 -1.7-1.5 -1.8-1.6 -1.8-1.6 -1.8-1.5 -1.7-1.6 -1.8-1.5 -1.8-1.6 -1.8-1.5 -1.8-1.5 -1.9-1.6 -1.8-1.5 -1.8-1.5 -1.9-1.5 -2.3-.6 -2.1 .7 1.2 1.8 1.8 1.5 1.9 1.6 1.8 1.5 1.8 1.5 1.9 1.6 1.8 1.5 1.8 1.5 1.8 1.6 1.8 1.5 1.8 1.6 1.8 1.5 1.8 1.6 1.8 1.6 1.8 1.5 1.6 1.5 1.9 1.7 1.8 1.5 1.7 1.6 1.8 1.6 1.7 1.6 1.7 1.6 1.8 1.6 1.7 1.6 1.7 1.6 1.7 1.6 1.8 1.6 1.7 1.6 1.7 1.6 1.7 1.7 1.7 1.6 1.7 1.6 1.7 1.6 1.6 1.7 1.7 1.6 1.7 1.7 1.7 1.6 1.6 1.7 1.7 1.6 1.4 1.4 1.9 1.9 1.7 1.7 1.6 1.6 1.7 1.7 1.6 1.7 1.6 1.6 1.6 1.6 1.7 1.8 1.6 1.7 1.7 1.7 1.6 1.7 1.6 1.7 1.6 1.6 1.6 1.7 1.6 1.7 1.7 1.7 1.6 1.8 1.6 1.7 1.6 1.7 1.6 1.7 1.5 1.7 1.6 1.7 1.6 1.8 1.6 1.7 1.6 1.7 1.6 1.7 1.5 1.8 1.6 1.7 1.6 1.8 1.6 1.7 1.5 1.7 1.6 1.8 1.5 1.7 1.6 1.8 1.4 1.6 1.7 1.9 1.6 1.8 1.5 1.7 1.6 1.8 1 1.2z" fill="#d9d9d9" stroke="#d9d9d9" stroke-width="0.6"/>
<path d="M633.9,234.7l2.2-.9 -1.3-1.9 -1.5-1.7 -1.4-1.7 -1.7-1.9 -1.6-1.7 -1.5-1.8 -1.6-1.7 -1.5-1.8 -1.6-1.7 -1.6-1.8 -1.5-1.7 -1.6-1.8 -1.6-1.7 -1.6-1.7 -1.5-1.8 -1.6-1.7 -1.6-1.7 -1.6-1.7 -1.6-1.8 -1.6-1.7 -1.6-1.7 -1.6-1.7 -1.6-1.7 -1.6-1.7 -1.6-1.7 -1.6-1.7 -1.6-1.7 -1.6-1.7 -1.6-1.7 -1.7-1.7 -1.6-1.7 -1.6-1.7 -1.7-1.6 -1.6-1.7 -1.6-1.7 -1.7-1.7 -1.6-1.6 -1.7-1.7 -1.6-1.6 -1.7-1.7 -1.7-1.6 -1.6-1.7 -1.7-1.6 -1.7-1.7 -1.5-1.5 -1.8-1.8 -1.7-1.6 -1.7-1.6 -1.7-1.7 -1.7-1.6 -1.7-1.6 -1.7-1.6 -1.7-1.6 -1.7-1.6 -1.7-1.6 -1.8-1.6 -1.7-1.6 -1.7-1.6 -1.8-1.6 -1.7-1.6 -1.8-1.6 -1.7-1.6 -1.8-1.6 -1.8-1.5 -1.7-1.6 -1.8-1.6 -1.8-1.5 -1.7-1.6 -1.9-1.5 -1.8-1.6 -1.8-1.5 -1.8-1.6 -1.8-1.5 -1.8-1.6 -1.9-1.5 -1.8-1.5 -1.9-1.5 -1.8-1.6 -1.9-1.5 -1.9-.7 -2.1 .7 .8 1.9 1.9 1.6 1.9 1.5 1.8 1.5 1.9 1.5 1.8 1.5 1.9 1.6 1.8 1.5 1.9 1.5 1.8 1.6 1.8 1.5 1.8 1.6 1.8 1.5 1.8 1.6 1.8 1.6 1.5 1.3 2.1 1.8 1.8 1.6 1.7 1.5 1.8 1.6 1.8 1.6 1.7 1.6 1.8 1.6 1.7 1.6 1.8 1.6 1.7 1.6 1.7 1.6 1.8 1.6 1.7 1.6 1.7 1.6 1.7 1.7 1.7 1.6 1.7 1.6 1.7 1.6 1.7 1.7 1.7 1.6 1.7 1.6 1.7 1.7 1.7 1.6 1.7 1.7 1.6 1.6 1.7 1.7 1.7 1.6 1.4 1.5 1.9 1.9 1.6 1.6 1.7 1.7 1.6 1.7 1.7 1.7 1.6 1.6 1.6 1.7 1.7 1.7 1.6 1.7 1.7 1.7 1.6 1.7 1.6 1.7 1.6 1.7 1.6 1.7 1.7 1.7 1.6 1.7 1.6 1.7 1.6 1.7 1.6 1.8 1.6 1.7 1.6 1.7 1.6 1.7 1.5 1.8 1.6 1.7 1.6 1.7 1.6 1.8 1.6 1.7 1.6 1.8 1.5 1.7 1.6 1.8 1.6 1.7 1.5 1.8 1.6 1.7 1.6 1.8 1.5 1.8 1.1 1.1z" fill="#dedede" stroke="#dedede" stroke-width="0.6"/>
<path d="M631.4,235.8l2-.9 -1.1-1.9 -1.5-1.8 -1.6-1.8 -1.6-1.7 -1.5-1.8 -1.6-1.7 -1.6-1.8 -1.6-1.7 -1.5-1.8 -1.5-1.6 -1.7-1.8 -1.4-1.6 -1.8-1.9 -1.3-1.5 -1.9-2 -1.4-1.5 -1.8-1.9 -1.4-1.6 -1.8-1.8 -1.6-1.7 -1.6-1.8 -1.6-1.7 -1.6-1.7 -1.6-1.7 -1.7-1.7 -1.6-1.7 -1.6-1.7 -1.6-1.6 -1.7-1.7 -1.6-1.7 -1.7-1.7 -1.6-1.7 -1.7-1.6 -1.6-1.7 -1.7-1.7 -1.6-1.6 -1.7-1.7 -1.7-1.7 -1.6-1.6 -1.7-1.7 -1.5-1.5 -1.9-1.8 -1.6-1.6 -1.7-1.6 -1.7-1.7 -1.7-1.6 -1.7-1.6 -1.7-1.7 -1.7-1.6 -1.8-1.6 -1.7-1.6 -1.7-1.6 -1.7-1.6 -1.8-1.6 -1.7-1.6 -1.7-1.6 -1.8-1.6 -1.8-1.6 -1.7-1.6 -1.8-1.6 -1.8-1.6 -1.7-1.6 -1.8-1.5 -1.8-1.6 -1.8-1.6 -1.8-1.5 -1.8-1.6 -1.8-1.5 -1.8-1.6 -1.8-1.5 -1.9-1.6 -1.8-1.5 -1.8-1.5 -1.9-1.6 -1.8-1.5 -1.9-1.5 -1.8-1.5 -1.9-1.5 -1.9-1.6 -2.3-.6 -2.1 .8 1.3 1.7 1.9 1.5 1.9 1.5 1.9 1.5 1.8 1.6 1.9 1.5 1.9 1.5 1.8 1.5 1.9 1.6 1.8 1.5 1.8 1.6 1.9 1.5 1.8 1.6 1.8 1.5 1.8 1.6 1.8 1.5 1.8 1.6 1.8 1.6 1.8 1.5 1.8 1.6 1.8 1.6 1.8 1.6 1.7 1.6 1.8 1.6 1.8 1.5 1.7 1.6 1.8 1.6 1.7 1.6 1.8 1.7 1.7 1.6 1.7 1.6 1.7 1.6 1.8 1.6 1.7 1.6 1.7 1.7 1.7 1.6 1.7 1.6 1.7 1.7 1.7 1.6 1.7 1.7 1.7 1.6 1.7 1.7 1.7 1.6 1.6 1.7 1.7 1.6 1.7 1.7 1.6 1.7 1.7 1.6 1.7 1.7 1.6 1.7 1.7 1.7 1.6 1.7 1.7 1.6 1.6 1.7 1.7 1.7 1.6 1.7 1.6 1.7 1.7 1.7 1.6 1.7 1.6 1.7 1.6 1.7 1.5 1.6 1.8 1.9 1.6 1.7 1.6 1.7 1.6 1.7 1.6 1.7 1.6 1.8 1.6 1.7 1.6 1.7 1.6 1.8 1.6 1.7 1.6 1.8 1.5 1.7 1.6 1.8 1.6 1.7 1.6 1.8 1.6 1.7 1.5 1.8 1.1 1.2z" fill="#dcdcdc" stroke="#dcdcdc" stroke-width="0.6"/>
<path d="M628.9,236.8l2.4-1 -1.5-1.8 -1.6-1.8 -1.6-1.7 -1.5-1.8 -1.6-1.7 -1.6-1.8 -1.6-1.7 -1.6-1.8 -1.6-1.7 -1.6-1.7 -1.5-1.8 -1.6-1.7 -1.6-1.7 -1.7-1.8 -1.6-1.7 -1.6-1.7 -1.6-1.7 -1.6-1.7 -1.6-1.7 -1.5-1.6 -1.8-1.9 -1.6-1.7 -1.6-1.7 -1.7-1.7 -1.6-1.6 -1.6-1.7 -1.7-1.7 -1.6-1.7 -1.7-1.7 -1.6-1.7 -1.7-1.6 -1.6-1.7 -1.7-1.7 -1.6-1.6 -1.7-1.7 -1.7-1.7 -1.7-1.6 -1.7-1.7 -1.7-1.6 -1.7-1.7 -1.7-1.6 -1.7-1.7 -1.7-1.6 -1.7-1.6 -1.6-1.6 -1.8-1.7 -1.7-1.6 -1.7-1.6 -1.8-1.7 -1.7-1.6 -1.7-1.6 -1.8-1.6 -1.7-1.6 -1.8-1.6 -1.6-1.5 -1.9-1.7 -1.8-1.6 -1.7-1.6 -1.6-1.4 -2-1.7 -1.8-1.6 -1.8-1.6 -1.8-1.5 -1.8-1.6 -1.8-1.6 -1.8-1.5 -1.8-1.6 -1.8-1.5 -1.8-1.5 -1.9-1.6 -1.8-1.5 -1.9-1.6 -1.9-1.5 -1.8-1.5 -1.9-1.5 -1.9-1.6 -1.8-1.5 -1.9-1.5 -1.9-1.5 -2.1-.7 -2.1 .8 1.1 1.7 1.9 1.5 1.9 1.5 1.9 1.6 1.9 1.5 1.9 1.5 1.9 1.5 1.9 1.5 1.8 1.6 1.9 1.5 1.8 1.5 1.9 1.6 1.8 1.5 1.9 1.6 1.8 1.5 1.8 1.6 1.9 1.6 1.8 1.5 1.8 1.6 1.8 1.6 1.8 1.5 1.8 1.6 1.7 1.6 1.8 1.6 1.8 1.6 1.8 1.6 1.7 1.6 1.8 1.6 1.8 1.6 1.6 1.5 1.9 1.7 1.7 1.6 1.7 1.6 1.8 1.6 1.7 1.7 1.7 1.6 1.8 1.6 1.7 1.7 1.7 1.6 1.7 1.6 1.7 1.7 1.7 1.6 1.7 1.7 1.7 1.6 1.7 1.7 1.7 1.6 1.6 1.7 1.6 1.5 1.8 1.8 1.7 1.7 1.6 1.7 1.7 1.7 1.6 1.6 1.7 1.7 1.7 1.7 1.6 1.7 1.7 1.7 1.6 1.7 1.6 1.7 1.7 1.7 1.6 1.7 1.6 1.7 1.7 1.7 1.6 1.7 1.6 1.8 1.6 1.7 1.6 1.7 1.7 1.7 1.6 1.8 1.6 1.7 1.6 1.7 1.6 1.8 1.4 1.4 1.8 2 1.4 1.6 1.8 1.9 1.4 1.6 1.8 1.9 1.5 1.8 1.1 1.2z" fill="#d3d3d3" stroke="#d3d3d3" stroke-width="0.6"/>
<path d="M626.4,237.8l2.1-.9 -1.2-1.9 -1.6-1.7 -1.6-1.8 -1.6-1.7 -1.5-1.8 -1.6-1.7 -1.6-1.8 -1.6-1.7 -1.4-1.5 -1.9-2 -1.5-1.6 -1.7-1.8 -1.6-1.8 -1.6-1.7 -1.6-1.7 -1.6-1.7 -1.7-1.7 -1.6-1.8 -1.6-1.7 -1.7-1.7 -1.6-1.7 -1.6-1.6 -1.7-1.8 -1.6-1.7 -1.7-1.6 -1.6-1.7 -1.7-1.7 -1.7-1.7 -1.6-1.7 -1.7-1.6 -1.7-1.7 -1.6-1.7 -1.7-1.7 -1.7-1.6 -1.7-1.7 -1.7-1.6 -1.7-1.7 -1.7-1.6 -1.7-1.7 -1.7-1.6 -1.7-1.7 -1.7-1.6 -1.7-1.6 -1.7-1.7 -1.8-1.6 -1.7-1.6 -1.7-1.6 -1.8-1.6 -1.7-1.7 -1.8-1.6 -1.7-1.6 -1.8-1.6 -1.7-1.6 -1.8-1.6 -1.8-1.6 -1.8-1.5 -1.7-1.6 -1.8-1.6 -1.8-1.6 -1.8-1.6 -1.8-1.5 -1.8-1.6 -1.9-1.6 -1.8-1.5 -1.8-1.6 -1.8-1.5 -1.9-1.6 -1.8-1.5 -1.9-1.6 -1.8-1.5 -1.9-1.5 -1.8-1.6 -1.9-1.5 -1.9-1.5 -1.9-1.5 -1.9-1.5 -1.9-1.6 -1.9-1.5 -1.9-1.5 -1.9-.7 -2.2 .7 1.1 1.8 2 1.5 1.9 1.5 1.9 1.5 1.9 1.5 1.9 1.6 1.9 1.5 1.9 1.5 1.9 1.5 1.9 1.6 1.8 1.5 1.9 1.5 1.8 1.6 1.9 1.5 1.8 1.6 1.9 1.5 1.8 1.6 1.8 1.5 1.9 1.6 1.8 1.6 1.8 1.5 1.8 1.6 1.8 1.6 1.6 1.4 2 1.8 1.8 1.6 1.8 1.6 1.7 1.5 1.8 1.6 1.8 1.7 1.7 1.6 1.8 1.6 1.8 1.6 1.7 1.6 1.8 1.6 1.7 1.6 1.7 1.7 1.8 1.6 1.4 1.4 2 1.9 1.7 1.6 1.7 1.6 1.8 1.7 1.7 1.6 1.5 1.5 1.9 1.9 1.7 1.6 1.6 1.7 1.7 1.6 1.7 1.7 1.7 1.7 1.7 1.7 1.6 1.6 1.7 1.7 1.7 1.7 1.7 1.7 1.6 1.7 1.6 1.6 1.7 1.8 1.7 1.7 1.6 1.7 1.7 1.7 1.6 1.7 1.6 1.7 1.6 1.6 1.7 1.8 1.6 1.7 1.7 1.8 1.6 1.7 1.6 1.7 1.6 1.7 1.6 1.8 1.7 1.7 1.6 1.8 1.6 1.7 1.6 1.7 1.6 1.8 1.6 1.7 1.6 1.8 1 1.2z" fill="#c9c9c9" stroke="#c9c9c9" stroke-width="0.6"/>
<path d="M624,238.7l2.4-.9 -1.6-1.8 -1.4-1.6 -1.8-1.9 -1.5-1.7 -1.7-1.8 -1.6-1.7 -1.6-1.8 -1.6-1.7 -1.6-1.7 -1.6-1.8 -1.7-1.7 -1.6-1.7 -1.6-1.7 -1.6-1.8 -1.7-1.7 -1.6-1.7 -1.6-1.7 -1.7-1.7 -1.6-1.7 -1.7-1.7 -1.6-1.7 -1.7-1.7 -1.6-1.7 -1.7-1.7 -1.7-1.7 -1.6-1.6 -1.7-1.7 -1.7-1.7 -1.7-1.7 -1.6-1.6 -1.7-1.7 -1.7-1.6 -1.7-1.7 -1.7-1.7 -1.7-1.7 -1.7-1.6 -1.7-1.7 -1.7-1.6 -1.7-1.6 -1.8-1.7 -1.7-1.6 -1.7-1.6 -1.8-1.7 -1.7-1.6 -1.7-1.6 -1.8-1.6 -1.7-1.7 -1.8-1.6 -1.7-1.6 -1.8-1.6 -1.8-1.6 -1.7-1.6 -1.8-1.6 -1.8-1.6 -1.8-1.6 -1.8-1.5 -1.8-1.6 -1.8-1.6 -1.8-1.6 -1.8-1.5 -1.6-1.4 -2.1-1.8 -1.8-1.5 -1.8-1.6 -1.9-1.5 -1.8-1.6 -1.9-1.5 -1.8-1.6 -1.9-1.5 -1.9-1.5 -1.9-1.6 -1.8-1.5 -1.9-1.5 -1.9-1.5 -1.9-1.6 -1.9-1.5 -2-1.5 -1.9-1.5 -1.9-1.5 -1.9-.8 -2.1 .8 1.1 1.8 1.9 1.5 2 1.5 1.9 1.5 1.9 1.5 1.9 1.5 2 1.5 1.9 1.5 1.9 1.6 1.9 1.5 1.8 1.5 1.9 1.5 1.9 1.6 1.9 1.5 1.8 1.6 1.9 1.5 1.8 1.6 1.9 1.5 1.8 1.6 1.8 1.6 1.9 1.5 1.8 1.6 1.8 1.6 1.8 1.6 1.8 1.5 1.8 1.6 1.8 1.6 1.8 1.6 1.8 1.6 1.8 1.6 1.8 1.6 1.7 1.6 1.8 1.6 1.8 1.6 1.7 1.6 1.8 1.7 1.7 1.6 1.8 1.6 1.7 1.6 1.8 1.7 1.7 1.6 1.7 1.7 1.8 1.6 1.7 1.6 1.7 1.7 1.7 1.6 1.7 1.7 1.7 1.7 1.7 1.6 1.7 1.7 1.7 1.7 1.7 1.6 1.7 1.7 1.7 1.7 1.7 1.7 1.6 1.6 1.7 1.7 1.7 1.7 1.6 1.7 1.7 1.7 1.7 1.7 1.6 1.7 1.7 1.7 1.6 1.7 1.7 1.7 1.6 1.7 1.6 1.8 1.5 1.5 1.8 1.9 1.7 1.7 1.6 1.7 1.6 1.8 1.6 1.7 1.7 1.7 1.6 1.8 1.6 1.7 1.6 1.8 1.6 1.7 1.6 1.8 1.1 1.1z" fill="#c0c0c0" stroke="#c0c0c0" stroke-width="0.6"/>
<path d="M621.6,239.7l2-.8 -1.1-1.8 -1.7-1.9 -1.6-1.7 -1.6-1.8 -1.7-1.7 -1.6-1.7 -1.6-1.8 -1.6-1.7 -1.7-1.7 -1.6-1.8 -1.6-1.7 -1.7-1.7 -1.6-1.7 -1.6-1.7 -1.7-1.7 -1.6-1.8 -1.7-1.7 -1.6-1.7 -1.4-1.4 -2-2 -1.6-1.7 -1.7-1.6 -1.7-1.7 -1.4-1.5 -1.9-1.9 -1.7-1.7 -1.7-1.7 -1.7-1.6 -1.7-1.7 -1.6-1.7 -1.7-1.6 -1.8-1.7 -1.7-1.6 -1.7-1.7 -1.7-1.7 -1.7-1.6 -1.7-1.6 -1.7-1.7 -1.8-1.6 -1.7-1.7 -1.8-1.6 -1.7-1.6 -1.7-1.6 -1.8-1.7 -1.7-1.6 -1.8-1.6 -1.8-1.6 -1.7-1.6 -1.7-1.6 -1.9-1.6 -1.8-1.6 -1.8-1.6 -1.8-1.6 -1.8-1.6 -1.8-1.6 -1.8-1.6 -1.8-1.6 -1.8-1.5 -1.8-1.6 -1.9-1.6 -1.8-1.5 -1.8-1.6 -1.9-1.5 -1.8-1.6 -1.9-1.5 -1.9-1.6 -1.8-1.5 -1.9-1.6 -1.9-1.5 -1.9-1.5 -1.9-1.6 -1.9-1.5 -1.9-1.5 -1.9-1.5 -1.9-1.5 -1.9-1.5 -2-1.5 -1.9-1.5 -2-1.5 -1.8-.8 -2.2 .7 1.2 1.8 2 1.5 1.9 1.5 2 1.5 1.9 1.5 1.9 1.5 2 1.5 1.9 1.5 1.9 1.5 1.9 1.6 1.9 1.5 1.9 1.5 1.9 1.6 1.9 1.5 1.9 1.5 1.8 1.6 1.9 1.5 1.9 1.6 1.8 1.6 1.9 1.5 1.8 1.6 1.8 1.5 1.9 1.6 1.8 1.6 1.8 1.6 1.8 1.6 1.8 1.5 1.9 1.6 1.8 1.6 1.7 1.6 1.8 1.6 1.8 1.6 1.8 1.6 1.8 1.6 1.8 1.7 1.7 1.6 1.8 1.6 1.8 1.6 1.7 1.6 1.8 1.7 1.7 1.6 1.7 1.6 1.8 1.7 1.7 1.6 1.7 1.7 1.8 1.6 1.7 1.7 1.7 1.6 1.7 1.7 1.7 1.6 1.7 1.7 1.8 1.7 1.7 1.6 1.6 1.7 1.7 1.7 1.7 1.7 1.7 1.7 1.7 1.6 1.5 1.5 1.8 1.9 1.7 1.7 1.7 1.7 1.7 1.7 1.5 1.6 1.8 1.8 1.6 1.7 1.7 1.8 1.6 1.7 1.7 1.7 1.6 1.7 1.7 1.7 1.6 1.8 1.6 1.7 1.7 1.7 1.6 1.8 1.6 1.7 1.7 1.7 1.6 1.8 1.6 1.7 1.1 1.2z" fill="#b6b6b6" stroke="#b6b6b6" stroke-width="0.6"/>
<path d="M619.2,240.6l2.3-.9 -1.5-1.7 -1.6-1.7 -1.7-1.8 -1.6-1.8 -1.6-1.7 -1.7-1.8 -1.6-1.7 -1.6-1.7 -1.7-1.7 -1.6-1.8 -1.6-1.6 -1.7-1.8 -1.7-1.7 -1.6-1.7 -1.7-1.7 -1.6-1.7 -1.7-1.7 -1.7-1.7 -1.6-1.7 -1.7-1.7 -1.7-1.7 -1.7-1.7 -1.6-1.7 -1.7-1.7 -1.7-1.7 -1.7-1.6 -1.7-1.7 -1.7-1.7 -1.7-1.6 -1.7-1.7 -1.7-1.7 -1.8-1.6 -1.7-1.7 -1.7-1.6 -1.7-1.7 -1.8-1.6 -1.7-1.7 -1.7-1.6 -1.8-1.6 -1.7-1.7 -1.8-1.6 -1.7-1.6 -1.8-1.6 -1.8-1.7 -1.7-1.6 -1.7-1.5 -1.9-1.7 -1.8-1.6 -1.8-1.6 -1.8-1.6 -1.7-1.6 -1.9-1.6 -1.8-1.6 -1.8-1.6 -1.8-1.6 -1.8-1.5 -1.8-1.6 -1.9-1.6 -1.8-1.5 -1.9-1.6 -1.8-1.6 -1.8-1.4 -1.9-1.7 -1.9-1.5 -1.9-1.6 -1.8-1.5 -1.9-1.6 -1.9-1.5 -1.9-1.5 -1.9-1.5 -1.9-1.6 -1.9-1.5 -2-1.5 -1.9-1.5 -1.9-1.5 -2-1.5 -1.9-1.5 -2-1.5 -1.9-1.5 -2-.8 -2.1 .7 1.3 1.7 2 1.5 1.9 1.5 2 1.5 2 1.5 1.9 1.5 1.9 1.6 2 1.5 1.9 1.5 1.9 1.5 1.9 1.5 1.9 1.5 2 1.6 1.8 1.5 1.9 1.6 1.9 1.5 1.9 1.6 1.9 1.5 1.8 1.6 1.9 1.5 1.9 1.6 1.5 1.3 2.2 1.8 1.8 1.6 1.8 1.6 1.9 1.6 1.8 1.5 1.7 1.6 1.9 1.6 1.8 1.6 1.8 1.6 1.8 1.6 1.6 1.4 2 1.8 1.8 1.6 1.8 1.7 1.8 1.6 1.7 1.6 1.8 1.6 1.8 1.6 1.7 1.7 1.8 1.6 1.7 1.6 1.8 1.7 1.7 1.6 1.8 1.7 1.7 1.6 1.5 1.4 2 1.9 1.7 1.7 1.7 1.6 1.7 1.7 1.7 1.7 1.7 1.6 1.8 1.7 1.7 1.7 1.7 1.7 1.6 1.7 1.7 1.6 1.7 1.7 1.7 1.7 1.7 1.7 1.7 1.7 1.6 1.7 1.7 1.7 1.7 1.7 1.6 1.7 1.7 1.8 1.7 1.7 1.6 1.7 1.7 1.7 1.6 1.7 1.7 1.8 1.6 1.7 1.7 1.7 1.6 1.8 1.6 1.7 1.7 1.7 1.5 1.7 1.2 1.2z" fill="#ababab" stroke="#ababab" stroke-width="0.6"/>
<path d="M616.8,241.6l1.9-.8 -1.2-1.9 -1.6-1.7 -1.6-1.7 -1.7-1.8 -1.6-1.8 -1.6-1.7 -1.7-1.7 -1.6-1.7 -1.7-1.8 -1.5-1.6 -1.8-1.8 -1.6-1.7 -1.7-1.7 -1.7-1.7 -1.4-1.5 -1.9-1.9 -1.7-1.7 -1.7-1.7 -1.7-1.7 -1.6-1.7 -1.7-1.7 -1.7-1.7 -1.5-1.4 -1.9-2 -1.7-1.6 -1.7-1.7 -1.7-1.7 -1.7-1.6 -1.8-1.7 -1.7-1.7 -1.7-1.6 -1.7-1.7 -1.8-1.6 -1.7-1.7 -1.7-1.6 -1.8-1.7 -1.7-1.6 -1.8-1.6 -1.7-1.7 -1.8-1.6 -1.8-1.6 -1.7-1.7 -1.8-1.6 -1.8-1.6 -1.8-1.6 -1.8-1.6 -1.8-1.6 -1.8-1.6 -1.8-1.6 -1.8-1.6 -1.8-1.6 -1.8-1.6 -1.8-1.6 -1.8-1.6 -1.9-1.5 -1.8-1.6 -1.9-1.6 -1.8-1.6 -1.9-1.5 -1.8-1.6 -1.9-1.5 -1.8-1.6 -1.9-1.5 -1.9-1.6 -1.9-1.5 -1.9-1.6 -1.9-1.5 -1.9-1.5 -1.9-1.6 -1.9-1.5 -1.9-1.5 -2-1.5 -1.9-1.5 -1.9-1.6 -2-1.5 -2-1.5 -1.9-1.5 -2-1.5 -2-1.5 -2-.7 -2.2 .7 1.5 1.7 2 1.5 2 1.5 2 1.5 1.9 1.5 2 1.5 2 1.5 1.9 1.5 1.9 1.5 2 1.5 1.9 1.6 1.9 1.5 2 1.5 1.9 1.6 1.9 1.5 1.9 1.5 1.9 1.6 1.8 1.5 1.9 1.6 1.9 1.5 1.9 1.6 1.8 1.6 1.9 1.5 1.8 1.6 1.9 1.6 1.8 1.5 1.9 1.6 1.8 1.6 1.8 1.6 1.9 1.6 1.8 1.6 1.8 1.6 1.8 1.6 1.8 1.6 1.8 1.6 1.8 1.6 1.5 1.4 2.1 1.8 1.8 1.7 1.7 1.6 1.8 1.6 1.8 1.6 1.7 1.7 1.8 1.6 1.8 1.6 1.7 1.7 1.8 1.6 1.7 1.7 1.7 1.6 1.8 1.7 1.7 1.7 1.7 1.6 1.8 1.7 1.7 1.7 1.7 1.6 1.7 1.7 1.7 1.7 1.7 1.7 1.7 1.6 1.7 1.7 1.7 1.7 1.7 1.7 1.7 1.7 1.7 1.7 1.7 1.7 1.6 1.7 1.7 1.7 1.7 1.7 1.7 1.7 1.6 1.7 1.5 1.5 1.9 2 1.6 1.7 1.7 1.7 1.6 1.8 1.7 1.7 1.6 1.7 1.7 1.8 1.6 1.7 1.1 1.2z" fill="#a1a1a1" stroke="#a1a1a1" stroke-width="0.6"/>
<path d="M616.6,241.7l-1.4-1.9 -1.7-1.7 -1.6-1.7 -1.7-1.8 -1.6-1.7 -1.7-1.7 -1.6-1.8 -1.7-1.7 -1.7-1.7 -1.6-1.7 -1.7-1.7 -1.7-1.8 -1.6-1.7 -1.5-1.4 -1.9-2 -1.7-1.7 -1.7-1.7 -1.7-1.7 -1.6-1.7 -1.7-1.6 -1.7-1.7 -1.7-1.7 -1.8-1.7 -1.7-1.7 -1.7-1.6 -1.7-1.7 -1.7-1.7 -1.7-1.6 -1.8-1.7 -1.7-1.7 -1.7-1.6 -1.8-1.7 -1.7-1.6 -1.8-1.7 -1.6-1.4 -1.9-1.8 -1.7-1.7 -1.8-1.6 -1.8-1.6 -1.8-1.7 -1.7-1.6 -1.8-1.6 -1.8-1.6 -1.8-1.6 -1.8-1.6 -1.8-1.6 -1.8-1.7 -1.8-1.6 -1.8-1.5 -1.8-1.6 -1.9-1.6 -1.8-1.6 -1.8-1.6 -1.9-1.6 -1.8-1.6 -1.9-1.5 -1.8-1.6 -1.9-1.6 -1.9-1.5 -1.8-1.6 -1.7-1.4 -2.1-1.7 -1.9-1.5 -1.9-1.6 -1.9-1.5 -1.9-1.6 -1.9-1.5 -1.9-1.5 -1.9-1.5 -2-1.6 -1.9-1.5 -1.9-1.5 -2-1.5 -1.9-1.5 -2-1.5 -2-1.5 -2-1.5 -1.9-1.5 -2-1.5 -2.3-.7 -2.1 .7 1.7 1.6 2 1.5 2 1.5 2 1.5 2 1.5 1.9 1.4 2 1.6 2 1.5 1.9 1.5 2 1.5 1.9 1.6 2 1.5 1.9 1.5 1.9 1.5 1.9 1.6 1.9 1.5 2 1.6 1.9 1.5 1.8 1.6 1.9 1.5 1.9 1.6 1.9 1.5 1.9 1.6 1.8 1.6 1.9 1.5 1.9 1.6 1.8 1.6 1.9 1.6 1.8 1.6 1.8 1.5 1.9 1.6 1.8 1.6 1.8 1.6 1.8 1.6 1.8 1.6 1.8 1.6 1.8 1.7 1.8 1.6 1.8 1.6 1.8 1.6 1.8 1.6 1.8 1.7 1.8 1.6 1.7 1.6 1.8 1.7 1.8 1.6 1.7 1.6 1.8 1.7 1.4 1.4 1.5 1.3 1.7 1.7 1.8 1.7 1.7 1.6 1.8 1.7 1.7 1.6 1.7 1.7 1.7 1.7 1.8 1.7 1.4 1.4 2 1.9 1.7 1.7 1.7 1.7 1.7 1.7 1.7 1.7 1.7 1.7 1.7 1.7 1.7 1.7 1.6 1.7 1.7 1.7 1.6 1.6 1.8 1.8 1.7 1.8 1.8 1.6 1.9 1.6 2 1.7 1.9 1.6 2 1.6 1.9 1.6 2 1.6 1.9 1.7z" fill="#969696" stroke="#969696" stroke-width="0.6"/>
<path d="M601.7,229.2l-1.7-1.7 -1.6-1.7 -1.7-1.7 -1.7-1.7 -1.7-1.7 -1.7-1.7 -1.7-1.7 -1.6-1.7 -1.7-1.7 -1.7-1.7 -1.7-1.7 -1.8-1.7 -1.7-1.7 -1.7-1.7 -1.7-1.6 -1.7-1.7 -1.7-1.7 -1.8-1.7 -1.7-1.6 -1.7-1.7 -1.8-1.7 -1.7-1.6 -1.8-1.7 -1.7-1.6 -1.8-1.7 -1.7-1.6 -1.8-1.6 -1.8-1.7 -1.7-1.6 -1.8-1.6 -1.8-1.7 -1.8-1.6 -1.8-1.6 -1.8-1.6 -1.8-1.6 -1.8-1.7 -1.8-1.6 -1.8-1.6 -1.8-1.6 -1.8-1.6 -1.8-1.6 -1.9-1.6 -1.8-1.5 -1.8-1.6 -1.9-1.6 -1.8-1.6 -1.7-1.4 -2.1-1.7 -1.8-1.6 -1.9-1.6 -1.9-1.5 -1.9-1.6 -1.9-1.5 -1.8-1.6 -1.9-1.5 -2-1.6 -1.9-1.5 -1.9-1.6 -1.9-1.5 -1.9-1.5 -2-1.5 -1.9-1.6 -2-1.5 -1.9-1.5 -2-1.5 -1.9-1.5 -2-1.5 -2-1.5 -2-1.5 -2-1.5 -2-1.5 -2-1.5 -2.6 .9 1.4 1.7 2 1.5 2 1.5 2 1.4 2 1.5 2 1.5 1.9 1.6 2 1.5 2 1.5 1.9 1.5 2 1.5 1.9 1.5 2 1.6 1.9 1.5 1.9 1.5 2 1.6 1.9 1.5 1.9 1.6 1.9 1.5 1.9 1.6 1.9 1.5 1.9 1.6 1.9 1.5 1.9 1.6 1.8 1.6 1.9 1.5 1.9 1.6 1.8 1.6 1.9 1.6 1.8 1.6 1.9 1.6 1.8 1.5 1.8 1.6 1.9 1.6 1.8 1.6 1.8 1.7 1.6 1.4 2 1.8 1.8 1.6 1.8 1.6 1.8 1.6 1.8 1.7 1.8 1.6 1.8 1.6 1.8 1.7 1.8 1.6 1.7 1.6 1.8 1.7 1.8 1.6 1.7 1.7 1.8 1.6 1.7 1.7 1.8 1.6 1.7 1.7 1.8 1.7 1.7 1.6 1.7 1.7 1.7 1.7 1.8 1.7 1.7 1.6 1.7 1.7 1.7 1.7 1.8 1.7 2 1.6 1.9 1.6 2 1.6 1.9 1.6 2 1.6 1.9 1.6 2 1.6 1.9 1.6 2 1.6z" fill="#8f8f8f" stroke="#8f8f8f" stroke-width="0.6"/>
<path d="M582.8,213.7l-1.6-1.7 -1.7-1.7 -1.8-1.7 -1.7-1.7 -1.7-1.6 -1.4-1.4 -1.5-1.4 -1.7-1.7 -1.8-1.6 -1.7-1.7 -1.8-1.7 -1.7-1.6 -1.8-1.7 -1.7-1.6 -1.8-1.7 -1.8-1.6 -1.5-1.4 -2-1.9 -1.8-1.6 -1.8-1.7 -1.8-1.6 -1.8-1.6 -1.8-1.6 -1.8-1.7 -1.8-1.6 -1.8-1.6 -1.8-1.6 -1.8-1.6 -1.8-1.6 -1.9-1.6 -1.8-1.6 -1.8-1.6 -1.9-1.6 -1.8-1.5 -1.9-1.6 -1.9-1.6 -1.8-1.6 -1.9-1.6 -1.9-1.5 -1.9-1.6 -1.8-1.5 -1.9-1.6 -1.9-1.6 -1.9-1.5 -1.9-1.6 -2-1.5 -1.9-1.5 -1.9-1.6 -1.9-1.5 -2-1.5 -1.9-1.6 -2-1.5 -1.9-1.5 -2-1.5 -2-1.5 -1.9-1.5 -2-1.6 -2-1.5 -2-1.5 -2-1.4 -2-1.5 -2-1.5 -2.1-.8 -2.2 .7 1.7 1.6 2.1 1.5 2 1.5 2 1.5 2 1.5 2 1.5 2 1.5 2 1.5 1.9 1.5 2 1.5 2 1.6 1.9 1.5 2 1.5 1.9 1.5 2 1.6 1.9 1.5 2 1.5 1.9 1.6 1.9 1.5 1.9 1.6 1.9 1.5 1.9 1.6 1.9 1.6 1.9 1.5 1.9 1.6 1.9 1.6 1.9 1.5 1.8 1.6 1.9 1.6 1.9 1.6 1.8 1.6 1.9 1.5 1.8 1.6 1.8 1.6 1.9 1.6 1.8 1.6 1.8 1.7 1.9 1.6 1.8 1.6 1.8 1.6 1.8 1.6 1.8 1.6 1.8 1.7 1.8 1.6 1.8 1.6 1.8 1.7 1.8 1.6 1.7 1.6 1.8 1.7 1.8 1.6 1.8 1.7 2 1.5 1.9 1.6 2 1.6 1.9 1.6 2 1.6 1.9 1.6 2 1.6 1.9 1.6 2 1.6 1.9 1.6 2 1.6 .6 .5z" fill="#8b8b8b" stroke="#8b8b8b" stroke-width="0.6"/>
<path d="M560.1,195.1l-1.8-1.6 -1.8-1.7 -1.8-1.6 -1.7-1.6 -1.8-1.7 -1.8-1.6 -1.8-1.7 -1.8-1.6 -1.8-1.6 -1.8-1.6 -1.8-1.6 -1.8-1.7 -1.9-1.6 -1.8-1.6 -1.8-1.6 -1.8-1.6 -1.9-1.6 -1.8-1.6 -1.9-1.6 -1.8-1.6 -1.9-1.6 -1.8-1.5 -1.9-1.6 -1.9-1.6 -1.8-1.6 -1.9-1.5 -1.9-1.6 -1.9-1.6 -1.7-1.3 -2.1-1.8 -1.9-1.5 -1.9-1.6 -2-1.5 -1.9-1.6 -1.9-1.5 -2-1.5 -1.9-1.6 -2-1.5 -1.9-1.5 -2-1.6 -1.9-1.5 -2-1.5 -2-1.5 -2-1.5 -2-1.5 -1.9-1.5 -2.1-1.5 -2-1.5 -2-1.5 -2-1.5 -2.5-.6 -2.1 .7 2.1 1.4 2 1.5 2 1.5 2 1.5 2.1 1.5 2 1.5 2 1.5 2 1.5 2 1.5 1.9 1.5 2 1.6 2 1.5 2 1.5 1.9 1.5 2 1.6 1.9 1.5 2 1.5 1.9 1.6 1.9 1.5 2 1.6 1.9 1.5 1.9 1.6 1.9 1.5 1.9 1.6 1.9 1.6 1.9 1.5 1.9 1.6 1.9 1.6 1.8 1.6 1.9 1.6 1.9 1.5 1.9 1.6 1.9 1.6 2 1.5 2 1.6 1.9 1.6 2 1.5 1.9 1.6 2 1.5 1.9 1.6 2 1.6 1.9 1.6 2 1.5 1.9 1.6 2 1.6 1.9 1.6 2 1.5 1.9 1.6 2 1.6 1.9 1.6 1.4 1z" fill="#878787" stroke="#878787" stroke-width="0.6"/>
<path d="M522.3,164.8l-1.9-1.6 -1.8-1.6 -1.9-1.6 -1.9-1.6 -1.9-1.5 -1.9-1.6 -1.9-1.6 -1.9-1.5 -1.9-1.6 -1.9-1.5 -1.9-1.6 -1.8-1.4 -2.1-1.7 -1.9-1.5 -1.9-1.6 -2-1.5 -1.9-1.5 -2-1.6 -1.9-1.5 -2-1.5 -1.7-1.3 -1.6-1.3 -2-1.5 -2-1.5 -2-1.5 -2-1.5 -2-1.5 -2-1.5 -2.1-1.5 -2-1.5 -2-1.4 1.8 1.5 1.9 1.5 2 1.5 1.9 1.6 2 1.5 1.9 1.5 2 1.5 1.9 1.5 2 1.6 1.9 1.5 2 1.5 1.9 1.6 2 1.5 1.9 1.5 2 1.6 2 1.5 1.9 1.5 2 1.6 1.9 1.5 2 1.5 1.9 1.6 2 1.5 1.9 1.6 2 1.5 1.9 1.6 2 1.5 1.9 1.6 2 1.5 1.9 1.6 2 1.5 1.3 1.1z" fill="#838383" stroke="#838383" stroke-width="0.6"/>
<path d="M616.6,241.7l7-2.8 6.9-2.8 6.9-2.8 7-2.9 6.8-3 6.9-3 6.8-3.1 6.9-3.1 6.8-3.1 6.7-3.2 6.8-3.3 6.8-3.3 6.7-3.4 6.7-3.4 6.8-3.5 6.7-3.5 6.7-3.6 6.6-3.6 6.7-3.7 6.7-3.7 6.7-3.8 6.6-3.8 6.7-3.9 6.6-3.9M616.6,241.7l-6.5-5.4 -6.4-5.4 -6.5-5.4 -6.5-5.3 -6.4-5.3 -6.5-5.3 -6.5-5.3 -6.5-5.3 -6.5-5.3 -6.4-5.2 -6.5-5.2 -6.5-5.2 -6.5-5.2 -6.5-5.2 -6.5-5.2 -6.4-5.2 -6.5-5.1 -6.5-5.1 -6.5-5.1 -6.5-5.1 -6.4-5.1 -6.5-5 -6.5-5.1 -6.4-5M614.6,240l6.9-2.8 7-2.8 6.9-2.8 6.9-2.9 6.9-3 6.9-3 6.8-3 6.8-3.1 6.8-3.2 6.8-3.2 6.8-3.2 6.8-3.3 6.7-3.4 6.7-3.4 6.8-3.5 6.7-3.5 6.7-3.6 6.7-3.6 6.6-3.7 6.7-3.7 6.7-3.8 6.6-3.8 6.7-3.9 6.7-3.9M618.8,240.8l-6.5-5.4 -6.4-5.3 -6.5-5.4 -6.5-5.3 -6.4-5.3 -6.5-5.3 -6.5-5.3 -6.4-5.3 -6.5-5.3 -6.5-5.2 -6.5-5.2 -6.5-5.2 -6.5-5.2 -6.4-5.2 -6.5-5.2 -6.5-5.1 -6.5-5.2 -6.5-5.1 -6.4-5.1 -6.5-5.1 -6.5-5 -6.5-5.1 -6.4-5 -6.5-5M612.5,238.3l7-2.8 7-2.8 6.9-2.8 6.9-2.9 6.9-2.9 6.9-3 6.8-3.1 6.8-3.1 6.8-3.1 6.8-3.2 6.8-3.3 6.8-3.3 6.7-3.3 6.7-3.4 6.8-3.5 6.7-3.5 6.7-3.6 6.7-3.6 6.7-3.7 6.6-3.7 6.7-3.7 6.7-3.9 6.6-3.9 6.7-3.9M621,239.9l-6.4-5.3 -6.5-5.4 -6.5-5.3 -6.4-5.4 -6.5-5.3 -6.5-5.3 -6.4-5.3 -6.5-5.2 -6.5-5.3 -6.5-5.2 -6.5-5.2 -6.4-5.2 -6.5-5.2 -6.5-5.2 -6.5-5.2 -6.5-5.1 -6.4-5.1 -6.5-5.1 -6.5-5.1 -6.5-5.1 -6.4-5.1 -6.5-5 -6.5-5 -6.4-5.1M610.5,236.6l7-2.8 6.9-2.8 7-2.8 6.9-2.9 6.9-2.9 6.8-3 6.9-3 6.8-3.1 6.8-3.2 6.8-3.2 6.8-3.2 6.8-3.3 6.7-3.4 6.7-3.4 6.8-3.4 6.7-3.5 6.7-3.6 6.7-3.6 6.7-3.6 6.7-3.8 6.6-3.7 6.7-3.9 6.7-3.8 6.6-4M623.2,239.1l-6.4-5.4 -6.5-5.4 -6.5-5.3 -6.4-5.3 -6.5-5.3 -6.5-5.3 -6.4-5.3 -6.5-5.3 -6.5-5.2 -6.4-5.2 -6.5-5.2 -6.5-5.2 -6.5-5.2 -6.5-5.2 -6.4-5.1 -6.5-5.2 -6.5-5.1 -6.5-5.1 -6.4-5.1 -6.5-5.1 -6.5-5 -6.5-5.1 -6.4-5 -6.5-5M608.4,234.9l7-2.8 7-2.7 6.9-2.9 6.9-2.9 6.9-2.9 6.9-3 6.9-3 6.8-3.1 6.8-3.1 6.8-3.2 6.8-3.2 6.8-3.3 6.7-3.4 6.7-3.4 6.8-3.4 6.7-3.5 6.7-3.6 6.7-3.6 6.7-3.6 6.7-3.8 6.7-3.7 6.6-3.8 6.7-3.9 6.7-3.9M625.4,238.2l-6.4-5.4 -6.5-5.3 -6.5-5.4 -6.4-5.3 -6.5-5.3 -6.4-5.3 -6.5-5.2 -6.5-5.3 -6.4-5.2 -6.5-5.2 -6.5-5.3 -6.5-5.1 -6.4-5.2 -6.5-5.2 -6.5-5.1 -6.5-5.2 -6.5-5.1 -6.4-5.1 -6.5-5.1 -6.5-5 -6.4-5.1 -6.5-5 -6.5-5 -6.4-5M606.4,233.2l7-2.8 7-2.7 6.9-2.9 6.9-2.8 6.9-3 6.9-2.9 6.8-3.1 6.9-3 6.8-3.2 6.8-3.1 6.8-3.3 6.8-3.3 6.7-3.3 6.8-3.4 6.7-3.4 6.7-3.5 6.7-3.6 6.7-3.6 6.7-3.6 6.7-3.7 6.7-3.8 6.7-3.8 6.6-3.9 6.7-3.9M627.6,237.3l-6.4-5.4 -6.5-5.3 -6.4-5.3 -6.5-5.3 -6.5-5.3 -6.4-5.3 -6.5-5.3 -6.5-5.2 -6.4-5.3 -6.5-5.2 -6.5-5.2 -6.4-5.2 -6.5-5.1 -6.5-5.2 -6.5-5.1 -6.4-5.2 -6.5-5.1 -6.5-5.1 -6.5-5 -6.4-5.1 -6.5-5 -6.5-5.1 -6.4-5 -6.5-5M604.4,231.5l6.9-2.7 7-2.8 7-2.8 6.9-2.9 6.9-2.9 6.9-3 6.8-3 6.9-3.1 6.8-3.1 6.8-3.2 6.8-3.2 6.7-3.3 6.8-3.3 6.8-3.4 6.7-3.5 6.7-3.4 6.7-3.6 6.7-3.6 6.7-3.6 6.7-3.7 6.7-3.8 6.7-3.8 6.7-3.9 6.6-3.9M629.8,236.4l-6.4-5.3 -6.5-5.4 -6.4-5.3 -6.5-5.3 -6.5-5.3 -6.4-5.3 -6.5-5.2 -6.4-5.3 -6.5-5.2 -6.5-5.2 -6.4-5.2 -6.5-5.2 -6.5-5.1 -6.5-5.2 -6.4-5.1 -6.5-5.1 -6.5-5.2 -6.5-5 -6.4-5.1 -6.5-5.1 -6.5-5 -6.4-5 -6.5-5 -6.5-5M602.3,229.8l7-2.7 7-2.8 6.9-2.8 7-2.9 6.9-2.9 6.8-2.9 6.9-3.1 6.8-3 6.9-3.1 6.8-3.2 6.8-3.2 6.7-3.3 6.8-3.4 6.8-3.3 6.7-3.5 6.7-3.4 6.7-3.6 6.7-3.6 6.7-3.6 6.7-3.7 6.7-3.8 6.7-3.8 6.7-3.8 6.7-3.9M632,235.5l-6.5-5.3 -6.4-5.4 -6.4-5.3 -6.5-5.3 -6.5-5.3 -6.4-5.2 -6.5-5.3 -6.4-5.2 -6.5-5.2 -6.5-5.2 -6.4-5.2 -6.5-5.2 -6.5-5.2 -6.4-5.1 -6.5-5.1 -6.5-5.1 -6.5-5.1 -6.4-5.1 -6.5-5.1 -6.5-5 -6.4-5.1 -6.5-5 -6.5-5 -6.4-5M600.3,228.1l7-2.7 6.9-2.8 7-2.8 6.9-2.8 6.9-2.9 6.9-3 6.9-3 6.8-3.1 6.8-3.1 6.9-3.2 6.8-3.2 6.7-3.2 6.8-3.4 6.7-3.3 6.8-3.5 6.7-3.5 6.7-3.5 6.7-3.6 6.8-3.6 6.6-3.7 6.7-3.7 6.7-3.8 6.7-3.9 6.7-3.9M634.2,234.6l-6.5-5.3 -6.4-5.3 -6.4-5.4 -6.5-5.2 -6.4-5.3 -6.5-5.3 -6.5-5.2 -6.4-5.3 -6.5-5.2 -6.4-5.2 -6.5-5.2 -6.5-5.1 -6.4-5.2 -6.5-5.1 -6.5-5.1 -6.5-5.2 -6.4-5 -6.5-5.1 -6.5-5.1 -6.4-5 -6.5-5.1 -6.5-5 -6.4-5 -6.5-5M598.2,226.4l7-2.7 7-2.8 7-2.8 6.9-2.8 6.9-2.9 6.9-3 6.9-3 6.8-3 6.8-3.1 6.8-3.2 6.8-3.2 6.8-3.3 6.8-3.3 6.7-3.4 6.8-3.4 6.7-3.5 6.7-3.5 6.8-3.6 6.7-3.6 6.7-3.7 6.7-3.7 6.6-3.8 6.7-3.9 6.7-3.9M636.4,233.7l-6.5-5.3 -6.4-5.3 -6.5-5.3 -6.4-5.3 -6.4-5.3 -6.5-5.3 -6.5-5.2 -6.4-5.2 -6.5-5.2 -6.4-5.2 -6.5-5.2 -6.5-5.2 -6.4-5.1 -6.5-5.1 -6.5-5.2 -6.4-5.1 -6.5-5.1 -6.5-5 -6.4-5.1 -6.5-5 -6.5-5 -6.4-5.1 -6.5-4.9 -6.5-5M596.2,224.7l7-2.7 7-2.7 6.9-2.8 7-2.9 6.9-2.9 6.9-2.9 6.8-3 6.9-3.1 6.8-3.1 6.8-3.1 6.8-3.2 6.8-3.3 6.8-3.3 6.7-3.4 6.8-3.4 6.7-3.5 6.8-3.5 6.7-3.6 6.7-3.6 6.7-3.7 6.7-3.7 6.7-3.8 6.6-3.8 6.7-3.9M638.5,232.8l-6.4-5.3 -6.4-5.3 -6.5-5.3 -6.4-5.3 -6.4-5.3 -6.5-5.2 -6.5-5.3 -6.4-5.2 -6.5-5.2 -6.4-5.2 -6.5-5.1 -6.4-5.2 -6.5-5.1 -6.5-5.2 -6.4-5.1 -6.5-5.1 -6.5-5.1 -6.4-5 -6.5-5.1 -6.5-5 -6.4-5 -6.5-5 -6.5-5 -6.4-5M594.1,223l7-2.7 7-2.7 7-2.8 6.9-2.8 6.9-2.9 6.9-3 6.9-3 6.9-3 6.8-3.1 6.8-3.2 6.8-3.2 6.8-3.2 6.8-3.3 6.7-3.4 6.8-3.4 6.7-3.5 6.8-3.5 6.7-3.5 6.7-3.7 6.7-3.6 6.7-3.8 6.7-3.8 6.7-3.8 6.7-3.9M640.7,231.9l-6.4-5.3 -6.4-5.3 -6.5-5.3 -6.4-5.3 -6.5-5.3 -6.4-5.2 -6.4-5.2 -6.5-5.2 -6.5-5.2 -6.4-5.2 -6.5-5.2 -6.4-5.2 -6.5-5.1 -6.5-5.1 -6.4-5.1 -6.5-5.1 -6.5-5.1 -6.4-5 -6.5-5.1 -6.4-5 -6.5-5 -6.5-5 -6.4-5 -6.5-5M592.1,221.3l7-2.6 7-2.8 7-2.8 6.9-2.8 6.9-2.9 6.9-2.9 6.9-3 6.8-3 6.9-3.1 6.8-3.2 6.8-3.2 6.8-3.2 6.8-3.3 6.7-3.4 6.8-3.4 6.7-3.5 6.8-3.5 6.7-3.5 6.7-3.7 6.7-3.6 6.7-3.7 6.7-3.8 6.7-3.9 6.7-3.8M642.9,231l-6.4-5.3 -6.5-5.3 -6.4-5.3 -6.4-5.3 -6.5-5.3 -6.4-5.2 -6.4-5.2 -6.5-5.2 -6.5-5.2 -6.4-5.2 -6.5-5.2 -6.4-5.1 -6.5-5.1 -6.4-5.2 -6.5-5.1 -6.5-5 -6.4-5.1 -6.5-5.1 -6.5-5 -6.4-5 -6.5-5 -6.4-5 -6.5-5 -6.5-5M590,219.6l7.1-2.6 7-2.7 6.9-2.8 7-2.9 6.9-2.8 6.9-3 6.9-2.9 6.8-3.1 6.9-3.1 6.8-3.1 6.8-3.2 6.8-3.2 6.8-3.3 6.7-3.4 6.8-3.4 6.7-3.5 6.8-3.5 6.7-3.5 6.7-3.6 6.7-3.7 6.7-3.7 6.7-3.8 6.7-3.8 6.7-3.9M645.1,230l-6.4-5.3 -6.5-5.3 -6.4-5.2 -6.4-5.3 -6.5-5.2 -6.4-5.3 -6.5-5.2 -6.4-5.2 -6.4-5.2 -6.5-5.2 -6.5-5.1 -6.4-5.2 -6.5-5.1 -6.4-5.1 -6.5-5.1 -6.5-5.1 -6.4-5 -6.5-5.1 -6.4-5 -6.5-5 -6.5-5 -6.4-5 -6.5-5 -6.4-4.9M588,218l7-2.7 7-2.7 7-2.8 6.9-2.8 7-2.9 6.9-2.9 6.8-3 6.9-3 6.8-3.1 6.9-3.1 6.8-3.2 6.8-3.3 6.8-3.3 6.7-3.3 6.8-3.4 6.7-3.4 6.8-3.5 6.7-3.6 6.7-3.6 6.7-3.7 6.7-3.7 6.7-3.8 6.7-3.8 6.7-3.8M647.3,229.1l-6.5-5.3 -6.4-5.3 -6.4-5.2 -6.4-5.3 -6.5-5.2 -6.4-5.3 -6.5-5.2 -6.4-5.2 -6.5-5.2 -6.4-5.1 -6.5-5.2 -6.4-5.1 -6.5-5.1 -6.4-5.1 -6.5-5.1 -6.4-5.1 -6.5-5.1 -6.5-5 -6.4-5 -6.5-5 -6.4-5 -6.5-5 -6.5-5 -6.4-4.9M586,216.3l7-2.7 7-2.7 6.9-2.8 7-2.8 6.9-2.8 6.9-3 6.9-2.9 6.9-3.1 6.8-3 6.9-3.2 6.8-3.1 6.8-3.3 6.8-3.3 6.7-3.3 6.8-3.4 6.7-3.4 6.8-3.5 6.7-3.6 6.7-3.6 6.7-3.6 6.7-3.8 6.7-3.7 6.7-3.8 6.7-3.9M649.4,228.2l-6.4-5.3 -6.4-5.3 -6.4-5.3 -6.5-5.2 -6.4-5.3 -6.4-5.2 -6.5-5.2 -6.4-5.2 -6.5-5.2 -6.4-5.1 -6.5-5.2 -6.4-5.1 -6.5-5.1 -6.4-5.1 -6.5-5.1 -6.4-5.1 -6.5-5 -6.4-5 -6.5-5.1 -6.5-5 -6.4-5 -6.5-4.9 -6.4-5 -6.5-4.9M583.9,214.6l7-2.6 7-2.8 7-2.7 7-2.8 6.9-2.9 6.9-2.9 6.9-3 6.9-3 6.8-3.1 6.8-3.1 6.9-3.2 6.8-3.2 6.7-3.3 6.8-3.3 6.8-3.4 6.7-3.4 6.8-3.5 6.7-3.6 6.7-3.6 6.7-3.6 6.8-3.7 6.7-3.8 6.7-3.8 6.7-3.9M651.6,227.2l-6.4-5.2 -6.4-5.3 -6.5-5.3 -6.4-5.2 -6.4-5.3 -6.4-5.2 -6.5-5.2 -6.4-5.2 -6.5-5.1 -6.4-5.2 -6.5-5.1 -6.4-5.2 -6.5-5.1 -6.4-5.1 -6.5-5 -6.4-5.1 -6.5-5 -6.4-5.1 -6.5-5 -6.5-5 -6.4-5 -6.5-5 -6.4-4.9 -6.5-4.9M581.9,212.9l7-2.6 7-2.7 7-2.8 6.9-2.8 7-2.8 6.9-2.9 6.9-3 6.8-3 6.9-3.1 6.8-3.1 6.8-3.2 6.8-3.2 6.8-3.3 6.8-3.3 6.8-3.4 6.7-3.4 6.8-3.5 6.7-3.5 6.7-3.6 6.7-3.7 6.8-3.7 6.7-3.7 6.7-3.8 6.7-3.9M653.8,226.3l-6.4-5.3 -6.5-5.3 -6.4-5.2 -6.4-5.3 -6.4-5.2 -6.5-5.2 -6.4-5.2 -6.4-5.2 -6.5-5.1 -6.4-5.2 -6.5-5.1 -6.4-5.1 -6.5-5.1 -6.4-5.1 -6.5-5.1 -6.4-5.1 -6.5-5 -6.4-5 -6.5-5 -6.4-5 -6.5-5 -6.5-5 -6.4-4.9 -6.5-5M579.8,211.3l7.1-2.7 7-2.7 6.9-2.7 7-2.8 6.9-2.9 6.9-2.9 6.9-2.9 6.9-3.1 6.9-3 6.8-3.1 6.8-3.2 6.8-3.2 6.8-3.3 6.8-3.3 6.8-3.4 6.7-3.4 6.8-3.5 6.7-3.5 6.7-3.6 6.8-3.7 6.7-3.7 6.7-3.7 6.7-3.8 6.7-3.9M655.9,225.4l-6.4-5.3 -6.4-5.3 -6.4-5.2 -6.4-5.3 -6.4-5.2 -6.5-5.2 -6.4-5.2 -6.4-5.2 -6.5-5.1 -6.4-5.2 -6.5-5.1 -6.4-5.1 -6.5-5.1 -6.4-5.1 -6.5-5.1 -6.4-5 -6.5-5.1 -6.4-5 -6.5-5 -6.4-5 -6.5-4.9 -6.4-5 -6.5-4.9 -6.4-5M577.8,209.6l7-2.7 7-2.6 7-2.8 7-2.8 6.9-2.8 6.9-2.9 6.9-3 6.9-3 6.8-3 6.9-3.1 6.8-3.2 6.8-3.2 6.8-3.3 6.8-3.3 6.8-3.4 6.7-3.4 6.8-3.5 6.7-3.5 6.7-3.6 6.8-3.6 6.7-3.7 6.7-3.8 6.7-3.8 6.7-3.8M658.1,224.4l-6.4-5.3 -6.4-5.2 -6.4-5.3 -6.4-5.2 -6.5-5.2 -6.4-5.2 -6.4-5.2 -6.4-5.2 -6.5-5.1 -6.4-5.2 -6.5-5.1 -6.4-5.1 -6.5-5.1 -6.4-5.1 -6.5-5 -6.4-5.1 -6.5-5 -6.4-5 -6.5-5 -6.4-5 -6.5-5 -6.4-4.9 -6.5-5 -6.4-4.9M575.7,207.9l7.1-2.6 7-2.7 7-2.7 6.9-2.8 7-2.9 6.9-2.9 6.9-2.9 6.9-3 6.8-3.1 6.9-3.1 6.8-3.1 6.8-3.2 6.8-3.3 6.8-3.3 6.8-3.4 6.7-3.4 6.8-3.5 6.7-3.5 6.7-3.6 6.8-3.6 6.7-3.7 6.7-3.7 6.7-3.8 6.7-3.8M660.3,223.4l-6.4-5.2 -6.4-5.3 -6.5-5.2 -6.4-5.3 -6.4-5.2 -6.4-5.2 -6.4-5.1 -6.5-5.2 -6.4-5.1 -6.4-5.2 -6.5-5.1 -6.4-5.1 -6.5-5.1 -6.4-5.1 -6.5-5 -6.4-5.1 -6.5-5 -6.4-5 -6.5-5 -6.4-5 -6.5-4.9 -6.4-5 -6.5-4.9 -6.4-4.9M573.7,206.2l7-2.6 7-2.7 7-2.7 7-2.8 6.9-2.8 7-2.9 6.9-2.9 6.8-3 6.9-3.1 6.8-3.1 6.9-3.1 6.8-3.2 6.8-3.3 6.8-3.3 6.7-3.4 6.8-3.4 6.8-3.4 6.7-3.6 6.7-3.5 6.8-3.7 6.7-3.6 6.7-3.8 6.7-3.8 6.7-3.8M662.4,222.5l-6.4-5.3 -6.4-5.2 -6.4-5.3 -6.4-5.2 -6.4-5.2 -6.4-5.2 -6.5-5.2 -6.4-5.1 -6.4-5.2 -6.4-5.1 -6.5-5.1 -6.4-5.1 -6.5-5.1 -6.4-5 -6.5-5.1 -6.4-5 -6.5-5 -6.4-5.1 -6.5-4.9 -6.4-5 -6.5-5 -6.4-4.9 -6.5-4.9 -6.4-5M571.6,204.6l7.1-2.7 7-2.6 7-2.8 7-2.7 6.9-2.9 6.9-2.8 6.9-3 6.9-3 6.9-3 6.8-3.1 6.9-3.1 6.8-3.2 6.8-3.3 6.8-3.3 6.7-3.3 6.8-3.5 6.8-3.4 6.7-3.5 6.7-3.6 6.8-3.6 6.7-3.7 6.7-3.7 6.7-3.8 6.7-3.8M664.6,221.5l-6.4-5.3 -6.4-5.2 -6.4-5.2 -6.4-5.2 -6.4-5.2 -6.5-5.2 -6.4-5.2 -6.4-5.1 -6.4-5.2 -6.5-5.1 -6.4-5.1 -6.4-5.1 -6.5-5.1 -6.4-5 -6.5-5.1 -6.4-5 -6.5-5 -6.4-5 -6.5-5 -6.4-5 -6.5-4.9 -6.4-5 -6.5-4.9 -6.4-4.9M569.6,202.9l7-2.6 7.1-2.7 6.9-2.7 7-2.8 7-2.8 6.9-2.9 6.9-2.9 6.9-3 6.9-3 6.8-3.1 6.8-3.1 6.9-3.2 6.8-3.3 6.8-3.3 6.7-3.3 6.8-3.4 6.8-3.5 6.7-3.5 6.7-3.6 6.8-3.6 6.7-3.6 6.7-3.8 6.7-3.7 6.8-3.9M666.7,220.5l-6.4-5.2 -6.4-5.3 -6.4-5.2 -6.4-5.2 -6.4-5.2 -6.4-5.2 -6.4-5.1 -6.4-5.2 -6.4-5.1 -6.5-5.1 -6.4-5.1 -6.4-5.1 -6.5-5.1 -6.4-5 -6.5-5.1 -6.4-5 -6.5-5 -6.4-5 -6.5-5 -6.4-4.9 -6.5-5 -6.4-4.9 -6.5-4.9 -6.4-4.9M567.6,201.2l7-2.6 7-2.6 7-2.8 7-2.7 6.9-2.8 7-2.9 6.9-2.9 6.9-3 6.8-3 6.9-3.1 6.8-3.1 6.8-3.2 6.8-3.3 6.8-3.3 6.8-3.3 6.8-3.4 6.8-3.5 6.7-3.5 6.7-3.5 6.8-3.6 6.7-3.7 6.7-3.7 6.8-3.8 6.7-3.8M668.9,219.5l-6.4-5.2 -6.4-5.2 -6.4-5.2 -6.4-5.3 -6.4-5.1 -6.4-5.2 -6.4-5.2 -6.4-5.1 -6.5-5.1 -6.4-5.1 -6.4-5.1 -6.5-5.1 -6.4-5.1 -6.4-5 -6.5-5.1 -6.4-5 -6.5-5 -6.4-5 -6.5-5 -6.4-4.9 -6.5-5 -6.4-4.9 -6.5-4.9 -6.4-4.9M565.5,199.6l7.1-2.6 7-2.7 7-2.7 6.9-2.8 7-2.8 6.9-2.8 6.9-3 6.9-2.9 6.9-3 6.9-3.1 6.8-3.2 6.8-3.1 6.8-3.3 6.8-3.3 6.8-3.3 6.8-3.4 6.7-3.4 6.8-3.5 6.7-3.6 6.8-3.6 6.7-3.7 6.7-3.7 6.8-3.7 6.7-3.9M671,218.6l-6.3-5.3 -6.4-5.2 -6.4-5.2 -6.4-5.2 -6.4-5.2 -6.4-5.2 -6.5-5.1 -6.4-5.2 -6.4-5.1 -6.4-5.1 -6.4-5.1 -6.5-5 -6.4-5.1 -6.5-5 -6.4-5.1 -6.4-5 -6.5-5 -6.4-5 -6.5-4.9 -6.4-5 -6.5-4.9 -6.4-4.9 -6.5-4.9 -6.4-4.9M563.5,197.9l7-2.6 7-2.6 7-2.7 7-2.8 7-2.8 6.9-2.9 6.9-2.9 6.9-2.9 6.9-3.1 6.8-3 6.9-3.2 6.8-3.1 6.8-3.3 6.8-3.2 6.8-3.4 6.8-3.4 6.7-3.4 6.8-3.5 6.7-3.6 6.8-3.6 6.7-3.6 6.7-3.7 6.8-3.8 6.7-3.8M673.2,217.6l-6.4-5.3 -6.4-5.2 -6.4-5.2 -6.4-5.2 -6.4-5.2 -6.4-5.1 -6.4-5.2 -6.4-5.1 -6.4-5.1 -6.4-5.1 -6.5-5.1 -6.4-5.1 -6.4-5 -6.5-5.1 -6.4-5 -6.4-5 -6.5-5 -6.4-5 -6.5-4.9 -6.4-5 -6.5-4.9 -6.4-4.9 -6.5-4.9 -6.4-4.9M561.4,196.2l7.1-2.6 7-2.6 7-2.7 7-2.7 6.9-2.8 7-2.9 6.9-2.9 6.9-3 6.9-3 6.8-3 6.9-3.2 6.8-3.1 6.8-3.3 6.8-3.2 6.8-3.4 6.8-3.3 6.7-3.5 6.8-3.5 6.7-3.5 6.8-3.6 6.7-3.7 6.7-3.7 6.8-3.7 6.7-3.8M675.3,216.6l-6.3-5.3 -6.4-5.2 -6.4-5.2 -6.4-5.2 -6.4-5.1 -6.4-5.2 -6.4-5.1 -6.4-5.1 -6.4-5.2 -6.5-5.1 -6.4-5 -6.4-5.1 -6.4-5 -6.5-5.1 -6.4-5 -6.5-5 -6.4-5 -6.4-5 -6.5-4.9 -6.4-5 -6.5-4.9 -6.4-4.9 -6.5-4.9 -6.4-4.9M559.4,194.6l7-2.6 7-2.6 7.1-2.7 6.9-2.8 7-2.8 6.9-2.8 6.9-2.9 6.9-3 6.9-3 6.9-3 6.8-3.2 6.9-3.1 6.8-3.2 6.8-3.3 6.8-3.3 6.8-3.4 6.7-3.4 6.8-3.5 6.7-3.6 6.8-3.6 6.7-3.6 6.7-3.7 6.8-3.8 6.7-3.8M677.5,215.6l-6.4-5.2 -6.4-5.3 -6.4-5.2 -6.3-5.1 -6.4-5.2 -6.4-5.2 -6.4-5.1 -6.5-5.1 -6.4-5.1 -6.4-5.1 -6.4-5.1 -6.4-5 -6.5-5.1 -6.4-5 -6.4-5 -6.5-5 -6.4-5 -6.5-5 -6.4-4.9 -6.4-4.9 -6.5-5 -6.4-4.9 -6.5-4.9 -6.4-4.8M557.3,192.9l7.1-2.6 7-2.6 7-2.7 7-2.7 7-2.8 6.9-2.8 6.9-2.9 6.9-3 6.9-3 6.9-3 6.8-3.2 6.8-3.1 6.9-3.2 6.8-3.3 6.8-3.3 6.7-3.4 6.8-3.4 6.8-3.5 6.7-3.5 6.8-3.6 6.7-3.7 6.7-3.6 6.8-3.8 6.7-3.8M679.6,214.6l-6.3-5.2 -6.4-5.3 -6.4-5.1 -6.4-5.2 -6.4-5.2 -6.4-5.1 -6.4-5.2 -6.4-5.1 -6.4-5.1 -6.4-5.1 -6.4-5 -6.5-5.1 -6.4-5 -6.4-5 -6.5-5 -6.4-5 -6.4-5 -6.5-5 -6.4-4.9 -6.5-4.9 -6.4-5 -6.4-4.9 -6.5-4.8 -6.4-4.9M555.3,191.3l7-2.6 7.1-2.6 7-2.7 7-2.7 6.9-2.8 7-2.9 6.9-2.9 6.9-2.9 6.9-3 6.8-3 6.9-3.2 6.8-3.1 6.8-3.2 6.9-3.3 6.7-3.3 6.8-3.4 6.8-3.4 6.8-3.5 6.7-3.5 6.8-3.6 6.7-3.6 6.7-3.7 6.8-3.7 6.7-3.8M681.8,213.6l-6.4-5.3 -6.4-5.2 -6.3-5.1 -6.4-5.2 -6.4-5.2 -6.4-5.1 -6.4-5.1 -6.4-5.1 -6.4-5.1 -6.4-5.1 -6.5-5.1 -6.4-5 -6.4-5.1 -6.4-5 -6.5-5 -6.4-5 -6.4-4.9 -6.5-5 -6.4-4.9 -6.5-4.9 -6.4-5 -6.5-4.9 -6.4-4.8 -6.4-4.9M553.2,189.6l7.1-2.6 7-2.6 7-2.7 7-2.7 7-2.8 6.9-2.8 7-2.9 6.9-2.9 6.8-3 6.9-3 6.9-3.1 6.8-3.2 6.8-3.2 6.8-3.3 6.8-3.3 6.8-3.3 6.8-3.4 6.8-3.5 6.7-3.5 6.8-3.6 6.7-3.6 6.7-3.7 6.8-3.8 6.7-3.7M683.9,212.5l-6.3-5.2 -6.4-5.2 -6.4-5.1 -6.4-5.2 -6.4-5.2 -6.4-5.1 -6.4-5.1 -6.4-5.1 -6.4-5.1 -6.4-5.1 -6.4-5 -6.4-5.1 -6.4-5 -6.5-5 -6.4-5 -6.4-5 -6.5-5 -6.4-4.9 -6.4-4.9 -6.5-5 -6.4-4.9 -6.5-4.8 -6.4-4.9 -6.5-4.9M551.2,188l7-2.6 7.1-2.6 7-2.7 7-2.7 7-2.8 6.9-2.8 6.9-2.9 6.9-2.9 6.9-3 6.9-3 6.8-3.1 6.9-3.2 6.8-3.2 6.8-3.2 6.8-3.3 6.8-3.4 6.8-3.4 6.8-3.5 6.7-3.5 6.8-3.6 6.7-3.6 6.7-3.7 6.8-3.7 6.7-3.8M686.1,211.5l-6.4-5.2 -6.4-5.2 -6.3-5.1 -6.4-5.2 -6.4-5.1 -6.4-5.2 -6.4-5.1 -6.4-5.1 -6.4-5.1 -6.4-5 -6.4-5.1 -6.4-5 -6.5-5.1 -6.4-5 -6.4-4.9 -6.5-5 -6.4-5 -6.4-4.9 -6.5-5 -6.4-4.9 -6.4-4.9 -6.5-4.9 -6.4-4.8 -6.5-4.9M549.1,186.3l7.1-2.6 7-2.6 7.1-2.6 6.9-2.7 7-2.8 7-2.8 6.9-2.9 6.9-2.9 6.9-3 6.9-3 6.8-3.1 6.9-3.2 6.8-3.2 6.8-3.2 6.8-3.3 6.8-3.4 6.8-3.4 6.7-3.4 6.8-3.5 6.8-3.6 6.7-3.6 6.7-3.7 6.8-3.7 6.7-3.8M688.2,210.5l-6.4-5.2 -6.3-5.2 -6.4-5.2 -6.4-5.1 -6.4-5.1 -6.3-5.2 -6.4-5.1 -6.4-5.1 -6.4-5 -6.4-5.1 -6.5-5.1 -6.4-5 -6.4-5 -6.4-5 -6.4-5 -6.5-5 -6.4-4.9 -6.4-5 -6.5-4.9 -6.4-4.9 -6.5-4.9 -6.4-4.9 -6.4-4.8 -6.5-4.9M547.1,184.6l7.1-2.5 7-2.6 7-2.7 7-2.7 7-2.7 6.9-2.9 7-2.8 6.9-2.9 6.9-3 6.8-3 6.9-3.1 6.8-3.2 6.9-3.1 6.8-3.3 6.8-3.3 6.8-3.3 6.8-3.4 6.7-3.5 6.8-3.5 6.8-3.5 6.7-3.7 6.7-3.6 6.8-3.8 6.7-3.7M690.3,209.5l-6.3-5.2 -6.4-5.2 -6.4-5.2 -6.3-5.1 -6.4-5.2 -6.4-5.1 -6.4-5.1 -6.4-5.1 -6.4-5 -6.4-5.1 -6.4-5 -6.4-5.1 -6.4-5 -6.4-5 -6.5-4.9 -6.4-5 -6.4-5 -6.5-4.9 -6.4-4.9 -6.4-4.9 -6.5-4.9 -6.4-4.9 -6.5-4.8 -6.4-4.9M545,183l7.1-2.5 7.1-2.6 7-2.7 7-2.7 6.9-2.8 7-2.8 6.9-2.8 6.9-2.9 6.9-3 6.9-3 6.9-3.1 6.8-3.1 6.8-3.2 6.9-3.3 6.8-3.2 6.8-3.4 6.7-3.4 6.8-3.4 6.8-3.5 6.7-3.6 6.8-3.6 6.7-3.7 6.8-3.7 6.7-3.7M692.5,208.4l-6.4-5.2 -6.3-5.1 -6.4-5.2 -6.4-5.1 -6.4-5.2 -6.3-5.1 -6.4-5.1 -6.4-5.1 -6.4-5 -6.4-5.1 -6.4-5 -6.4-5 -6.5-5 -6.4-5 -6.4-5 -6.4-5 -6.5-4.9 -6.4-4.9 -6.4-4.9 -6.5-4.9 -6.4-4.9 -6.4-4.9 -6.5-4.8 -6.4-4.9M543,181.3l7.1-2.5 7-2.6 7-2.6 7-2.7 7-2.8 7-2.8 6.9-2.8 6.9-2.9 6.9-3 6.9-3 6.8-3.1 6.9-3.1 6.8-3.2 6.8-3.2 6.9-3.3 6.8-3.3 6.7-3.4 6.8-3.5 6.8-3.5 6.7-3.5 6.8-3.6 6.7-3.7 6.8-3.7 6.7-3.8M694.6,207.4l-6.3-5.2 -6.4-5.2 -6.4-5.1 -6.3-5.2 -6.4-5.1 -6.4-5.1 -6.4-5.1 -6.4-5.1 -6.4-5 -6.4-5.1 -6.4-5 -6.4-5 -6.4-5 -6.4-5 -6.4-5 -6.5-4.9 -6.4-5 -6.4-4.9 -6.4-4.9 -6.5-4.9 -6.4-4.9 -6.5-4.8 -6.4-4.9 -6.4-4.8M540.9,179.7l7.1-2.5 7.1-2.6 7-2.7 7-2.7 7-2.7 6.9-2.8 7-2.8 6.9-3 6.9-2.9 6.9-3 6.8-3.1 6.9-3.1 6.8-3.2 6.8-3.2 6.8-3.3 6.8-3.3 6.8-3.4 6.8-3.4 6.8-3.5 6.7-3.6 6.8-3.6 6.7-3.6 6.8-3.7 6.7-3.8M696.7,206.3l-6.3-5.1 -6.4-5.2 -6.3-5.1 -6.4-5.2 -6.4-5.1 -6.3-5.1 -6.4-5.1 -6.4-5.1 -6.4-5 -6.4-5.1 -6.4-5 -6.4-5 -6.4-5 -6.4-5 -6.5-4.9 -6.4-5 -6.4-4.9 -6.4-4.9 -6.5-4.9 -6.4-4.9 -6.4-4.9 -6.5-4.8 -6.4-4.9 -6.5-4.8M538.9,178.1l7.1-2.6 7-2.6 7-2.6 7.1-2.7 6.9-2.7 7-2.8 6.9-2.9 6.9-2.9 6.9-2.9 6.9-3 6.9-3.1 6.8-3.1 6.9-3.1 6.8-3.3 6.8-3.2 6.8-3.4 6.8-3.3 6.8-3.5 6.8-3.5 6.7-3.5 6.8-3.6 6.7-3.6 6.8-3.8 6.7-3.7M698.9,205.3l-6.4-5.2 -6.3-5.1 -6.4-5.2 -6.3-5.1 -6.4-5.1 -6.4-5.1 -6.4-5.1 -6.4-5.1 -6.3-5 -6.4-5.1 -6.4-5 -6.5-5 -6.4-5 -6.4-4.9 -6.4-5 -6.4-4.9 -6.4-5 -6.5-4.9 -6.4-4.9 -6.4-4.9 -6.5-4.8 -6.4-4.9 -6.4-4.8 -6.5-4.8M536.8,176.4l7.1-2.5 7.1-2.6 7-2.6 7-2.7 7-2.7 7-2.8 6.9-2.9 6.9-2.8 6.9-3 6.9-3 6.9-3.1 6.8-3.1 6.9-3.1 6.8-3.2 6.8-3.3 6.8-3.3 6.8-3.4 6.8-3.4 6.7-3.5 6.8-3.5 6.8-3.6 6.7-3.7 6.8-3.7 6.7-3.7M701,204.2l-6.3-5.1 -6.4-5.2 -6.3-5.1 -6.4-5.1 -6.4-5.2 -6.3-5 -6.4-5.1 -6.4-5.1 -6.4-5 -6.4-5.1 -6.4-5 -6.4-5 -6.4-5 -6.4-4.9 -6.4-5 -6.5-4.9 -6.4-4.9 -6.4-5 -6.4-4.8 -6.5-4.9 -6.4-4.9 -6.4-4.8 -6.5-4.9 -6.4-4.8M534.8,174.8l7.1-2.5 7-2.6 7.1-2.6 7-2.7 7-2.7 6.9-2.8 7-2.9 6.9-2.8 6.9-3 6.9-3 6.8-3 6.9-3.1 6.8-3.2 6.9-3.2 6.8-3.3 6.8-3.3 6.8-3.3 6.8-3.5 6.7-3.4 6.8-3.6 6.8-3.6 6.7-3.6 6.8-3.7 6.7-3.7M703.1,203.2l-6.3-5.2 -6.4-5.1 -6.3-5.2 -6.4-5.1 -6.3-5.1 -6.4-5.1 -6.4-5 -6.3-5.1 -6.4-5 -6.4-5.1 -6.4-5 -6.4-5 -6.4-5 -6.5-4.9 -6.4-5 -6.4-4.9 -6.4-4.9 -6.4-4.9 -6.5-4.9 -6.4-4.9 -6.4-4.8 -6.5-4.9 -6.4-4.8 -6.4-4.8M532.8,173.1l7-2.5 7.1-2.5 7-2.7 7-2.6 7-2.8 7-2.7 6.9-2.9 7-2.8 6.9-3 6.8-3 6.9-3 6.9-3.1 6.8-3.2 6.8-3.2 6.9-3.2 6.8-3.3 6.8-3.4 6.7-3.4 6.8-3.5 6.8-3.5 6.7-3.6 6.8-3.6 6.8-3.7 6.7-3.8M705.3,202.1l-6.4-5.2 -6.3-5.1 -6.4-5.1 -6.3-5.1 -6.4-5.1 -6.3-5.1 -6.4-5.1 -6.4-5 -6.4-5.1 -6.4-5 -6.4-5 -6.4-5 -6.4-5 -6.4-4.9 -6.4-5 -6.4-4.9 -6.4-4.9 -6.5-4.9 -6.4-4.9 -6.4-4.8 -6.5-4.9 -6.4-4.8 -6.4-4.8 -6.5-4.8M530.7,171.5l7.1-2.5 7-2.6 7.1-2.6 7-2.6 7-2.8 6.9-2.7 7-2.9 6.9-2.8 6.9-3 6.9-3 6.9-3 6.9-3.1 6.8-3.1 6.8-3.2 6.8-3.3 6.8-3.3 6.8-3.3 6.8-3.5 6.8-3.4 6.8-3.5 6.7-3.6 6.8-3.6 6.8-3.7 6.7-3.8M707.4,201l-6.4-5.1 -6.3-5.2 -6.3-5.1 -6.4-5.1 -6.3-5.1 -6.4-5.1 -6.4-5 -6.4-5.1 -6.3-5 -6.4-5 -6.4-5 -6.4-5 -6.4-5 -6.4-4.9 -6.4-5 -6.5-4.9 -6.4-4.9 -6.4-4.9 -6.4-4.8 -6.5-4.9 -6.4-4.9 -6.4-4.8 -6.5-4.8 -6.4-4.8M528.7,169.9l7-2.5 7.1-2.6 7-2.6 7.1-2.7 6.9-2.7 7-2.7 7-2.9 6.9-2.8 6.9-3 6.9-2.9 6.9-3.1 6.8-3.1 6.9-3.1 6.8-3.2 6.8-3.2 6.8-3.3 6.8-3.4 6.8-3.4 6.8-3.5 6.8-3.5 6.7-3.5 6.8-3.7 6.7-3.6 6.8-3.8M709.5,200l-6.3-5.2 -6.4-5.1 -6.3-5.1 -6.3-5.1 -6.4-5.1 -6.4-5.1 -6.3-5.1 -6.4-5 -6.4-5 -6.4-5 -6.4-5 -6.4-5 -6.4-5 -6.4-4.9 -6.4-4.9 -6.4-5 -6.4-4.9 -6.4-4.9 -6.5-4.8 -6.4-4.9 -6.4-4.8 -6.5-4.8 -6.4-4.9 -6.4-4.7M526.6,168.2l7.1-2.5 7.1-2.5 7-2.6 7-2.7 7-2.7 7-2.7 6.9-2.9 7-2.8 6.9-2.9 6.9-3 6.8-3 6.9-3.1 6.8-3.2 6.9-3.1 6.8-3.3 6.8-3.3 6.8-3.3 6.8-3.4 6.8-3.5 6.8-3.5 6.7-3.6 6.8-3.6 6.7-3.7 6.8-3.7M711.6,198.9l-6.3-5.2 -6.3-5.1 -6.4-5.1 -6.3-5.1 -6.4-5.1 -6.3-5.1 -6.4-5 -6.4-5 -6.3-5.1 -6.4-5 -6.4-5 -6.4-4.9 -6.4-5 -6.4-4.9 -6.4-5 -6.4-4.9 -6.5-4.9 -6.4-4.8 -6.4-4.9 -6.4-4.9 -6.5-4.8 -6.4-4.8 -6.4-4.8 -6.5-4.8M524.6,166.6l7.1-2.5 7-2.5 7.1-2.6 7-2.7 7-2.7 6.9-2.7 7-2.8 6.9-2.9 6.9-2.9 6.9-3 6.9-3 6.9-3.1 6.8-3.1 6.9-3.2 6.8-3.2 6.8-3.3 6.8-3.4 6.8-3.4 6.8-3.4 6.7-3.5 6.8-3.6 6.8-3.6 6.7-3.7 6.8-3.7M713.7,197.8l-6.3-5.2 -6.3-5.1 -6.3-5.1 -6.4-5.1 -6.3-5 -6.4-5.1 -6.3-5.1 -6.4-5 -6.4-5 -6.4-5 -6.4-5 -6.4-5 -6.4-4.9 -6.4-4.9 -6.4-5 -6.4-4.9 -6.4-4.9 -6.4-4.8 -6.4-4.9 -6.5-4.8 -6.4-4.9 -6.4-4.8 -6.5-4.8 -6.4-4.8M522.5,164.9l7.1-2.4 7.1-2.6 7-2.6 7-2.6 7-2.7 7-2.7 7-2.8 6.9-2.9 6.9-2.9 6.9-3 6.9-3 6.8-3.1 6.9-3.1 6.8-3.2 6.9-3.2 6.8-3.3 6.8-3.3 6.8-3.4 6.7-3.5 6.8-3.5 6.8-3.5 6.8-3.6 6.7-3.7 6.8-3.7M715.9,196.7l-6.3-5.1 -6.4-5.2 -6.3-5.1 -6.3-5 -6.4-5.1 -6.3-5.1 -6.4-5 -6.4-5 -6.3-5 -6.4-5 -6.4-5 -6.4-5 -6.4-4.9 -6.4-5 -6.4-4.9 -6.4-4.9 -6.4-4.9 -6.5-4.8 -6.4-4.9 -6.4-4.8 -6.4-4.9 -6.5-4.8 -6.4-4.8 -6.4-4.7M520.5,163.3l7.1-2.5 7-2.5 7.1-2.6 7-2.6 7-2.7 7-2.7 6.9-2.8 7-2.9 6.9-2.9 6.9-2.9 6.9-3.1 6.8-3 6.9-3.1 6.8-3.2 6.8-3.2 6.8-3.3 6.9-3.4 6.7-3.3 6.8-3.5 6.8-3.5 6.8-3.5 6.7-3.6 6.8-3.7 6.8-3.7M718,195.6l-6.3-5.1 -6.3-5.1 -6.4-5.1 -6.3-5.1 -6.4-5.1 -6.3-5 -6.4-5.1 -6.3-5 -6.4-5 -6.4-5 -6.4-5 -6.4-4.9 -6.3-5 -6.4-4.9 -6.5-4.9 -6.4-4.9 -6.4-4.9 -6.4-4.8 -6.4-4.9 -6.4-4.8 -6.5-4.8 -6.4-4.9 -6.4-4.7 -6.5-4.8M518.4,161.7l7.1-2.5 7.1-2.5 7-2.6 7.1-2.6 6.9-2.7 7-2.7 7-2.8 6.9-2.9 6.9-2.9 6.9-2.9 6.9-3 6.9-3.1 6.8-3.1 6.9-3.2 6.8-3.2 6.8-3.3 6.8-3.3 6.8-3.4 6.8-3.4 6.8-3.5 6.8-3.5 6.7-3.6 6.8-3.7 6.7-3.7M720.1,194.5l-6.3-5.1 -6.3-5.1 -6.3-5.1 -6.4-5.1 -6.3-5.1 -6.4-5 -6.3-5 -6.4-5.1 -6.4-5 -6.3-4.9 -6.4-5 -6.4-5 -6.4-4.9 -6.4-4.9 -6.4-4.9 -6.4-4.9 -6.4-4.9 -6.4-4.9 -6.5-4.8 -6.4-4.8 -6.4-4.8 -6.4-4.8 -6.5-4.8 -6.4-4.8M516.4,160.1l7.1-2.5 7-2.5 7.1-2.6 7-2.6 7-2.7 7-2.7 6.9-2.8 7-2.9 6.9-2.8 6.9-3 6.9-3 6.9-3 6.8-3.2 6.9-3.1 6.8-3.2 6.8-3.3 6.8-3.3 6.8-3.4 6.8-3.4 6.8-3.5 6.7-3.6 6.8-3.6 6.8-3.6 6.7-3.7M722.2,193.4l-6.3-5.1 -6.3-5.1 -6.3-5.1 -6.3-5.1 -6.4-5 -6.3-5.1 -6.4-5 -6.4-5 -6.3-5 -6.4-5 -6.4-5 -6.4-4.9 -6.3-4.9 -6.4-5 -6.4-4.9 -6.5-4.8 -6.4-4.9 -6.4-4.9 -6.4-4.8 -6.4-4.8 -6.4-4.8 -6.5-4.8 -6.4-4.8 -6.4-4.8M514.3,158.4l7.1-2.4 7.1-2.5 7-2.6 7.1-2.6 7-2.7 7-2.7 6.9-2.8 7-2.8 6.9-2.9 6.9-3 6.9-3 6.8-3 6.9-3.1 6.8-3.2 6.9-3.2 6.8-3.2 6.8-3.4 6.8-3.3 6.8-3.5 6.8-3.4 6.7-3.6 6.8-3.6 6.8-3.6 6.7-3.7M724.3,192.3l-6.3-5.1 -6.3-5.1 -6.3-5.1 -6.3-5.1 -6.4-5 -6.3-5.1 -6.4-5 -6.3-5 -6.4-5 -6.3-5 -6.4-4.9 -6.4-5 -6.4-4.9 -6.4-4.9 -6.4-4.9 -6.4-4.9 -6.4-4.8 -6.4-4.9 -6.4-4.8 -6.5-4.8 -6.4-4.9 -6.4-4.7 -6.4-4.8 -6.5-4.8M512.3,156.8l7.1-2.4 7.1-2.6 7-2.5 7-2.6 7-2.7 7-2.7 7-2.8 6.9-2.8 6.9-2.9 6.9-2.9 6.9-3 6.9-3.1 6.9-3.1 6.8-3.1 6.8-3.2 6.9-3.3 6.8-3.3 6.8-3.4 6.8-3.4 6.7-3.5 6.8-3.5 6.8-3.6 6.8-3.6 6.7-3.7M726.5,191.1l-6.3-5.1 -6.3-5 -6.4-5.1 -6.3-5.1 -6.3-5 -6.4-5.1 -6.3-5 -6.4-5 -6.3-5 -6.4-4.9 -6.4-5 -6.4-4.9 -6.4-4.9 -6.3-4.9 -6.4-4.9 -6.4-4.9 -6.5-4.9 -6.4-4.8 -6.4-4.9 -6.4-4.8 -6.4-4.8 -6.5-4.7 -6.4-4.8 -6.4-4.8M510.2,155.2l7.1-2.5 7.1-2.5 7.1-2.5 7-2.6 7-2.7 7-2.7 6.9-2.8 7-2.8 6.9-2.9 6.9-2.9 6.9-3 6.9-3 6.8-3.1 6.9-3.2 6.8-3.2 6.8-3.2 6.8-3.3 6.8-3.4 6.8-3.4 6.8-3.5 6.8-3.5 6.8-3.6 6.7-3.6 6.8-3.7M728.6,190l-6.3-5.1 -6.3-5.1 -6.3-5 -6.4-5.1 -6.3-5 -6.3-5.1 -6.4-5 -6.3-5 -6.4-4.9 -6.4-5 -6.3-5 -6.4-4.9 -6.4-4.9 -6.4-4.9 -6.4-4.9 -6.4-4.9 -6.4-4.8 -6.4-4.9 -6.4-4.8 -6.4-4.8 -6.5-4.8 -6.4-4.8 -6.4-4.7 -6.5-4.8M508.2,153.6l7.1-2.5 7.1-2.5 7-2.5 7-2.6 7.1-2.7 6.9-2.7 7-2.8 6.9-2.8 7-2.8 6.9-3 6.9-2.9 6.8-3.1 6.9-3.1 6.9-3.1 6.8-3.2 6.8-3.3 6.8-3.3 6.8-3.3 6.8-3.4 6.8-3.5 6.8-3.5 6.8-3.6 6.7-3.6 6.8-3.7M730.7,188.9l-6.3-5.1 -6.3-5.1 -6.3-5 -6.3-5.1 -6.4-5 -6.3-5.1 -6.4-5 -6.3-4.9 -6.4-5 -6.3-5 -6.4-4.9 -6.4-5 -6.4-4.9 -6.4-4.9 -6.3-4.8 -6.4-4.9 -6.5-4.9 -6.4-4.8 -6.4-4.8 -6.4-4.8 -6.4-4.8 -6.4-4.8 -6.5-4.7 -6.4-4.8M506.1,151.9l7.1-2.4 7.1-2.5 7.1-2.5 7-2.6 7-2.7 7-2.7 7-2.7 6.9-2.8 6.9-2.9 6.9-2.9 6.9-3 6.9-3 6.9-3.1 6.8-3.2 6.9-3.1 6.8-3.3 6.8-3.3 6.8-3.3 6.8-3.4 6.8-3.5 6.8-3.5 6.7-3.6 6.8-3.6 6.8-3.7M732.8,187.8l-6.3-5.1 -6.3-5.1 -6.3-5.1 -6.3-5 -6.3-5 -6.4-5.1 -6.3-5 -6.4-4.9 -6.3-5 -6.4-5 -6.4-4.9 -6.3-4.9 -6.4-4.9 -6.4-4.9 -6.4-4.9 -6.4-4.9 -6.4-4.8 -6.4-4.8 -6.4-4.8 -6.4-4.8 -6.5-4.8 -6.4-4.8 -6.4-4.7 -6.4-4.8M504.1,150.3l7.1-2.4 7.1-2.5 7-2.5 7.1-2.6 7-2.7 7-2.7 6.9-2.7 7-2.8 6.9-2.9 6.9-2.9 6.9-3 6.9-3 6.9-3.1 6.8-3.1 6.8-3.2 6.9-3.2 6.8-3.3 6.8-3.4 6.8-3.4 6.8-3.4 6.7-3.5 6.8-3.6 6.8-3.6 6.8-3.7M734.9,186.6l-6.3-5.1 -6.3-5 -6.3-5.1 -6.3-5 -6.3-5.1 -6.3-5 -6.4-5 -6.3-4.9 -6.4-5 -6.4-5 -6.3-4.9 -6.4-4.9 -6.4-4.9 -6.4-4.9 -6.4-4.9 -6.4-4.8 -6.4-4.9 -6.4-4.8 -6.4-4.8 -6.4-4.8 -6.4-4.8 -6.4-4.7 -6.5-4.8 -6.4-4.7M502,148.7l7.2-2.4 7-2.5 7.1-2.5 7-2.6 7-2.7 7-2.6 7-2.8 6.9-2.8 7-2.9 6.9-2.9 6.9-2.9 6.9-3 6.8-3.1 6.9-3.1 6.8-3.2 6.8-3.2 6.9-3.3 6.8-3.4 6.8-3.4 6.7-3.4 6.8-3.5 6.8-3.6 6.8-3.6 6.7-3.7M737,185.5l-6.3-5.1 -6.3-5.1 -6.3-5 -6.3-5.1 -6.3-5 -6.3-5 -6.4-5 -6.3-4.9 -6.4-5 -6.3-4.9 -6.4-5 -6.4-4.9 -6.3-4.9 -6.4-4.9 -6.4-4.8 -6.4-4.9 -6.4-4.8 -6.4-4.8 -6.4-4.8 -6.4-4.8 -6.5-4.8 -6.4-4.8 -6.4-4.7 -6.4-4.7M500,147.1l7.1-2.4 7.1-2.5 7-2.5 7.1-2.6 7-2.6 7-2.7 7-2.8 6.9-2.8 6.9-2.8 7-2.9 6.8-3 6.9-3 6.9-3.1 6.8-3.1 6.9-3.2 6.8-3.2 6.8-3.3 6.8-3.3 6.8-3.4 6.8-3.4 6.8-3.5 6.8-3.6 6.8-3.6 6.7-3.6M739.1,184.3l-6.2-5.1 -6.3-5 -6.3-5.1 -6.3-5 -6.4-5 -6.3-5 -6.3-5 -6.4-5 -6.3-4.9 -6.4-4.9 -6.3-5 -6.4-4.9 -6.4-4.9 -6.4-4.8 -6.4-4.9 -6.4-4.9 -6.4-4.8 -6.4-4.8 -6.4-4.8 -6.4-4.8 -6.4-4.7 -6.4-4.8 -6.5-4.7 -6.4-4.8M498,145.5l7.1-2.4 7-2.5 7.1-2.5 7-2.6 7.1-2.6 6.9-2.7 7-2.7 7-2.8 6.9-2.9 6.9-2.9 6.9-2.9 6.9-3 6.9-3.1 6.8-3.1 6.9-3.2 6.8-3.2 6.8-3.3 6.8-3.3 6.8-3.4 6.8-3.4 6.8-3.5 6.8-3.6 6.7-3.6 6.8-3.6M741.2,183.2l-6.2-5.1 -6.3-5.1 -6.3-5 -6.3-5 -6.3-5 -6.4-5 -6.3-5 -6.3-5 -6.4-4.9 -6.3-5 -6.4-4.9 -6.4-4.9 -6.4-4.9 -6.3-4.8 -6.4-4.9 -6.4-4.8 -6.4-4.9 -6.4-4.8 -6.4-4.8 -6.4-4.7 -6.5-4.8 -6.4-4.7 -6.4-4.8 -6.4-4.7M495.9,143.9l7.1-2.4 7.1-2.5 7.1-2.5 7-2.6 7-2.6 7-2.7 7-2.7 6.9-2.8 7-2.8 6.9-2.9 6.9-3 6.9-3 6.8-3 6.9-3.1 6.8-3.2 6.9-3.2 6.8-3.3 6.8-3.3 6.8-3.4 6.8-3.4 6.8-3.5 6.7-3.6 6.8-3.6 6.8-3.6M743.4,182l-6.3-5.1 -6.3-5 -6.3-5 -6.3-5.1 -6.3-5 -6.3-5 -6.4-4.9 -6.3-5 -6.4-4.9 -6.3-5 -6.4-4.9 -6.3-4.9 -6.4-4.9 -6.4-4.8 -6.4-4.9 -6.4-4.8 -6.4-4.8 -6.4-4.8 -6.4-4.8 -6.4-4.8 -6.4-4.7 -6.4-4.8 -6.5-4.7 -6.4-4.7M493.9,142.2l7.1-2.4 7.1-2.4 7-2.5 7.1-2.6 7-2.6 7-2.7 6.9-2.7 7-2.8 6.9-2.8 7-2.9 6.9-2.9 6.8-3 6.9-3.1 6.9-3.1 6.8-3.1 6.8-3.3 6.9-3.2 6.8-3.3 6.8-3.4 6.8-3.4 6.7-3.5 6.8-3.6 6.8-3.6 6.8-3.6M745.5,180.8l-6.3-5 -6.3-5.1 -6.3-5 -6.3-5 -6.3-5 -6.3-5 -6.3-5 -6.4-4.9 -6.3-5 -6.4-4.9 -6.3-4.9 -6.4-4.9 -6.4-4.9 -6.4-4.8 -6.3-4.9 -6.4-4.8 -6.4-4.8 -6.4-4.8 -6.4-4.8 -6.4-4.8 -6.5-4.7 -6.4-4.7 -6.4-4.8 -6.4-4.7M491.8,140.6l7.1-2.4 7.1-2.4 7.1-2.5 7-2.6 7-2.6 7-2.6 7-2.8 7-2.7 6.9-2.9 6.9-2.8 6.9-3 6.9-3 6.9-3 6.8-3.1 6.9-3.2 6.8-3.2 6.8-3.2 6.8-3.4 6.8-3.3 6.8-3.4 6.8-3.5 6.8-3.6 6.8-3.5 6.8-3.7M747.6,179.7l-6.3-5.1 -6.3-5 -6.3-5.1 -6.3-5 -6.3-5 -6.3-4.9 -6.3-5 -6.4-5 -6.3-4.9 -6.3-4.9 -6.4-4.9 -6.4-4.9 -6.3-4.9 -6.4-4.8 -6.4-4.9 -6.4-4.8 -6.4-4.8 -6.4-4.8 -6.4-4.8 -6.4-4.7 -6.4-4.8 -6.4-4.7 -6.5-4.7 -6.4-4.7M489.8,139l7.1-2.4 7.1-2.4 7-2.5 7.1-2.5 7-2.7 7-2.6 7-2.7 6.9-2.8 7-2.8 6.9-2.9 6.9-2.9 6.9-3 6.8-3.1 6.9-3 6.8-3.2 6.9-3.2 6.8-3.3 6.8-3.3 6.8-3.3 6.8-3.4 6.8-3.5 6.8-3.5 6.8-3.6 6.7-3.7M749.7,178.5l-6.3-5.1 -6.3-5 -6.3-5 -6.2-5 -6.4-5 -6.3-5 -6.3-4.9 -6.3-5 -6.4-4.9 -6.3-4.9 -6.4-4.9 -6.3-4.9 -6.4-4.9 -6.4-4.8 -6.4-4.9 -6.3-4.8 -6.4-4.8 -6.4-4.8 -6.4-4.7 -6.4-4.8 -6.5-4.7 -6.4-4.8 -6.4-4.7 -6.4-4.7M487.7,137.4l7.1-2.4 7.1-2.4 7.1-2.5 7-2.5 7.1-2.6 7-2.7 6.9-2.7 7-2.8 6.9-2.8 7-2.8 6.9-3 6.8-3 6.9-3 6.9-3.1 6.8-3.1 6.9-3.2 6.8-3.3 6.8-3.3 6.8-3.3 6.8-3.4 6.8-3.5 6.8-3.5 6.7-3.6 6.8-3.6M751.8,177.3l-6.3-5 -6.3-5.1 -6.2-5 -6.3-5 -6.3-5 -6.3-4.9 -6.4-5 -6.3-4.9 -6.3-5 -6.4-4.9 -6.3-4.9 -6.4-4.8 -6.4-4.9 -6.3-4.8 -6.4-4.9 -6.4-4.8 -6.4-4.8 -6.4-4.8 -6.4-4.7 -6.4-4.8 -6.4-4.7 -6.4-4.7 -6.5-4.7 -6.4-4.7M485.7,135.8l7.1-2.4 7.1-2.4 7.1-2.5 7-2.5 7-2.6 7-2.7 7-2.7 7-2.7 6.9-2.8 6.9-2.9 6.9-2.9 6.9-3 6.9-3 6.8-3.1 6.9-3.1 6.8-3.2 6.8-3.3 6.9-3.3 6.8-3.3 6.8-3.4 6.8-3.5 6.7-3.5 6.8-3.6 6.8-3.6M753.9,176.1l-6.3-5 -6.2-5 -6.3-5.1 -6.3-5 -6.3-4.9 -6.3-5 -6.3-4.9 -6.4-5 -6.3-4.9 -6.3-4.9 -6.4-4.9 -6.4-4.9 -6.3-4.8 -6.4-4.9 -6.4-4.8 -6.4-4.8 -6.4-4.8 -6.3-4.8 -6.5-4.7 -6.4-4.8 -6.4-4.7 -6.4-4.7 -6.4-4.7 -6.4-4.7M483.6,134.2l7.2-2.4 7-2.4 7.1-2.5 7.1-2.5 7-2.6 7-2.6 7-2.7 6.9-2.8 7-2.8 6.9-2.8 6.9-3 6.9-2.9 6.9-3.1 6.8-3 6.9-3.2 6.8-3.2 6.8-3.2 6.8-3.3 6.8-3.3 6.8-3.4 6.8-3.5 6.8-3.5 6.8-3.6 6.8-3.6M756,174.9l-6.3-5 -6.2-5 -6.3-5 -6.3-5 -6.3-5 -6.3-5 -6.3-4.9 -6.3-4.9 -6.4-4.9 -6.3-4.9 -6.4-4.9 -6.3-4.9 -6.4-4.8 -6.4-4.9 -6.3-4.8 -6.4-4.8 -6.4-4.8 -6.4-4.8 -6.4-4.7 -6.4-4.8 -6.4-4.7 -6.4-4.7 -6.5-4.7 -6.4-4.7M481.6,132.6l7.1-2.3 7.1-2.5 7.1-2.4 7-2.6 7-2.6 7-2.6 7-2.7 7-2.7 6.9-2.8 6.9-2.9 7-2.9 6.8-3 6.9-3 6.9-3.1 6.8-3.1 6.9-3.2 6.8-3.2 6.8-3.3 6.8-3.3 6.8-3.4 6.8-3.5 6.8-3.5 6.8-3.6 6.7-3.6M758.1,173.7l-6.3-5 -6.2-5 -6.3-5 -6.3-5 -6.3-5 -6.3-4.9 -6.3-5 -6.3-4.9 -6.3-4.9 -6.4-4.9 -6.3-4.9 -6.4-4.8 -6.4-4.9 -6.3-4.8 -6.4-4.8 -6.4-4.8 -6.4-4.8 -6.4-4.8 -6.4-4.7 -6.4-4.8 -6.4-4.7 -6.4-4.7 -6.4-4.7 -6.4-4.7M479.5,131l7.2-2.3 7.1-2.5 7-2.4 7.1-2.6 7-2.5 7-2.7 7-2.7 6.9-2.7 7-2.8 6.9-2.8 6.9-2.9 6.9-3 6.9-3 6.9-3.1 6.8-3.1 6.8-3.2 6.9-3.2 6.8-3.3 6.8-3.3 6.8-3.4 6.8-3.5 6.8-3.5 6.7-3.5 6.8-3.6M760.2,172.5l-6.2-5 -6.3-5 -6.3-5 -6.3-5 -6.3-5 -6.3-4.9 -6.3-4.9 -6.3-5 -6.3-4.9 -6.4-4.8 -6.3-4.9 -6.4-4.9 -6.3-4.8 -6.4-4.8 -6.4-4.9 -6.3-4.7 -6.4-4.8 -6.4-4.8 -6.4-4.7 -6.4-4.8 -6.4-4.7 -6.5-4.7 -6.4-4.7 -6.4-4.6M477.5,129.4l7.1-2.3 7.1-2.4 7.1-2.5 7-2.5 7.1-2.6 7-2.6 6.9-2.7 7-2.7 7-2.8 6.9-2.9 6.9-2.9 6.9-2.9 6.9-3 6.8-3.1 6.9-3.1 6.8-3.2 6.8-3.2 6.9-3.3 6.8-3.3 6.8-3.4 6.8-3.5 6.7-3.5 6.8-3.5 6.8-3.6M762.3,171.3l-6.2-5 -6.3-5 -6.3-5 -6.2-5 -6.3-4.9 -6.3-5 -6.3-4.9 -6.4-4.9 -6.3-4.9 -6.3-4.9 -6.4-4.9 -6.3-4.8 -6.4-4.9 -6.4-4.8 -6.3-4.8 -6.4-4.8 -6.4-4.7 -6.4-4.8 -6.4-4.7 -6.4-4.8 -6.4-4.7 -6.4-4.7 -6.4-4.7 -6.5-4.6M475.5,127.8l7.1-2.3 7.1-2.4 7-2.5 7.1-2.5 7-2.6 7-2.6 7-2.7 7-2.7 6.9-2.8 6.9-2.8 7-2.9 6.8-3 6.9-3 6.9-3 6.8-3.1 6.9-3.2 6.8-3.2 6.8-3.3 6.8-3.3 6.8-3.4 6.8-3.4 6.8-3.5 6.8-3.6 6.8-3.6M764.4,170.1l-6.2-5 -6.3-5 -6.3-5 -6.2-5 -6.3-4.9 -6.3-5 -6.3-4.9 -6.3-4.9 -6.4-4.9 -6.3-4.9 -6.3-4.8 -6.4-4.9 -6.4-4.8 -6.3-4.8 -6.4-4.8 -6.4-4.8 -6.4-4.8 -6.3-4.7 -6.4-4.8 -6.4-4.7 -6.5-4.7 -6.4-4.7 -6.4-4.7 -6.4-4.6M473.4,126.2l7.1-2.3 7.1-2.4 7.1-2.5 7.1-2.5 7-2.5 7-2.7 7-2.6 6.9-2.7 7-2.8 6.9-2.9 6.9-2.9 6.9-2.9 6.9-3 6.9-3 6.8-3.2 6.8-3.1 6.9-3.2 6.8-3.3 6.8-3.3 6.8-3.4 6.8-3.4 6.8-3.5 6.8-3.6 6.7-3.6M766.5,168.9l-6.2-5 -6.3-5 -6.2-5 -6.3-5 -6.3-4.9 -6.3-5 -6.3-4.9 -6.3-4.9 -6.3-4.9 -6.4-4.8 -6.3-4.9 -6.4-4.8 -6.3-4.9 -6.4-4.8 -6.4-4.8 -6.3-4.7 -6.4-4.8 -6.4-4.8 -6.4-4.7 -6.4-4.7 -6.4-4.7 -6.4-4.7 -6.4-4.7 -6.5-4.6M471.4,124.6l7.1-2.3 7.1-2.4 7.1-2.4 7-2.5 7-2.6 7.1-2.6 6.9-2.7 7-2.7 6.9-2.8 7-2.8 6.9-2.9 6.9-2.9 6.9-3 6.8-3.1 6.9-3.1 6.8-3.1 6.8-3.2 6.9-3.3 6.8-3.3 6.8-3.4 6.8-3.4 6.8-3.5 6.7-3.5 6.8-3.6M768.6,167.7l-6.2-5 -6.3-5 -6.2-5 -6.3-5 -6.3-4.9 -6.3-4.9 -6.3-5 -6.3-4.9 -6.3-4.8 -6.3-4.9 -6.4-4.9 -6.3-4.8 -6.4-4.8 -6.3-4.8 -6.4-4.8 -6.4-4.8 -6.4-4.8 -6.4-4.7 -6.4-4.7 -6.4-4.7 -6.4-4.7 -6.4-4.7 -6.4-4.7 -6.4-4.6M469.3,123l7.1-2.3 7.1-2.4 7.1-2.4 7.1-2.5 7-2.6 7-2.6 7-2.6 7-2.7 6.9-2.8 6.9-2.8 7-2.9 6.8-2.9 6.9-3 6.9-3.1 6.8-3.1 6.9-3.1 6.8-3.2 6.8-3.3 6.8-3.3 6.9-3.4 6.7-3.4 6.8-3.5 6.8-3.5 6.8-3.6M770.7,166.4l-6.2-5 -6.3-5 -6.2-4.9 -6.3-5 -6.3-4.9 -6.3-4.9 -6.3-5 -6.3-4.9 -6.3-4.8 -6.3-4.9 -6.4-4.8 -6.3-4.9 -6.4-4.8 -6.3-4.8 -6.4-4.8 -6.4-4.7 -6.3-4.8 -6.4-4.7 -6.4-4.8 -6.4-4.7 -6.4-4.7 -6.4-4.6 -6.5-4.7 -6.4-4.6M467.3,121.4l7.1-2.3 7.1-2.4 7.1-2.4 7-2.5 7.1-2.5 7-2.6 7-2.7 6.9-2.7 7-2.8 6.9-2.8 6.9-2.8 6.9-3 6.9-3 6.9-3 6.8-3.1 6.9-3.1 6.8-3.2 6.8-3.3 6.8-3.3 6.8-3.4 6.8-3.4 6.8-3.4 6.8-3.6 6.8-3.5M772.8,165.2l-6.2-5 -6.3-5 -6.2-4.9 -6.3-5 -6.3-4.9 -6.2-5 -6.3-4.9 -6.4-4.8 -6.3-4.9 -6.3-4.9 -6.3-4.8 -6.4-4.8 -6.3-4.9 -6.4-4.8 -6.3-4.7 -6.4-4.8 -6.4-4.7 -6.4-4.8 -6.4-4.7 -6.4-4.7 -6.4-4.7 -6.4-4.7 -6.4-4.6 -6.4-4.6M465.2,119.9l7.2-2.4 7.1-2.3 7-2.5 7.1-2.5 7-2.5 7-2.6 7-2.6 7-2.7 6.9-2.8 7-2.8 6.9-2.9 6.9-2.9 6.9-3 6.8-3 6.9-3.1 6.8-3.1 6.9-3.2 6.8-3.3 6.8-3.3 6.8-3.3 6.8-3.4 6.8-3.5 6.8-3.5 6.7-3.6M774.9,164l-6.2-5 -6.2-5 -6.3-5 -6.3-4.9 -6.2-4.9 -6.3-5 -6.3-4.9 -6.3-4.8 -6.3-4.9 -6.4-4.9 -6.3-4.8 -6.3-4.8 -6.4-4.8 -6.3-4.8 -6.4-4.8 -6.4-4.8 -6.4-4.7 -6.3-4.7 -6.4-4.7 -6.4-4.7 -6.4-4.7 -6.5-4.7 -6.4-4.6 -6.4-4.7M463.2,118.3l7.1-2.3 7.1-2.4 7.1-2.4 7.1-2.5 7-2.5 7-2.6 7-2.7 7-2.7 6.9-2.7 6.9-2.8 6.9-2.9 6.9-2.9 6.9-3 6.9-3 6.9-3.1 6.8-3.1 6.8-3.2 6.8-3.3 6.9-3.3 6.8-3.3 6.8-3.4 6.8-3.5 6.7-3.5 6.8-3.6M777,162.7l-6.2-5 -6.2-4.9 -6.3-5 -6.3-4.9 -6.2-5 -6.3-4.9 -6.3-4.9 -6.3-4.9 -6.3-4.8 -6.3-4.9 -6.4-4.8 -6.3-4.8 -6.4-4.8 -6.3-4.8 -6.4-4.8 -6.3-4.7 -6.4-4.8 -6.4-4.7 -6.4-4.7 -6.4-4.7 -6.4-4.7 -6.4-4.6 -6.4-4.7 -6.5-4.6M461.2,116.7l7.1-2.3 7.1-2.4 7.1-2.4 7-2.5 7.1-2.5 7-2.6 7-2.6 6.9-2.7 7-2.8 6.9-2.8 6.9-2.8 6.9-2.9 6.9-3 6.9-3 6.8-3.1 6.9-3.1 6.8-3.2 6.8-3.3 6.8-3.2 6.8-3.4 6.8-3.4 6.8-3.5 6.8-3.5 6.8-3.5M779.1,161.5l-6.2-5 -6.2-5 -6.3-4.9 -6.2-5 -6.3-4.9 -6.3-4.9 -6.3-4.9 -6.3-4.9 -6.3-4.8 -6.3-4.9 -6.3-4.8 -6.4-4.8 -6.3-4.8 -6.4-4.8 -6.3-4.7 -6.4-4.8 -6.4-4.7 -6.4-4.7 -6.4-4.8 -6.4-4.6 -6.4-4.7 -6.4-4.7 -6.4-4.6 -6.4-4.6" fill="none" stroke="#000000" stroke-width="0.5"/>
<polygon points="616.6,241.7 618.8,240.8 621,239.9 623.2,239.1 625.4,238.2 627.6,237.3 629.8,236.4 632,235.5 634.2,234.6 636.4,233.7 638.5,232.8 640.7,231.9 642.9,231 645.1,230 647.3,229.1 649.4,228.2 651.6,227.2 653.8,226.3 655.9,225.4 658.1,224.4 660.3,223.4 662.4,222.5 664.6,221.5 666.7,220.5 668.9,219.5 671,218.6 673.2,217.6 675.3,216.6 677.5,215.6 679.6,214.6 681.8,213.6 683.9,212.5 686.1,211.5 688.2,210.5 690.3,209.5 692.5,208.4 694.6,207.4 696.7,206.3 698.9,205.3 701,204.2 703.1,203.2 705.3,202.1 707.4,201 709.5,200 711.6,198.9 713.7,197.8 715.9,196.7 718,195.6 720.1,194.5 722.2,193.4 724.3,192.3 726.5,191.1 728.6,190 730.7,188.9 732.8,187.8 734.9,186.6 737,185.5 739.1,184.3 741.2,183.2 743.4,182 745.5,180.8 747.6,179.7 749.7,178.5 751.8,177.3 753.9,176.1 756,174.9 758.1,173.7 760.2,172.5 762.3,171.3 764.4,170.1 766.5,168.9 768.6,167.7 770.7,166.4 772.8,165.2 774.9,164 777,162.7 779.1,161.5 779.1,161.5 777.2,159.9 775.2,158.3 773.2,156.7 771.3,155.2 769.3,153.6 767.3,152 765.4,150.5 763.4,148.9 761.4,147.3 759.4,145.8 757.5,144.2 755.5,142.7 753.5,141.1 751.5,139.6 749.5,138 747.6,136.4 745.6,134.9 743.6,133.3 741.6,131.8 739.6,130.3 737.6,128.7 735.6,127.2 733.7,125.6 731.7,124.1 729.7,122.5 727.7,121 725.7,119.5 723.7,117.9 721.7,116.4 719.7,114.9 717.7,113.4 715.7,111.8 713.7,110.3 711.7,108.8 709.7,107.3 707.7,105.7 705.7,104.2 703.7,102.7 701.7,101.2 699.7,99.7 697.7,98.1 695.7,96.6 693.7,95.1 691.7,93.6 689.7,92.1 687.7,90.6 685.7,89.1 683.6,87.6 681.6,86.1 679.6,84.6 677.6,83.1 675.6,81.6 673.6,80.1 671.6,78.6 669.6,77.1 667.5,75.6 665.5,74.2 663.5,72.7 661.5,71.2 659.5,69.7 657.5,68.2 655.4,66.7 653.4,65.3 651.4,63.8 649.4,62.3 647.3,60.8 645.3,59.4 643.3,57.9 641.3,56.4 639.2,54.9 637.2,53.5 635.2,52 633.2,50.6 631.1,49.1 629.1,47.6 627.1,46.2 627.1,46.2 624.9,47.3 622.8,48.4 620.7,49.6 618.5,50.7 616.4,51.8 614.2,52.9 612.1,54 609.9,55.1 607.8,56.2 605.7,57.2 603.5,58.3 601.4,59.4 599.2,60.5 597.1,61.5 594.9,62.6 592.8,63.6 590.6,64.7 588.5,65.7 586.3,66.7 584.2,67.8 582,68.8 579.9,69.8 577.7,70.8 575.5,71.8 573.4,72.8 571.2,73.8 569.1,74.8 566.9,75.8 564.7,76.8 562.6,77.8 560.4,78.7 558.2,79.7 556.1,80.7 553.9,81.6 551.7,82.6 549.6,83.5 547.4,84.4 545.2,85.4 543,86.3 540.9,87.2 538.7,88.1 536.5,89 534.3,89.9 532.1,90.8 529.9,91.7 527.8,92.6 525.6,93.5 523.4,94.4 521.2,95.2 519,96.1 516.8,97 514.6,97.8 512.4,98.7 510.2,99.5 508,100.3 505.8,101.2 503.6,102 501.4,102.8 499.1,103.6 496.9,104.5 494.7,105.3 492.5,106.1 490.3,106.9 488,107.6 485.8,108.4 483.6,109.2 481.3,110 479.1,110.7 476.9,111.5 474.6,112.3 472.4,113 470.2,113.8 467.9,114.5 465.7,115.2 463.4,116 461.2,116.7 461.2,116.7 463.2,118.3 465.2,119.9 467.3,121.4 469.3,123 471.4,124.6 473.4,126.2 475.5,127.8 477.5,129.4 479.5,131 481.6,132.6 483.6,134.2 485.7,135.8 487.7,137.4 489.8,139 491.8,140.6 493.9,142.2 495.9,143.9 498,145.5 500,147.1 502,148.7 504.1,150.3 506.1,151.9 508.2,153.6 510.2,155.2 512.3,156.8 514.3,158.4 516.4,160.1 518.4,161.7 520.5,163.3 522.5,164.9 524.6,166.6 526.6,168.2 528.7,169.9 530.7,171.5 532.8,173.1 534.8,174.8 536.8,176.4 538.9,178.1 540.9,179.7 543,181.3 545,183 547.1,184.6 549.1,186.3 551.2,188 553.2,189.6 555.3,191.3 557.3,192.9 559.4,194.6 561.4,196.2 563.5,197.9 565.5,199.6 567.6,201.2 569.6,202.9 571.6,204.6 573.7,206.2 575.7,207.9 577.8,209.6 579.8,211.3 581.9,212.9 583.9,214.6 586,216.3 588,218 590,219.6 592.1,221.3 594.1,223 596.2,224.7 598.2,226.4 600.3,228.1 602.3,229.8 604.4,231.5 606.4,233.2 608.4,234.9 610.5,236.6 612.5,238.3 614.6,240 616.6,241.7" fill="none" stroke="#000000" stroke-width="0.8"/>
<circle cx="460.5" cy="114.9" r="3.1" fill="#555" stroke="#1e1e1e" stroke-width="0.7"/>
<circle cx="627.0" cy="45.6" r="3.1" fill="#555" stroke="#1e1e1e" stroke-width="0.7"/>
<line x1="621.7" y1="132.2" x2="621.7" y2="129.3" stroke="#222" stroke-width="0.8"/>
<circle cx="621.7" cy="135.2" r="2.9" fill="#6e6e6e" stroke="#151515" stroke-width="0.9"/>
<circle cx="458" cy="93.9" r="1.2" fill="#000"/>
<text x="451.5" y="91.9" text-anchor="end" class="t">7.6</text>
<circle cx="461.2" cy="116.7" r="1.2" fill="#000"/>
<text x="454.7" y="114.7" text-anchor="end" class="t">7.28</text>
<circle cx="464.3" cy="139.5" r="1.2" fill="#000"/>
<text x="457.8" y="137.5" text-anchor="end" class="t">6.96</text>
<circle cx="467.5" cy="162.3" r="1.2" fill="#000"/>
<text x="461" y="160.3" text-anchor="end" class="t">6.64</text>
<circle cx="470.6" cy="185" r="1.2" fill="#000"/>
<text x="464.1" y="183" text-anchor="end" class="t">6.32</text>
<circle cx="473.8" cy="207.8" r="1.2" fill="#000"/>
<text x="467.3" y="205.8" text-anchor="end" class="t">6</text>
<circle cx="616.6" cy="360.5" r="1.2" fill="#000"/>
<text x="611.6" y="373.7" text-anchor="end" class="t2">14.00</text>
<circle cx="582" cy="330.6" r="1.2" fill="#000"/>
<text x="577" y="343.8" text-anchor="end" class="t2">14.50</text>
<circle cx="547.5" cy="300.7" r="1.2" fill="#000"/>
<text x="542.5" y="313.9" text-anchor="end" class="t2">15.00</text>
<circle cx="513" cy="270.8" r="1.2" fill="#000"/>
<text x="508" y="284" text-anchor="end" class="t2">15.50</text>
<circle cx="478.4" cy="240.9" r="1.2" fill="#000"/>
<text x="473.4" y="254.1" text-anchor="end" class="t2">16.00</text>
<circle cx="616.6" cy="360.5" r="1.2" fill="#000"/>
<text x="621.9" y="373.7" text-anchor="start" class="t2">8.00</text>
<circle cx="654" cy="332.3" r="1.2" fill="#000"/>
<text x="659.3" y="345.5" text-anchor="start" class="t2">12.00</text>
<circle cx="691.4" cy="304.1" r="1.2" fill="#000"/>
<text x="696.7" y="317.2" text-anchor="start" class="t2">16.00</text>
<circle cx="728.8" cy="275.8" r="1.2" fill="#000"/>
<text x="734.1" y="289" text-anchor="start" class="t2">20.00</text>
<circle cx="766.2" cy="247.6" r="1.2" fill="#000"/>
<text x="771.5" y="260.8" text-anchor="start" class="t2">24.00</text>
<line x1="483.8" y1="243.8" x2="552" y2="303.8" stroke="#9a9a9a" stroke-width="0.7"/>
<text x="46" y="349.2" class="t3">Screw speed, rpm</text>
<text x="300.6" y="349.1" class="t3">Banana pulp, g</text>
<text x="454.6" y="347.2" class="t3">Feed moisture, %</text>
<text x="708.4" y="353.7" class="t3">Banana pulp, g</text>
<text transform="translate(9.4,249.6) rotate(-90)" class="t4">Overall acceptability</text>
<text transform="translate(422,236.1) rotate(-90)" class="t5">Overall acceptability</text>
<text transform="translate(0.2,17.1) scale(1.1,1)" class="lab">(a)</text>
<text transform="translate(413.2,17.1) scale(1.1,1)" class="lab">(b)</text>
</svg>
</body></html>
